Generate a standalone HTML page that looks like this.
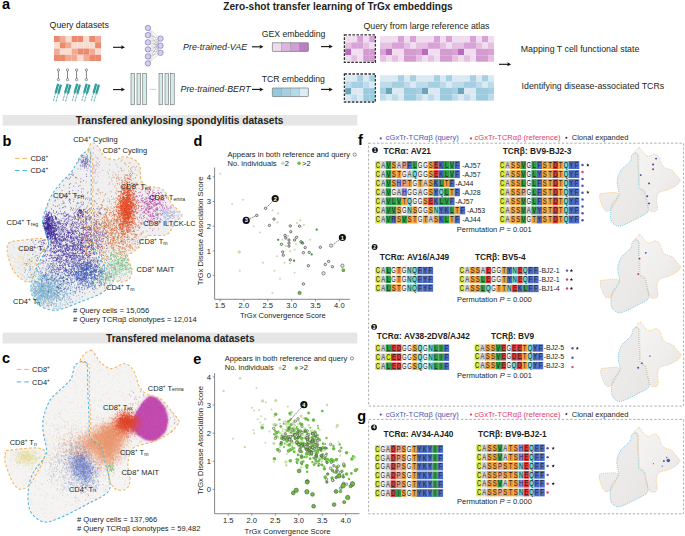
<!DOCTYPE html><html><head><meta charset="utf-8"><style>html,body{margin:0;padding:0;background:#fff;}svg{display:block;}text{font-family:"Liberation Sans", sans-serif;}</style></head><body><svg width="685" height="536" viewBox="0 0 685 536" font-family='"Liberation Sans", sans-serif'><defs><filter id="sh" x="-20%" y="-50%" width="140%" height="200%"><feGaussianBlur stdDeviation="0.6"/></filter><filter id="bl1" x="-50%" y="-50%" width="200%" height="200%"><feGaussianBlur stdDeviation="1.2"/></filter><filter id="bl2" x="-50%" y="-50%" width="200%" height="200%"><feGaussianBlur stdDeviation="2.5"/></filter><filter id="bl4" x="-50%" y="-50%" width="200%" height="200%"><feGaussianBlur stdDeviation="4"/></filter><linearGradient id="mg" x1="0" y1="0" x2="1" y2="1"><stop offset="0" stop-color="#f5f5f4"/><stop offset="0.55" stop-color="#efeeed"/><stop offset="1" stop-color="#e6e4e2"/></linearGradient></defs><text x="2.0" y="8.6" font-size="14.5" font-weight="bold" fill="#000">a</text><text x="223.3" y="9.7" font-size="10.1" font-weight="bold" fill="#231f20">Zero-shot transfer learning of TrGx embeddings</text><text x="49.6" y="27.6" font-size="8.75" fill="#231f20">Query datasets</text><rect x="54.00" y="36.00" width="5.92" height="6.30" fill="#ec8a70"/><rect x="59.88" y="36.00" width="5.92" height="6.30" fill="#f1ab94"/><rect x="65.75" y="36.00" width="5.92" height="6.30" fill="#f7dccf"/><rect x="71.62" y="36.00" width="5.92" height="6.30" fill="#ec8a70"/><rect x="77.50" y="36.00" width="5.92" height="6.30" fill="#ec8a70"/><rect x="83.38" y="36.00" width="5.92" height="6.30" fill="#f7dccf"/><rect x="89.25" y="36.00" width="5.92" height="6.30" fill="#ec8a70"/><rect x="95.12" y="36.00" width="5.92" height="6.30" fill="#f1ab94"/><rect x="54.00" y="42.25" width="5.92" height="6.30" fill="#f7dccf"/><rect x="59.88" y="42.25" width="5.92" height="6.30" fill="#ec8a70"/><rect x="65.75" y="42.25" width="5.92" height="6.30" fill="#f1ab94"/><rect x="71.62" y="42.25" width="5.92" height="6.30" fill="#f7dccf"/><rect x="77.50" y="42.25" width="5.92" height="6.30" fill="#f7dccf"/><rect x="83.38" y="42.25" width="5.92" height="6.30" fill="#f7dccf"/><rect x="89.25" y="42.25" width="5.92" height="6.30" fill="#f7dccf"/><rect x="95.12" y="42.25" width="5.92" height="6.30" fill="#ec8a70"/><rect x="54.00" y="48.50" width="5.92" height="6.30" fill="#f1ab94"/><rect x="59.88" y="48.50" width="5.92" height="6.30" fill="#f7dccf"/><rect x="65.75" y="48.50" width="5.92" height="6.30" fill="#f7dccf"/><rect x="71.62" y="48.50" width="5.92" height="6.30" fill="#f1ab94"/><rect x="77.50" y="48.50" width="5.92" height="6.30" fill="#ec8a70"/><rect x="83.38" y="48.50" width="5.92" height="6.30" fill="#ec8a70"/><rect x="89.25" y="48.50" width="5.92" height="6.30" fill="#f1ab94"/><rect x="95.12" y="48.50" width="5.92" height="6.30" fill="#f7dccf"/><rect x="54.00" y="54.75" width="5.92" height="6.30" fill="#ec8a70"/><rect x="59.88" y="54.75" width="5.92" height="6.30" fill="#ec8a70"/><rect x="65.75" y="54.75" width="5.92" height="6.30" fill="#f1ab94"/><rect x="71.62" y="54.75" width="5.92" height="6.30" fill="#f1ab94"/><rect x="77.50" y="54.75" width="5.92" height="6.30" fill="#f7dccf"/><rect x="83.38" y="54.75" width="5.92" height="6.30" fill="#f1ab94"/><rect x="89.25" y="54.75" width="5.92" height="6.30" fill="#ec8a70"/><rect x="95.12" y="54.75" width="5.92" height="6.30" fill="#ec8a70"/><line x1="58.4" y1="70.5" x2="58.4" y2="79" stroke="#333" stroke-width="0.6"/><circle cx="58.4" cy="70" r="1.15" fill="#fff" stroke="#333" stroke-width="0.5"/><circle cx="58.4" cy="79.6" r="1.15" fill="#fff" stroke="#333" stroke-width="0.5"/><line x1="67.5" y1="70.5" x2="67.5" y2="79" stroke="#333" stroke-width="0.6"/><circle cx="67.5" cy="70" r="1.15" fill="#fff" stroke="#333" stroke-width="0.5"/><circle cx="67.5" cy="79.6" r="1.15" fill="#fff" stroke="#333" stroke-width="0.5"/><line x1="76.6" y1="70.5" x2="76.6" y2="79" stroke="#333" stroke-width="0.6"/><circle cx="76.6" cy="70" r="1.15" fill="#fff" stroke="#333" stroke-width="0.5"/><circle cx="76.6" cy="79.6" r="1.15" fill="#fff" stroke="#333" stroke-width="0.5"/><line x1="86.4" y1="70.5" x2="86.4" y2="79" stroke="#333" stroke-width="0.6"/><circle cx="86.4" cy="70" r="1.15" fill="#fff" stroke="#333" stroke-width="0.5"/><circle cx="86.4" cy="79.6" r="1.15" fill="#fff" stroke="#333" stroke-width="0.5"/><g transform="translate(59.6,84.2) rotate(16)"><rect x="-2.6" y="0" width="2.3" height="9.4" fill="#2f9e9c"/><rect x="0.2" y="0" width="2.3" height="9.4" fill="#2f9e9c"/><path d="M-1.45 9.2v8.4M1.35 9.2v8.4" stroke="#3a9a98" stroke-width="0.75" stroke-dasharray="2.2 0.9"/></g><g transform="translate(69.1,84.2) rotate(16)"><rect x="-2.6" y="0" width="2.3" height="9.4" fill="#2f9e9c"/><rect x="0.2" y="0" width="2.3" height="9.4" fill="#2f9e9c"/><path d="M-1.45 9.2v8.4M1.35 9.2v8.4" stroke="#3a9a98" stroke-width="0.75" stroke-dasharray="2.2 0.9"/></g><g transform="translate(78.6,84.2) rotate(16)"><rect x="-2.6" y="0" width="2.3" height="9.4" fill="#2f9e9c"/><rect x="0.2" y="0" width="2.3" height="9.4" fill="#2f9e9c"/><path d="M-1.45 9.2v8.4M1.35 9.2v8.4" stroke="#3a9a98" stroke-width="0.75" stroke-dasharray="2.2 0.9"/></g><g transform="translate(88.1,84.2) rotate(16)"><rect x="-2.6" y="0" width="2.3" height="9.4" fill="#2f9e9c"/><rect x="0.2" y="0" width="2.3" height="9.4" fill="#2f9e9c"/><path d="M-1.45 9.2v8.4M1.35 9.2v8.4" stroke="#3a9a98" stroke-width="0.75" stroke-dasharray="2.2 0.9"/></g><g transform="translate(97.6,84.2) rotate(16)"><rect x="-2.6" y="0" width="2.3" height="9.4" fill="#2f9e9c"/><rect x="0.2" y="0" width="2.3" height="9.4" fill="#2f9e9c"/><path d="M-1.45 9.2v8.4M1.35 9.2v8.4" stroke="#3a9a98" stroke-width="0.75" stroke-dasharray="2.2 0.9"/></g><line x1="113" y1="47.3" x2="122" y2="47.3" stroke="#111" stroke-width="1.1"/><path d="M125 47.3L121 45.3L121.8 47.3L121 49.3Z" fill="#111"/><line x1="113" y1="89.6" x2="122" y2="89.6" stroke="#111" stroke-width="1.1"/><path d="M125 89.6L121 87.6L121.8 89.6L121 91.6Z" fill="#111"/><line x1="147.9" y1="27.9" x2="160.5" y2="38.6" stroke="#666" stroke-width="0.25"/><line x1="147.9" y1="27.9" x2="160.5" y2="45.7" stroke="#666" stroke-width="0.25"/><line x1="147.9" y1="27.9" x2="160.5" y2="52.8" stroke="#666" stroke-width="0.25"/><line x1="147.9" y1="35.1" x2="160.5" y2="38.6" stroke="#666" stroke-width="0.25"/><line x1="147.9" y1="35.1" x2="160.5" y2="45.7" stroke="#666" stroke-width="0.25"/><line x1="147.9" y1="35.1" x2="160.5" y2="52.8" stroke="#666" stroke-width="0.25"/><line x1="147.9" y1="42.3" x2="160.5" y2="38.6" stroke="#666" stroke-width="0.25"/><line x1="147.9" y1="42.3" x2="160.5" y2="45.7" stroke="#666" stroke-width="0.25"/><line x1="147.9" y1="42.3" x2="160.5" y2="52.8" stroke="#666" stroke-width="0.25"/><line x1="147.9" y1="49.4" x2="160.5" y2="38.6" stroke="#666" stroke-width="0.25"/><line x1="147.9" y1="49.4" x2="160.5" y2="45.7" stroke="#666" stroke-width="0.25"/><line x1="147.9" y1="49.4" x2="160.5" y2="52.8" stroke="#666" stroke-width="0.25"/><line x1="147.9" y1="56.4" x2="160.5" y2="38.6" stroke="#666" stroke-width="0.25"/><line x1="147.9" y1="56.4" x2="160.5" y2="45.7" stroke="#666" stroke-width="0.25"/><line x1="147.9" y1="56.4" x2="160.5" y2="52.8" stroke="#666" stroke-width="0.25"/><line x1="147.9" y1="63.4" x2="160.5" y2="38.6" stroke="#666" stroke-width="0.25"/><line x1="147.9" y1="63.4" x2="160.5" y2="45.7" stroke="#666" stroke-width="0.25"/><line x1="147.9" y1="63.4" x2="160.5" y2="52.8" stroke="#666" stroke-width="0.25"/><circle cx="147.9" cy="27.9" r="2.7" fill="#d6cfee" stroke="#7464b0" stroke-width="0.6"/><circle cx="147.9" cy="35.1" r="2.7" fill="#d6cfee" stroke="#7464b0" stroke-width="0.6"/><circle cx="147.9" cy="42.3" r="2.7" fill="#d6cfee" stroke="#7464b0" stroke-width="0.6"/><circle cx="147.9" cy="49.4" r="2.7" fill="#d6cfee" stroke="#7464b0" stroke-width="0.6"/><circle cx="147.9" cy="56.4" r="2.7" fill="#d6cfee" stroke="#7464b0" stroke-width="0.6"/><circle cx="147.9" cy="63.4" r="2.7" fill="#d6cfee" stroke="#7464b0" stroke-width="0.6"/><circle cx="160.5" cy="38.6" r="2.7" fill="#d6cfee" stroke="#7464b0" stroke-width="0.6"/><circle cx="160.5" cy="45.7" r="2.7" fill="#d6cfee" stroke="#7464b0" stroke-width="0.6"/><circle cx="160.5" cy="52.8" r="2.7" fill="#d6cfee" stroke="#7464b0" stroke-width="0.6"/><rect x="131" y="73.4" width="3.6" height="31.4" fill="#d3ecea" stroke="#555" stroke-width="0.5"/><rect x="137" y="73.4" width="3.6" height="31.4" fill="#d3ecea" stroke="#555" stroke-width="0.5"/><rect x="142.8" y="73.4" width="3.6" height="31.4" fill="#d3ecea" stroke="#555" stroke-width="0.5"/><rect x="159" y="73.4" width="3.6" height="31.4" fill="#d3ecea" stroke="#555" stroke-width="0.5"/><rect x="165" y="73.4" width="3.6" height="31.4" fill="#d3ecea" stroke="#555" stroke-width="0.5"/><rect x="170.6" y="73.4" width="3.6" height="31.4" fill="#d3ecea" stroke="#555" stroke-width="0.5"/><path d="M150.3 89.4h1M152.4 89.4h1M154.5 89.4h1" stroke="#555" stroke-width="0.6"/><text x="183" y="50.2" font-size="8.9" font-style="italic" fill="#231f20">Pre-trained-VAE</text><text x="180.5" y="91.9" font-size="8.85" font-style="italic" fill="#231f20">Pre-trained-BERT</text><line x1="252" y1="46.8" x2="260.5" y2="46.8" stroke="#111" stroke-width="1.1"/><path d="M263.5 46.8L259.5 44.8L260.3 46.8L259.5 48.8Z" fill="#111"/><line x1="252" y1="89.4" x2="260.5" y2="89.4" stroke="#111" stroke-width="1.1"/><path d="M263.5 89.4L259.5 87.4L260.3 89.4L259.5 91.4Z" fill="#111"/><text x="261.7" y="37.2" font-size="8.7" fill="#231f20">GEX embedding</text><text x="261.7" y="81.7" font-size="8.7" fill="#231f20">TCR embedding</text><rect x="272.6" y="43.199999999999996" width="36" height="8.6" rx="1.6" fill="#888" opacity="0.5" filter="url(#sh)"/><rect x="272.3" y="42.8" width="9" height="8.6" fill="#ecdcef" stroke="#9a9a9a" stroke-width="0.35"/><rect x="281.3" y="42.8" width="9" height="8.6" fill="#dcb6df" stroke="#9a9a9a" stroke-width="0.35"/><rect x="290.3" y="42.8" width="9" height="8.6" fill="#cfa0d6" stroke="#9a9a9a" stroke-width="0.35"/><rect x="299.3" y="42.8" width="9" height="8.6" fill="#c07bc6" stroke="#9a9a9a" stroke-width="0.35"/><rect x="272.3" y="42.8" width="36" height="8.6" rx="1.2" fill="none" stroke="#777" stroke-width="0.5"/><rect x="272.6" y="88.4" width="36" height="8.6" rx="1.6" fill="#888" opacity="0.5" filter="url(#sh)"/><rect x="272.3" y="88.0" width="9" height="8.6" fill="#93c9dd" stroke="#9a9a9a" stroke-width="0.35"/><rect x="281.3" y="88.0" width="9" height="8.6" fill="#a3d1e2" stroke="#9a9a9a" stroke-width="0.35"/><rect x="290.3" y="88.0" width="9" height="8.6" fill="#b4d9e8" stroke="#9a9a9a" stroke-width="0.35"/><rect x="299.3" y="88.0" width="9" height="8.6" fill="#dbedf5" stroke="#9a9a9a" stroke-width="0.35"/><rect x="272.3" y="88.0" width="36" height="8.6" rx="1.2" fill="none" stroke="#777" stroke-width="0.5"/><line x1="321" y1="46.6" x2="329.8" y2="46.6" stroke="#111" stroke-width="1.1"/><path d="M332.8 46.6L328.8 44.6L329.6 46.6L328.8 48.6Z" fill="#111"/><line x1="321" y1="89.4" x2="329.8" y2="89.4" stroke="#111" stroke-width="1.1"/><path d="M332.8 89.4L328.8 87.4L329.6 89.4L328.8 91.4Z" fill="#111"/><text x="363.5" y="28.5" font-size="8.75" fill="#231f20">Query from large reference atlas</text><rect x="380.00" y="36.00" width="6.05" height="6.47" fill="#f1ddf0"/><rect x="386.00" y="36.00" width="6.05" height="6.47" fill="#f1ddf0"/><rect x="392.00" y="36.00" width="6.05" height="6.47" fill="#f1ddf0"/><rect x="398.00" y="36.00" width="6.05" height="6.47" fill="#d8a2d6"/><rect x="404.00" y="36.00" width="6.05" height="6.47" fill="#f1ddf0"/><rect x="410.00" y="36.00" width="6.05" height="6.47" fill="#d8a2d6"/><rect x="416.00" y="36.00" width="6.05" height="6.47" fill="#f1ddf0"/><rect x="422.00" y="36.00" width="6.05" height="6.47" fill="#f1ddf0"/><rect x="428.00" y="36.00" width="6.05" height="6.47" fill="#f1ddf0"/><rect x="434.00" y="36.00" width="6.05" height="6.47" fill="#d8a2d6"/><rect x="440.00" y="36.00" width="6.05" height="6.47" fill="#f1ddf0"/><rect x="446.00" y="36.00" width="6.05" height="6.47" fill="#d8a2d6"/><rect x="452.00" y="36.00" width="6.05" height="6.47" fill="#f1ddf0"/><rect x="458.00" y="36.00" width="6.05" height="6.47" fill="#f1ddf0"/><rect x="464.00" y="36.00" width="6.05" height="6.47" fill="#f1ddf0"/><rect x="470.00" y="36.00" width="6.05" height="6.47" fill="#d8a2d6"/><rect x="476.00" y="36.00" width="6.05" height="6.47" fill="#f1ddf0"/><rect x="482.00" y="36.00" width="6.05" height="6.47" fill="#d8a2d6"/><rect x="488.00" y="36.00" width="6.05" height="6.47" fill="#f1ddf0"/><rect x="380.00" y="42.42" width="6.05" height="6.47" fill="#e6c0e2"/><rect x="386.00" y="42.42" width="6.05" height="6.47" fill="#e6c0e2"/><rect x="392.00" y="42.42" width="6.05" height="6.47" fill="#d8a2d6"/><rect x="398.00" y="42.42" width="6.05" height="6.47" fill="#d8a2d6"/><rect x="404.00" y="42.42" width="6.05" height="6.47" fill="#e6c0e2"/><rect x="410.00" y="42.42" width="6.05" height="6.47" fill="#f1ddf0"/><rect x="416.00" y="42.42" width="6.05" height="6.47" fill="#e6c0e2"/><rect x="422.00" y="42.42" width="6.05" height="6.47" fill="#e6c0e2"/><rect x="428.00" y="42.42" width="6.05" height="6.47" fill="#d8a2d6"/><rect x="434.00" y="42.42" width="6.05" height="6.47" fill="#d8a2d6"/><rect x="440.00" y="42.42" width="6.05" height="6.47" fill="#e6c0e2"/><rect x="446.00" y="42.42" width="6.05" height="6.47" fill="#f1ddf0"/><rect x="452.00" y="42.42" width="6.05" height="6.47" fill="#e6c0e2"/><rect x="458.00" y="42.42" width="6.05" height="6.47" fill="#e6c0e2"/><rect x="464.00" y="42.42" width="6.05" height="6.47" fill="#d8a2d6"/><rect x="470.00" y="42.42" width="6.05" height="6.47" fill="#d8a2d6"/><rect x="476.00" y="42.42" width="6.05" height="6.47" fill="#e6c0e2"/><rect x="482.00" y="42.42" width="6.05" height="6.47" fill="#f1ddf0"/><rect x="488.00" y="42.42" width="6.05" height="6.47" fill="#e6c0e2"/><rect x="380.00" y="48.84" width="6.05" height="6.47" fill="#d8a2d6"/><rect x="386.00" y="48.84" width="6.05" height="6.47" fill="#b86cba"/><rect x="392.00" y="48.84" width="6.05" height="6.47" fill="#f1ddf0"/><rect x="398.00" y="48.84" width="6.05" height="6.47" fill="#f1ddf0"/><rect x="404.00" y="48.84" width="6.05" height="6.47" fill="#d49bd0"/><rect x="410.00" y="48.84" width="6.05" height="6.47" fill="#d49bd0"/><rect x="416.00" y="48.84" width="6.05" height="6.47" fill="#d8a2d6"/><rect x="422.00" y="48.84" width="6.05" height="6.47" fill="#b86cba"/><rect x="428.00" y="48.84" width="6.05" height="6.47" fill="#f1ddf0"/><rect x="434.00" y="48.84" width="6.05" height="6.47" fill="#f1ddf0"/><rect x="440.00" y="48.84" width="6.05" height="6.47" fill="#d49bd0"/><rect x="446.00" y="48.84" width="6.05" height="6.47" fill="#d49bd0"/><rect x="452.00" y="48.84" width="6.05" height="6.47" fill="#d8a2d6"/><rect x="458.00" y="48.84" width="6.05" height="6.47" fill="#b86cba"/><rect x="464.00" y="48.84" width="6.05" height="6.47" fill="#f1ddf0"/><rect x="470.00" y="48.84" width="6.05" height="6.47" fill="#f1ddf0"/><rect x="476.00" y="48.84" width="6.05" height="6.47" fill="#d49bd0"/><rect x="482.00" y="48.84" width="6.05" height="6.47" fill="#d49bd0"/><rect x="488.00" y="48.84" width="6.05" height="6.47" fill="#d8a2d6"/><rect x="380.00" y="55.26" width="6.05" height="6.47" fill="#e6c0e2"/><rect x="386.00" y="55.26" width="6.05" height="6.47" fill="#f1ddf0"/><rect x="392.00" y="55.26" width="6.05" height="6.47" fill="#e6c0e2"/><rect x="398.00" y="55.26" width="6.05" height="6.47" fill="#f1ddf0"/><rect x="404.00" y="55.26" width="6.05" height="6.47" fill="#d49bd0"/><rect x="410.00" y="55.26" width="6.05" height="6.47" fill="#d49bd0"/><rect x="416.00" y="55.26" width="6.05" height="6.47" fill="#e6c0e2"/><rect x="422.00" y="55.26" width="6.05" height="6.47" fill="#f1ddf0"/><rect x="428.00" y="55.26" width="6.05" height="6.47" fill="#e6c0e2"/><rect x="434.00" y="55.26" width="6.05" height="6.47" fill="#f1ddf0"/><rect x="440.00" y="55.26" width="6.05" height="6.47" fill="#d49bd0"/><rect x="446.00" y="55.26" width="6.05" height="6.47" fill="#d49bd0"/><rect x="452.00" y="55.26" width="6.05" height="6.47" fill="#e6c0e2"/><rect x="458.00" y="55.26" width="6.05" height="6.47" fill="#f1ddf0"/><rect x="464.00" y="55.26" width="6.05" height="6.47" fill="#e6c0e2"/><rect x="470.00" y="55.26" width="6.05" height="6.47" fill="#f1ddf0"/><rect x="476.00" y="55.26" width="6.05" height="6.47" fill="#d49bd0"/><rect x="482.00" y="55.26" width="6.05" height="6.47" fill="#d49bd0"/><rect x="488.00" y="55.26" width="6.05" height="6.47" fill="#e6c0e2"/><rect x="380.00" y="75.20" width="6.05" height="6.40" fill="#dbe9f2"/><rect x="386.00" y="75.20" width="6.05" height="6.40" fill="#dbe9f2"/><rect x="392.00" y="75.20" width="6.05" height="6.40" fill="#dbe9f2"/><rect x="398.00" y="75.20" width="6.05" height="6.40" fill="#a6d0e2"/><rect x="404.00" y="75.20" width="6.05" height="6.40" fill="#dbe9f2"/><rect x="410.00" y="75.20" width="6.05" height="6.40" fill="#a6d0e2"/><rect x="416.00" y="75.20" width="6.05" height="6.40" fill="#dbe9f2"/><rect x="422.00" y="75.20" width="6.05" height="6.40" fill="#dbe9f2"/><rect x="428.00" y="75.20" width="6.05" height="6.40" fill="#dbe9f2"/><rect x="434.00" y="75.20" width="6.05" height="6.40" fill="#a6d0e2"/><rect x="440.00" y="75.20" width="6.05" height="6.40" fill="#dbe9f2"/><rect x="446.00" y="75.20" width="6.05" height="6.40" fill="#a6d0e2"/><rect x="452.00" y="75.20" width="6.05" height="6.40" fill="#dbe9f2"/><rect x="458.00" y="75.20" width="6.05" height="6.40" fill="#dbe9f2"/><rect x="464.00" y="75.20" width="6.05" height="6.40" fill="#dbe9f2"/><rect x="470.00" y="75.20" width="6.05" height="6.40" fill="#a6d0e2"/><rect x="476.00" y="75.20" width="6.05" height="6.40" fill="#dbe9f2"/><rect x="482.00" y="75.20" width="6.05" height="6.40" fill="#a6d0e2"/><rect x="488.00" y="75.20" width="6.05" height="6.40" fill="#dbe9f2"/><rect x="380.00" y="81.55" width="6.05" height="6.40" fill="#bddbea"/><rect x="386.00" y="81.55" width="6.05" height="6.40" fill="#bddbea"/><rect x="392.00" y="81.55" width="6.05" height="6.40" fill="#a6d0e2"/><rect x="398.00" y="81.55" width="6.05" height="6.40" fill="#a6d0e2"/><rect x="404.00" y="81.55" width="6.05" height="6.40" fill="#bddbea"/><rect x="410.00" y="81.55" width="6.05" height="6.40" fill="#dbe9f2"/><rect x="416.00" y="81.55" width="6.05" height="6.40" fill="#bddbea"/><rect x="422.00" y="81.55" width="6.05" height="6.40" fill="#bddbea"/><rect x="428.00" y="81.55" width="6.05" height="6.40" fill="#a6d0e2"/><rect x="434.00" y="81.55" width="6.05" height="6.40" fill="#a6d0e2"/><rect x="440.00" y="81.55" width="6.05" height="6.40" fill="#bddbea"/><rect x="446.00" y="81.55" width="6.05" height="6.40" fill="#dbe9f2"/><rect x="452.00" y="81.55" width="6.05" height="6.40" fill="#bddbea"/><rect x="458.00" y="81.55" width="6.05" height="6.40" fill="#bddbea"/><rect x="464.00" y="81.55" width="6.05" height="6.40" fill="#a6d0e2"/><rect x="470.00" y="81.55" width="6.05" height="6.40" fill="#a6d0e2"/><rect x="476.00" y="81.55" width="6.05" height="6.40" fill="#bddbea"/><rect x="482.00" y="81.55" width="6.05" height="6.40" fill="#dbe9f2"/><rect x="488.00" y="81.55" width="6.05" height="6.40" fill="#bddbea"/><rect x="380.00" y="87.90" width="6.05" height="6.40" fill="#a6d0e2"/><rect x="386.00" y="87.90" width="6.05" height="6.40" fill="#6aa5b9"/><rect x="392.00" y="87.90" width="6.05" height="6.40" fill="#dbe9f2"/><rect x="398.00" y="87.90" width="6.05" height="6.40" fill="#dbe9f2"/><rect x="404.00" y="87.90" width="6.05" height="6.40" fill="#9ccbe0"/><rect x="410.00" y="87.90" width="6.05" height="6.40" fill="#9ccbe0"/><rect x="416.00" y="87.90" width="6.05" height="6.40" fill="#a6d0e2"/><rect x="422.00" y="87.90" width="6.05" height="6.40" fill="#6aa5b9"/><rect x="428.00" y="87.90" width="6.05" height="6.40" fill="#dbe9f2"/><rect x="434.00" y="87.90" width="6.05" height="6.40" fill="#dbe9f2"/><rect x="440.00" y="87.90" width="6.05" height="6.40" fill="#9ccbe0"/><rect x="446.00" y="87.90" width="6.05" height="6.40" fill="#9ccbe0"/><rect x="452.00" y="87.90" width="6.05" height="6.40" fill="#a6d0e2"/><rect x="458.00" y="87.90" width="6.05" height="6.40" fill="#6aa5b9"/><rect x="464.00" y="87.90" width="6.05" height="6.40" fill="#dbe9f2"/><rect x="470.00" y="87.90" width="6.05" height="6.40" fill="#dbe9f2"/><rect x="476.00" y="87.90" width="6.05" height="6.40" fill="#9ccbe0"/><rect x="482.00" y="87.90" width="6.05" height="6.40" fill="#9ccbe0"/><rect x="488.00" y="87.90" width="6.05" height="6.40" fill="#a6d0e2"/><rect x="380.00" y="94.25" width="6.05" height="6.40" fill="#bddbea"/><rect x="386.00" y="94.25" width="6.05" height="6.40" fill="#dbe9f2"/><rect x="392.00" y="94.25" width="6.05" height="6.40" fill="#bddbea"/><rect x="398.00" y="94.25" width="6.05" height="6.40" fill="#dbe9f2"/><rect x="404.00" y="94.25" width="6.05" height="6.40" fill="#9ccbe0"/><rect x="410.00" y="94.25" width="6.05" height="6.40" fill="#9ccbe0"/><rect x="416.00" y="94.25" width="6.05" height="6.40" fill="#bddbea"/><rect x="422.00" y="94.25" width="6.05" height="6.40" fill="#dbe9f2"/><rect x="428.00" y="94.25" width="6.05" height="6.40" fill="#bddbea"/><rect x="434.00" y="94.25" width="6.05" height="6.40" fill="#dbe9f2"/><rect x="440.00" y="94.25" width="6.05" height="6.40" fill="#9ccbe0"/><rect x="446.00" y="94.25" width="6.05" height="6.40" fill="#9ccbe0"/><rect x="452.00" y="94.25" width="6.05" height="6.40" fill="#bddbea"/><rect x="458.00" y="94.25" width="6.05" height="6.40" fill="#dbe9f2"/><rect x="464.00" y="94.25" width="6.05" height="6.40" fill="#bddbea"/><rect x="470.00" y="94.25" width="6.05" height="6.40" fill="#dbe9f2"/><rect x="476.00" y="94.25" width="6.05" height="6.40" fill="#9ccbe0"/><rect x="482.00" y="94.25" width="6.05" height="6.40" fill="#9ccbe0"/><rect x="488.00" y="94.25" width="6.05" height="6.40" fill="#bddbea"/><rect x="345.20" y="36.00" width="6.05" height="6.45" fill="#f1ddf0"/><rect x="351.20" y="36.00" width="6.05" height="6.45" fill="#f1ddf0"/><rect x="357.20" y="36.00" width="6.05" height="6.45" fill="#d8a2d6"/><rect x="363.20" y="36.00" width="6.05" height="6.45" fill="#f1ddf0"/><rect x="369.20" y="36.00" width="6.05" height="6.45" fill="#d8a2d6"/><rect x="345.20" y="42.40" width="6.05" height="6.45" fill="#e6c0e2"/><rect x="351.20" y="42.40" width="6.05" height="6.45" fill="#d8a2d6"/><rect x="357.20" y="42.40" width="6.05" height="6.45" fill="#d8a2d6"/><rect x="363.20" y="42.40" width="6.05" height="6.45" fill="#e6c0e2"/><rect x="369.20" y="42.40" width="6.05" height="6.45" fill="#f1ddf0"/><rect x="345.20" y="48.80" width="6.05" height="6.45" fill="#b86cba"/><rect x="351.20" y="48.80" width="6.05" height="6.45" fill="#f1ddf0"/><rect x="357.20" y="48.80" width="6.05" height="6.45" fill="#f1ddf0"/><rect x="363.20" y="48.80" width="6.05" height="6.45" fill="#d49bd0"/><rect x="369.20" y="48.80" width="6.05" height="6.45" fill="#d49bd0"/><rect x="345.20" y="55.20" width="6.05" height="6.45" fill="#f1ddf0"/><rect x="351.20" y="55.20" width="6.05" height="6.45" fill="#e6c0e2"/><rect x="357.20" y="55.20" width="6.05" height="6.45" fill="#f1ddf0"/><rect x="363.20" y="55.20" width="6.05" height="6.45" fill="#d49bd0"/><rect x="369.20" y="55.20" width="6.05" height="6.45" fill="#d49bd0"/><rect x="345.20" y="75.20" width="6.05" height="6.50" fill="#dbe9f2"/><rect x="351.20" y="75.20" width="6.05" height="6.50" fill="#dbe9f2"/><rect x="357.20" y="75.20" width="6.05" height="6.50" fill="#a6d0e2"/><rect x="363.20" y="75.20" width="6.05" height="6.50" fill="#dbe9f2"/><rect x="369.20" y="75.20" width="6.05" height="6.50" fill="#a6d0e2"/><rect x="345.20" y="81.65" width="6.05" height="6.50" fill="#bddbea"/><rect x="351.20" y="81.65" width="6.05" height="6.50" fill="#a6d0e2"/><rect x="357.20" y="81.65" width="6.05" height="6.50" fill="#a6d0e2"/><rect x="363.20" y="81.65" width="6.05" height="6.50" fill="#bddbea"/><rect x="369.20" y="81.65" width="6.05" height="6.50" fill="#dbe9f2"/><rect x="345.20" y="88.10" width="6.05" height="6.50" fill="#6aa5b9"/><rect x="351.20" y="88.10" width="6.05" height="6.50" fill="#dbe9f2"/><rect x="357.20" y="88.10" width="6.05" height="6.50" fill="#dbe9f2"/><rect x="363.20" y="88.10" width="6.05" height="6.50" fill="#9ccbe0"/><rect x="369.20" y="88.10" width="6.05" height="6.50" fill="#9ccbe0"/><rect x="345.20" y="94.55" width="6.05" height="6.50" fill="#dbe9f2"/><rect x="351.20" y="94.55" width="6.05" height="6.50" fill="#bddbea"/><rect x="357.20" y="94.55" width="6.05" height="6.50" fill="#dbe9f2"/><rect x="363.20" y="94.55" width="6.05" height="6.50" fill="#9ccbe0"/><rect x="369.20" y="94.55" width="6.05" height="6.50" fill="#9ccbe0"/><rect x="344.4" y="34.9" width="31" height="27.5" fill="none" stroke="#333" stroke-width="1.3" stroke-dasharray="2.6 1.4"/><rect x="344.4" y="74" width="31" height="28" fill="none" stroke="#333" stroke-width="1.3" stroke-dasharray="2.6 1.4"/><line x1="499" y1="64.3" x2="508.2" y2="64.3" stroke="#111" stroke-width="1.1"/><path d="M511.2 64.3L507.2 62.3L508.0 64.3L507.2 66.3Z" fill="#111"/><text x="520.8" y="51.7" font-size="8.8" fill="#231f20">Mapping T cell functional state</text><text x="521.6" y="89.2" font-size="8.8" fill="#231f20">Identifying disease-associated TCRs</text><rect x="2.6" y="115" width="354.7" height="10.6" fill="#e6e6e6"/><text x="179.6" y="123.6" font-size="10.15" font-weight="bold" text-anchor="middle" fill="#231f20">Transfered ankylosing spondylitis datasets</text><rect x="2.6" y="332.6" width="354.7" height="10.9" fill="#e6e6e6"/><text x="180.3" y="341.5" font-size="10.15" font-weight="bold" text-anchor="middle" fill="#231f20">Transfered melanoma datasets</text><text x="2.6" y="146.0" font-size="14.5" font-weight="bold" fill="#000">b</text><text x="2.1" y="363.4" font-size="14.5" font-weight="bold" fill="#000">c</text><text x="193.6" y="146.0" font-size="14.5" font-weight="bold" fill="#000">d</text><text x="193.2" y="363.5" font-size="14.5" font-weight="bold" fill="#000">e</text><text x="357.9" y="145.0" font-size="14.5" font-weight="bold" fill="#000">f</text><text x="357.3" y="421.4" font-size="14.5" font-weight="bold" fill="#000">g</text><path d="M88.0 150.0C88.0 147.1 90.8 143.1 92.6 142.7C94.4 142.3 97.0 145.3 99.0 147.7C101.0 150.1 102.0 155.0 104.8 157.0C107.6 159.0 113.2 159.8 116.0 159.8C118.8 159.8 119.1 157.3 121.6 157.0C124.1 156.7 128.0 156.7 131.0 158.0C134.0 159.3 137.8 161.3 139.5 165.0C141.2 168.7 139.6 176.5 141.0 180.0C142.4 183.5 145.7 184.9 147.7 186.0C149.7 187.1 150.3 186.1 153.0 186.8C155.7 187.6 160.9 187.7 164.0 190.5C167.1 193.3 168.6 199.5 171.6 203.6C174.6 207.7 181.1 211.7 181.8 214.8C182.5 217.9 177.7 219.6 176.0 222.0C174.3 224.4 173.3 226.8 171.6 229.0C169.9 231.2 169.7 233.7 165.7 234.9C161.7 236.1 152.0 234.8 147.8 236.1C143.6 237.3 141.7 240.6 140.3 242.4C138.9 244.2 140.8 245.3 139.6 246.9C138.3 248.5 134.8 250.6 132.8 252.1C130.8 253.6 128.1 253.9 127.6 255.8C127.1 257.7 129.2 260.8 129.9 263.3C130.7 265.8 132.2 268.1 132.1 270.7C132.0 273.3 131.0 277.1 129.1 279.0C127.2 280.9 123.5 282.0 120.9 281.9C118.3 281.8 115.8 280.9 113.4 278.2C111.1 275.5 109.2 269.7 106.8 265.6C104.4 261.5 101.0 257.9 98.8 253.6C96.6 249.3 94.8 246.4 93.8 240.0C92.8 233.6 93.0 224.2 92.8 215.0C92.6 205.8 92.9 194.2 92.8 185.0C92.7 175.8 93.1 165.8 92.3 160.0C91.5 154.2 88.0 152.9 88.0 150.0Z" fill="#ececec" opacity="0.85"/><path d="M90.0 150.0C88.9 148.8 85.6 151.9 84.0 153.0C82.4 154.1 81.7 154.5 80.3 156.5C78.9 158.5 77.5 162.1 75.8 165.0C74.1 167.9 72.4 170.8 69.9 173.8C67.4 176.8 63.9 179.3 60.9 182.8C57.9 186.3 54.4 190.7 52.0 194.7C49.6 198.7 48.1 202.3 46.5 207.0C44.9 211.7 42.2 216.9 42.5 223.0C42.8 229.1 49.4 236.4 48.5 243.6C47.6 250.8 40.2 258.5 37.3 266.0C34.3 273.5 30.8 282.2 30.8 288.4C30.8 294.6 34.1 299.7 37.3 303.3C40.5 306.9 46.0 308.9 50.0 309.8C54.0 310.8 56.6 310.3 61.6 309.0C66.6 307.7 73.6 304.5 80.0 302.0C86.4 299.5 95.0 296.7 100.0 294.0C105.0 291.3 107.8 288.3 110.0 286.0C112.2 283.7 113.8 283.3 113.0 280.0C112.2 276.7 108.0 270.7 105.4 266.4C102.8 262.1 99.6 258.8 97.4 254.4C95.2 250.0 93.3 246.6 92.3 240.0C91.3 233.4 91.5 224.2 91.3 215.0C91.1 205.8 91.4 194.2 91.3 185.0C91.2 175.8 91.0 165.8 90.8 160.0C90.6 154.2 91.1 151.2 90.0 150.0Z" fill="#ececec" opacity="0.85"/><path d="M8.4 243.6C10.4 241.0 13.8 241.1 20.0 240.5C26.2 239.9 42.7 236.7 45.7 239.9C48.7 243.2 40.6 253.0 38.0 260.0C35.4 267.0 33.7 279.6 29.9 281.8C26.1 284.0 18.6 277.3 15.0 273.0C11.3 268.7 9.1 260.9 8.0 256.0C6.9 251.1 6.4 246.2 8.4 243.6Z" fill="#ececec" opacity="0.85"/><path d="M30.9 245.5h0m3.1-1.8h0m-1.4 4.7h0m-2.8-.3h0m-1.8 0h0m-10.2 .1h0m-3.5-.3h0m-1.1-1.9h0m8.6 3.9h0m3.2 1h0m.8-1.3h0m6.3 1.1h0m1.7-.8h0m1 1.9h0m.7 0h0m-.2 .7h0m-6-.2h0m-.7 2.6h0m-1.1-.8h0m-3.2-.6h0m-2.4-1.2h0m-1.2 1.8h0m-9.5 .8h0m-2.3 2h0m2 .5h0m2.2-.2h0m5.1-1.4h0m.6 .5h0m1.6 .4h0m1.6 .3h0m1.4 .5h0m.6 .1h0m.3-2.4h0m2.7 .6h0m2.3-.7h0m2.1 2.8h0m.9-.3h0m2.7 .3h0m.3-1.5h0m-.1 2.2h0m-2.9 1.6h0m-.4-1.6h0m-2.9 1.4h0m-.1-1.2h0m-.4 .7h0m-1.4 .1h0m-3.7-.1h0m-.8-.4h0m-1.5 .1h0m-2.6-.9h0m-3.2 .6h0m-.5 3h0m2.3 .1h0m2.2 0h0m3.3 1.1h0m1.2-.9h0m.2-.7h0m1.8-.5h0m.9 2.5h0m.5-.3h0m.2-2.1h0m.4 .4h0m0 .4h0m0 1.4h0m1.6-1.3h0m1.2-.9h0m1.7 .9h0m.4-.7h0m.1 2.1h0m2.3-.5h0m4-.3h0m2.9 .2h0m-5.8 2.2h0m-1.1-.4h0m-1.2 1.4h0m-1 .9h0m-1.2-2.7h0m-1.4 .3h0m-1.7-.1h0m-.1-.4h0m-1.2 1.2h0m-.7-.1h0m-.5-.5h0m-.2 1h0m-2.7-1.5h0m-.6 .9h0m-.6 .2h0m-2.5-.1h0m-4.8 1.5h0m-1.4 .2h0m3.9 1h0m1.6-.2h0m1 .5h0m1.6 1.7h0m2.3-1.6h0m.8-.6h0m.4-.2h0m.9 1.8h0m.4 .4h0m2.7 0h0m.8-2h0m3.3 4.3h0m-2 0h0m-.6 .8h0m-5.1-2.3h0m-.9 1.9h0m-5.6 .2h0m-3 .4h0m-1.8-2.6h0m6.4 3.4h0" stroke="#e6c979" stroke-width="0.8" stroke-linecap="round" fill="none"/><path d="M56.5 249.4h0m.2 8.3h0m-11.6-2.5h0m-9.4 .7h0m-1.4 .8h0m2.3 3.9h0m4.9-.4h0m20.1-1.3h0m13.5 4.2h0m-8.8-.9h0m-7.7 .2h0m-1.9-1h0m-4 2.2h0m-7.1-1.3h0m-.6 1h0m0-2.1h0m-1.3 .2h0m-.6 2.2h0m-.7-1.7h0m-7.1 1.2h0m-5.5 .1h0m-3 2.1h0m2.9 .6h0m13.6 0h0m4.5-.5h0m.3-.5h0m.2-.8h0m.7 2.7h0m.1-1.3h0m0 .6h0m1.6-.9h0m.4-1h0m1.1 .1h0m2.2 2.5h0m1.6-.3h0m.5-2.1h0m4.8 .9h0m1.1 1.5h0m1.7-1.3h0m4.8-.9h0m2.1 2h0m.6-.3h0m14.2 2.5h0m-1.5-1.2h0m-14.1 1.6h0m-4.2-1.2h0m-.3 1.6h0m-3.9-1.8h0m-.1 1.4h0m0-.4h0m-3.2-.8h0m-1 1.3h0m-1.8-2.1h0m-1.8 2.1h0m-.3-2.1h0m-.2 1h0m0-1.2h0m-.3 2.9h0m-4.7-1.2h0m-.1-1.4h0m-1.6 2.5h0m-2.9-.8h0m-1-1.2h0m-.5 0h0m-.6 1h0m-1.8 0h0m-.4-.5h0m-.4-.7h0m-2.3 1.7h0m-3.9-2.2h0m-.1 2.1h0m-2-.4h0m-.1 .8h0m-.5-1.2h0m-.1 .7h0m-5 .1h0m-.4 3.1h0m.9-1.5h0m3.2 1.4h0m.6-1.8h0m.8-.2h0m6.5 .1h0m1.7 2.3h0m.1-.9h0m1.3 .3h0m.4-1.1h0m.1 .7h0m.4-.4h0m.5-.4h0m.8 1.3h0m3.4-2.1h0m2.7 1.1h0m.5 .8h0m1.1-1.5h0m0 .7h0m.8 1.8h0m.5-1.4h0m.7-.3h0m3.1 .4h0m.2 .4h0m0 0h0m2.9-.2h0m1.1 .2h0m.1-.1h0m.1 .3h0m.2 .1h0m1.6 .1h0m.2-.2h0m.4 .6h0m2-1.9h0m1.4 1.5h0m.4-1.1h0m.1-.9h0m.5 .5h0m.7-.8h0m.2 2h0m.4-1.7h0m3.6 1.6h0m1.3 .2h0m11.7 2.4h0m-14.9-1h0m-.7 .8h0m-.2 1.4h0m-.2-.5h0m-2.2-.6h0m-1-1.3h0m-.1 1.5h0m-.1-1.2h0m-3.6 1h0m-.2 .4h0m-2.4 .5h0m-.8 .1h0m-.9-1.6h0m-.3-1h0m-.4 2.1h0m0-1.6h0m-1.4 1.8h0m-1.3-.3h0m-.3 .2h0m-.5-2h0m-.3 2.1h0m-.1-.3h0m-.1 .8h0m-.3-2.9h0m-1.6 1.9h0m-.9-1h0m-.3 1.9h0m-.3-2h0m-.3 1.4h0m-.1 .7h0m-1.3 0h0m0-2.5h0m-.5 1.4h0m-1.7 .6h0m-.4 0h0m-.9 0h0m-.2 .4h0m-.5-.3h0m-.5-.6h0m-.4-1.9h0m-.4 2.4h0m-.2 .4h0m-1-2.7h0m-.4 2.2h0m-1.3-1h0m-1.7-.1h0m-1 1.3h0m-3-1.2h0m-1.1 1.2h0m-.1-1.1h0m-.5-.1h0m-3.4 .1h0m-4.7 .7h0m1.3 2h0m3.8 .1h0m.7-.8h0m1.2 1.2h0m.8-.4h0m.3 .3h0m4.4-.9h0m2.4 2h0m.3-.6h0m.3-1.1h0m.6-.6h0m.9 2.3h0m.2 0h0m.8-1.9h0m.8 1h0m.1-1.7h0m.6 2.6h0m.1-2.1h0m0 1.2h0m.6-1h0m.1 1.8h0m.4-2.2h0m.2 .4h0m.3 .7h0m.2-.3h0m.3 0h0m0 1.2h0m.4 .2h0m.7-.6h0m.1 .8h0m.1-2.1h0m.3 0h0m.2 1.2h0m.1-1.5h0m.1 .5h0m0 2h0m.1-1.8h0m.1 1.8h0m1-1.2h0m0 .2h0m.2 .3h0m1.4 .4h0m.4-.2h0m.4 0h0m.3-1.7h0m0 1.9h0m.1 .3h0m.3-1h0m.3 .1h0m.5 .9h0m.6-.9h0m.3-.3h0m.7-1.5h0m0 2.4h0m1-.3h0m.5 0h0m.5-.8h0m.5-.5h0m1.3-.1h0m1.6 1.8h0m.2 .1h0m.7-.5h0m.2-.6h0m.2-1.5h0m0 1.5h0m.2-1.6h0m.5 2h0m.3 .1h0m.5 .6h0m.7-.6h0m.4 0h0m.3-.5h0m.5 0h0m.5 .8h0m0 .4h0m1.3-1h0m3.9 .6h0m3.4-2.4h0m.1 2.6h0m7.2-2.6h0m11 2.1h0m-14.7 2.7h0m-1.4-.4h0m-3.8-.9h0m-2.9 2.2h0m0-.9h0m-.8-1.8h0m-.8 2.9h0m-.2-2.3h0m-1.8 2.3h0m-.4-1.1h0m-1.6 .1h0m-.6 .8h0m-.1-.5h0m-2.6-.2h0m-.3-1.6h0m-.3 1.4h0m0-.5h0m-.6 1.1h0m0-.1h0m-.7-.6h0m-.3-1.2h0m-.1 .6h0m0-.9h0m-.5 1.8h0m0-.1h0m-.2-.8h0m-.1 1.2h0m-.1 .5h0m-.6-1.8h0m-.5 1.9h0m-.5 0h0m-.1-1.6h0m-.6-.5h0m-.1 1.8h0m-.9-1.6h0m-.4 .9h0m-.4-.2h0m-.3-.9h0m-.2 .2h0m-.2-.4h0m-.1 0h0m-.5-.4h0m-.1 .5h0m-.3-.1h0m-.3 2.2h0m-.3-2.2h0m-.9 0h0m-.2 .3h0m0-.6h0m-.2 2.1h0m-.4-.5h0m0-1.2h0m-.1-.3h0m-.8 .3h0m-.4 1.6h0m0-.9h0m0-.8h0m-.4 .9h0m-.8-1.3h0m-.4 .2h0m-.2 1h0m-.6 .6h0m-1-2h0m-.9 1.9h0m0-.3h0m-.1 .6h0m-.4 .2h0m0-.9h0m-.1-.3h0m0-.6h0m-.1-.5h0m-.1 1.1h0m-.9-.2h0m-.2-.5h0m-.8 .2h0m-.8 1.4h0m-.1-1.7h0m-.1-.1h0m-1.2 2.2h0m-.4 .2h0m-.3-.2h0m-.6 .3h0m-.4-.3h0m-.1-.5h0m-.4 .2h0m-.2-.1h0m-.5-1.2h0m-7.8-.7h0m6.4 4.8h0m.5 .8h0m0 .1h0m.7-2.6h0m.5-.3h0m0 .1h0m.2 2.4h0m.3-1.5h0m0 .2h0m1.3-.3h0m1.2 .7h0m.3-.6h0m.2-.9h0m.8 .5h0m.2 .7h0m1 .4h0m.6 1h0m.3-.8h0m.1 .1h0m0 .4h0m.2-1.5h0m.2-.9h0m.1 2.2h0m.2 .5h0m.2-2h0m0 1.3h0m.1 .6h0m.8-.7h0m.5-.3h0m.6 1.1h0m.3-1.2h0m.3-.9h0m.2 .7h0m.7 1.5h0m.4-1.4h0m1.6-1h0m.1 .3h0m.2 0h0m.4 1.2h0m.2-.9h0m.6 1.7h0m1.1 .1h0m.1-1.5h0m0 .2h0m.4-1.1h0m.1 1.9h0m.1-.7h0m.2 .5h0m.1-.1h0m.1 .1h0m.1-1.6h0m.5-.4h0m.1 .2h0m.3 .8h0m.6 1.7h0m.4-1.1h0m1.1-1.2h0m.2 2.1h0m.1-1.1h0m0 0h0m.1-.2h0m.2-1.1h0m0 .3h0m.1 .8h0m.5-1h0m0 2.2h0m1.8-1.3h0m.4-.3h0m0 1.8h0m.1-2.6h0m.6 1.9h0m.1-.9h0m.9 1.3h0m.4 .1h0m.2-1.4h0m2-.1h0m.8 1.3h0m.1-2h0m.3 2.3h0m.1-1.4h0m.5-1.1h0m0 2.2h0m.2-.8h0m1.8-.6h0m.9 .2h0m0 .6h0m.3 1.1h0m.4-.6h0m.4 .3h0m3.2-1.8h0m.1-.4h0m.2-.2h0m.1 2h0m3.2 .8h0m4.9-2.9h0m5.2 4.8h0m-10-1.6h0m-2.4 1.9h0m-.5 .2h0m-1.2-1.1h0m-.3 .5h0m-.5-1.7h0m-.5 .5h0m-1.4 .8h0m-1.9 .4h0m-.5-.1h0m-.2 .1h0m-.4 1.1h0m-1.5-2.7h0m-.1 2.1h0m-1-1.5h0m-.2 .3h0m-.4 .5h0m-.5-.3h0m-.3-.7h0m-.4 1.9h0m-.7-.5h0m-.3-1.2h0m-.4 .7h0m-.5 1.3h0m-.1-2.3h0m-.6 .9h0m-.6-.5h0m-.3 1.1h0m-.2 .4h0m-.1 0h0m-.2 .6h0m0-.5h0m0-1h0m0 0h0m-.2-.5h0m-.4 1.1h0m0-.3h0m-.9 .8h0m-.2-2.1h0m-.4 .7h0m-.4-.2h0m-1 .3h0m-.1-.3h0m-.1 .3h0m-.1 .8h0m-.2-.9h0m-.3 1.3h0m0-1.4h0m-.3 .2h0m-1 .3h0m-.7 1.2h0m-.1 .1h0m-.1-2.5h0m-.3 1.5h0m-.2 .5h0m0-2.1h0m-.1 2.3h0m-.5-.8h0m0-1.5h0m-.2 .4h0m-.2 .6h0m-.2-.4h0m-.6 .6h0m-.1-.4h0m0-.3h0m-.1 .3h0m-.4 .3h0m-.7-.6h0m-.6-.2h0m-.1 .6h0m-.2-.1h0m0-.2h0m-1.7 .2h0m-.2 .9h0m-.1-.7h0m-.4 .5h0m-.2 .1h0m-.2-.7h0m-.4 .7h0m0-.5h0m-.1-.9h0m-.3 1.7h0m-.1 .7h0m0-.6h0m0-.8h0m-.1 1.1h0m-.5-1.5h0m-1.4 .7h0m-.4-1.6h0m-.2 .5h0m-.2 1h0m-.8-.1h0m0-.1h0m0-1.2h0m-1 1.4h0m-1 .2h0m-.5-.4h0m-.8 1.5h0m-.4-1h0m-.4-.6h0m-.4-.8h0m-.1 .3h0m-1.4 1.6h0m-.1 0h0m-.6 1.5h0m.4 1.3h0m.1-1.6h0m1.3 .4h0m.1 .2h0m.6-.3h0m.5 2h0m.3-2.6h0m.1 1.3h0m.3-1.4h0m.2 2.3h0m.7-1.9h0m0 2.1h0m.8-.3h0m1-.4h0m.8-.5h0m.9 .9h0m.2 .2h0m.1-1.6h0m.4-.7h0m.2 1h0m.4-1.1h0m.1 .8h0m.1 1h0m.3 .5h0m.3-2h0m0 1.2h0m.1-.2h0m0 1.4h0m1-.1h0m.1-.2h0m.4-2.1h0m0 2.2h0m.2-.6h0m0 .2h0m.7-2.3h0m.1 2.7h0m.3-.1h0m.4-2h0m.5-.6h0m.2 1.9h0m.1-.2h0m.6-.7h0m.5-1h0m.5 2.3h0m.6-2.1h0m0 1.8h0m.1-.2h0m.2-1h0m0 1.3h0m.5 .8h0m.1-1h0m0 .3h0m.4-1.4h0m0 1.1h0m.1 .2h0m.1-.4h0m0 .2h0m.1 .2h0m0 .7h0m.9-.7h0m.2-1.2h0m.4 0h0m0 .6h0m.2-1.3h0m0 2h0m.2-2h0m.1 2.3h0m.3-.9h0m.4-1.2h0m.4 2.3h0m.1-.9h0m.1 .2h0m.2-1.2h0m.2-.1h0m.4-.3h0m.2 2.2h0m.1-1.4h0m.6 1.3h0m.5-.9h0m.4 .8h0m0 .4h0m.1-.6h0m.1-1.7h0m.7 1.3h0m0 .6h0m.7-1.8h0m0 2.3h0m.8-1.1h0m.3-.2h0m.4-1.6h0m.3 0h0m.1 .2h0m.5 2.1h0m.1-1.8h0m0 1.6h0m.2-1.4h0m.6 1.8h0m.1-1.9h0m.5 0h0m.4 1.7h0m.1 .5h0m.5-.3h0m.1 .3h0m2.3-.9h0m.3-1.3h0m.4 0h0m.2-.6h0m.7 1.5h0m.3 .7h0m.5-.5h0m.9-1.4h0m.5 1.2h0m.2-1h0m1.5 .3h0m.6 1.7h0m.4-1.8h0m1.2 1.4h0m2.7-1.8h0m5.1 .9h0m1.8 0h0m7.9 2.5h0m-9.8 .9h0m-5.8-1.2h0m-.3 1.6h0m0-1.5h0m-1.2 .4h0m-1.7 .6h0m-.2 1.4h0m-.1-.3h0m-.8-.2h0m-1.1-.1h0m-1.2 .3h0m-.9-1.6h0m-.1-.8h0m-.3 2.5h0m-.9-.6h0m0-.2h0m-.4-.9h0m-.5-.3h0m-.1 .1h0m-1 .7h0m-.7-.6h0m-.6-.2h0m-.1 1.3h0m-.6-1.7h0m-.5-.2h0m-.1 .4h0m-1 .9h0m-.4-.1h0m-.1-1.3h0m-.1 1.8h0m-.7 .3h0m-.1 0h0m-.1-.2h0m0-.8h0m-.6 1.3h0m-.4-.4h0m0-1.4h0m-1.3-.6h0m-.5 2.9h0m-.2-.4h0m0 0h0m-.2-.8h0m-.5 .8h0m0-.8h0m0-.5h0m-.1 .4h0m-.5 .3h0m-.2-1.7h0m-.2 1.2h0m-1 .9h0m-.5 .2h0m-.5-2.4h0m-.5 1.1h0m-.4-.3h0m-.1 .9h0m-.3-1.7h0m-.8 1.1h0m-.5 .7h0m-.2 .1h0m-.3 .1h0m0-.3h0m-.1 .8h0m-.1-2.4h0m-.2 1.1h0m-.2 .9h0m-.2-.9h0m0-1.1h0m-.1 1h0m-.1 1.7h0m-.2-2h0m-.6 1.8h0m-.6-.1h0m-.1-2.1h0m-.5 2.4h0m-.6-1.3h0m-.1 .7h0m-.2-.4h0m-.1-1.1h0m-.1 1.4h0m-.7 .3h0m-1.1-1h0m0-.9h0m-.3 1.8h0m-.1-1.6h0m-.9 .8h0m-.7-1.1h0m-.4-.2h0m-.2-.1h0m-.6 1.8h0m-.3-1.1h0m-.1 1h0m-.1 .8h0m-.3-1.8h0m-.6 1.1h0m0-2h0m-.3 2.5h0m-.5-.6h0m-1.1-1.7h0m-.1 2.6h0m-.6-.1h0m-.2-2h0m0-.4h0m-.2 1.3h0m-1.7 .4h0m1.6 1.8h0m.1 1.3h0m.7-.5h0m.5-.8h0m.3-.7h0m1.4 2.8h0m1.8-.8h0m.7-1.9h0m.1 1.4h0m1-.3h0m0 .1h0m.8-.9h0m0 2.2h0m.4-.6h0m.3-1.2h0m.1 .6h0m.4-1.5h0m0 2.3h0m.2-2.2h0m.6 2.6h0m.6 .2h0m.1-1h0m.9-1.8h0m0 .1h0m.5 .3h0m.2 2.2h0m.5-2.2h0m.2 1.2h0m.1 .7h0m.2-1.1h0m0 .2h0m.2-.6h0m0 1.8h0m.4-1.4h0m.2-.3h0m.2 .2h0m1.6 .5h0m.1 0h0m.2-1.6h0m.6 2.7h0m.1-2.7h0m0 .2h0m.1 1.8h0m0 .4h0m.5 0h0m.8-2.2h0m0 1.4h0m.2 1h0m.7-1.1h0m.1 .4h0m.1-1.9h0m.1 1.1h0m.2 1.6h0m.2-1.1h0m.2-1.3h0m.5 .4h0m0 .5h0m.1 1.4h0m.1-2.1h0m.6 2.2h0m.4-1.7h0m.2-.7h0m.6-.3h0m.1 .5h0m0 .8h0m.4 .6h0m.6 0h0m0 .2h0m.7 .4h0m.2-.6h0m.5 .7h0m.1-2.5h0m.4-.2h0m.4 .5h0m.1-.1h0m2 .4h0m.6 .8h0m.7-.5h0m.1 1.2h0m.4-1.5h0m.3 .4h0m.1-.6h0m1.5 .2h0m.4-.4h0m1.1-.4h0m0 1.6h0m.6 .6h0m2 .5h0m2-2.4h0m1.4 .9h0m.2 0h0m2.8 .9h0m1.9-.6h0m1.5 2.8h0m-8.8 .9h0m-.1 .2h0m-1.4-1.4h0m-.1 0h0m-.9 .9h0m-.5 .9h0m-.1-2.6h0m-1.6 .8h0m-2 1.1h0m-.9-1.8h0m-1.2 2h0m-1.1-1.3h0m-.7 1.2h0m-.6 0h0m-.1-1.5h0m-.1 1.7h0m-.9-.3h0m0-.9h0m0-.1h0m-1.5-.2h0m-.2 .4h0m-.4 1.5h0m-.1-1.9h0m-.2 2h0m-.5-1.4h0m-1-.8h0m-.4 1.1h0m-.5-.2h0m-.2 1.2h0m-.4-.9h0m-.1 .7h0m-1.3-.7h0m-.2 .8h0m-.6-2.1h0m-1.3 1.3h0m-.5-1.3h0m-.1 .6h0m-.5 .2h0m-.9-.1h0m-.1 1h0m0-.2h0m-.5-1.5h0m-.6 .4h0m-.8-.3h0m-.5-.3h0m-.6 2.4h0m0-1.6h0m-2-1.1h0m-.9-.1h0m-1 1.7h0m-.9-1h0m-.5 1.7h0m-.5-.8h0m-1.2-.1h0m-.9 .8h0m-2.1-2.3h0m2.8 3.4h0m1 2.1h0m.1-2.5h0m.2 1.6h0m2 .5h0m2.6-.6h0m.2 0h0m1.4-1.2h0m0 .7h0m1.6 .2h0m1.7 .3h0m.4-1.3h0m.9 2.3h0m.1-.8h0m1-1.4h0m.3 2h0m.4 .6h0m.8-2.9h0m.4 2.9h0m3.7-1.9h0m.2 0h0m.2-.4h0m.4 .8h0m1.9-1h0m1.6 .3h0m0 2.2h0m.3-2.4h0m1-.5h0m2.5 .7h0m1.6-.6h0m0 2.8h0m.2-1h0m3.4-1.2h0m.3 1.8h0m.2 .1h0m.7-.4h0m1.4-.1h0m0 .3h0m.5-1.1h0m3.3-.3h0m-5.3 4.3h0m-2.9-.6h0m0-.8h0m-.5-.3h0m-2.2 1.1h0m-.3 .3h0m-1.8-.8h0m-.8 1.7h0m-1.6-1.1h0m-.5-1.6h0m-3.3 1h0m-.3-.2h0m-1-.1h0m-.9-.5h0m-1.1 .9h0m-.5-1h0m-1.5 2.4h0m-.1-1.3h0m0-.2h0m-.3 1.4h0m-.2-1h0m-1.1-.7h0m-1.6 1.7h0m-.3-.5h0m-1.4 .7h0m-2.6-1.5h0m-.7-1.1h0m-.3 1.6h0m-1.3-.7h0m2.2 2.3h0m4.7 .5h0m4.9 1.2h0m.5-2h0m1 2.6h0m.7-2.3h0m0 0h0m1-.3h0m.1 2.8h0m1.4-1h0m.8-1.9h0m1.2 .9h0m0 1.6h0" stroke="#6aa6c8" stroke-width="0.8" stroke-linecap="round" fill="none"/><path d="M34.7 275.5h0m10-.6h0m3.3 .4h0m8.9 1.6h0m-11.2 .3h0m-4.9 1.1h0m-.2-1.3h0m-.4-.9h0m-1.2 3.8h0m3.1 1.1h0m3.9-.6h0m1.2 .3h0m1.7 .2h0m5.7-1.1h0m8.1 3.4h0m-6.7 1.3h0m-5.6 .1h0m-1-2.2h0m-.6 1.4h0m-2.2 .3h0m-2 .5h0m-1.2-2.5h0m-.8 1.9h0m-3.5-1.5h0m-1 2.1h0m-.8-2.4h0m-.1 2.5h0m-.7-.8h0m0-1.8h0m-1.1 .6h0m-2.5 .8h0m.6 3.1h0m1.8 0h0m.7 1.1h0m.6-.7h0m1.1-1.6h0m.5 .6h0m.5 1.1h0m.3 .6h0m.2 .2h0m.2-1.1h0m.7-.6h0m0 .7h0m.3 .3h0m.3-2h0m.3 1.4h0m.5-.9h0m.2 1.5h0m.3-1.4h0m.2-.8h0m.1 2.2h0m.7 .2h0m.7-.6h0m.7-.2h0m0 1.3h0m.2-1.7h0m.2-.2h0m.1 1.2h0m.1-2.1h0m.9 2.8h0m1-1.8h0m.2 1.2h0m.5-.2h0m.6 .8h0m.1-.4h0m.4-.4h0m.4-.2h0m.4 .8h0m.3-1.6h0m.6-.8h0m0 1.1h0m1.2 .8h0m2.7-.2h0m-2.5 3h0m-.5 .7h0m-1.1-1.1h0m-.2 .3h0m-.1 .9h0m0-1h0m-.1-.1h0m-.1 .5h0m-.9-1.8h0m-1.1 2.4h0m-.4-.1h0m-.8 0h0m-.6-2.5h0m-.1 1.8h0m-.4-.2h0m-.5 .8h0m-.1-.7h0m0-1.4h0m-.6 2.1h0m-.1 .1h0m-.1-1.5h0m-.3 1.7h0m-.2-.2h0m0-1.1h0m-.5-1.5h0m-.1 .8h0m-.3 1.3h0m-.4-.2h0m-.1 .5h0m-.4-1.9h0m-.8-.1h0m-.3 .8h0m0-1h0m-.1 2.6h0m-.1-.6h0m0-.2h0m-.5-1.9h0m-.3 1h0m-.3-.1h0m0-.6h0m0-.2h0m-.1 2h0m-.7-1h0m-.7-.2h0m0-.8h0m-.1 .8h0m-.1 1.8h0m-.6-.6h0m-.8 .3h0m-.5-1h0m-.1 0h0m-.7-.6h0m-1.9 1h0m-.6 .5h0m.5 1.3h0m.6-.2h0m0 1.1h0m.4 0h0m.2 .2h0m.6 .4h0m0 .2h0m.3-1h0m.2-.7h0m.2 .6h0m.1-1.2h0m.5 .3h0m.3 0h0m.3 0h0m.1-.5h0m.1 2h0m.1 .3h0m0 .5h0m.9-1.3h0m.4 0h0m.2-1h0m.7 1.4h0m.4-.8h0m0 .5h0m.1-.1h0m.1-.2h0m.5 .6h0m.4-.6h0m.2-1.1h0m0 .9h0m.5 .1h0m.3-.3h0m.3 1.6h0m.2-2.5h0m.2 0h0m.1 .6h0m.2 .6h0m.3-.5h0m.2 1.9h0m.3-1.1h0m.1-1.1h0m.1 1.8h0m.2-1.3h0m0 1.9h0m0 .1h0m.1-1.1h0m.5 1h0m.3-2.6h0m.1 1.5h0m.7-1.1h0m.6 0h0m0 .3h0m.2-.2h0m.7 2h0m.9-2.1h0m.3-.1h0m1.5 .2h0m.5 1.4h0m.5-1.3h0m.8-.1h0m1.4 .3h0m.3 1.3h0m1.7 .5h0m2.2-2.5h0m6.2 5.4h0m-.4-1.9h0m-5.5 .1h0m-1.2-.3h0m-2.6-.5h0m-2.2 2.7h0m0-1.9h0m-.1 .6h0m-.1-1.2h0m-1 1.5h0m-.2 .4h0m-1 .4h0m-.2 0h0m-.9-.2h0m-.1-.5h0m-.1 0h0m-.1 1h0m-1.1-2.1h0m-.4 .8h0m-.3 .5h0m0-1h0m-.1-.4h0m-.2 1.7h0m-.2 .5h0m0-.9h0m-.8-.1h0m-.1-.1h0m-.7-.7h0m-.4 1.2h0m-.2-1.4h0m-.1 1.9h0m-.1-1.4h0m-.2 .8h0m0-2.2h0m-.1 .7h0m-.5 1.3h0m-.2-.5h0m-.1 1.1h0m-.3-1.1h0m-.2-.3h0m0-.4h0m-.1 1.7h0m-.2-1.6h0m-.1-.6h0m-.2 2.1h0m-.1-1.3h0m-.1 1.6h0m0-1.2h0m-.1-.3h0m-.7 .3h0m-.6 1.2h0m0-1.8h0m-.1 .5h0m-.3 1.3h0m0-.6h0m-.1-2.1h0m-.4 2.8h0m-.3-2.2h0m-.1 1.1h0m-1.2-.1h0m-.9 .8h0m-.4-1.6h0m-.6 1.4h0m-.3-.4h0m-.3 0h0m-.3-1.5h0m3 4.2h0m.2-.3h0m.1-.6h0m.5 1h0m.3 .8h0m.4-1.8h0m0 .7h0m1.4 .4h0m.1-1.6h0m0 .2h0m.1-.1h0m0 .8h0m0 1h0m.2 .7h0m.5-.8h0m.1-.3h0m.5 .8h0m.2-1.1h0m.5-1.2h0m.3 2h0m.4-.4h0m.1-.9h0m.2 1.5h0m.2-2h0m.3 2.5h0m.8-2.6h0m.4 .3h0m.2 1.3h0m.2-.4h0m.2 .5h0m0 .9h0m.4-2.5h0m1.3 1.4h0m0 .9h0m.3-1.6h0m.7 1.6h0m.5-.1h0m.1-1.2h0m.8-1h0m.4-.2h0m.6 2.7h0m.1-2.5h0m.4 1.9h0m.4-1.2h0m.8-.4h0m.1 0h0m0 .2h0m2.8-.3h0m-1.5 2.5h0m-.8 1.9h0m-.9 .1h0m-.8-.9h0m-2.7-.3h0m-2.7 1.4h0m-.2-.2h0m-.5 .7h0m-.1-1.6h0m-.5-.1h0m-.3 1.9h0m-.4-.2h0m-.9-2h0m-1.2 .7h0m-.6 .8h0m-.1-2h0m-.3 .1h0m-.5 1h0m-.6 1.4h0m-.8-1.7h0m-.3-.4h0m-.2-.2h0m-.1 .6h0m-.2 .3h0m-.7-.8h0m2.3 3.8h0m.6-.2h0m1.4-1h0m.4 .5h0m.5 1.9h0m.8-1.7h0m.3-.8h0m.3 .5h0m3 .1h0m.7 1.5h0m0 .7h0m.3-2.8h0m.1 1.1h0m.4 1.4h0m.6-2.2h0m.2-.1h0m.8 2.4h0m2.9-2.6h0m1.5 1.4h0m2.4 1.8h0" stroke="#7ab4d0" stroke-width="0.8" stroke-linecap="round" fill="none"/><path d="M105.7 194.1h0m-15.9 6.5h0m-4.3-1.4h0m11.3 4.4h0m5 1.2h0m-19 .2h0m1.9 4.3h0m2-1.4h0m1.6 1.8h0m5.1-1.3h0m3.7 .6h0m.1-.7h0m1.9 1.3h0m1 2.8h0m-14.6-.8h0m-6.7-1.1h0m4.9 4h0m2.6-1.4h0m1 .3h0m1.5 2.2h0m.8-.7h0m4.5 .3h0m.1-1.3h0m2.7 .8h0m.7 .7h0m2-2.4h0m.3 .4h0m.3-.4h0m.2 .7h0m.6 1.1h0m5 .4h0m0 2.4h0m-14.8-.7h0m-.5 .9h0m-4.4 .6h0m-.2-1.5h0m-3.5-.5h0m1 3.6h0m0 1.9h0m2.5-.5h0m.2-2.1h0m.5-.2h0m0 .6h0m2.7 0h0m.9-.4h0m.8 1.8h0m3-1.9h0m.2 .8h0m2.2 1.4h0m.3 .1h0m.2-2h0m1.1 .2h0m4.6 2h0m2.6 .4h0m-.8 .9h0m-1 .1h0m-1.5 .2h0m-2.5 1.6h0m-.1-1.5h0m-2.7-.8h0m-.3 2h0m-.3-.5h0m-.1-.4h0m-.3 .1h0m-.7-1.6h0m-.6 2.6h0m-1.3-2.5h0m-9.3-.1h0m-1.6 2.2h0m-.5 3.4h0m2.5-.3h0m3.6-.3h0m1.5-.7h0m.2 .9h0m.8 .5h0m3.7-2.7h0m0 0h0m3.2 .8h0m3.3-.7h0m.3 2.4h0m3.9-.9h0m1.4 .5h0m2.7-.8h0m2.6 3.1h0m-3.4-1.4h0m-3.4 .2h0m-1.7-.1h0m-3.3 .9h0m-1.6-1h0m-2.1 1.5h0m-1.7-.7h0m-.2 1.5h0m-.2-1.1h0m-.2-1.2h0m-1.9 1.6h0m-.6-.6h0m-.9-.3h0m-.6 0h0m-1.8 .9h0m-.2-1h0m-1.4 1.8h0m-2-1.2h0m-.4-.6h0m-1.9-.6h0m5 5.2h0m2.5-.9h0m4.1 .2h0m.4 1h0m.3-.3h0m1.6-1.4h0m.4 1.7h0m.2-1.2h0m.5-1.1h0m1.8 .5h0m1.9 .1h0m1.3 .8h0m.4 .4h0m1.8-.3h0m.7 .9h0m.5-.3h0m.7-1h0m.4 1.2h0m-2.4 1.5h0m-.1-.4h0m-1.3 .2h0m-1.3 .9h0m-1-1.9h0m-.3 .6h0m-.7 .5h0m-1-.8h0m-1.1 1.1h0m-2.4 1.5h0m-.8-.8h0m-.1-1.6h0m-.4-.4h0m-1.5 1.6h0m-.1-1.1h0m-3.6-.3h0m-.1 1.3h0m-.1 .9h0m-1.7-.2h0m-.2-.5h0m-.6-1.7h0m-1 2.3h0m-1.1-1.7h0m-4.9 4.9h0m.6-2h0m1 0h0m4 .1h0m1 .8h0m2-1.2h0m3 1.9h0m1.7-.1h0m1.8-1.2h0m1 2h0m1.2-2.4h0m.1 1.7h0m.6-1.7h0m.3 2.2h0m.4-.9h0m1.1-1.5h0m1.5 0h0m2.1 1.2h0m1.8 0h0m2.5-1h0m.2-.3h0m1.1 1.2h0m3 3.2h0m-1.5 1.1h0m-1.3-2.1h0m-5.7 .8h0m-1.3-.3h0m-2.5 1.1h0m-.2-1.5h0m-1.1 .9h0m-.4 1h0m-.6-2.1h0m-1.3 0h0m-1.7 2.4h0m-1.3-2.2h0m-.2-.5h0m-.1 1.6h0m0 0h0m-.6-.5h0m-.3-1.2h0m-1.6 1h0m-2-.1h0m-1.1-.6h0m-1.9-.2h0m-2.4-.1h0m-.5 2.3h0m2.7 2.5h0m1.3-1.2h0m4.2 1.8h0m2.3 .2h0m.2-.4h0m.3-1.6h0m.2 2h0m1.3-1.8h0m2.2-.2h0m.5-.2h0m1 2.1h0m.5-.3h0m.4 .5h0m.5-1.1h0m.9-.6h0m1 .6h0m.5-.4h0m4.8-1h0m.7 2.4h0m.1-.3h0m-.3 3.2h0m-3.7-.3h0m-.7-1.7h0m-1.7 1.1h0m-1.7-.9h0m-.3 2h0m-.7-1h0m-.5 .5h0m-2.6 .3h0m-1.2-1.2h0m-.9-1h0m-.9 1.1h0m0-.8h0m-1.5 1.3h0m-1.4-.2h0m-4.8-.8h0m-.8-.4h0m-1.2-.4h0m-.5 1.2h0m-8.3-.6h0m4.5 5.1h0m3.5-.1h0m5-1.7h0m.5-.2h0m1-.3h0m2.7 1.8h0m.2-1.9h0m2.9-.5h0m.2 .9h0m.4 1.6h0m1.4-1.7h0m.1-.3h0m4.4 .6h0m1.4-.1h0m.2 1h0m1.9 1h0m-1.6 2.7h0m-2 .1h0m-.3-2h0m-3.1 .6h0m-1.4 .4h0m-.9-.9h0m-.6 0h0m-1.4 .1h0m-1.2 .5h0m-5.8 1.1h0m-1.8-1.5h0m1.3 2.5h0m2.8 .4h0m1.7 .2h0m.6-.1h0m9.5 1.3h0m2.3-1.1h0m2.3-.9h0m-2.8 5.4h0m-3.8-1.5h0m-1-.6h0m-1.8 .9h0m-11.8 4.1h0m3.3-1.2h0m8.8-1.4h0m1.4 .4h0m1.5 .1h0m.4 .9h0m5.7 2.7h0m-4.7-.4h0m-2.4 1h0m-1-1.4h0m-1.1-.4h0m-7 .8h0m-2.6 .2h0m-1 .1h0m-2.9 .9h0m3 2.2h0m8.1 .3h0m1.8 0h0m2.3 1.3h0m1.3-2.2h0m2.2 .2h0m2.5 3.6h0m-.5 1h0m-.5 .2h0m-2.7-1h0m-2-.4h0m-1.5-.9h0m-13.4 .7h0m13.5 3.9h0m-10.3 1.2h0m10.8 8.9h0" stroke="#4a3aa8" stroke-width="0.8" stroke-linecap="round" fill="none"/><path d="M81.5 188.7h0m.8 7.8h0m-1.4-.5h0m-1.7 1.1h0m9.1 5.7h0m2.4 .7h0m7.6 2.7h0m-10.5 .1h0m-.4-.5h0m-8.7 3.2h0m.4 .9h0m4.1-.6h0m2.5-.1h0m4-.7h0m.4 .8h0m4.3 .3h0m3.5 2.8h0m-4.5 0h0m-13.3-1.7h0m-.3 1.9h0m-5.1 .6h0m6.5 .2h0m.7 0h0m3.8 2h0m8-2.2h0m-3.6 3.3h0m-1.7 .6h0m-2.9-.9h0m-1.3 .6h0m-2.9 1.5h0m-.3-.2h0m-.1 .1h0m-1.1 .1h0m-.7-1.2h0m-.8 1.5h0m-6.7-1.5h0m5.6 4.7h0m.8 0h0m2.8-2.8h0m.4 1.2h0m0 0h0m2-.3h0m.4 1.3h0m1.5 .3h0m.3-.5h0m1.6-2h0m13.7 .6h0m-1.7 2.8h0m-8.8 1.6h0m-2.5-1.2h0m-1.2 1.9h0m-1.4-1.3h0m-.1 1.3h0m-.9-.2h0m-.8 .2h0m-2.3-2.7h0m-.6 1.3h0m-3 0h0m-7.4 3.7h0m5.8-.6h0m3.6 .6h0m2.3-.2h0m.8 .3h0m.7-1.7h0m.2 2.5h0m.2-1.8h0m.1 1.3h0m.4 .1h0m2.3-.1h0m1.7 .2h0m.3-1.7h0m0 .8h0m.8 1h0m4.9-.6h0m2.7 .1h0m3 2.1h0m-1.9-.5h0m-2.1 2.1h0m-1.2-2.3h0m-.4-.5h0m-.2 1.1h0m-2.2 .8h0m-1.7-.8h0m-.5 1h0m-.2 .5h0m-1.3-.7h0m-1.6-1.5h0m-.8 1.3h0m-.1-.9h0m-2 2h0m-1.1-2.6h0m-.4 2.1h0m-7.1 .3h0m-6 2.5h0m6.6-.8h0m.4-.9h0m.9 1.6h0m5.1-1.4h0m1.1 .5h0m3.8 .3h0m.6-.3h0m.3 .2h0m.6-.2h0m2.1 1.3h0m.1-.3h0m.7-.6h0m5.2-1.2h0m4.7 .5h0m-5.6 4.1h0m-1.6-1.8h0m-.3 1.8h0m-2.6 .3h0m-.6 .3h0m-.4-2.6h0m-.2 .3h0m-.5 .3h0m-2 1.1h0m-.8 1h0m-1.9-.4h0m-2.1-1.4h0m-.6 .3h0m-.5 1.3h0m-2.1-2.5h0m-15.1 4.5h0m16.3-.9h0m.1-.3h0m.8 1.2h0m.2-1.2h0m.3 2.5h0m.4-.5h0m.4-.3h0m3.4 .9h0m.2-1.8h0m.6-.3h0m.1-.7h0m.8 1.6h0m.2 1.1h0m.7-1.5h0m.9-.4h0m.1 1h0m1.2-1.4h0m.4-.4h0m2.4 1.7h0m.1-1.7h0m.7 .8h0m5 1h0m3.4 .2h0m-6 1.9h0m-.4-.8h0m-4.3 2.5h0m-.8-2.5h0m-.7 2.1h0m-.3-1.4h0m-.4 1h0m-1.2-1.5h0m-.9 1.3h0m-.1-1.6h0m-.3 1.9h0m-.2 .6h0m-1-.8h0m0-1.6h0m-.7 .1h0m-.5 1.2h0m-1.5 .7h0m-.2 .6h0m-3.2-.3h0m-.2-2.4h0m-3.7 2.2h0m-1.1 0h0m3.2 3.2h0m1.4-.2h0m6.4 .5h0m.1-2.8h0m0 2.6h0m1.9-2.6h0m.5 2.6h0m.2-1.6h0m.4 1h0m.1-.8h0m.2 .1h0m.2-.3h0m2.1 .2h0m2.2 1.7h0m6.5 1.4h0m-4.1-.2h0m-2.9 .8h0m-1.5 .3h0m-4.5-1.6h0m-.3 1.4h0m-.2 .3h0m-1.1 0h0m-1.5 .5h0m-.3-1.1h0m-3.3-1.6h0m-.3 2.5h0m-3.3 1.3h0m2.8 .8h0m.7-.9h0m2 .9h0m0 .3h0m.7 .5h0m.9-.2h0m1.4 0h0m.7-.1h0m.5-2.2h0m.6 .3h0m1.7 2.1h0m2-2.4h0m.7 0h0m7.2 2.7h0m-3 2.6h0m-5.9-1.4h0m-3.5 .2h0m-.1 1.6h0m0-.6h0m0-1.2h0m-.8-.4h0m-.4 1.1h0m0-.8h0m-2.9-.2h0m-1 .1h0m-8 1.4h0m-.7 1.3h0m5.7 0h0m.6 .3h0m1 .1h0m1.9 .9h0m5.2 .7h0m3.6 .5h0m3-.4h0m4.3 3.1h0m-4.6-1.8h0m-2.2 1.4h0m-1.3 .6h0m-.2-1.4h0m-1.1-.7h0m-7.4 .7h0m-1.2 .8h0m-9.3-2.1h0m13.2 5h0m.8-2h0m5 .6h0m2.9-.1h0m6 2.3h0m-.6 2.1h0m-12.2-1.5h0m-1.1-.3h0m-11.3 1.7h0m8.8 4h0m6.1 6.4h0" stroke="#d27a48" stroke-width="0.8" stroke-linecap="round" fill="none"/><path d="M69.2 191.6h0m18.5 1.4h0m-25.9 4.8h0m5.8-1.6h0m27.2 4.6h0m-8.6-2.7h0m-16.8 1.6h0m-8.4-1.4h0m-5.8 1.8h0m-.3 .9h0m8.1 .1h0m.5 1.9h0m.7 0h0m6.2 .1h0m6.8 .6h0m.1-1h0m3.7-.2h0m2.6 .2h0m-7 3.4h0m-11.7 .2h0m-5.7-1.2h0m-11.4 .9h0m12 2.3h0m2.7-.5h0m.8-.5h0m7.7 0h0m.4 1.3h0m2.1-.4h0m2.4 .9h0m1.5 .1h0m2.6 .2h0m20.2-.8h0m4.1 1h0m-16.8 1.2h0m-.4 1.9h0m-1.9-1h0m-5.6 .5h0m-2 .3h0m-1.3-1.8h0m-1.6 1.9h0m-1.9-2.6h0m-8 1.6h0m-.4 1.3h0m-3.9-1.7h0m-3.8 .4h0m-7.3-.2h0m5.6 2h0m3.4-.1h0m1.6 .3h0m1.5 .5h0m1.7 0h0m.1-.9h0m0 2.7h0m2.5-2.7h0m0 2.6h0m.5-1h0m.3 .8h0m.3-.9h0m.4 .1h0m.6-.5h0m.3-.2h0m.5 1.7h0m1.3 .1h0m3.7-2h0m.9 1.4h0m2.8-.9h0m1.2-.7h0m1.5 2.1h0m2.1-.4h0m.1-.7h0m6.4 1.1h0m6.1 .3h0m-.5 .4h0m-3.2 .7h0m-.2 1.2h0m-1.3-.4h0m-.3-.1h0m-1.9-1.2h0m-1.3 .3h0m-.4 1.9h0m-.4-1.2h0m-2.9-1.1h0m0 0h0m-3 .5h0m-2-.1h0m-1.8 1.7h0m0-1.9h0m-.1 .4h0m-.4 1.3h0m-.7-2.2h0m-.7 .7h0m-1.2 .2h0m-1.6-.4h0m-.9-.8h0m-1 .6h0m-.1 .4h0m-.7 1.6h0m0-.8h0m-1.5 .9h0m-1-2.1h0m-.8-.5h0m-.4 0h0m-.6 2.5h0m-1.7-.3h0m-6-.1h0m-.4-.9h0m-.5 0h0m-.4-1.3h0m-1.8 1.6h0m-2 .2h0m-.3 0h0m-3.7 .7h0m-.7 .4h0m2.6 1.1h0m4.4-.7h0m1.3 2.5h0m3.1-.3h0m.7-.1h0m.5 .4h0m.6-.7h0m.4-1.3h0m1.1 1.4h0m.4-.7h0m2.4 1.3h0m.8-.6h0m.1 .5h0m.1-1.5h0m.6-.5h0m1-.5h0m1.6 1.9h0m.3-1.3h0m.6 1.5h0m1-2h0m1.1 1.2h0m.9-.5h0m.4 1.8h0m.1-2.4h0m1.4 2.3h0m.4-2.2h0m2.5-.1h0m1.1 .4h0m.3-.3h0m.2 .9h0m.2-.7h0m2.3 2h0m1.9-.2h0m2.6-.9h0m.4-1.6h0m.5 .9h0m2.5-.3h0m7.1 1.3h0m3 .4h0m.1 3.1h0m-5-1.8h0m-7.1 .8h0m-.4-1h0m-.9 .7h0m-2-.5h0m-1.6 1.3h0m-.2 .9h0m-.6-1.8h0m-.6-.7h0m-.7 2.6h0m-.7-1.4h0m-.8 .7h0m-1.5-1.4h0m-.1 1.4h0m-.5-1.9h0m-1 1.4h0m-.4-.7h0m-.2-.5h0m-.7 1.7h0m-.5-.3h0m-1-.3h0m0-.7h0m-.5 0h0m-.2 1.1h0m-.2 .9h0m-.3-.1h0m-.3-.1h0m-2-.8h0m-1.3-1.8h0m-.2 1.4h0m-.6-.9h0m-.2-.3h0m-.1 2.5h0m-.1-.5h0m-.4 0h0m-.2-.1h0m-.7-.5h0m0-.1h0m-1.5 .9h0m0-.8h0m-1.1 .1h0m-.7-.2h0m-1.3 .9h0m-.8-.5h0m-.6-.5h0m0-1.3h0m-.2 1.7h0m-1.3-1.2h0m-.2 1.3h0m-.4-1.7h0m-1.1 2.2h0m0-1.8h0m-.2 1.5h0m-3.6-2h0m-3.4 2.2h0m-1.3-2.4h0m-3.6 3h0m.5 1h0m.4 .6h0m2.7-1.4h0m.4-.2h0m0 0h0m.6 .9h0m.2 1.1h0m1.3-1.4h0m4.6-.3h0m1.6 .2h0m.3 .2h0m.3 .6h0m.7 .8h0m.5 .6h0m.2-2.6h0m0 2.1h0m.1 .2h0m1.4-.2h0m.7-.4h0m1.5-.1h0m.1-.8h0m.1-.1h0m.5-.3h0m0 2.1h0m.7-.1h0m.5-1.1h0m.9 1.5h0m.2-.4h0m.2-2h0m0 2.2h0m1.1-2.4h0m.1 .8h0m3.7 .1h0m.8 .7h0m1.4-1.7h0m.2 2.6h0m.5-1.6h0m.6-.2h0m.3-.5h0m.6 1.8h0m1.6 .3h0m.1-.6h0m.4-1.9h0m.1 2.4h0m1.4-.9h0m.8-.1h0m1-1h0m3.3 1.5h0m0 .1h0m.5-1.1h0m1.5 1.2h0m.5 .2h0m.9-2.4h0m1.3 2.1h0m2.2 .5h0m1-2h0m2.5 1.3h0m2.5 .1h0m3.2 .7h0m17-.3h0m-1.5 3.1h0m-10.6-1.5h0m-6.8-.9h0m-1.5 2.7h0m-4.8-2.6h0m-.6 1.9h0m-.2-1.1h0m-.7 .8h0m-.9-.2h0m-.5 .1h0m-1.9 1.2h0m-1-1.4h0m-.4-1.3h0m-1.2 1.8h0m-.2-1.3h0m-.1 2h0m-1.1-2.3h0m-.4 0h0m-1.4 .2h0m-1.5 2.1h0m-.5-1.6h0m-.5-.8h0m-.3-.3h0m-.1 2.6h0m-1.5-1.7h0m-.4 1.3h0m-.5 .6h0m-.8-.4h0m-1.4-1.3h0m-.3 1.6h0m-.7-.3h0m-.1 .5h0m-.1-2.8h0m-.2 2.6h0m-.4-.9h0m0-.7h0m-.3 .9h0m0-1.8h0m-.4 1.4h0m-2.9 1.2h0m-.2-.7h0m-.4-1.4h0m-.4 1.8h0m-.7-.8h0m-.4-.6h0m-1.3 .9h0m-.4-.7h0m-.3 .9h0m-.3-.8h0m-.3 1.2h0m0-2.3h0m-.8 2.4h0m-.1-.8h0m0-.8h0m-.2 .6h0m-.3-1.5h0m-.1 1.4h0m-2 .5h0m-.2-1.5h0m-.9 1.2h0m-1.3-1.2h0m-.7 1.5h0m-.1-1.5h0m-.7 1.5h0m-.8-1.8h0m-2.8 .7h0m-1.6 0h0m-2.4 .3h0m-1.2-1h0m-.5 2.2h0m-1.7-1.9h0m2.4 4.5h0m0 .8h0m1-.1h0m.2-2.8h0m0 1.3h0m.9-1.3h0m2.2 1.1h0m.6-.4h0m0 2.2h0m1.5-.4h0m.5-1.8h0m.9 0h0m.2 1.8h0m.1-1.6h0m1.1-.7h0m.7 2.7h0m1.3-1.6h0m.5-1.2h0m2.1 .1h0m.4 2h0m.1-1.2h0m.2 1.8h0m1.5-2.4h0m.1 1.4h0m.1-1.1h0m.9 .1h0m.6 1.5h0m0 .4h0m1.2-1.8h0m1.4 .6h0m.5 .4h0m.3-1.5h0m0 1h0m.1-1.3h0m0 2.3h0m.2-1h0m.1 .7h0m.4-.3h0m0 .6h0m.2-2.4h0m.1 1.2h0m.4 .3h0m0 .5h0m.5-1h0m0 .9h0m.4-.2h0m.3 .3h0m1.2-.7h0m.1-.4h0m.3 1.4h0m.2 .4h0m.3-2.1h0m0 1.9h0m.1-1.2h0m.2 1.4h0m.1-.6h0m.2-2h0m.1 2h0m.2-1.3h0m.3 2.1h0m.6-1.9h0m.9-.4h0m.7-.1h0m.7 2.1h0m.1-2.4h0m0 2h0m1.5-1.7h0m1 1.5h0m.3 .2h0m.2-.9h0m1.1 1.6h0m.7-.3h0m2-.9h0m1.7 .5h0m1.1-.6h0m1.5-.6h0m6.6-.7h0m2.5 2.3h0m.2-.4h0m1.5-.3h0m13.6 0h0m-4.9 3.6h0m-2.4 .4h0m-1.4-.6h0m-1.1-1.7h0m-6.4 1.4h0m-1-.5h0m-1.4-.5h0m-2.2 .7h0m-1-1.1h0m0-.6h0m-.1 2.3h0m-2.5-.4h0m-.9 .3h0m-.1-1.4h0m-.2 .1h0m-.8 .9h0m-1.3-.9h0m-.1 .3h0m-.4-.5h0m-.4-.6h0m-.9 0h0m-.1 2.8h0m-.3-2.3h0m-.8 .4h0m0-.9h0m-.1 0h0m-1.3 .8h0m-.6 .6h0m-.4-.4h0m-.1 1.7h0m0-1.1h0m-.4-.6h0m-.8 1.6h0m-1-.2h0m-.9-.9h0m-1 1.3h0m-.4-2.2h0m-.3-.6h0m-.5 2.7h0m-1.6-.7h0m-.6-1.4h0m0 0h0m-.1 0h0m-.3 2h0m-.5 .2h0m-.3-1.5h0m-.1 1h0m-1.4-1h0m-.4 .5h0m-.2-1.2h0m-.1 1.3h0m-.2 .4h0m-.3 .3h0m-.3 0h0m-.2-.7h0m-.5-1.5h0m-.1 .1h0m-.2 1.8h0m-.4-.9h0m-1.6-.3h0m0-.9h0m-.2 .1h0m-.1 1.9h0m-.7-2h0m-.3 2h0m-.2 .5h0m-.4-.8h0m-.1 .7h0m-1.4-2.3h0m-.7-.1h0m-.3 .7h0m-.1 1.9h0m0-2.7h0m-.2 1.4h0m-.5 .3h0m-.6 .9h0m-.5-.1h0m-.4-1.7h0m-1.1-.7h0m-.3 .1h0m-.5 0h0m-.3 .5h0m0-.7h0m-.2 1h0m-.2 .9h0m-1.4-1h0m0-.3h0m-1.4 1.7h0m-1.5-.5h0m-.2-.2h0m-1.1-1.1h0m-2.1-.5h0m-.1 3.9h0m.2 1.3h0m1.5-.8h0m.7 .9h0m.4-.9h0m.4 .2h0m1.2 .1h0m.7 .7h0m1.4-1.2h0m0 1.4h0m.8-2.6h0m.4 .5h0m0 1.1h0m.1-.3h0m.1-.3h0m0 1.2h0m.1-.3h0m0 .8h0m.8-1.3h0m0 .9h0m.2-1.4h0m.3 1.5h0m.2-.4h0m.5-1.2h0m.3-.5h0m.7 1.3h0m.2 .8h0m.7-1.3h0m.4 0h0m0 1h0m.1 .4h0m.5-1.6h0m.4 1.6h0m.9-.4h0m.1-2.3h0m.3 0h0m.1 2.6h0m.1-2.4h0m.1 .6h0m1 2h0m.3-1.3h0m.1 .2h0m.1 1h0m.4-2.2h0m.6 1.9h0m.1-1.4h0m0 .3h0m.2 .4h0m.3 .7h0m.1-.7h0m0 .8h0m.3 .3h0m.6-2.5h0m.2 0h0m.4 1.9h0m.4 .1h0m.7-1.5h0m.4-.4h0m1.5 0h0m.6 .6h0m0 .5h0m.2-1.4h0m.1 .6h0m.1-.3h0m.2 2.2h0m.1-1.8h0m.4-.3h0m0 1.2h0m1.1-.9h0m0 .9h0m.3 .2h0m.4-1.1h0m.3 .7h0m.4 .9h0m.6-.5h0m.7-1.3h0m.5 1.1h0m.1-1.4h0m.5 1.2h0m.1-.6h0m.2-.1h0m.2 2.1h0m.2-.6h0m0 .1h0m.3-2h0m.3 .6h0m3 1.2h0m.4-1.2h0m.9-.2h0m0 .2h0m.4 1.8h0m.3 .1h0m.2-2.9h0m.1 .8h0m0 .5h0m.5 .7h0m1.6-2h0m.5 2.8h0m1.7-1h0m.5 .9h0m1-.9h0m1.4 1.1h0m1.8-.8h0m7.5-.2h0m.3-1.8h0m13.7 3.6h0m-11.7 1.3h0m-1.9-1h0m-4 .4h0m-3.8-.2h0m-.2 1.3h0m-2.6-1.9h0m-.3 .4h0m-1 1.8h0m-.9-2.4h0m-.6 .1h0m-1.6 1.7h0m-.9-.3h0m-1.4-1.5h0m-.7 .3h0m-.2 2h0m-.1-1.7h0m-.2-.6h0m-.2 1.8h0m-.1-.1h0m0-.9h0m-.1 1.3h0m-.1 .3h0m-.8-.6h0m0 0h0m-.1-2.1h0m-.9-.1h0m-.2 1.2h0m-.3 .9h0m-.3-.1h0m0-2h0m-.1 2.8h0m-.1-1.2h0m-.9-.8h0m-2.5 0h0m-.5 1.6h0m-.3-1.9h0m-.6 2.4h0m-.1-2.9h0m-.1 .2h0m-.9 1.3h0m-.1-.9h0m-.3 1.1h0m-.2-1h0m-.3 1.2h0m-.5 0h0m-.2-.6h0m-.8 1.3h0m-.7-1.1h0m0-1.3h0m-.5 0h0m-1 .4h0m-.1 .4h0m-.8 .4h0m-.3-1.3h0m-1 2.4h0m-.4-1.9h0m-.4 .2h0m-1-.7h0m-.2 0h0m-.2 .2h0m-.5 .6h0m-.4 .5h0m-.4-1h0m-.2 .6h0m-.4-.5h0m-.3 1.6h0m0-.7h0m-.7-.5h0m-.4-.4h0m-.1 2.2h0m-.3-2.5h0m-.2 .7h0m-.7 1h0m-.2 .4h0m-.8-1.9h0m-.3 .8h0m-.1 .6h0m-.1 .1h0m0-.2h0m-.4-1.7h0m-.2 2h0m-.1 .6h0m-.4-1.2h0m0-.8h0m-.4 1h0m-1-.5h0m-.3 1.7h0m-.6-1.2h0m-.2 .5h0m-.5 .8h0m-.8-.3h0m-.1-.7h0m-.4 1h0m-.4-.2h0m-.5-.8h0m-.6-.1h0m-6.7 .3h0m-2.1 .4h0m-3.3-.1h0m-5.2-.4h0m-1.3-1.6h0m3.3 4.3h0m7.9 .2h0m1.2-1.7h0m5.9 .8h0m.3 1.8h0m1.3-2.8h0m0 2.3h0m.6-2.1h0m.9 2.7h0m.3-1.8h0m.2 1.4h0m.3 .1h0m.6-2.2h0m.8 2.1h0m.5-2.4h0m.1 .7h0m.6 .3h0m.1-.7h0m.7 2.5h0m.1-2.1h0m.4 1.6h0m.1-1.8h0m1 1.7h0m.3-1h0m.1-.8h0m.1 .4h0m.1 .5h0m.1-1.3h0m.5 .4h0m0 1.1h0m.1 .1h0m.3-.6h0m.5 .8h0m.5-.4h0m.4-1.2h0m.2 2.5h0m1-.7h0m.3 .6h0m.4-.3h0m.3 .2h0m1.1-.6h0m.5-.6h0m0 .9h0m.4-.9h0m.1-.7h0m.1 1.1h0m.1 1.1h0m.2-1h0m.3-.3h0m.1 1h0m.6-1.9h0m.2 1.2h0m1.2 .3h0m1.1 .7h0m.1-.1h0m.5-2.8h0m.4 .2h0m.8 2h0m.4-1.6h0m0 .2h0m.5-.4h0m.2-.4h0m.1 2.8h0m.1 0h0m.5-2.5h0m0 1.2h0m0 .3h0m.3 .4h0m.3-2h0m.1 1.2h0m.3 1.4h0m.2-.2h0m.1-.2h0m.6-.9h0m.9 1h0m.1-.7h0m.3-1.5h0m.3 1.5h0m.6-1.3h0m0 1.6h0m.2-1.5h0m.7 1.8h0m.2-.8h0m.3-.3h0m.9-.3h0m.2 0h0m0 1.8h0m.1-.2h0m.7-1.4h0m.3-.3h0m.2 1.8h0m.1-2.2h0m0 0h0m.5-.1h0m.2 1.9h0m.1 0h0m.5-2.2h0m2.4 2.3h0m3.5-2h0m1.3 2h0m1.2-.7h0m1.4-.3h0m4.8-.2h0m22.1 2.4h0m-18.2 0h0m-2.1 0h0m-2.2-.3h0m-4.3 1.7h0m-.1 .9h0m-2-1.6h0m-1.5-.8h0m-.3 .2h0m-.5-.2h0m-.4 1.1h0m0-.6h0m-.6-.1h0m-.7 .3h0m-1 .6h0m-.1-.8h0m-.3-1h0m-1.2 1.3h0m-.2-1h0m-.4 .3h0m-.6-.4h0m-.6 1.7h0m-.1 .1h0m-.5-.7h0m-.9 .2h0m-.1 .5h0m-.3-.1h0m-.3 .7h0m-.1-1.8h0m-.1 1.9h0m-1.3 .2h0m-.3-1.5h0m-.4 .6h0m0-.7h0m-.3-1.2h0m-.2 .5h0m-.2 .1h0m-.2 1.3h0m-.3 .6h0m-.8-.2h0m-.2-2.2h0m-.1 1.7h0m-.4-.8h0m-.6 1.7h0m-.7-1.5h0m0-.5h0m-.1 1.2h0m-.5 .1h0m-.1 .8h0m0-2.3h0m-.5-.4h0m0-.2h0m-.1 2.3h0m-.1-1.2h0m-.3 .9h0m-.3-1.5h0m-.7-.4h0m-.2 0h0m-.5 2.7h0m-.7-2.8h0m-.1 .4h0m-.2 .8h0m-.2 1.7h0m-1-1.1h0m-.4 .6h0m0-1.1h0m0-.1h0m-.4-.8h0m-.1 .1h0m-.1 .5h0m0-.9h0m-.6 2.7h0m0-.7h0m-.1-1.6h0m-.2 1.9h0m-.3-.6h0m-.2-.2h0m-.2 1h0m-1.3-.4h0m-.1-.1h0m-.3-2.1h0m-.5 .9h0m-1.1-.7h0m-.2 1.7h0m-.1 1h0m-.5-1.9h0m-.5 .1h0m-.4-.2h0m-.2-.6h0m-.4 .9h0m-.1 .7h0m0-.9h0m0-.4h0m-.9-.6h0m-.5 0h0m-.1 1.3h0m0 0h0m-2-1.3h0m-.2 2.4h0m-1.1-1h0m0-.2h0m-.1-.6h0m-.8-.5h0m-.2 .8h0m-.2 1.3h0m-.2-.6h0m-.3 .8h0m-2 .1h0m0-1.3h0m-.5 1.6h0m-.4-.1h0m-2.2-1.9h0m-1.3 .2h0m-.6 1.8h0m-3.7-2.5h0m-3.2 .2h0m-2.5 1.2h0m-3-1.1h0m-7.6 2.6h0m6.2 1.4h0m13-.3h0m.1 .5h0m1.9 .1h0m1.9-.7h0m.4 1.7h0m.1-1.1h0m.1-.6h0m.6-.2h0m.7 1h0m.6-1.8h0m.3 2.4h0m.2 0h0m1.1-2.5h0m.1 1.9h0m.4 .8h0m1.4-1.4h0m.5 1.2h0m.5-.1h0m.2-.6h0m1 .6h0m.1-1.9h0m0 1.5h0m.1-.2h0m.2-.4h0m0 1.1h0m.9-1.5h0m.1 .5h0m.6-.4h0m.3-.3h0m.4 .2h0m0 1.2h0m0 .5h0m.3-2.5h0m.5 1h0m.1 .8h0m.6-2.1h0m.4 2.8h0m.2-.4h0m.1-.4h0m.9-.4h0m.1 .8h0m.1 0h0m1-2h0m.3 1.2h0m.1-1.1h0m0 2.1h0m.1-.2h0m.3-2.2h0m.2 1.3h0m.2-.8h0m.9 .8h0m.5-.3h0m0 .1h0m.3-1h0m.3 .8h0m.3-.1h0m.2 .8h0m.1 .3h0m.9-2.1h0m.2 0h0m.2 1.2h0m1.6-.3h0m.1 .6h0m.5-.3h0m.2-.7h0m.2-.1h0m0 1.7h0m.6-.6h0m1.4-1.1h0m0 0h0m0 0h0m.4 0h0m.4 1.1h0m.3-.6h0m.7 .3h0m.6-1h0m.4 .2h0m.4 2.4h0m.6-.8h0m1.5-1.9h0m0 .9h0m.2 .6h0m.1-1.6h0m0 1h0m.4-.3h0m.6-.1h0m.3 .2h0m.6-.1h0m.5 .6h0m.3-1.1h0m.7 .8h0m0 1.1h0m.6-.6h0m.2 1.1h0m.3-.3h0m3.6 .4h0m1.5-.3h0m1.6-.9h0m1.4-.8h0m.2-.2h0m2.3 2.3h0m4.2 2h0m-2.8-.9h0m-2.2 1.6h0m-.4-2.2h0m-.2 .7h0m-.3 1h0m-3.1-.4h0m-.9 1.2h0m0-1.8h0m-.2-.9h0m-.9 2.2h0m-1.5-1h0m-1.2 1.6h0m-.2-1.6h0m-2.5-1.3h0m-.2 1.5h0m-.3-.7h0m-.2-.7h0m-.3 .8h0m-.1-.9h0m-.6 1.5h0m-1.2 0h0m-1.3 0h0m-1.2-1.2h0m-.5 .8h0m-.8 .9h0m-.8-.2h0m-.3-.7h0m-.1 0h0m-.2 .4h0m-.3 .7h0m-1.1-.3h0m-.1-1.1h0m-.2 .7h0m-.2 .3h0m-.6 .1h0m-.3-1.3h0m-.1 .5h0m-1 .1h0m-.2-.9h0m-.9 2.5h0m0-2.1h0m-.4 0h0m-.5 1.2h0m-.3 1h0m-.1-1.5h0m-.5 .4h0m-.9 .1h0m-.1 .8h0m-.1-.7h0m-.3 .8h0m-.1-2.5h0m-.1 .3h0m-.6 1h0m-.1 1.2h0m-.7-1.5h0m-.4 .8h0m-.4 .6h0m-.1 0h0m-.3-1.1h0m-.1-.4h0m0 0h0m-.1 .2h0m-.4 .7h0m-.5-1.8h0m-.3 .3h0m-1.3-.3h0m-.1 1.8h0m-2.8 .2h0m-1.8-1.9h0m-1 .4h0m-.4 .1h0m-.1 .2h0m-.3-.8h0m0-.3h0m-.3 .3h0m-.4 1.3h0m-.2-1.1h0m-.2-.5h0m-3 2.4h0m-3.4-.1h0m-1.6 .3h0m-2.1 .3h0m-3.4-1.3h0m-7.3 .8h0m4.1 .9h0m.5 2.2h0m4.8-.8h0m.7-.2h0m.9-.4h0m.9-.6h0m0 .7h0m1.8 .2h0m1.1-1.4h0m2 .5h0m.3 .6h0m.6-.8h0m.9 .1h0m.1 2.4h0m.1-.4h0m.2-.5h0m.3-1.5h0m.7 2.4h0m1.1-.2h0m.1-1.7h0m.6 1.5h0m.8 .3h0m.3-1.8h0m.5-.9h0m1 1.1h0m.3-.8h0m0 2.3h0m.3 0h0m.6-1.5h0m.3-.7h0m.1-.4h0m.2 .7h0m.2 .7h0m0 1.4h0m1-1.1h0m.7-1.1h0m.2 1.9h0m.6-2.2h0m.3 .4h0m0 1.6h0m.6-2h0m.2 1.6h0m.2-1.6h0m.1-.3h0m.6 .3h0m1.8 1.3h0m.3-1.6h0m0 1.5h0m.6 .3h0m.2-.4h0m.3 .9h0m.2-.3h0m.1-.3h0m1.4-1.4h0m.2 .5h0m0 .7h0m.3 1.1h0m.2 .2h0m.4-2.1h0m.2 0h0m.3 .8h0m0 .9h0m.1-1.2h0m.1 1.2h0m.3-2.1h0m.1 .7h0m.5-.6h0m.1 1.7h0m.5 .7h0m.5-2.1h0m.2-.7h0m.3 2.5h0m.6-1.2h0m.3-.2h0m.1-.3h0m.3-.2h0m.3 0h0m.3 1h0m.1 1.1h0m.4-1.9h0m1-.4h0m0 .4h0m.6 1.4h0m0 .7h0m.2-.8h0m.4-.1h0m.4-1.5h0m.1 1.4h0m.5-1.6h0m.8 .6h0m.5 .3h0m.7 .7h0m.4 1h0m1.3-.8h0m.4-1.5h0m0 2.1h0m.4-1.7h0m.1 .7h0m0 .7h0m.2-.4h0m3.2-1.4h0m1.4 .1h0m.2 1.5h0m.2-.7h0m1.7-1h0m2.3 2.3h0m8.7 2.3h0m-7.4-.1h0m-.1 .6h0m-1.4-.2h0m-2 .4h0m-2.4 0h0m0-1.3h0m-2.5-.8h0m-.7 .6h0m-1.4-.3h0m-.3-.1h0m-2.8 .3h0m0-.8h0m-.1 2h0m0-.4h0m-.1-1.3h0m-.7 1.7h0m-.3-.4h0m-.5-1.3h0m-2.2 1.6h0m-.3-1.2h0m0-1h0m-1.1 .4h0m-.1 .5h0m0-.2h0m-.5-.6h0m-.8 .1h0m-.5 1.6h0m-.1-1.1h0m-.7-.2h0m-.3 1h0m-.2 0h0m-.1-.6h0m-.3 .4h0m-.2 1.1h0m-2.2 0h0m-.5-1.3h0m-.9 1.4h0m-.3-.1h0m-.1-1.9h0m0-.6h0m-.5 2h0m-.1-.3h0m-.3-.3h0m-.2 .6h0m-.3-.2h0m-1.3 .8h0m-.8-.1h0m-.5-.7h0m-1.1-1h0m-.4 .4h0m-.4-1h0m-.2 1.4h0m-.2 1.2h0m-.5-2.8h0m-.2 1.4h0m-.4 .7h0m-.7-2h0m-.1 .4h0m-.8 .3h0m-.2 .9h0m-.2-.2h0m-.3-1.4h0m-.1 .6h0m-.7 1.9h0m0-1.7h0m-.1 .9h0m0 0h0m0-1h0m-1 1.7h0m-.4-2.4h0m-.3 2.8h0m-1.1-2.5h0m-.4 2.2h0m0-.1h0m-.7-1.6h0m-2.4-.5h0m-.3 .2h0m-1 .1h0m-2.1 2.1h0m0-.6h0m-.8-1.3h0m-3 1.5h0m-4.7-1.7h0m-1.5 1.4h0m-7.1-.3h0m-4.6 3.9h0m1.4 .1h0m4.9-2.5h0m9.9 1.7h0m1.7-.3h0m.8-1.7h0m4 2.9h0m1.3-2.8h0m1.2 2.7h0m.7-.1h0m.9-2.3h0m.2 2.5h0m1.2-1.8h0m.6 1.2h0m2.2-2.2h0m0 2.7h0m.7-.6h0m1.1-2.2h0m.9 .9h0m.4-.4h0m.3 .3h0m.4 1h0m.2 0h0m.7 .8h0m.5-1.4h0m.4-.6h0m.6-.3h0m1.5 1.7h0m.2-.1h0m.8 .9h0m.2 0h0m.9-2.7h0m.7 .6h0m.2-.1h0m.6 .6h0m.7 1.1h0m1.2-.2h0m.7 .7h0m.1-2.2h0m0 1.4h0m2-1h0m.5 0h0m.3-.3h0m.8 .2h0m.2 1.2h0m.1 .1h0m.6 .4h0m.2-2.5h0m1.4 2.2h0m.7-2.2h0m.7 1.3h0m1.1-1.3h0m.4 1.1h0m2.5-.3h0m.6 1.5h0m1.2 .1h0m.3-1.3h0m.2 .8h0m3.6-.8h0m0 1.7h0m.3-.9h0m1.9-.3h0m8.4-1.7h0m13.1 4.8h0m-14.4-.7h0m-5.5 .8h0m-.6 .6h0m-.2-.2h0m-2.6-.7h0m-2.6-1.2h0m-.9 1.8h0m-.3-1h0m-2.5 .5h0m-.2-1.5h0m-.9 .2h0m0-.3h0m-.1 2.2h0m-.9-.2h0m-.2 .1h0m-1.4 .3h0m-.6-2.2h0m-.8 .6h0m-.2 0h0m-.3 1.5h0m-.4-.2h0m0-1.7h0m-.6 1.3h0m0-.7h0m-1.6-.3h0m-.8 1.6h0m0-2.4h0m-.4 2h0m-.2-1.6h0m-.1 2.1h0m-2.3 0h0m-.4-1.3h0m-.1 1h0m-.5 .1h0m0-1.3h0m-1.3-.4h0m-1.6 .8h0m-.2-1h0m-.7 .4h0m-1 .5h0m-.8 1.1h0m-.3-2.2h0m-.2 2.1h0m-1.2-.8h0m-.7 .1h0m-.8-.6h0m-.2 .6h0m-.2 .3h0m-1.9-.2h0m-2.5-.1h0m-1 .3h0m0-1.3h0m-1.5 1h0m-1.3 1.1h0m-1.3-.6h0m-2.9 .6h0m-6.9-2.7h0m-1.7 2.3h0m-8.1 .5h0m15.7 1.6h0m1.2 1h0m1.5-1h0m.8-1h0m1.3 1.6h0m1.3-1.8h0m0 2.3h0m.4-2.4h0m.1 2.7h0m.7-1.2h0m1.5 .8h0m.4 .3h0m.9 .1h0m.4-.5h0m.8-1.4h0m0 .4h0m.1-.8h0m1 1.3h0m.5 .5h0m.8-.2h0m.5-1.9h0m.1 .5h0m0 .3h0m.4 1.4h0m2.2-.9h0m.2-.8h0m.7-.3h0m.1 .1h0m1 1.6h0m.3-.6h0m.3-1.3h0m0 2.4h0m.1-.9h0m1.4 .8h0m3.6 .1h0m.9-1.5h0m1-1h0m.2 1.5h0m.6 .8h0m.7-1h0m2.7 .7h0m1.2-1.8h0m.9 2.6h0m4.1-1.9h0m.3 .8h0m.1-1.5h0m.5 .5h0m.6-.8h0m.4 2.5h0m1.1 .1h0m1.5 0h0m2-2.1h0m3.3-.3h0m3.3 .2h0m.5 1.9h0m4.5 1.8h0m-4.9-.5h0m-3.5 1.1h0m-.2 .4h0m-.2-.7h0m-1.4 1.4h0m-1.7-2.3h0m-2.9 1.2h0m-.5 1h0m-1.9-1.3h0m-.5 0h0m0-.9h0m-5.2 1.6h0m-1.1-.5h0m-.1-.2h0m-.2 1.2h0m-1.3 .1h0m-.4-1.7h0m-1.2-.7h0m-1.3 1.2h0m-.6 .1h0m-.7-1.1h0m-.1 2.1h0m-.5 .3h0m-2.4-.4h0m0-2.1h0m-.6 2.5h0m-.6-2.6h0m-.3 1h0m-.4-.1h0m-.1-1h0m-.3 .6h0m-.9 .2h0m-.5-.5h0m-.5 1.2h0m-1.7 .8h0m-2.5-2.4h0m-.8-.1h0m-.6 .1h0m-1.2 1.5h0m-.4-.3h0m-2.2 .6h0m-.6-1.6h0m-.9 2.1h0m-.8 .3h0m-.6-2.2h0m-.1 1.3h0m-.6 .8h0m-1.1-.6h0m-3.7-.8h0m-.5 1.4h0m-3.3 .1h0m-4.7-2.6h0m-.5 1.5h0m3.9 2h0m2.4 1.1h0m1.4 1h0m.5-.8h0m.3-.5h0m.3 1.1h0m.3-1.9h0m1.5 1.3h0m4.4 .3h0m3.2-1.2h0m.2-.7h0m2.1 .9h0m.3 0h0m.2-.5h0m.3 .5h0m5.6-.4h0m1.4 1.2h0m1.5 .8h0m.6-.2h0m.8-.1h0m.5-1.9h0m.2 2h0m.3-.3h0m1.9 .4h0m1.1-.3h0m.8-.9h0m.5-.1h0m.9 0h0m1.3-.2h0m.2 .5h0m2.2-.7h0m1.2-.8h0m5.2 .6h0m1 .7h0m5.7 .2h0m19.9-1h0m-11.6 4.1h0m-7.1-.5h0m-5.3-1.3h0m-.3 1.8h0m-2.5-.5h0m-.2 .2h0m-.4 .2h0m-.4-1.7h0m-1.1 1.5h0m-.8 .6h0m-.6 .4h0m-.9-1.6h0m-.2 1.9h0m0-.2h0m-1.1-.2h0m-5.7 .5h0m-1.9-.3h0m-.9-1.3h0m-1.3-.1h0m-5-.1h0m-.4-.2h0m-.1 .5h0m-.7 1.2h0m-.5-.5h0m-.3-1.7h0m-.1 1.8h0m-1 0h0m-.4-2h0m-.9 2.7h0m-3.3-1.8h0m-1.1 1.3h0m-3-.4h0m-.1-1.1h0m-.2 .1h0m-7.5-.3h0m-1.9 2.2h0m-.6 3h0m4.6-1.1h0m.8-1.3h0m1.3 .1h0m3.6 .5h0m1.6 .5h0m.9-1.3h0m.1-.1h0m2.3 1.5h0m3.1 0h0m.6 .7h0m2.7-.9h0m0 .4h0m.3-.7h0m.1 1.4h0m.9-.9h0m1.2-1.3h0m1.3-.2h0m0 .7h0m.1-.4h0m.3-.5h0m3.2 .3h0m0 1.5h0m1-.4h0m4.3-1h0m3.2 1.1h0m1.3-1.2h0m-7.5 3.1h0m-.2 .1h0m0-.3h0m-1.5 2h0m-2.1-.4h0m-.5-1.2h0m-1.2-.2h0m-1.7 1h0m-4.2 .2h0m-.7 .8h0m-.5 .2h0m-.7-.2h0m-11.3-1.4h0m-.7 1.1h0m-1.6-1.5h0m-2.5 2.3h0m-4.6-1h0m3 2.2h0m15.2 .6h0m.4 .6h0m.5-.1h0m.4 .2h0m9.7 .1h0m8.1 .4h0m3.2-.9h0m6.4-1.7h0m4.3 .9h0m4.5-.2h0m-18.1 4h0m-6.3 .5h0m-5.6-2h0m-.9 .6h0m-.2 .4h0m-2.6-1.2h0m-.7-.3h0m-2 .7h0m-9.9 2.9h0m3.3 .7h0m5-1.1h0m.3 1.5h0m17.9-.9h0m.7 .1h0m4.2-.4h0m-15.6 5.4h0m-6.3-1.4h0m-1.7 1.4h0m6.3 1.3h0" stroke="#4534a2" stroke-width="0.8" stroke-linecap="round" fill="none"/><path d="M89 164.4h0m-16.6 8.6h0m-.9 1.2h0m1.4 1.3h0m.3-1h0m13.4-.2h0m.1 2.2h0m-5.8 2.3h0m-4.9-1.5h0m-.5 .3h0m-5.1-.4h0m-1 1.7h0m-1.5-.1h0m-2-.7h0m15.1 3.8h0m2.5-1.3h0m12.5 2.6h0m-16 2.2h0m-4-2.4h0m-5.8 .5h0m-.8 1h0m-5.6 .9h0m-4.2 2h0m9.5 .3h0m4.7-1.5h0m4.8 .1h0m4.5 2.6h0m14.4 1h0m-19.3 .8h0m-5.4-.2h0m-3.5 1.1h0m-7.3-1.2h0m1.9 4.2h0m8.9-1.3h0m1.8 .5h0m7-1.8h0m.8 2.8h0m13.8-1h0m-15 2.1h0m-4.6-.6h0m-.7 .3h0m-11.9 .4h0m-3.4-.8h0m-2.7 3.7h0m7.9-.6h0m3.2 1.9h0m.7-1.2h0m.7 .9h0m3.5-.6h0m13.8-.3h0m1.9-.1h0m-10.8 4.3h0m-5.4-1.8h0m-3.8 .3h0m-7.4 2.1h0m-6.7 2.5h0m25.9-1.7h0m1.8-.6h0m-12.8 5.8h0m-4.9-2.8h0" stroke="#4a3aa8" stroke-width="0.8" stroke-linecap="round" fill="none"/><path d="M53.3 205.2h0m4.4 1h0m-6.2 2.9h0m-5.8 1.9h0m1 .9h0m1.6 .5h0m.4 .2h0m.6 .2h0m.9-.1h0m3.1-.5h0m.1-1.5h0m3.3 1.6h0m5.2 1.2h0m-4.2 1.2h0m-3.6 1.1h0m-2.6-.2h0m-.1-1.2h0m-.2 .6h0m0-1.4h0m-2.1 0h0m-.6 1.1h0m-.1-.5h0m-.2 .7h0m-.1 .8h0m0-.2h0m-.2 .3h0m-.1-1.1h0m-.5-.7h0m-.1 1.8h0m-.2-.1h0m-.6-2.1h0m-.2 1.1h0m-.1-.2h0m-1.5 2.7h0m.8-1.1h0m0 2h0m.2-1.9h0m.3 .5h0m.1 1.3h0m.2 .3h0m.1-.1h0m.2-1.8h0m.6 .3h0m.1 .1h0m.2 1.4h0m.1 .2h0m.4-1.5h0m0 1.3h0m.4-.3h0m.2-.4h0m0 1.1h0m.1-1.3h0m.1 1.4h0m.4-.4h0m.2 .6h0m.3-2h0m.2 .5h0m.1-.7h0m0 .2h0m0 1.3h0m0 .7h0m.1-.2h0m.7-1.5h0m.6-.5h0m.1-.2h0m.6 2h0m.2-1.6h0m.2-.3h0m.1 .9h0m0 1h0m.1 .1h0m2.9-1h0m.1-1h0m.1 1.9h0m.5-.1h0m.2-.7h0m1.8 1.3h0m-1.4 1.1h0m-.3-.9h0m-1 0h0m-1.3 2.1h0m-.3-1.7h0m-.3 .7h0m-.6 1.5h0m-.1-1.1h0m0-.4h0m-.3 .9h0m-.1 .7h0m-.1-2.5h0m-.4 1h0m-.3-1.3h0m-.1 1.6h0m0-.6h0m-.9 .6h0m-.5-1h0m-.1 .2h0m-.3 1.9h0m0-.2h0m-.1-.1h0m0-.8h0m-.1-1.3h0m-.1-.3h0m-.4 1.6h0m-.4-1.3h0m-.1 1.1h0m0-1h0m0-.4h0m-.2 .9h0m-.1 1.7h0m0-1.9h0m-.1 1.1h0m-.1-.2h0m-.1-.6h0m-.3 1.4h0m-.1 0h0m0-2.3h0m0 0h0m-.1 2.4h0m-.2-1.5h0m-.3 .7h0m-.1 1h0m-.1-1.3h0m-.2 1h0m0-2.4h0m-.1 .6h0m-.1-.1h0m-.2 1.3h0m-.6-.2h0m-.1-.1h0m-.8 .5h0m-.3-2.1h0m-.3 1.1h0m0-1h0m-1 1.8h0m-.6 2.2h0m.7 0h0m.2 1.3h0m.4-1.9h0m.1 1h0m.1-.6h0m0 .8h0m.1-.4h0m0 .7h0m.1-.3h0m.9-.8h0m.1-.3h0m.2 .5h0m.1 .5h0m0 1.3h0m.3-2.3h0m0 1.9h0m.1-1.9h0m.2-.3h0m0 .8h0m.2-.2h0m0 1h0m.4-1.3h0m.1 .4h0m.2 .2h0m.2 .4h0m.1 .7h0m.1-.5h0m0 .2h0m.1-.1h0m.1 .8h0m.1-.7h0m.2-1.2h0m0 .2h0m.1-.1h0m.1 1.1h0m.6-1h0m0 .6h0m.1-.6h0m0 .4h0m0 .9h0m0 0h0m.1-.5h0m0 .6h0m.3 .4h0m.1-.2h0m.1-2.6h0m.3 2.9h0m.3-.7h0m.3-1h0m.1 .4h0m.7-1.6h0m.2 0h0m0 1.3h0m0 0h0m0 .8h0m.1-.3h0m.2 0h0m.3-.5h0m0 .3h0m0 .1h0m0 .1h0m.6 1.1h0m.4-2.5h0m.9 0h0m.2 .7h0m.3 0h0m0 1.7h0m.3-1.3h0m.5-.1h0m.7-.2h0m1.5-.4h0m1.2 .4h0m.4-.8h0m.4 .6h0m1.3 0h0m0 .7h0m-1.9 2.7h0m-2.8-.7h0m-.1 2.1h0m0-2h0m-.1 2h0m-.2-1.5h0m-.6-.6h0m-.2 1.8h0m-.2-2h0m-.3 0h0m0 0h0m-.3-.4h0m-.4 2h0m-.4 .7h0m0-2.8h0m-.1 2.4h0m0 0h0m-.1-.3h0m-.2 .6h0m0-1.1h0m-.3 1.1h0m0-2.4h0m-.1 2.4h0m0-2.3h0m-.3-.2h0m-.1 1.7h0m-.1-1.4h0m-.3 1.5h0m-.4 .2h0m0-.9h0m-.1 1.6h0m0-.4h0m-.1 .1h0m0-1.6h0m0-.6h0m-.4 1.2h0m0-.5h0m0-.8h0m-.2 .2h0m-.3 1.3h0m-.1 .4h0m0-1h0m0-.5h0m-.1 .4h0m0 0h0m0-1h0m-.1 .7h0m-.1 .9h0m0-.4h0m-.1 .2h0m-.1 0h0m0-1.3h0m-.1 0h0m-.1 2.2h0m0-1h0m-.2-.7h0m-.4-.5h0m-.1 1.9h0m0-.4h0m0-1h0m0-.6h0m-.1 1.4h0m-.2 .9h0m-.1 .5h0m-.1-.5h0m0-.7h0m-.1-1.7h0m-.1 1.9h0m-.3-1.8h0m-.1 2.6h0m-.1-.6h0m0-.5h0m-.1-1.6h0m-.1 2.3h0m0-1.2h0m-.1 .3h0m0-1.1h0m-.2 2.1h0m-.1 .1h0m-.4-1.1h0m-.5 1.1h0m-.4 .2h0m-.1-.5h0m-.2-.2h0m-.1 .6h0m-.2-.7h0m-.4-.6h0m-.3 .2h0m0-.8h0m-.4 .2h0m.5 2.4h0m.5 0h0m.2 1.4h0m.1 .4h0m.2 .3h0m.2-1.8h0m0 .2h0m.2-.4h0m0 .9h0m.4-.9h0m0 1h0m.1-.3h0m.1 .1h0m.3-1h0m0 .3h0m0 1.3h0m.2-1.2h0m.2 1.3h0m.2-1.2h0m.1 .7h0m.1-1.3h0m.3 .8h0m.1-.9h0m0 1.3h0m.1-1h0m0 2.4h0m.1-2.2h0m.2 .1h0m.1-.4h0m.1 2.1h0m.1-2.1h0m0 .3h0m0 .2h0m.1 1.2h0m.1-1.2h0m0 .2h0m0 .3h0m.1-.6h0m0 1.2h0m.2 .3h0m.4 .6h0m.1-2h0m.4 .7h0m0 .7h0m.1-2.1h0m0 .2h0m0 .6h0m.5 1.3h0m.1-1.2h0m.1-.1h0m.3-.4h0m0 .2h0m.1 1.8h0m.1-.6h0m.3-1.3h0m.2 .9h0m0 .9h0m.2-1.6h0m0 .3h0m.1 1h0m.1-1.8h0m.3 2.1h0m.9-2.3h0m.2 .4h0m0 1.6h0m.6-1.6h0m0 1.6h0m0 .3h0m.2-1.2h0m0 1.6h0m.5 .1h0m.1-1.9h0m.3 .7h0m.5-.6h0m.8 1.7h0m.3-1.3h0m.3 .7h0m.1-1.3h0m1.8 .2h0m1.4 .1h0m-.6 3.2h0m-.5 1.1h0m-2 .4h0m-2.2-2.1h0m-.1-.4h0m-.5 .6h0m-.2 1.6h0m0-1.7h0m-.1 1.7h0m-.4-2.2h0m-.1 1.2h0m0-.6h0m-.4 .7h0m0-1.3h0m-.3 1h0m-.4-.1h0m-.2-.1h0m-.2-.4h0m-.2 .7h0m-.2 1.5h0m-.2-.9h0m0-.4h0m0-.4h0m-.1 .5h0m-.1 1h0m-.3-1.2h0m0-.5h0m-.1 .9h0m0-1h0m-.5 1.9h0m-.1-2.3h0m-.1 0h0m-.3 1.5h0m-.5 .5h0m0-.3h0m-.2 .4h0m0-1.6h0m0-.9h0m0-.1h0m-.1 2.3h0m0-.4h0m0-.8h0m-.2 1.1h0m0-.7h0m-.1-1.5h0m-.6 2.8h0m0-.1h0m-.1-1h0m-.1-.1h0m-.1 .5h0m-.4 .5h0m-.3-.3h0m0-2h0m-.3 1.9h0m-.2-1.8h0m-.3-.4h0m-.2 .9h0m-.2-.9h0m-.3 2.1h0m-.1-2.1h0m-.2 1.7h0m.6 1.9h0m.2-.1h0m.6 .8h0m0 .9h0m0 .5h0m.1-2.2h0m.2 .8h0m.1-1h0m.2 .7h0m.1 .7h0m.1 .8h0m0 .4h0m.4-2.8h0m.4 2.4h0m0 .4h0m.3-2.1h0m.1 1.7h0m.4-2.1h0m.2 1.3h0m.4-1.2h0m.5 1.5h0m.1-1.8h0m.1 1h0m0 .6h0m0 .1h0m.1-.3h0m.1 1h0m.1-.9h0m.1 0h0m.1-.4h0m0 1.5h0m.2-2.6h0m.5-.2h0m.2 .1h0m.4 .3h0m.3 .4h0m0 2h0m.1-1.2h0m.2-1.2h0m0 1.6h0m.1 .4h0m.4-1h0m.3-.2h0m.2-1.2h0m0 .7h0m.2 0h0m.3 1h0m.5 .4h0m.2-1.2h0m0 1.7h0m.2 .3h0m.6-2h0m.1-.8h0m1.9 .5h0m0 .2h0m0 .1h0m1.1 1.6h0m2.1-.1h0m-2 2.9h0m-2.5-1.1h0m-1 .4h0m-.2-1.6h0m-.2 .5h0m-.1 2.2h0m-.4-2.4h0m-.3 1.4h0m-.9 0h0m-.9-.7h0m-.3 .5h0m-.5-1.4h0m-.1 .3h0m-.7 2.4h0m-.2-2h0m-.3 .2h0m-.1-.1h0m-1.7-.2h0m-.8-.6h0m-.1 1.1h0m0-.7h0m-.1 .1h0m-.5 0h0m-.3-.1h0m-11.2 3h0m3.5 .8h0m1.7-.2h0m1.4-.6h0m.9 2.3h0m.6-2.6h0m.8-.1h0m3.6 .6h0m0 1.3h0m2.9-1.5h0m.3 1.1h0m3.4-.8h0m1.4 0h0m-.7 4.3h0m-2.4-2.1h0m-2.8 1.4h0m-2.3 1h0m-3.8-2.1h0m-3 1h0m-.1 4.3h0m6.7-1.9h0m.7 .2h0m5.7 1.9h0m4.3-2.1h0m-17 2.7h0m9.7 3.4h0" stroke="#3a2698" stroke-width="0.85" stroke-linecap="round" fill="none"/><path d="M80.2 206.7h0m3.6 2.8h0m-2.4 .4h0m-1 0h0m-1-.1h0m-.2-2h0m-3.7 4.3h0m2.7-.6h0m.3-.3h0m.5 1.6h0m.4-2.5h0m.4 0h0m0 .1h0m.1 .5h0m.1 1.1h0m.4-1h0m.2-.1h0m.3-.4h0m.2 .6h0m0 .9h0m.2-1.5h0m.1 .1h0m.4 1.6h0m.1-.3h0m.1 .5h0m.3-.7h0m1.1-1.1h0m.3 1.5h0m2 0h0m1.3-.6h0m-3.4 2.5h0m-.3 1h0m-.6 .6h0m0-1.8h0m-1.3 1.1h0m-.4-1.9h0m-.2 .3h0m0-.2h0m-.2 2.6h0m-.1-2.3h0m-.4 .1h0m-1.2 2.3h0m-.4-.4h0m-.1-.6h0m-.1 1.1h0m-.1-1.4h0m-.6 1.2h0m-.4-1.2h0m-.1-.6h0m-2.9 3.7h0m4.4-.6h0m.6 1.2h0m1.3-1.2h0m2.5-.4h0m.1 .7h0" stroke="#332c88" stroke-width="0.8" stroke-linecap="round" fill="none"/><path d="M69.3 247.1h0m22.3 1.6h0m-16.5 2.4h0m-.9 2.6h0m1.6 1.2h0m3.9-1.1h0m2.9 1h0m13.8 2.9h0m-1.5 .2h0m-4.1-2.4h0m-.3 .1h0m-.9 2h0m-.2-2.2h0m-1.4 2.4h0m-.4-.3h0m-.8-2.2h0m-1.9 2.2h0m-1.8 .4h0m-1.4-1.6h0m-2.3 .7h0m-3.2-.4h0m-3.7-1.2h0m-1.1 .3h0m1.8 3.5h0m.8 1.4h0m1.6-.8h0m2.6 1h0m.8-.2h0m.3-.2h0m.5 .5h0m.5-.8h0m1.3-.9h0m1.1 .2h0m1.4 .9h0m1.1-2.1h0m1.8 1.1h0m.6 1.2h0m4-.5h0m.1 .3h0m4.1 0h0m1.5 .3h0m.9-.6h0m4.1-1.7h0m4.2 2.1h0m-4.4 1.7h0m-1.2-.8h0m-3 2h0m-.8-1.3h0m-1.9 .8h0m-1.8-.1h0m-.3-1.1h0m-1.5 2.3h0m-.5-1.5h0m-.4-1h0m-.3 .6h0m-.1 1.5h0m0-.8h0m-.2-1.4h0m-.1 1.2h0m-.2 1h0m-1-1.3h0m-.1 1.5h0m-.1 .1h0m0-.8h0m-.4-.3h0m-.2-1.4h0m-.4 1.8h0m-.2-.3h0m-.3 1.1h0m-.2-1.4h0m-.6 .4h0m-1 .8h0m-.4-2.2h0m-.3 .6h0m-.6-.5h0m-.7 0h0m-.4 1.5h0m-.8 .5h0m-.9 .3h0m-1.5-.3h0m-.4-1.2h0m-.8 1h0m-.8-.3h0m-.3 .2h0m-1.2 .3h0m-.6-.9h0m-.5-.6h0m-.9 .8h0m-2.7-.9h0m-3.3-.5h0m-.2 1.1h0m-2.2 .3h0m-5.1-1h0m1.5 3.3h0m6.3-.9h0m2.7 1.9h0m2.2 .5h0m0 .2h0m.2-1.5h0m2.9 .1h0m.4 1.1h0m.6-.9h0m1 .1h0m.1-1.8h0m.4 1h0m.5 .2h0m0 .4h0m.6-1.6h0m.9 2.1h0m.1-1.9h0m.4 1.9h0m.6-.7h0m.2 0h0m.6 .3h0m.9-.7h0m1.1 1.2h0m.5-2.1h0m.4 2h0m.2-1.5h0m0 .4h0m0 .7h0m.2-1.4h0m.1 2.4h0m.1-.4h0m.2 .4h0m.1-2.5h0m0 .4h0m.2 1.4h0m.1-.7h0m.7-.2h0m.1-.8h0m.1 2.2h0m.3-.9h0m.3-.3h0m.5 .7h0m0 .2h0m.6 .2h0m.2-.6h0m.4-1.6h0m.1 1.6h0m.4-1.7h0m.2 2.8h0m.1-1.5h0m0 .3h0m.2 .4h0m.4-1.7h0m0 .9h0m.2 1.1h0m.3-1.8h0m0 .8h0m.3-1.4h0m1.8 2h0m.1-.6h0m.3-.3h0m.4 1.6h0m.4-.2h0m0 .3h0m.1-1.8h0m.6 1.6h0m.6-.4h0m0 .1h0m.5-.8h0m.7 .8h0m1.5-1.6h0m3.2 1.2h0m1.9 .9h0m-.2 1.9h0m-2.2 .3h0m0-1.1h0m-1 .3h0m-1 1.7h0m-.8-2.6h0m-1.3 2.2h0m-.5-1.9h0m0-.5h0m-1 2.2h0m-1.5 .1h0m-.2 0h0m0-1.5h0m-.3 2h0m-.9-2.6h0m-.3 1.8h0m0 0h0m0-1.8h0m-.4 1.7h0m-1.4-.3h0m-.6 .2h0m-.2-.7h0m-.3 .2h0m-.1-.6h0m-.1 2.1h0m0 0h0m-.1-1.9h0m-.9-.7h0m-.4 1.9h0m-.1-.9h0m-.4 .3h0m-.1-1.2h0m-.1 2.1h0m-.1-2.4h0m-.2 2.1h0m0-1.8h0m-.1 1h0m-.3-.3h0m-.1 .5h0m-.4-.5h0m-.1 1.6h0m0-.7h0m-.2-.1h0m0-.2h0m0-.8h0m-.1 .3h0m0-.9h0m-.1 .9h0m-.2 .4h0m-.4 .5h0m-.2 .7h0m-.1 0h0m0-1.1h0m-.3-1.6h0m-.2 2.8h0m-.2-1.1h0m-.4 .2h0m-.2 .4h0m-.6 .3h0m-.5-2.3h0m-.3 2.1h0m-.1-1h0m0-.5h0m-.2 .4h0m-.1-.7h0m-.2 2.2h0m0-.8h0m-.1-1.8h0m-.4 .2h0m-.2 1.1h0m-.2 .2h0m-.1 .8h0m0-1.5h0m-.1 1.1h0m-.6-1.4h0m-.2 2h0m-.1-1.6h0m0-.4h0m-.2-.4h0m-.4 1.7h0m-.8 .2h0m-.6-1.6h0m-.1 .8h0m-.4-.9h0m-.3 .5h0m-1-1h0m-1.8 2.8h0m0-1.5h0m0-.5h0m-.1 1.1h0m0-.4h0m-1.1 .3h0m-1.8 .8h0m-.4-.1h0m-.3 .3h0m-1.6-1.1h0m-.5 1h0m-2.1-.4h0m-6 0h0m2.6 .7h0m3.5 2.3h0m1.7-1.1h0m.3 .2h0m1 .2h0m.2 .1h0m1.3 1.1h0m.4-1.9h0m.1 1.5h0m1.9 .2h0m.9-1.3h0m.7 .2h0m0 1.1h0m.6-1.1h0m.7 1.1h0m.5-.2h0m.7-2.5h0m.3 1.5h0m.4 1h0m.1-2.5h0m0 1.2h0m.8 .3h0m.3-.2h0m.1 .2h0m.6 0h0m.2 0h0m0 1.4h0m.4-.7h0m.4-.6h0m.1-.3h0m.1 1.1h0m.2 .4h0m.1 .1h0m.4-2.9h0m0 1.3h0m0 .9h0m.6-1.5h0m.7 .7h0m0 1.4h0m.2-2.8h0m.4 0h0m.4 .1h0m.1 .1h0m.1 2.6h0m0 0h0m.7-.3h0m.1-2.2h0m.6-.1h0m0 1.8h0m.3-1.8h0m.2 .8h0m0 .8h0m.2 .8h0m.3-2.6h0m.2 2.6h0m.9-2.3h0m1 .5h0m.3 1.7h0m.3 .1h0m.1-.6h0m.4-.3h0m.2 .1h0m0 .7h0m.3-.3h0m0 .3h0m.1-.1h0m.6-1h0m0 .9h0m.1-.5h0m0 .2h0m.1-1.4h0m0 2.2h0m.3-1.6h0m.1 1.7h0m1.3-2.3h0m.2 .5h0m0 .9h0m.2-.3h0m0 .2h0m.3-.9h0m.3-1h0m0 .9h0m.1 .6h0m.2-1.2h0m.5 .6h0m0 1.3h0m.1-2.2h0m.1 2.5h0m.1-1.6h0m.1 .4h0m.5-.8h0m0 1.3h0m.1 .6h0m1.7-.4h0m.9-.6h0m.2-.1h0m.3-1.2h0m.5 1.1h0m.1-.6h0m.1 1.9h0m.1-2.3h0m.3 2.4h0m.5-.6h0m.3-1.6h0m.1 1.3h0m1.2 .3h0m.4-.9h0m.1 .5h0m.1-1.4h0m1.1 1.3h0m8.8 2.4h0m-5.6 1.9h0m-4.2-2.5h0m-.6 1.4h0m-.3-1.4h0m-.7 .9h0m-.2 .9h0m-.4-1.8h0m-.5-.2h0m-.2 2.7h0m-.9-2.1h0m-.2 1h0m-.5-1.7h0m-.4 1.5h0m-.2 1.3h0m-.2-.1h0m-.4 .1h0m-1-.3h0m-1.2-.7h0m-.5-.5h0m-.2 1.6h0m-.1-.1h0m0-.9h0m-.2 .3h0m-.3-1.6h0m-.5-.6h0m-.6 1.4h0m-.5 0h0m-.9 1.3h0m-.1-1.6h0m-.2 .3h0m-.2-.4h0m-.2-.4h0m-.1 .6h0m-.1 .5h0m-.1 1h0m-.7-.2h0m0-.1h0m0-1.6h0m-.1 .9h0m-.4 .1h0m-.3 .4h0m-.5-1h0m-.5-.8h0m-.1 2h0m-.2-.1h0m-.1-1.1h0m-.1-1h0m-.2 .9h0m-.2-.8h0m-.3 2.2h0m0-1.7h0m-.1 .6h0m0-.4h0m-.1-.7h0m-.2 1.8h0m-.1-1.9h0m-.1 2.3h0m-.1-.1h0m-.4-1.5h0m-.2 1h0m-.2-1.3h0m-.7 .1h0m-.2 2.2h0m0-.1h0m-.1-.6h0m-.2-.7h0m-.3 .2h0m0-1.2h0m-.1-.2h0m-.1 .7h0m-.3-.2h0m-1.1 .3h0m-.1 1.4h0m-.1-2.1h0m-.1 1.7h0m-.4-2.1h0m-.1 1.6h0m-.2-.1h0m-.4-1h0m-.1 1.9h0m0-.2h0m-.3-.1h0m-.2-.2h0m-.2 1h0m-.8-1.1h0m-.6 .6h0m0-.6h0m-.1 .5h0m-.1-.6h0m0-1.7h0m-.3 .1h0m-.6 .3h0m0-.2h0m-.3 1.8h0m-.1 .8h0m-.5-1.6h0m-.3 .6h0m-.1 .9h0m-.3-2.5h0m-.4 .7h0m-.6 1.9h0m-.1-1.4h0m-.6 1h0m-.7-2.2h0m-.2 1.5h0m-1.1 .4h0m-.6-.7h0m-1.3-.6h0m0-.2h0m-.6 .6h0m-3.8 1.3h0m-3.8-1.4h0m-4.1 0h0m8.3 4.5h0m1.6-1.6h0m4.9-1h0m1.5 2h0m.3-1.7h0m1 .8h0m.1 1.2h0m.7-1.2h0m.2 1h0m.1-1.3h0m.3-.1h0m0 .2h0m0 1.2h0m.1-1.1h0m.6 1.2h0m.1-1.4h0m.1 1.6h0m.2 .2h0m.1-1.1h0m0 .1h0m.4-1.6h0m.6 1.5h0m.4 1.3h0m1.3-1h0m.7-1.7h0m.8 1h0m.3 1.4h0m.2-2.1h0m0 2.1h0m.5-1.6h0m0 .4h0m.3 .8h0m.4-.7h0m.3 .2h0m.1-.5h0m.1-.7h0m.1 1.3h0m.2 .9h0m.1-1.8h0m.6 2.1h0m.1-1.4h0m.2-1h0m0 1h0m.3 1h0m.2-2h0m.1 .8h0m.1 1.2h0m1.3 .3h0m.4-.6h0m.1-.3h0m1.4-.2h0m.9-1.4h0m.1 2.1h0m.1 .1h0m.2-.3h0m.2-1.2h0m.1 .6h0m0 1h0m.3-.2h0m.4-2.3h0m.6 2.8h0m.3-1.4h0m.2 1.4h0m.4-2.2h0m.4 2.1h0m.2-1.1h0m.2-1.6h0m.1 .1h0m.3 1.3h0m.1 .2h0m.1-1h0m.2 1.3h0m0 .8h0m.3-.6h0m.5-2.2h0m.6 2.5h0m.5-.5h0m.4-1.8h0m3.3 .3h0m.5 .2h0m1.5 .5h0m.1-.2h0m3.2 0h0m0 1.2h0m1.7 .6h0m1.7-2h0m.8-.5h0m-4.7 4.7h0m-.1-1.3h0m-.2 .4h0m-3-.8h0m-.6 .2h0m-1.1 2.3h0m0-1.7h0m-1.4 1.8h0m0-1.5h0m-1.5-1.4h0m-.3 1.6h0m-.3-1.5h0m-.4 .3h0m-.1-.3h0m-1.7 .6h0m-.2 .3h0m-.4-.7h0m-1 1.8h0m-.5 .7h0m-.7-.5h0m-.1 .4h0m-.5-1.5h0m-.4-.3h0m-1.3 1.3h0m-1.3-.8h0m-.8 1.1h0m-.5 .3h0m-.2-2.7h0m-.1 2.3h0m-.1-2.3h0m-.1 1.3h0m-1 .5h0m-.2-1.5h0m-.2 .2h0m-.1 2.2h0m-.1-.5h0m0-2.2h0m-.4 2.8h0m-.2-1.4h0m-.1-.6h0m-.3 1.2h0m-.1-2h0m-.4 .9h0m0-.3h0m-.6 1.6h0m-.2-.1h0m0-1.5h0m-.3 .2h0m-.1-.1h0m0-.7h0m-.1 2.6h0m-.3-2.3h0m-.2 .2h0m-.4 .3h0m-.4 1.6h0m0-.8h0m0-1.1h0m-.1 .9h0m-.5-1.4h0m-.2 .6h0m-.7 .5h0m-.5 .1h0m-.3 1.4h0m-.8-2.6h0m-.7 .3h0m-.1-.2h0m-.1 1.5h0m-.3-1.3h0m-.1 1h0m0-1.2h0m-.4-.1h0m-1.9 2.5h0m-5.9 1h0m2.8-.4h0m6.4 1.9h0m.3-1.3h0m.8 2h0m.9-.7h0m.3-.6h0m.4 .6h0m.5-1.8h0m0 1.8h0m.4-1.5h0m.2 .4h0m.4 .1h0m.5 1h0m.3-1h0m2.3 .6h0m.1 .3h0m.4 .1h0m.3-.9h0m1.1-.8h0m.1 .4h0m.6-.4h0m.9 1.7h0m.2-1.2h0m0 2h0m.7-2.5h0m.7 1.2h0m.4 .3h0m.3 .3h0m.2-2h0m.4 .9h0m.5 1.2h0m.1-1.1h0m.4 0h0m.7-.8h0m.1-.1h0m0 1h0m.1 .3h0m.5 .6h0m3.4-1.8h0m.6 .5h0m1.5-.5h0m.8 .7h0m.6 1.5h0m.6-2.2h0m.3 1.2h0m.2 .8h0m2.3-.3h0m0 .6h0m.3-1.3h0m-.1 2.1h0m-4.4 1.4h0m-.3-1.4h0m0 0h0m-4.6 1h0m-.5 .7h0m-.5-1.6h0m-1.2-.4h0m-.8 1.5h0m-.5-1.5h0m-1.7 1.6h0m-.8 .5h0m-.1-.8h0m-.1-1.4h0m-.3 .6h0m-.5 1.2h0m-.2 .7h0m-.1 .1h0m-.7-2.1h0m-.7 .4h0m-1.3-.1h0m-1.1 .1h0m-.5-.7h0m-.4 .1h0m-.6-.1h0m-.3 2.3h0m-.4 0h0m-3.2-.1h0m-.4-.7h0m-.1-1.6h0m-1.6 2h0m-1.8 0h0m-7.3 1.8h0m8.8-.6h0m3-.3h0m.5 1.9h0m2.6-.3h0m2.2-.4h0m.1-1.1h0m2.7 .7h0m5.2-.4h0m.4-.4h0m.1 1.2h0m1.2 .4h0m1.3-1.4h0m1.6 .7h0m-2.9 3.4h0m-9.1 1.2h0m-2.3-1h0m-7.4 .7h0m-.2-1.5h0m7.1 4.9h0" stroke="#3b58b8" stroke-width="0.8" stroke-linecap="round" fill="none"/><path d="M82 155.7h0m.7-.3h0m1.2 .1h0m2.7-1.1h0m.9 1h0m5.7-2.3h0m-3 4.8h0m-2.6 0h0m-.1 .1h0m-.3-1.5h0m-.5 2.2h0m-.6-.4h0m-.1-.9h0m-.1-.8h0m-.1 1.7h0m-.3 .5h0m-1.2-1.7h0m-.6 .8h0m-.6-.5h0m-.7-.3h0m-.5-.3h0m-.6-.1h0m-2.9 5.2h0m.4-1.4h0m1.2-.9h0m.9-.5h0m.1 1.6h0m.5 1h0m.6-1.1h0m.1 .8h0m.3 .3h0m.2 .1h0m.2-1.9h0m.1 1.7h0m.2-2.6h0m.1 1.6h0m0 .5h0m.2-.7h0m.5-.7h0m.4 1.6h0m.8 .1h0m.1-1.8h0m.3-.5h0m.1 1.1h0m.1 1.3h0m.1-1.9h0m0 1.4h0m.4-1.4h0m.9 1h0m0 1h0m.3-1.7h0m0 .9h0m.3-1.1h0m.2 2.2h0m.7-2.1h0m.7 1.1h0m0 .4h0m1 .1h0m.1-2.1h0m1.9 4.1h0m-4.7 1h0m0-.2h0m0-1.9h0m-.3 .1h0m-.8 .1h0m-.1 1.1h0m-.1 .1h0m-.5-.2h0m-.1-1.5h0m-.3 1.2h0m-.1 1.1h0m0-1.1h0m-.1 .6h0m-.2-.2h0m0-.1h0m-.1 .3h0m-.2 .1h0m-.1-1.9h0m-.5 1.4h0m-.1 1.1h0m-.1-.7h0m-.2-1.7h0m-1.1 2.2h0m-.3-1.6h0m-.1-.7h0m-.5 1.1h0m-.5-.7h0m-.1 0h0m-1 2.8h0m.4 0h0m.3 1.5h0m1.3-.9h0m.3 .4h0m1.3 .1h0m.4-.7h0m0 .6h0m.4-.2h0m.2 1.6h0m.9-1.4h0m.2-.5h0m.3 .1h0m.2 2h0m.3-1.4h0m2.4-.7h0m.5 .3h0m-1.6 2.7h0m-.9 1.7h0m-2.5-2.2h0m-3.7 1h0m-2.9-.3h0" stroke="#6a66b2" stroke-width="0.8" stroke-linecap="round" fill="none"/><path d="M90.9 149.1h0m2.5-1.9h0m0 1.1h0m4.8 2.2h0m-6.3 4.8h0m3.3-.2h0m3 2.8h0m-1-.1h0m-.2 .4h0m-1.2-.9h0m-2.7 1.3h0m-3.2-.7h0m3.8 1.4h0m2.4 2.1h0m2-2.2h0m1.3 2.3h0m.3 0h0m-1 3.3h0m0-1h0m-1-.2h0m-.6-1.2h0m-.2 .9h0m-2.9 1.6h0m-3.7-1.7h0m-1.8 3.8h0m4.8-1.3h0m.1 1.7h0m.1-1.6h0m.4 .3h0m.4 .6h0m1.7-1.4h0m0 .1h0m.2 .7h0m.4-1.1h0m1.1 1.6h0m.6 1.2h0m1.2-2.4h0m-3.2 3.9h0m-.4 0h0m-.3 1.3h0m-.1-.7h0m-.8 .9h0m-.5-2.1h0m-1.6-.6h0m-2.1 4.9h0m2-2h0m.1 0h0m1.1 1.5h0m.2 .1h0m.1 0h0m0 .3h0m1.2-1.6h0m.3 1.9h0m2.4-.6h0m2.1-.7h0m-1.8 4.5h0m-1-1.6h0m-1.9 2h0m-2.1 4h0m1.5 1.1h0" stroke="#d89ac8" stroke-width="0.8" stroke-linecap="round" fill="none"/><path d="M102.8 170.2h0m-8.6 9.5h0m-17.2-1.1h0m3.5 3.2h0m5.6 .3h0m11.3-.2h0m12.4 .9h0m15.6-2.5h0m2.4 2.2h0m-3.2 3.4h0m-10 1h0m19.4 2.5h0m-9.7 1.5h0m-1.3-1h0m-6.5 .8h0m-17.6-1.7h0m-.1 2.1h0m-5.5-1.7h0m-2.6 1.9h0m-2.5 .7h0m9.6 2h0m2.3-1.5h0m.5 1.3h0m1.9-1.4h0m13 .3h0m15.9 3.1h0m-4.2-.5h0m-.7 .5h0m-8-.3h0m-.3 1.6h0m-6.9-.6h0m-7-.7h0m-16.2 1.5h0m10.9 1.3h0m4.5 1.3h0m.6 .3h0m3.7-1.9h0m1.7 1.6h0m2.5-.4h0m1.7-1.3h0m.3 1.2h0m2.3 1.2h0m.9-2.2h0m3.8 .6h0m.1 .1h0m1.4 .8h0m2.1-1.7h0m2.3 .4h0m2.6 1.6h0m.9-.6h0m.2 .1h0m.3 1.6h0m-5.5 2.5h0m-4-2.6h0m-2.1 2.2h0m-.4-.8h0m-4.8-.1h0m-4.3-1.1h0m-.4 1.6h0m-1.5-1.5h0m-4.7-.2h0m-.8 .9h0m-7.2-.3h0m-.7-.1h0m-12.6-.4h0m12.1 3.4h0m6.8-.4h0m1.2 1.2h0m.5 .2h0m4.5 .3h0m3.9 .8h0m.7-2.9h0m2.3 2.9h0m1.5-.3h0m1.3-1.3h0m1.8-1.1h0m.4 2.1h0m.2 .3h0m14-.7h0m.2-.4h0m15.7-1.2h0m-7.3 4.5h0m-5.3 .5h0m-9.7-.9h0m-1.1-.2h0m-.4 1.3h0m-1.2-2.3h0m-.5 1.8h0m-1.2 .6h0m-1.8-1.2h0m-3.5-.9h0m-.1 2.1h0m-2.4-2.2h0m-.3 .4h0m-1.4 .6h0m-1.6-.2h0m-3-.1h0m-.9-.3h0m-.3 1.6h0m-.8-.5h0m-.5 1h0m-.6-1.4h0m-.4 .6h0m-1.9-1.3h0m-1.5 .9h0m-.1-.5h0m-1.6 1.1h0m-.6-1.4h0m-8.9 .7h0m-17.1 1.6h0m11.6-.1h0m.7 2.5h0m1.4-.3h0m1.7 .3h0m1-2.5h0m0 1.2h0m1-.8h0m4.2 1.8h0m.7-.4h0m3-.4h0m0 .4h0m1.5-1.4h0m5.9 2.4h0m.7-.7h0m.1 .4h0m.7-2.5h0m0 1.8h0m.1-1.5h0m2.3-.4h0m.6 .4h0m.2 2.1h0m2.2-1h0m.4-.1h0m.6 1h0m7.1-1.9h0m.8 1.5h0m1.9-1.1h0m1 2h0m1.4-1.6h0m.7 .1h0m3.2 .3h0m.3 .4h0m.7-.5h0m4.5 1.3h0m.8-1.3h0m1.8 1h0m-.8 .8h0m-.4 0h0m-4.4 1.8h0m-1.2-1.6h0m-2.3 .4h0m-1.1 1.5h0m-3-2.3h0m-2.4 2.3h0m-1.2-1.1h0m-.1 .3h0m-2-1h0m-.6 2h0m-.7-2.6h0m-1.2 1.5h0m-.6 1.1h0m-.4-1.5h0m-.8 .3h0m-.7 .1h0m-.1-1h0m-.8 1.8h0m-1.2-.5h0m-1.7-.8h0m-.7 1.1h0m-.5-.9h0m-3.2-.2h0m-.4 .2h0m-.4 .3h0m-.6-.4h0m-.7 .6h0m-2-.5h0m-2.4-.7h0m-.4-.2h0m-.3 2.5h0m-2-1.7h0m-8.9-.4h0m-4.7-.4h0m-.6 1.5h0m-8.2 3.6h0m13.8-.3h0m3.4-.1h0m3.7-.1h0m1.5-1.1h0m1.6 .5h0m1.8-.8h0m1.9 2.1h0m.3-.7h0m.5 .2h0m.5-.5h0m.8-1.4h0m.2 1h0m.4 0h0m.1-.9h0m1.4-.4h0m.2 1.9h0m.1-1.7h0m.1-.2h0m.5 1h0m.2 1.4h0m4.2-2h0m1.3 2h0m1.8-2h0m3.1 1.6h0m.9-2h0m.4 1.8h0m5.2-1.3h0m.1 2.2h0m.3-.3h0m.1-1.1h0m.7 .8h0m.7-1.1h0m0 .1h0m0 1.2h0m2.4-1.8h0m3.2 1.4h0m6.1-.6h0m3.9 1.2h0m-2.3 2.2h0m-4.3 .1h0m-7.3 0h0m-1.6 .6h0m-.1-1.4h0m-.4 1.2h0m-.5 .7h0m-.4-.4h0m-.8-.8h0m-1.7-.3h0m-.2 1.4h0m-.9-1.3h0m0-.6h0m-.4 .2h0m-.2 .3h0m-.2 .2h0m-.5-1.3h0m-1.8-.3h0m-.4 1h0m-.3-.6h0m-.2-.2h0m-.7 1.6h0m-.2-.1h0m-.1-.7h0m-.2 1.9h0m-1.2-2.4h0m-.1 1.8h0m-.3-1.7h0m-.3 .7h0m-.3 0h0m-.6 1.4h0m-1.1-.8h0m-.5 .2h0m0-.4h0m-.2-1.3h0m-.4 2.3h0m-.4-.5h0m-.6-.3h0m-.8-1.2h0m-.4 1.2h0m0-.2h0m-1 .8h0m0-2.1h0m-.1 1.7h0m-.4-1.2h0m-.1 .8h0m-.4-.2h0m-.6-1.3h0m-1.4 2.2h0m-.2-1.3h0m0-.9h0m-.6 .6h0m-1.7 .6h0m-5.8 .1h0m-.1 1.4h0m-2.2-2.1h0m-3.9 2.1h0m-.6-1.4h0m-6.2-.8h0m-1.1 .6h0m-12 3.6h0m5.3-1.9h0m16 1.9h0m2.6-1.2h0m1 1.1h0m.7-.2h0m.9 .5h0m.1-1.9h0m.1 1.5h0m1.6-.2h0m2.4 .8h0m0 .3h0m.4 .3h0m.3-1.2h0m.1-.7h0m1.1-.8h0m1.6 .5h0m.4 1.9h0m.3-1.9h0m.2-.6h0m.9 1.4h0m.1 .2h0m.2 .2h0m.1 .6h0m1.5-1.7h0m.5 .6h0m0 1.3h0m.4-2.1h0m.2 2.2h0m.5-1.6h0m.1-1h0m.4 1.1h0m0 1h0m1 .3h0m1.4 .1h0m.7-.9h0m.5 1.1h0m.1-2.7h0m0 1.7h0m.1-.5h0m.8 .1h0m1.4 .6h0m.4-1.8h0m.4 1.5h0m1-1.7h0m.7-.1h0m.3 2h0m.1-.7h0m2.3 1.1h0m1.4 .1h0m.2 .3h0m.6 .1h0m.1-1.6h0m1.2 1h0m.8-2.1h0m.9 .9h0m.5 1h0m.5-2.1h0m1.2 2.6h0m.2-1.8h0m.8 1.3h0m1.8 .6h0m.6-1.6h0m1-.4h0m.4 .7h0m.7 1.1h0m.3-.4h0m1.4 .4h0m4.9-.8h0m1.1-.9h0m1.3 .3h0m.3-.9h0m3 3.1h0m-9.7 .3h0m-1.7 .8h0m-1.7 .8h0m-.9 0h0m-.5 .4h0m-.2-2.2h0m-.8 1.9h0m-2.8 .6h0m-.8-1h0m-1.3-.1h0m-.5-.7h0m-1.2 .2h0m-.4-.5h0m-.1 0h0m-.5 0h0m-.1 .8h0m-.8-.2h0m-.1-.1h0m-.2 1.4h0m-.4-1h0m-1.1 1.1h0m-.2-1.5h0m-.1-.4h0m-.5 1.8h0m0-.3h0m-.1-.8h0m-.6-1.2h0m-.1 .2h0m-.4-.2h0m-2.4 .3h0m-.2 .7h0m-.3 .2h0m-.2 1h0m-1 .1h0m0-2.2h0m-.7 .1h0m-1.9 1.3h0m-1.3-1.4h0m-.1 .5h0m-.3 1.4h0m-1.3 .1h0m-.4-2.1h0m-.2 1.7h0m-.4-1.7h0m-.3 .9h0m-.1-1h0m0-.2h0m-.9 2.5h0m-.3-1.7h0m-.4-.4h0m-.1-.5h0m-.3 .7h0m-.2 1.8h0m-.1-1.6h0m-.3 .2h0m-.2-.1h0m-.2 0h0m-.3 .2h0m-.3 .4h0m-.2-.8h0m-.1 1.2h0m0-1.8h0m-.8 1.5h0m-.9-.3h0m-.4-.2h0m-1 1.6h0m-.1-2.5h0m-1.9 2.6h0m-1.9-1h0m-.7 .3h0m-.2-1.2h0m-.8-.1h0m-.7-.3h0m-4.1 2.1h0m-2.3-2.3h0m-1.5 1.6h0m-.4-.7h0m3.4 2.5h0m1.6-.1h0m3.2-.6h0m.9 2.3h0m.9-1.8h0m1.3-.2h0m.2 2.5h0m.2-1.7h0m.8 1h0m1.5-.2h0m2.7 .7h0m.4-.8h0m.1 1h0m.1-.5h0m.8-2.1h0m.2 .7h0m.2 0h0m.7 1.4h0m.7-.6h0m0 .6h0m1.4 0h0m1-2.2h0m1 .5h0m.5 1.6h0m.5-.5h0m.1-1.7h0m.6 2.3h0m.9-.9h0m.5 1.2h0m.2-1.6h0m.1 0h0m.4 .9h0m.3-1.3h0m.1 .7h0m.8 1.1h0m.4-1.4h0m.3 1.3h0m2-1.8h0m.1 0h0m2.6 2.2h0m1.2-1.1h0m.5-.7h0m0 .5h0m.4-1.5h0m.2 1.3h0m.9-.5h0m0 1.1h0m.9 .6h0m2.4 .2h0m.1-.9h0m.3-.4h0m1.3 1.3h0m1.2-.8h0m.5 .8h0m.3-1.4h0m.3 1h0m.6-.4h0m3.1 .4h0m.9-.9h0m2.2 .7h0m.9 .4h0m1.6-2h0m7.5 2.8h0m-4.1 .8h0m-1.8 1.2h0m-6.5 .3h0m-.3-1.8h0m-.1-.3h0m-.9 2.4h0m-1.4-2.7h0m-.7 2.7h0m-1.6-1.9h0m-1.5-.3h0m-.3 .8h0m-4.4 1.1h0m-.1-.7h0m-.3-1.7h0m-.5 .4h0m-.1 2.3h0m-.1-2.2h0m-.5 .1h0m-.4 1.7h0m0-2h0m-.1-.1h0m-.2 1.6h0m-3 .5h0m-.7-1.7h0m0-.7h0m-.3 0h0m-.4 1.5h0m-.2-.7h0m-.7 .8h0m-.2 .6h0m-1.2 .4h0m-1-2.4h0m-.3 2h0m-.1-.9h0m-1 .3h0m-.2 .8h0m-.4-2.1h0m-.3 1.7h0m0-.9h0m-.7 .4h0m-.3 .7h0m-.3 .1h0m-1-1h0m-.6 .5h0m-.3-1h0m-.3 .5h0m-.7-.5h0m0-.7h0m-.6 1.8h0m0-1.6h0m-.3 2.1h0m-.3-1.6h0m-.1 1.6h0m-.3 .2h0m-1.7-1.8h0m-.7-.6h0m-.8 .1h0m-.2 1h0m-1.9 .1h0m-.4-.4h0m-1-.3h0m-1.9 0h0m-.2 1.3h0m-.6-1.7h0m-.5 .7h0m-1.6-.3h0m-3.8 .6h0m-6.4 2.1h0m2.3 .7h0m4.1-.8h0m4-.3h0m1.8 1.9h0m2.7 .1h0m.5-.9h0m.5-.3h0m.6 1.8h0m1-1.4h0m.8 .6h0m1 .3h0m.7-1.9h0m1.2 1.8h0m1.1-1.7h0m1.4 1h0m.5 .9h0m0 .2h0m.4-.9h0m.5-1.3h0m1.2-.3h0m.4 1.5h0m.9 0h0m.1-1.4h0m.4 .9h0m0 .3h0m1-.9h0m.1 2h0m.4 .3h0m.9-.4h0m1 .1h0m.5-2.4h0m.1 .4h0m2 2.1h0m.5-.5h0m.1-1.9h0m.4 1.2h0m.9-.1h0m1.5 1.5h0m.2-.5h0m.2 .3h0m.1-2.3h0m.3 .1h0m.8 .2h0m.2 .9h0m.3 1.5h0m.8-2h0m1.8 1.4h0m1.7-1.3h0m.1 1.5h0m.2 .4h0m.9-1.1h0m3-1.6h0m2.9 .7h0m.5 1.7h0m1.2-2.3h0m.2 1.7h0m.1-.4h0m.5-1.1h0m4.6-.4h0m6.3 1.3h0m-9.8 1.6h0m-2 1.3h0m-1.4-.8h0m-.2 2.1h0m0-2.4h0m-.8 .2h0m-.6 1.8h0m-1.1-.1h0m-.4 0h0m-2.4-1.8h0m-.9 2.1h0m-1.6 .4h0m-.3-2.3h0m-1.6 .1h0m-.5 2.1h0m-1.7-1.4h0m-.7 .4h0m-.1-.6h0m-.2 1h0m-1-1.7h0m-.1 .1h0m-.2 .1h0m-.2 2.1h0m0-2h0m-1.7 .2h0m-.3-.1h0m-.3 .2h0m0-.3h0m-.3 1.4h0m-.7-.3h0m-.7 .9h0m-.3-2.5h0m-1.8 2.6h0m-.1-1h0m0-.4h0m-.2-.2h0m0-.2h0m0-.2h0m0-.7h0m-.1 1h0m-.1 1.1h0m-.3-1.4h0m-.5-.5h0m-.5 1.6h0m-.3-.6h0m-.6 1.4h0m-.4-2.2h0m-.4-.3h0m-.1 2.4h0m-1.5-2.2h0m-.7 1.8h0m-.1 .6h0m-.3-1.6h0m-.4 .9h0m-.5-.6h0m-1-1.1h0m-.8-.3h0m-2 1.6h0m0-.3h0m-1.3 .9h0m-.1-.5h0m-.6 1h0m-2.1-.1h0m-.3 0h0m-.3-2.2h0m-2.8 1.5h0m-1.9-.7h0m-4.3 .1h0m-2.2 0h0m-1.6-.5h0m-10.9-.5h0m16.3 3.3h0m1.3 1.9h0m2.7-.4h0m2-1.9h0m2.1 .1h0m.6-.3h0m2.5 1.2h0m.4 .6h0m.4-.6h0m.3-1.1h0m1.8 1.4h0m.5 .4h0m.3-1.9h0m1.3 1.7h0m1.5 .8h0m1.5-2.3h0m.1 1.9h0m1.8-1.5h0m.3-.5h0m.3 1.1h0m.5-.6h0m0 .2h0m.1 1.1h0m.9-2h0m.1 2.5h0m.9-1.9h0m.2 2.2h0m.3-.8h0m.8 .1h0m.2 .7h0m1-1.7h0m.6 1.2h0m1.9-.5h0m.6-.7h0m.1 .2h0m.3-.6h0m0 .2h0m0 .8h0m0 .1h0m.5-.8h0m.7 .4h0m.9-1.1h0m.2 1.6h0m1.2-.2h0m.2 1.1h0m.1-.4h0m.2-1.7h0m0 2.2h0m2.2-1.6h0m1.5 1.3h0m.5-1.1h0m3.6-.6h0m1.9 .8h0m.8-.6h0m1.6-.2h0m.3 1.5h0m2-.4h0m-.9 1.1h0m-1.3 1.3h0m-2.4-.6h0m-1.3 .3h0m-3.1 .4h0m-.7 1.2h0m-.2-.6h0m-.2 .7h0m-2.1-1.9h0m-.7 1.5h0m-.1-.8h0m-1.9-1.4h0m-1.5 .8h0m-.4 1.8h0m-.5-1.5h0m-.7-.9h0m-2 .3h0m-.1-.5h0m-.3-.1h0m-.8 .1h0m-.1 2.7h0m-.1 0h0m-.3-2.9h0m-.9 2.7h0m-.5-.3h0m-.7 .3h0m-.8-1.9h0m-.3 .8h0m-1.3 .6h0m-.6-2.2h0m-.1 1.3h0m-.3-.6h0m-.2-.7h0m-.4 2.1h0m-.1 .3h0m-.6-.4h0m0-1.7h0m-.3 .9h0m-.9-.7h0m-.1-.3h0m-1.3 .6h0m-.1 .5h0m0-1h0m-.1 .9h0m-1-1h0m-1.7 1.8h0m-1-.9h0m-1 0h0m-1.7 .2h0m-.6 1.6h0m-.3-1.9h0m-1.4 .4h0m-1.3 1h0m-.7 .3h0m-.9-1.7h0m-.3 .2h0m-5.6-1h0m-1.7 .5h0m-.9-.3h0m-6.6 1.5h0m5.1 3.4h0m5-1.7h0m1 2.1h0m1.3-.5h0m3.8-.1h0m.4 .2h0m1.6-1.1h0m2.2 .3h0m.1-1.2h0m.5 2.2h0m1-1.8h0m.5 1h0m0 .6h0m3.4-1.3h0m.3 1h0m2.1-1.5h0m1 .5h0m.4 .1h0m.3 1.4h0m.4-1.4h0m.5 .8h0m.3 .8h0m.1 .1h0m.5-1.2h0m.1 .2h0m.2-1h0m3.3 1.3h0m1 .7h0m.2-2.1h0m1 1.2h0m.9-1h0m1.9 1.1h0m0 .1h0m.1-.2h0m.6 .9h0m.1-1.1h0m1.1 .5h0m.4-.8h0m1.7-1.3h0m3 1.4h0m1.1-1.1h0m.1 1.5h0m1.4-1.9h0m.1 1.2h0m.4 1.6h0m.2-.9h0m0 .6h0m3.1-1.8h0m1.2 1.1h0m1.7-1h0m-4.6 2.5h0m-3.9 1.2h0m-1.2-.4h0m-2.5 .6h0m-1-1.3h0m-.8-.4h0m-.2 2.9h0m-1 0h0m-.6 0h0m-.7-.8h0m-.6-2.1h0m-.7 2.4h0m-.7 .1h0m-.4-.9h0m0-1.4h0m-1.1 .9h0m-2.4 .4h0m-1.3-1.2h0m-.6 2.1h0m-.4-2.1h0m-.3 .8h0m-4.5 .5h0m-.6 1.2h0m-2.3-.5h0m-1.3 .6h0m-2.1-2h0m-2-.8h0m-14.1 1.8h0m1.3 3.5h0m3.2-.3h0m1.6-.2h0m7-1.9h0m.6 .9h0m1.8-.6h0m1.2 .8h0m2-.1h0m1 1.3h0m5-1.9h0m.2 1.5h0m.5 1h0m1.7-.2h0m.1 .2h0m.2-2.8h0m1.2 .7h0m1 .8h0m.5-1h0m.7 .7h0m.6 .7h0m1.1-1.3h0m.2 1.3h0m1-1.5h0m.6 .6h0m.6 .8h0m.7-1.8h0m.3 2.2h0m2.1-.7h0m1.8 .6h0m-.1 1.5h0m-.8 .5h0m-.1-.1h0m-.4 0h0m-3.3 1.4h0m-1.2-.7h0m-2.1-.1h0m-2.5-1h0m-.1 .9h0m-.7-.7h0m-.5-.6h0m-3.6 .2h0m-2.8 .9h0m-.7-.2h0m-1 .3h0m-1.2-1.2h0m-1 1.6h0m-1-1.5h0m-1-.4h0m-.9 .4h0m-2.8 1.6h0m-15.4 .2h0m6.6 1.9h0m12.3-.9h0m3.3 1.3h0m.8-1.2h0m1.5 .6h0m3.6-.7h0m.2 .8h0m.8 1.5h0m2.7-.2h0m.4-.2h0m3.9-1.1h0m2.7 1.5h0m.4-1.7h0m1-.3h0m.9 1.2h0m1.1-1.5h0m2.3 1.3h0m.5-1.1h0m-.5 5.5h0m-1.7-1.3h0m-.3 .1h0m-3.3-.3h0m-3.6 .2h0m-.9-1.3h0m-9.6 2.3h0m-2.9-1h0m-3.5-1h0m-2.2 1.9h0m-.1-2.5h0m-9.5 3.3h0m18.9-.2h0m.4 .2h0m1.3 1.3h0m2.1-.7h0m7.1 .8h0m4.7-.8h0m1.1 .3h0m1.2 3.2h0m-.9 .8h0m-.2 .4h0m-2.9-1.1h0m-7.2 .7h0m-1.6-.6h0m-.2 .3h0m-.4-1.2h0m-1-.1h0m-8.2 2h0m-8.8-1.6h0m8.6 3.5h0m13.4 .5h0m2.4-1.4h0m3.7-.6h0m-12.1 3.8h0m-12.5 1.2h0m7.3 3.2h0m4.8-1.1h0m8.5-.3h0m1.3 .9h0m-10.9 2.5h0m-5.5 7.8h0" stroke="#d6773f" stroke-width="0.8" stroke-linecap="round" fill="none"/><path d="M121.1 161.2h0m.9-1.2h0m8.1 3.1h0m-.9-.3h0m-3.3 1.9h0m-1-1h0m-.1-.8h0m-8.6 1.7h0m-6.7 0h0m8.4 2.4h0m3 .9h0m7.5-1.3h0m3.4 1h0m1.4-1.2h0m3.4 .4h0m2.4 3.6h0m-3.3-.7h0m-4 1.2h0m-.8-2.2h0m-.5 .6h0m-6.4 .9h0m-2.3 .3h0m-.5-1.9h0m-11.7 1.3h0m-1.8 2h0m.9 1.9h0m4.5-1.6h0m5.7-.6h0m3.1-.6h0m6.8 .1h0m1.9 2.4h0m.2-1.9h0m1.1 .6h0m.5 1.2h0m.4-.1h0m1.8 .5h0m2.2 1.4h0m-5.1-.3h0m-.7 1h0m-.1 .4h0m-.5-.6h0m-.7 .3h0m-.2-1.4h0m-.1-.6h0m-1.4 2h0m-.3-.9h0m-.6-.1h0m-.5 0h0m-.7 .4h0m0 0h0m-1.5 1h0m-.2-1.8h0m-6 .4h0m-2.1 0h0m-.7-1h0m-2.5 1.1h0m-3.7 2.1h0m2.5 1.7h0m1.4-1.5h0m1-.2h0m2.4 .7h0m1.5 .8h0m.9-1.1h0m2.1 .1h0m3.3 1.1h0m.5-.8h0m.2-.5h0m.7 1.6h0m2.1-.8h0m.7 .6h0m.3-.2h0m.5 .5h0m.4-.1h0m.6 .8h0m2.7-1.2h0m-1.6 1.7h0m-2.6 2.3h0m-1.5-1.8h0m-.5 1.9h0m-.3-1.4h0m-3.7 0h0m0-1.3h0m-.2 1.5h0m-1.4 1.3h0m-2.8-2.7h0m-1.9 .8h0m-4.6 0h0m-2.8 3.2h0m3.9-.1h0m2.8 1.6h0m3.4-2.6h0m.4 1.3h0m2.7-.6h0m1 1.6h0m2-2.2h0m1.3 .2h0m0 0h0m.3 .8h0m.4 .1h0m5.4-1h0m5.5 1.4h0m-5.9 2.2h0m-2.9 1.9h0m-1-1.9h0m-2.7-.7h0m-4.7 0h0m-4.1 2.2h0m7.1 2.2h0m3.7 1.1h0m8.7-2.7h0" stroke="#c28050" stroke-width="0.8" stroke-linecap="round" fill="none"/><path d="M117.9 176.9h0m17.5 .9h0m-5.2-.5h0m-.1 1.9h0m-1.5-.6h0m-1.4 .2h0m-5.8 1.4h0m3 2.7h0m1.4-1.6h0m1.4 1.3h0m.5 .2h0m1.8-.6h0m6.7 2.5h0m-.3 .9h0m0-2.5h0m-2.4 1.2h0m-.1 1.3h0m-.9 .1h0m-.4 0h0m-.5-2.4h0m-.4 .3h0m-1.5 .9h0m-.5 1.2h0m-1.4 0h0m-.3-.8h0m-.5-1.5h0m-1.2 1.6h0m-1.9 .3h0m-2.9 2.3h0m1.4-.9h0m.4 0h0m.7 .4h0m.1 1.6h0m.7-.9h0m.3-.8h0m0 .9h0m.1-1.7h0m1.2 1.4h0m.3-.3h0m.2 1.4h0m.3-.7h0m.1-1.4h0m.1 .9h0m.1 1.1h0m.5-2.4h0m.2 .4h0m1.2 .2h0m3.8 1.5h0m2.9-2h0m-1.8 4.8h0m0-.8h0m-1.4-.5h0m-.7 .6h0m-.5 1.1h0m0-1h0m-.5-1.2h0m-.3 1.7h0m-.1-.2h0m0-.7h0m-.3-.7h0m-.3 1.1h0m-.6-.5h0m-.2 .7h0m-.1 .7h0m0-.7h0m0-.8h0m0-.9h0m-.1 1.6h0m-.4 .2h0m0-1.7h0m-.1 1.7h0m-.2 1h0m-.4-2.5h0m-.1 2.2h0m-.1 .4h0m-.1-1.6h0m-.2-.9h0m-.3 2.2h0m-.4-1.9h0m-.2-.3h0m-.4 1h0m-.7 1.4h0m-.2-.9h0m-.6-.9h0m-.4 0h0m0-.3h0m-.1 2.1h0m-.1-1.7h0m-1-.3h0m-.8-.7h0m-.4 2.5h0m-.2-.7h0m-.7 .7h0m-9.7 .2h0m10.1 1.3h0m.3-1h0m.2 .7h0m.6 1.3h0m.6 .2h0m.2-.9h0m0 .1h0m.2 1.2h0m.1-.1h0m.1-.7h0m.6-.9h0m.1 1h0m.2-1.2h0m.2 .4h0m.1-.3h0m.1 .3h0m1-1.2h0m.1 1h0m.3 1.2h0m.2-1.7h0m0 2.3h0m.3-2.4h0m.7 .8h0m.4-.1h0m.2-.3h0m0 2.1h0m.1-1.7h0m0 1.1h0m.3-2.3h0m.1 .9h0m.3 1.6h0m.3-2.3h0m.3 2.6h0m.2-1.6h0m.1 .9h0m0 .2h0m.4-1.9h0m.5 2.5h0m.4-.3h0m.6-.1h0m.6-1.5h0m0 1.6h0m.2-2.1h0m.9 .7h0m0 .4h0m.2 1.3h0m.3-.9h0m.5 0h0m.3-.9h0m.3 1h0m3 2.7h0m-1-1.2h0m-.9 1.4h0m-.7-1h0m-1.1 1.5h0m-.5-.7h0m-.6 .6h0m0-1.3h0m0-.3h0m-2.1 .9h0m-.2-.5h0m-.4-.7h0m0-.3h0m-.4 1.9h0m0-2.1h0m-.1 1h0m-.4 1.5h0m-.3-2.1h0m-.2 1.9h0m0-1.6h0m-.1 2h0m-.2 .2h0m-.1-2.1h0m-.1 .6h0m0-.4h0m-.2 .4h0m0-.8h0m-.6 1.3h0m-.1-.2h0m0-.1h0m-.2 1.1h0m0-2.4h0m-.3 1.6h0m0-1.6h0m-.1 2h0m-.1-2h0m-.2 2.3h0m-.5-2h0m-.1 2h0m-.3-2.3h0m-.2 2.3h0m-.9-.1h0m-.4 0h0m0-2.4h0m-.4 1.8h0m-.2 .1h0m-.1 .3h0m0-.3h0m-.3-.2h0m-.2 .3h0m0-.2h0m-.2 1h0m-.3-.1h0m-.4-2.5h0m-1.1 1h0m-.2 .5h0m0-1.8h0m-.2 2.8h0m-1.3-2.3h0m-.1 1h0m-.1-.2h0m-2.9 1.7h0m1.7 1.1h0m1.1 1.1h0m.8-.9h0m.3-1.1h0m.3 2h0m.3-2.2h0m.7 2.9h0m.2-.4h0m.4 .2h0m.3-.5h0m.1-1h0m.3 .6h0m.3-1.8h0m.1 1.6h0m.3-1h0m.3 .4h0m.1 .7h0m.1-.9h0m.1 1h0m.2-1.1h0m.1 1.8h0m.2-1.4h0m0 .9h0m.3-1.4h0m.1 1h0m.6 .2h0m.3 .3h0m.2 .4h0m.1-.5h0m0 .8h0m.1-2.3h0m0 .8h0m.4-.9h0m0 2.3h0m.3-2.6h0m0 1h0m.1 1.3h0m0 .2h0m0 0h0m.3-1.3h0m0 1h0m.3-2.1h0m.1-.2h0m0 .6h0m0 .3h0m.4 .3h0m.1-.2h0m0 .3h0m0 1.1h0m.4-1.2h0m0 .4h0m.1-.6h0m0 1.2h0m.2 .2h0m.3-.7h0m.2-.9h0m.2-.5h0m0 0h0m0 .9h0m.9 .1h0m.1 .3h0m.4-1h0m.1 2.2h0m.7-2.8h0m.1 2.8h0m.8-1.7h0m.3 .5h0m0 .8h0m.8-1.4h0m0 1.1h0m.5-.6h0m.3-1.5h0m.1 1.7h0m1.1-.6h0m2.1 .7h0m-.2 1.2h0m-1.3 1.8h0m-.3-.5h0m-1.9-1.3h0m-.2 2.1h0m-.3 .4h0m-.2-.4h0m-.7-1h0m-.2 1h0m-.1 .7h0m-.6-.2h0m-.2-1.3h0m-.4 1.1h0m0-1.6h0m-.1 1.8h0m0-1.4h0m-.1 1.3h0m-.1-1.7h0m-.2 1.5h0m0-.9h0m-.1 1.3h0m0-2.5h0m-.1 2h0m0-1.1h0m-.1 .1h0m-.3 1.4h0m-.1-2.1h0m-.1 .2h0m-.2-.4h0m-.2-.2h0m-.2 .7h0m-.1 1h0m-.2-1.7h0m-.4 .7h0m-.3-.6h0m-.1 1.5h0m-.1-.3h0m0-.2h0m-.1 0h0m-.2 .2h0m-.1 1.4h0m0-.4h0m0 0h0m-.1-1.4h0m-.5-.2h0m-.2 1.5h0m0-2.2h0m-.1 .7h0m-.1 2h0m-.2-1.9h0m-.1 .2h0m-.1 .4h0m-.2-.8h0m-.2 2h0m0-1.8h0m-.1-.1h0m-.2 1.7h0m0-.4h0m-.2-.3h0m-.2 1h0m-.2-1.7h0m-.2 1.4h0m0-.4h0m-.1-1.5h0m-.1 .1h0m-.2 2.2h0m-.1-1.7h0m-.1-.1h0m0-.9h0m-.3 2.3h0m-.3 .4h0m-.1-1.1h0m-.1 .1h0m-.1 .5h0m0-.2h0m-.1-2.1h0m-.1 2.1h0m-.1-2.1h0m-.2 2.1h0m-.1-1.7h0m-.2 1.1h0m-.2 1.3h0m-.2-2.1h0m-.1 .7h0m-.2-.3h0m-1 1.2h0m-.1-.6h0m0-.9h0m-.1 .3h0m-.3 .2h0m0-1h0m-.3 2.5h0m-.2-2.2h0m-.1-.1h0m-2.9 5h0m.5-2.3h0m.1-.3h0m.1 2.1h0m.8 .6h0m.1-2.7h0m0 2.4h0m1.9-.6h0m.1-.6h0m.2 1.4h0m.1-1.7h0m0 1.7h0m.4-.3h0m0 0h0m.1-.3h0m.2 .1h0m.1-1.8h0m.3 .7h0m.1 .7h0m0 .2h0m.2-1.1h0m0 1.4h0m0 .2h0m.3 .1h0m.1-1.4h0m.1 .1h0m0 .9h0m.2-.2h0m.6 .1h0m.1-1.2h0m.2 .5h0m0 .6h0m.2-1.9h0m0 .7h0m.2 .7h0m.5-1.1h0m.1-.3h0m0 2.6h0m0 0h0m.2-.7h0m.1 .3h0m0 .7h0m.1-2.8h0m.2 1.4h0m.2 0h0m0 .8h0m0 0h0m.1-.9h0m.1 .1h0m.2-.7h0m0 .9h0m.1 .5h0m.2-2h0m0 1.6h0m0 .2h0m.1-.8h0m.2-.4h0m.2-.5h0m.1 2.1h0m.1 .1h0m.1-.1h0m.1-1.8h0m0 2h0m.2-2.2h0m.1 0h0m0 .7h0m0 1.1h0m.1 .3h0m.2-.5h0m0 .1h0m.1-1.3h0m0 1.8h0m.2-1.9h0m.1 1h0m0 .2h0m.2-.8h0m0 .9h0m.1-.5h0m.1 1.2h0m.1-1.8h0m.1 0h0m.5 .3h0m0 1.4h0m.1-2.1h0m0 2.2h0m.1-2h0m.2 .6h0m0 1.1h0m.2-.5h0m.3 .9h0m.6-1.8h0m0 .4h0m.1 .4h0m.1-1.8h0m0 .2h0m0 2.3h0m.1-.5h0m.1-.7h0m0 .9h0m.3-.4h0m0 1h0m.2-.5h0m.8-1.8h0m.2 1.3h0m.3 0h0m.3-.7h0m.2-.8h0m0 1.2h0m.6 .6h0m.1-.3h0m.3 .6h0m.4-2.1h0m0 .7h0m.8-.7h0m2.3 .6h0m.7 2.8h0m-.4 .9h0m-1.4 .2h0m-.6-.9h0m-.1-.8h0m-.5 2.3h0m-.5-.1h0m-.4-.4h0m-.5-1h0m-.4 1.2h0m-1.2 0h0m-.1-1.8h0m-.6 1.5h0m0-1.5h0m-.1 .9h0m0-.9h0m0-.2h0m-.3 1h0m-.1 .5h0m-.1-1h0m-.1-.1h0m-.1-.3h0m-.2 0h0m-.1 2.2h0m-.3-.4h0m0-.1h0m-.3 .2h0m-.2-1.8h0m-.1 1.1h0m-.1-.2h0m-.2 1.3h0m0-.5h0m-.1 0h0m-.1 .2h0m0-.3h0m-.1 .6h0m-.2-2.5h0m-.1 1.4h0m0-.5h0m-.3 1.5h0m-.1-.6h0m0-.5h0m0-.9h0m-.2 2.2h0m-.3-.6h0m0-.8h0m-.3 1.3h0m0-.9h0m-.2 .7h0m-.1-1.3h0m-.1 .3h0m0-.5h0m-.1 2h0m-.1 0h0m0-.5h0m-.1 .2h0m0-.4h0m-.3 .4h0m-.1 .1h0m0-2h0m-.1 .7h0m-.1 1.3h0m0-2.6h0m-.1 .7h0m-.1-.2h0m0-.1h0m-.1-.3h0m-.2 0h0m-.2 1.6h0m-.1-1.6h0m-.5 1.4h0m-.1-1.4h0m-.1 2.1h0m-.2 .4h0m0-2.6h0m-.1 2.5h0m0-.5h0m0-.6h0m0 0h0m-.2 1.4h0m-.1-1.1h0m-.1 .7h0m-.3-1.2h0m-.1 .6h0m-.1-.5h0m-.1 1.1h0m-.5-2.2h0m-.3 1.2h0m0-.1h0m0-1.2h0m-.1 2h0m0-1.4h0m0-.5h0m-.4 2.4h0m-.5-1.5h0m0 0h0m0-.6h0m-.2 .6h0m-.1 1h0m-.1 .5h0m-.3-.9h0m0-.7h0m-.3 1.3h0m-.1-1.5h0m-.3 .8h0m-.6-.2h0m-.6-.8h0m-.9 1.3h0m-.1-1.6h0m-2 3.9h0m.4-.3h0m.1 .7h0m.9 .7h0m.6-1.3h0m.4-.3h0m.4-.3h0m.1 1.5h0m.1-.1h0m.8-1.3h0m.2 1.4h0m.3-1.7h0m.5 2.6h0m.1-2.5h0m.1 1.9h0m.1 .6h0m.1-2h0m.1 .1h0m.2 1.4h0m.4-1.6h0m.4-.5h0m.1 1.3h0m.1-.5h0m.1-.1h0m.4 .8h0m.3-.8h0m.2 .9h0m.2 .8h0m0 .2h0m.1-2.3h0m.1 2.3h0m.1-2.8h0m.2 .3h0m0 .9h0m0 .3h0m.3-.1h0m.1-1.4h0m0 1.7h0m.3-1.5h0m0 1.7h0m.1 .2h0m.3-1.5h0m.1 .8h0m.1 .1h0m0 .2h0m0 .7h0m0 .3h0m.1 0h0m.1-2.4h0m0 1.5h0m0 .4h0m.1-2.1h0m0 2.7h0m.1-.5h0m.1-1.8h0m0 .6h0m.1-.2h0m.1-.6h0m0 1.1h0m0 .9h0m.1-.8h0m0 1.2h0m0 .1h0m0 .1h0m.2-1.7h0m0 .4h0m.1 .2h0m.1 .6h0m.1-.5h0m.4 .8h0m.2 0h0m.7-1.9h0m.1-.5h0m.1 1.6h0m0 .1h0m.3 .9h0m.1-2h0m0 1.5h0m.1-.1h0m.1 0h0m.2-1.5h0m.2 2.1h0m.1-.4h0m.1-1h0m.1-.5h0m.3 1.1h0m.3-1.3h0m0 2.1h0m.4-.4h0m.2 .3h0m.3-1.9h0m.1-.7h0m.1 1.5h0m.2-.1h0m.2-1.4h0m.2 1.5h0m.1-.3h0m0 .3h0m.2-1.2h0m.3 .5h0m.3-.5h0m0 2.4h0m.3-1.2h0m0 .9h0m.5-.5h0m1.5-1h0m.3-.4h0m1 2.2h0m.6-.1h0m-3.1 1.4h0m-.3 .8h0m-.5-.8h0m-.6-.4h0m-.2 1.1h0m-1-1.5h0m-.4 .2h0m-.3 0h0m-.2 1.3h0m-.2-.1h0m0-1.5h0m-.2 .2h0m-.1 2.1h0m-.1-1.1h0m-.5 .2h0m0-.4h0m0-.5h0m0-.7h0m-.3 .7h0m-.1 1.8h0m-.1-1.5h0m-.1 1.1h0m-.3 .2h0m0-.2h0m-.4-1.1h0m-.1 0h0m-.2 .1h0m0-.9h0m-.1-.1h0m0-.1h0m-.2 2.1h0m0-.5h0m-.1 .8h0m-.1-2.1h0m-.1 .6h0m-.2 .3h0m-.2 .2h0m0-.9h0m-.1 .7h0m-.4 .5h0m-.1 .4h0m0-1h0m0-.2h0m-.3 1.5h0m0-1h0m-.1 .1h0m-.2-.6h0m0 0h0m-.3 .9h0m0-.4h0m-.3 .3h0m-.1-.3h0m0-.1h0m-.1 1.1h0m0-.1h0m0-.9h0m-.1-1.3h0m-.1 2.3h0m-.1-.2h0m-.3-.2h0m-.1-1.2h0m-.2 1.5h0m-.2 .5h0m-.1-1.8h0m-.1 1.5h0m-.1-.2h0m-.1-.3h0m0-2h0m-.1 1.7h0m-.2-1.5h0m-.4-.3h0m-.1 .3h0m-.2 .4h0m-.2-.7h0m-.1 .5h0m-.1 0h0m-.1 1.8h0m0-.6h0m0-.6h0m-.6 1.7h0m-.1-.6h0m-.2-1.2h0m-.9-.1h0m-.4-.6h0m-.6 .6h0m-.1-.1h0m-5.7-.8h0m1 5.9h0m3.1-1.8h0m1.8 .9h0m.8-.8h0m.1-.6h0m.5 2.1h0m1.1 .1h0m.7-.2h0m.2-2.2h0m.2 1.6h0m.4-.9h0m0 1.6h0m0 .2h0m.4-1.4h0m.9-.6h0m.3 0h0m.3 .5h0m.1 .5h0m.2-1.7h0m.1 2.1h0m.4-.3h0m0 .2h0m.3 .1h0m.2-.2h0m.1 0h0m.5 .6h0m.1-1.2h0m.2-1.2h0m0 1.6h0m.1-1h0m0 .7h0m.2 .6h0m.2-1h0m.1 .8h0m.1-.1h0m0 .4h0m.1-2.1h0m0 1.8h0m.1-.4h0m.4-1h0m0 .5h0m.3 .1h0m0 1.4h0m.1-1.7h0m0 1.7h0m.2-1.7h0m0 .9h0m0 .4h0m.6-.9h0m.1-.2h0m.6-.9h0m.1-.2h0m0 .3h0m.1 .9h0m.4-.8h0m.6 2.3h0m.2-.9h0m.4 .7h0m1.5 .2h0m.2-2.7h0m.2 0h0m.4 2.3h0m.3 .3h0m.9-1.9h0m3.8 .5h0m-5.6 3.1h0m-1.9 .8h0m-.1 .3h0m-.2 0h0m-.2-2.1h0m-.7 1.6h0m-1.1-1.5h0m-.1 1.8h0m-.6 .4h0m-.3-.9h0m-.4-.4h0m-.1-.4h0m-.1-.7h0m-.1 .2h0m-.3 .2h0m-.1 1.9h0m-.1-1.9h0m-.2 1.9h0m-.6 .4h0m-.3 0h0m0-1.3h0m-.1-1.5h0m-.2 2.5h0m-.4-1.7h0m-.3 .2h0m-.2 1h0m0-1.8h0m0-.2h0m-.1 .1h0m-.1 2h0m-.1-1.8h0m-.1-.4h0m-.4 1.1h0m-.1 .5h0m0-1.3h0m-.3 2h0m-.2 .1h0m0-2h0m-.2 1.4h0m-.1-1.6h0m-1.3 2.1h0m-.4 .5h0m-1.5-.4h0m-.6-1.6h0m-1.5 0h0m-.4 2.1h0m-.7-1h0m-.9 .8h0m3 2.6h0m.1 .1h0m.2 0h0m.8-.9h0m.1 1h0m.6-1h0m.7 .8h0m.2 .4h0m.2-2.4h0m.1 1.2h0m.5 1.3h0m.5-1.7h0m.4 1h0m.1-1.7h0m.1 .1h0m.8 1.1h0m.5-.4h0m.5 .4h0m.2-.9h0m.3 .2h0m1 .7h0m.4 1.3h0m.1-2.6h0m.1 .7h0m.2 .9h0m1-1.8h0m.2 .7h0m.1-.1h0m.2 0h0m.2 1.9h0m.4-2.4h0m0 2.7h0m.1-2.8h0m.4 .2h0m0 2.4h0m1.3-1.8h0m.1-.8h0m.6 .9h0m1.2 .3h0m.1-1h0m.9-.2h0m3.8 3.5h0m-5.9 .2h0m-1-.7h0m-1.6 .6h0m-.2 2.1h0m-.1-.9h0m-.9 .7h0m-.7-2h0m-.6 .5h0m-.2-.2h0m-.6 2h0m-.3-.1h0m-.2-1.9h0m-.7-.6h0m-1.6 2h0m-1.1-1.7h0m-.8 0h0m-2.2 1.9h0m1 1.9h0m1.4-.2h0m.2-1h0m0 1.1h0m4.2-1.1h0m.4 2.5h0m1-1h0m.1-1h0m1.6 .5h0m.3 1.6h0m2.7-2.2h0m.8 2.4h0m-.2 .3h0m-1.4 .4h0m-3.3-.7h0m-.6 1.1h0m-.6-.1h0m-.4-.7h0m-.1 1.1h0m-1.3 .7h0m-.7 0h0m-.7 .8h0m-.8-.8h0m-.4-1.2h0m-.9-.2h0m-.7-.4h0m-2.9 4h0m17-.7h0m.1 .7h0m3.4 4.6h0m-6.6-.4h0m-4.5-1.5h0m1.8 10h0" stroke="#e2401c" stroke-width="0.85" stroke-linecap="round" fill="none"/><path d="M135.1 167.8h0m-8.1 10.3h0m-7.4 1.2h0m-3.3-1h0m6.6 4.1h0m1.9-2.1h0m4.8 1.6h0m3.4 1h0m1.6 1.1h0m-17.1 0h0m-.4-.6h0m4.1 5.4h0m1.4-1.9h0m5.8-.8h0m7.1 5.1h0m-.1 .1h0m-6.1-1.8h0m-.8 .8h0m-2.8-.6h0m-1.6 .4h0m-4.6 1.4h0m-.8-.2h0m-.6 .2h0m-1.5 2.5h0m1.7-1.8h0m2.6 2.1h0m2.6-1.9h0m1.5 .5h0m1.6 .3h0m.9-1.1h0m.2 2.7h0m.2-1.3h0m.3 .9h0m.9-1.5h0m.5-.5h0m.6 1.5h0m2.5-.6h0m2 .7h0m4.8 2.2h0m-4.6 1.2h0m-1.3-1.3h0m-1.5 1.8h0m-1.4-1.2h0m-2 1.2h0m-1.3-.5h0m-1.3-2.1h0m-.2 .1h0m-.1-.1h0m-.1 .4h0m-1.5 2.1h0m-.1-.8h0m-6 2.3h0m1.2 1h0m2.1-1.8h0m.1 2h0m1.4-.7h0m1.4 .2h0m1.7-.7h0m.2 .5h0m.7 .6h0m.3-2.2h0m.4 .3h0m.2 2.4h0m.6-.2h0m2.3-1.4h0m.4-.4h0m1.2-.6h0m.2 2.4h0m6.1 1.9h0m-2.1 .1h0m-.1-1.6h0m-.2 1.8h0m-4.2-.3h0m-.2 1.1h0m-.2 0h0m-.1-1.6h0m-.4-1h0m0-.1h0m-.6 .8h0m-.1 1h0m-2.8 .5h0m-.1 .3h0m-1.9-1.2h0m-.1-.9h0m-.5-.1h0m-1.1 .3h0m-.4 .4h0m-2.9 1.2h0m-.2-.4h0m-.4-1.9h0m-1.6 1.1h0m-2.8-.4h0m-.3 .9h0m0 1.7h0m4.5 1h0m.3 .5h0m.4 1h0m1.8-1.7h0m.2 0h0m3.5 .7h0m.8 0h0m.4 .1h0m.6-.9h0m0 .4h0m.1 .2h0m.7 .1h0m.9 .4h0m.1-1.4h0m.9 .9h0m2 0h0m.8-1.3h0m2 .2h0m.3 1.9h0m3-.9h0m.2 .5h0m.1-.3h0m2.1 .8h0m.1 .2h0m-7 .3h0m-2.8 0h0m-.2 2.3h0m-1-2.1h0m-.7 1.6h0m-.9-.3h0m-.8 .4h0m-.2 .7h0m0-.6h0m-.2-1.1h0m-.2 .1h0m-.8 .6h0m-.2 .8h0m-.1-1.5h0m-3 0h0m-1-.9h0m-.7 .3h0m-.3 .8h0m-.1 .3h0m-.6 .1h0m-.9-1.4h0m-2.1 .5h0m-.4 1.8h0m0-1.3h0m-.5-.5h0m0-.6h0m-1.3 2.8h0m-13.8-2.3h0m5.5 5.3h0m2.9 0h0m1.3-.4h0m.1 .5h0m2.5-2.7h0m1.4 .6h0m3.4 1.8h0m.9-1.9h0m2.5 2.2h0m1.5-1.9h0m1.5-.5h0m0 1h0m.6 .4h0m1.8-.6h0m.1 .4h0m.3-1.5h0m.1 .1h0m1.2 1.3h0m.2-1.5h0m.3 0h0m.6 2.4h0m.1 .4h0m1.1-1h0m1-.3h0m.3-.1h0m1.6 .6h0m.1-.4h0m10.5 .6h0m-11.3 2.9h0m-2.5 .2h0m0-.7h0m-.8-1.1h0m-.5 1.3h0m-1.2 .4h0m-1.5-1.9h0m-.3 .3h0m-1.8 1.9h0m-.5-.3h0m-.7 .5h0m-.1-2.6h0m-.5 2.2h0m-.5-1.2h0m-.7-1.1h0m-.4 0h0m-.3 .1h0m-.3 1.8h0m0-.1h0m-1.2 .4h0m-1.2-.4h0m-.1-1.2h0m-.2-.4h0m-3.2 1.6h0m-.1 .1h0m-.5 0h0m-.4-.5h0m-1.3 1.1h0m-3.5-1.3h0m-1.2 3.6h0m5 .3h0m1.7-1.3h0m2-.8h0m.6 .7h0m.7 1.4h0m1.3-1.2h0m0 .6h0m.4-1.6h0m.3 .6h0m.2 0h0m.6-.2h0m1 1.2h0m.6-.7h0m.1 1.7h0m.2-.9h0m.7 .7h0m.3-1.2h0m1-.3h0m.1-.8h0m.4 2.1h0m.2-2.2h0m.1 1h0m1 1h0m.3-1.7h0m.4 .2h0m.1 2.1h0m.2-2h0m1.3 2.3h0m.9-1.2h0m.2-1.3h0m.5 1.6h0m.5-1.5h0m.2 1.5h0m.2 .8h0m.4-2.3h0m.9 .9h0m.3-1.4h0m.6 2.7h0m.2-1.5h0m2 1.4h0m1.7-.4h0m2.9-2.2h0m3.2 2.5h0m-5.6 1.1h0m-4.7 1.8h0m-.1-1.7h0m-.1 0h0m-.4 .8h0m-.3 1.2h0m-.6 .2h0m-1.9-.3h0m-.2 0h0m-1.9 .2h0m-2.3-2h0m-.7 .3h0m-.6-1h0m-.1 1.6h0m-.4 .3h0m-.4 .9h0m-1.6-.3h0m-1.1-1.7h0m-2.8 .7h0m-1.3-.8h0m-.2-.7h0m-.1 1.4h0m-.8-.7h0m-4.1 3.1h0m2.4 .7h0m.5-.6h0m3.1 .1h0m1.7 1.8h0m1.5-2.1h0m1.3 .9h0m.9 .9h0m.5-.8h0m.3-1.8h0m.1 1.3h0m.2-1h0m.4 .9h0m.7 .8h0m1.5-.6h0m0 .1h0m.4-.2h0m0 .1h0m.6-1.3h0m.3-.1h0m.4 2.6h0m0 .2h0m.7-2.6h0m.3 .9h0m.2-.3h0m2.6-.8h0m3.7 1.7h0m.6 .6h0m2.4-2.1h0m2.6 1.9h0m-2.7 1.1h0m-1.1 1.1h0m-1.5 .7h0m-.4 .1h0m-1.7 .8h0m-1.6-.7h0m-2.8-.4h0m-.6 .7h0m-.2-.7h0m-.2-1.5h0m-.1 0h0m-1.6 1h0m-.7-1.2h0m-.1 1.8h0m-1.9 1h0m-.1-.1h0m-1-.8h0m-.6 .7h0m-1.2-2.5h0m-.2 .1h0m-.2 1.2h0m-.8 1.2h0m-.4-2.2h0m-.2 1.1h0m-2.1 1.3h0m-.2-.4h0m-2.1-1.9h0m-2.4 .3h0m-1.5 4.5h0m.9-2.1h0m.5 .1h0m2.3-.2h0m.2 2.2h0m1.1-1.5h0m.7 1.7h0m.1-1.1h0m2 0h0m.7-.6h0m.1 0h0m1.2-.5h0m.1-.4h0m0 .4h0m.4 2.2h0m.5-1.5h0m2.4 1.8h0m.2-1.2h0m1.7 .2h0m1 .1h0m.4-1h0m.1 1.4h0m2.1-.3h0m13.5 1.8h0m-1.9 1.3h0m-10.4 0h0m-.7-1.4h0m-3.6-.8h0m-1 2.3h0m-1-2h0m-1.3-.2h0m-1 2.4h0m-1-1.6h0m-.7 1.1h0m-1.1 .4h0m-.6-.3h0m-.7-.3h0m-7 1.7h0m4.2 .8h0m2.5 1.1h0m4.6-1.5h0m.1 1h0m.7-1.5h0m1.3 2.1h0m.1-2.1h0m.4 0h0m.7-.1h0m1.7 .7h0m5.1-.4h0m-.5 4.2h0m-2.4 .4h0m-1.7 .4h0m-.3-2h0m-2.8-.4h0m-.7 2.3h0m-6.4-1.9h0m.5 2.6h0m2.7 1.4h0m1.8-.6h0m.9 .8h0m7.7-1.4h0m3.7 3.4h0m-2.8-.5h0m-2.3 1.4h0m-6.2-.3h0m-1.5-1.3h0m-1.2 4h0m5.2-.8h0m1.9-.3h0m.3 .5h0m-2.5 2.5h0m1.8 7.1h0" stroke="#e45a2e" stroke-width="0.8" stroke-linecap="round" fill="none"/><path d="M127.3 185.7h0m9.6-2.6h0m5.1 2.8h0m8.6 .9h0m-.3 2h0m-3.2-1.4h0m-1.6 .4h0m-6.5 .7h0m-2.8 3.3h0m4 .1h0m1-2.2h0m1 .1h0m.4-.3h0m2.7 1.7h0m.4-1.4h0m2.1-.1h0m.3 1.4h0m1.1 .5h0m.4 .3h0m.8-1.7h0m.2-.3h0m2 1.3h0m1.1-1.3h0m4.4 .7h0m3 2.4h0m-.1-.5h0m-1.4 1.3h0m-.1-.5h0m-1.2-.1h0m0-.1h0m-.3-.5h0m-1.7 .9h0m-1 .8h0m-1-1.8h0m-.7 .3h0m-.5-.2h0m-.2 .8h0m-.8 1.5h0m-2.5-1.7h0m-.4-.7h0m-.9 1.4h0m-.9 0h0m0-.4h0m-1.3-.6h0m-3.6 1.9h0m-2.3-2.1h0m-1.4-.1h0m-2.4 3.9h0m3.3-1h0m1.7 .9h0m.7-1.1h0m1 2.6h0m2.7-.7h0m.6 .7h0m2.3-2.7h0m.4 1.6h0m1-.2h0m.5-.2h0m1.9-1.2h0m0 1.7h0m.3-1.4h0m0 .9h0m.5 .2h0m.2-.1h0m.8-.3h0m.6-.5h0m0 1.2h0m.4 .7h0m.1 .1h0m.1-1.6h0m.4 .8h0m1.6 .7h0m.5-2.1h0m.5 .1h0m1.1 1.4h0m2.1-1.7h0m.7-.3h0m.6 2.1h0m3.7 .4h0m1.9 1.5h0m-2.1-.7h0m-2.3 .3h0m-.2 2.1h0m-.6-2.2h0m-.5 1.8h0m-1-.1h0m-.6-1.8h0m-1 2.5h0m-.4-1h0m-.4-1.7h0m-.5 .8h0m-.7 1.5h0m-.3-.9h0m-.1 1.1h0m-1-.8h0m-1.5-1.9h0m-.5 2.4h0m-.2 .3h0m-.1-2.2h0m-.6-.1h0m-.2 2.1h0m-.7-2.3h0m-.2 1.5h0m-.3 .4h0m-.1 0h0m-.1 .5h0m0-1h0m-.6-.8h0m-.4 .7h0m-.9-1.2h0m-.1 2.6h0m-.7-2.6h0m-.2 1.6h0m-.2-1.4h0m-1.2-.5h0m-.1 .2h0m-.8 2.3h0m-.7-1.5h0m-.5-.6h0m-.8 1.3h0m-.8-.4h0m-.9 1.6h0m-.7-.3h0m-.4-2.5h0m-.3 .7h0m-.2 1.8h0m-.3-.2h0m-.5-2h0m-.1 1.5h0m-2.3 .7h0m-3.3 .3h0m-1.3-2h0m-.3 1.6h0m-7.2-1.1h0m10.4 1.7h0m1.2 2.1h0m1.7-1.1h0m.2 .5h0m2-1h0m.7 .2h0m.2 1h0m1.2-.3h0m.3-.4h0m.1 1.1h0m.1-.7h0m.9-1.2h0m0 1.8h0m.4 .8h0m.3-2.5h0m.1 .2h0m.2 1.8h0m0 0h0m.8-1.3h0m.4 1.6h0m.8-1h0m.7-1.1h0m.2-.3h0m0 .6h0m.9 .9h0m.2-.4h0m.2-.9h0m.2 1.5h0m.4-1.1h0m.1 1.8h0m.4-.2h0m.1-2h0m.6-.3h0m.4 0h0m.7 2h0m.9-.5h0m.5 0h0m0 1.1h0m.7-1.9h0m1.4 2h0m.7-.6h0m.6 0h0m.6-.5h0m.1 .3h0m.3-1.8h0m.4 1.3h0m.6 .4h0m2.5-.2h0m2.4-.3h0m5.1 4.2h0m-4.2-.1h0m-.7-1.5h0m-2.4 .4h0m-.4-.6h0m-.3 2h0m-.3 0h0m-.6-1.7h0m-.1 0h0m-.5-.5h0m-1-.6h0m-.1 0h0m-2 .3h0m-.7-.4h0m-.3 .1h0m-.4 1.6h0m-.1-1.4h0m-.2 .1h0m-.2-.2h0m-.2 .1h0m-.1 1.3h0m-1.5 .7h0m0-.7h0m-.1-1.1h0m-.2 .5h0m-.2 .6h0m-1.3-1.4h0m-.5 2.6h0m-.3-.4h0m-1.7-2.2h0m-.1 0h0m-.1 2h0m-.4 .5h0m-.3 .2h0m-.1-.8h0m-.1-2h0m-.2 .9h0m-.9 0h0m0 0h0m-.1-.1h0m0-.9h0m-.4 2.9h0m-.3-1.8h0m-1.9 1.7h0m-.9-1.8h0m-2.2 1.5h0m0-1.1h0m-2.1 .8h0m-3.5-.4h0m-.1 0h0m-2.5 2.3h0m1.1-.6h0m6.7 1.1h0m1.4 .5h0m.1-.6h0m1.1-1.4h0m1.2 1.8h0m.5 1h0m.1-.1h0m.4-1.2h0m.2 1.3h0m.4-2.2h0m.4 .4h0m.9 .3h0m.2 1.2h0m.3-2.6h0m0 2.6h0m.5-.4h0m.1-1h0m0 .8h0m.4-.6h0m.6-1.3h0m.4 1.4h0m0 .6h0m.7-.9h0m.4-.7h0m.2 .8h0m.9-1.1h0m.3 2.2h0m2.1-1.1h0m.9 1.3h0m.2-1.6h0m0 1.7h0m.5-1.5h0m.5 .9h0m.1-1.2h0m0 1.6h0m.3-.7h0m2-1.7h0m2.6 1h0m1.8-.7h0m.1 1h0m0 .4h0m2.6-1.1h0m1.3 1h0m2-.5h0m.6 3.4h0m-2.7-1.5h0m-2.3 .9h0m-2.2-.7h0m-2.2-.3h0m-.3 .5h0m-1.2 .1h0m-2.5-.5h0m-.4 .8h0m-1.1-.9h0m-.4 1.7h0m-.4-1.6h0m-.4 .8h0m-.9 .1h0m-.1 .3h0m-3 1h0m-1.3-.4h0m-.6 .2h0m-.3-.2h0m-.2 .3h0m-.2-1.3h0m-.1 1h0m-.6 0h0m-.4-1.7h0m-1.3-.1h0m-1.1 2.4h0m-.2-1.4h0m-.3 0h0m-.5 .8h0m-1.2 .8h0m-1.2-2.3h0m-.4 .3h0m-1.7 .4h0m-1.3 1.3h0m-3-.9h0m-2.2-.6h0m2.1 4.4h0m5.5-.4h0m1-.7h0m2.1 1.5h0m.5-2.6h0m.8 2.2h0m1-1.9h0m.6-.1h0m.8 .8h0m1.2 1.3h0m.9-1.1h0m1.1 1.1h0m.5-1.1h0m.1 .1h0m.1 1.3h0m.1 .2h0m1.4-1h0m.2-1.9h0m0 .9h0m.2 2h0m.4-2.6h0m.4 2.4h0m1.8-2h0m.6 .9h0m0 .8h0m.8-.3h0m.1-1.9h0m.2 .1h0m.4 1.5h0m0 .5h0m.3-.2h0m.4-.4h0m.2-.7h0m1.6-.6h0m.4 .4h0m1.2 .9h0m.5 .1h0m.2-1.6h0m.5 .6h0m9.5 .8h0m-14.4 2.4h0m-.3 1.7h0m-.8-1.2h0m-1.9 .7h0m-.2-1.9h0m-.5 2.6h0m-.1-.4h0m-.3-1.8h0m-.1 2h0m-.4-.3h0m-.2-1.8h0m-.2-.5h0m-1.2 .8h0m-.4 1.9h0m-.6-2.1h0m-.9 .1h0m-.8-.7h0m-2.2 1.8h0m-2.3-.5h0m-1.1-.9h0m-1.7 1.2h0m-2 .1h0m2.5 2.3h0m3.4 .5h0m1.5-1.6h0m.5 2.7h0m.4-2.1h0m.4 .9h0m.9 0h0m1.3-.4h0m.3 .4h0m1.2 .6h0m.3-1.4h0m1.9 .8h0m2.7-1.3h0m0 2.4h0m3.7-2h0m.4 .1h0m4.1 1.1h0m-.6 3.2h0m-4.5-1.5h0m-1.1 .5h0m-.4 1h0m-.8-1.1h0m-.1 .9h0m-1.5-.6h0m-.9-.6h0m-1-.5h0m-2.6 .8h0m-.2 .8h0m-.6-.7h0m-3.1-.7h0m-.1-.2h0m-6 2.1h0m-.1-1.2h0m-1.3-.4h0m-1.4 4.8h0m.1 .3h0m.9-.8h0m6-1.9h0m12.7 4.1h0m-5.5-.2h0m-.7 1.7h0m-2.2-2.6h0m-10.2 6.9h0" stroke="#b53aa0" stroke-width="0.8" stroke-linecap="round" fill="none"/><path d="M160.1 206.2h0m3-.5h0m3.9-.2h0m4.7 .1h0m2.1 1.5h0m-2 1h0m-.1-.5h0m-.5-.6h0m-.1 .4h0m-.3 2.5h0m-1.5-2.2h0m-.3 .9h0m-1.2-1.5h0m-.4 2.7h0m-.2-1.7h0m-.2 .9h0m-.9 .6h0m-2.8 .3h0m-.3-.6h0m-2.8-.8h0m-2.2 1.4h0m-5.1 .2h0m7.6 1.2h0m.5-1h0m1.5-.2h0m.3 1.4h0m.2-.2h0m.2 .9h0m.3 0h0m.4-.2h0m.5 .5h0m.2-1.5h0m.2 1.5h0m.1-.2h0m.2 .4h0m.3-2.6h0m1 1.9h0m.3 .4h0m.1 .1h0m.5-1h0m.3 1.2h0m.3-.2h0m0 .3h0m1-.2h0m.5-1.8h0m.9 1.5h0m.9 .2h0m1.1-.6h0m.2 .3h0m.9-1h0m.6 .8h0m.3-1.8h0m0 2.6h0m.2-1.1h0m.2 0h0m.1 .7h0m1.8-.8h0m.7 .5h0m1 .3h0m2.7 2.1h0m-2.6 .5h0m-1.4 .5h0m-2.3 0h0m-.6 .2h0m-.1-2.2h0m-.3 0h0m-.2-.3h0m-.4-.1h0m-.9 2.4h0m0-.2h0m-.1 .3h0m-.6-.7h0m-.1 .6h0m-.5 0h0m-.1 .4h0m-.1-.7h0m0-2.1h0m-1.5 2.4h0m0-1.9h0m-.9 2.2h0m0-2.5h0m-.3 2.5h0m-.2-1h0m0-1.3h0m-.5 1.9h0m-.7-.7h0m-.3 .4h0m0-.6h0m0-1.1h0m-1.1 0h0m-.3 .2h0m-.4 1.3h0m-.4-.4h0m-.6-1.2h0m-1.5 2.2h0m-.8-.9h0m-.6 .9h0m-1.6-1.5h0m-1.2-.9h0m-3.1 5.5h0m3.5-2h0m.5 2.1h0m.4-1h0m1.3 .8h0m.2 .1h0m2.8-1.7h0m1.3-.2h0m.1 1.8h0m.2-1.5h0m0 .3h0m.5 .1h0m.1 .9h0m.6-2.2h0m1.3 2.4h0m0 .4h0m.4-2.4h0m.7 2.1h0m.2-2.3h0m.5 .2h0m.5 1.6h0m.2-1h0m0 .4h0m.6-.3h0m.1 1.6h0m.1-1.4h0m.2-1.1h0m1.9 2.1h0m.1-1.7h0m.3-.3h0m.3 1.6h0m.7-.9h0m.3 .4h0m2.8-.6h0m.9 1.6h0m.3-2.1h0m-3.4 3.8h0m-4.4 .7h0m-2.1 .9h0m-.4-2.7h0m-.2 2.5h0m-.1-2.4h0m-1.1 .6h0m-1-.4h0m-3.4 1.2h0m-3.5 .1h0m5.4 2.9h0m.9-1.4h0m1.4 1.7h0m1.5-1.1h0m4.3 3.7h0" stroke="#a6b2dc" stroke-width="0.8" stroke-linecap="round" fill="none"/><path d="M107.7 248.8h0m17.6 3h0m-.3-.6h0m-1.1 .3h0m-10-1.2h0m-1.7 .3h0m-6.3 .1h0m-1 1.6h0m5.4 .5h0m.7 1.6h0m.7-1.5h0m.4 1.7h0m.9 0h0m.7-.1h0m3-.1h0m2-1.4h0m1.4 1h0m.5 .5h0m3.9-1.1h0m.6 1.5h0m1.1 2.5h0m-.4 .5h0m-2-2.5h0m-1.1 .8h0m-1.3-.8h0m-4 .7h0m-1.2 1.1h0m-1.4-.3h0m-.4 .8h0m-.7-1.1h0m-.7-.3h0m-2-1.1h0m-.2 0h0m-.2 1.1h0m-.2 1.6h0m-1.6-.2h0m-1.7-.5h0m-3.6 1.2h0m.6 .3h0m.5 1.3h0m2.4 .6h0m1.7-1h0m.5-.1h0m1.5-.4h0m.2 .2h0m1.9 1.6h0m1.5-.9h0m1.4 0h0m.6-2h0m.3 .5h0m.4 2.1h0m.8-1.2h0m.7 .2h0m.1 1h0m.1-1.4h0m1.6-.9h0m.1 .2h0m.6 1.8h0m.2-2.3h0m.4 2.6h0m.3 .1h0m.4 0h0m.1 .1h0m.4-.6h0m.7-1.4h0m.5 1.8h0m.3-.6h0m.3-1.3h0m.4 .5h0m0 .9h0m2 .3h0m.9-1.1h0m-.2 3.2h0m-.7-.3h0m-.4 .5h0m-.2-.1h0m-2.8-1.5h0m-1.4 2.3h0m-.2-1.4h0m-.4 1.7h0m-.5-.5h0m-.4-.2h0m-.7-2h0m-.1 2.3h0m-1.2-.1h0m-.2 .3h0m0-2.1h0m-.1 2.4h0m-.2-1.7h0m-.3 1.2h0m0-1.6h0m-.4 1.2h0m-.5-.3h0m-.7 .6h0m-.3 .4h0m-.7 .1h0m-.4-1.9h0m-.1 1.7h0m-1-1.4h0m-.5 .7h0m-1.5-1.2h0m-.7 1.2h0m-1.9-.9h0m-1.7 .8h0m-9.3 4.1h0m2.4-.7h0m6.6-.4h0m.4-.8h0m.6 .9h0m.1 .7h0m1.7-1h0m.4-1.3h0m1.3 .2h0m.1 .5h0m.7-.6h0m.2 .9h0m1.3 .7h0m.1-1h0m.3 .1h0m.6 .5h0m.1 1.3h0m1.4-2.6h0m.5 .5h0m.1-.5h0m.2-.1h0m.3 2.6h0m.8-1.3h0m.8 .8h0m.8-1.7h0m.1 1.3h0m.5 .1h0m.1-.2h0m.9-.3h0m.3-1.1h0m0 .4h0m0 1h0m.3-1.3h0m0 1.4h0m.2-.5h0m.1 1.2h0m1-.5h0m.4-1.9h0m.2 1h0m.2 .2h0m.7 .8h0m1 .5h0m1.1-1.1h0m.3-.2h0m1.1-1.3h0m.1 .6h0m.9 .3h0m1.5 3.5h0m-.6-1.3h0m-.1 1.1h0m-.2 .4h0m-.9-.2h0m-.8 .8h0m-.3 .4h0m-.8-2.2h0m-.4 2.4h0m-.3-.5h0m-.8-.4h0m-.2-1.9h0m-.4 .3h0m0-.1h0m-.2 2.1h0m0-1.4h0m-2.1 .5h0m-.2 .3h0m-1.2 .7h0m-.1-2.1h0m-.6 2.2h0m-.4-1.5h0m-.9 1.1h0m-.1-.6h0m-.4-1.5h0m-.7 2.1h0m-.4 .1h0m-2-2h0m-.2 1.5h0m-.1 .2h0m-.1-.8h0m-.3 1.2h0m-.3-2.1h0m-.6 2.5h0m0-1.1h0m0-1.5h0m-.1 2.8h0m-.9-2.8h0m-1.3 2.5h0m-.4-1.4h0m-.1-1.2h0m-1.2 1h0m-.5 .4h0m-1.8-.6h0m-1.7 1.1h0m-1.8-1.6h0m-.2 2.6h0m-2.1-.4h0m-1.1 .2h0m-.4-1.4h0m3.8 2.3h0m1.7 1.8h0m5.5-1.8h0m.4 1.5h0m.8-1.3h0m.1 1.2h0m1.9 .7h0m.3 .2h0m.1-1.6h0m.1-.6h0m.3 1.9h0m.1-.6h0m.2-2h0m.3 1.9h0m1-1.4h0m1.5 .8h0m.8 1.3h0m.3-.5h0m.2-1.7h0m1.7 .6h0m.7-.9h0m3.7 2.8h0m2.1-.9h0m1-1h0m.1 1.3h0m1.5-.4h0m.4-.3h0m-5.4 2.6h0m-1.5 .2h0m-1.7-.5h0m-1.3 1.3h0m-1.1-1.9h0m-1.3 .8h0m-1.6 .3h0m-.7 .5h0m-.1-.9h0m-1.5 .2h0m-.4 .9h0m-1.2 .1h0m-1.4 0h0m-1.7 .6h0m-4.1-2.3h0m-.8 .4h0m-.1-.8h0m-.1 .9h0m-9.5 1.2h0m4.4 2.7h0m8.5-.3h0m1.5-.2h0m.2 .4h0m3.8-1.3h0m0 1h0m2.7-.6h0m6.9-.9h0m3.8 .2h0m-7 3.6h0m-20.6 .9h0m9.4 3.3h0m-8.3 1.3h0" stroke="#5cc080" stroke-width="0.8" stroke-linecap="round" fill="none"/><path d="M98.3 266.1h0m12.7-1.4h0m-8.9 4.7h0m-3.3-1.3h0m-3.8 1.8h0m-5.2-.1h0m1.3 3h0m8.6-1.5h0m.1-.6h0m.1 1.3h0m1.6 .1h0m1.2-.1h0m1.4-.8h0m1.7-.5h0m1.8 1.3h0m4.1-1.7h0m3.7 4.3h0m-2 1.2h0m-4-1.5h0m-.3 .7h0m0-.4h0m-.4-1.4h0m-1.2 1.4h0m-.1-.9h0m-.7 2.1h0m-.1-.6h0m-.4 0h0m-.5 .6h0m-.3-1.3h0m-.9-.6h0m-.4-.5h0m-1.5 2.4h0m-1.4-2h0m-1.9 0h0m-.1 1.6h0m-.7-2h0m-11.4-.3h0m4.7 3.9h0m3.6-.9h0m3.7 2.4h0m.2-2.1h0m.2 0h0m1.4 .1h0m.2 2h0m.7-1.8h0m0 1.9h0m1.4-2.6h0m.1 1.1h0m.3 .8h0m.1-.3h0m1.6 .2h0m0 .1h0m0 .9h0m.9-1.7h0m0 .8h0m1-.5h0m.4 .3h0m1-1.1h0m.1 2.3h0m1.4-1.2h0m9 2.8h0m-6.7 .1h0m-2.6 .3h0m-1-1h0m-.1 .4h0m-1.4 0h0m-.9-.9h0m-.8 .7h0m-.1 .1h0m-.8-1h0m-.9 2.1h0m-.2-1.9h0m-.1 1.5h0m-1.3-.5h0m-2.1 1.3h0m0-2.5h0m-1.1 .2h0m-.1 2.4h0m-4.3-1.6h0m-.8-1.1h0m-3.4 5.2h0m4.5-1.7h0m1.3 .4h0m3.3 0h0m1.1 1h0m.4-2h0m2.7 .4h0m1.4 .5h0m.1-.1h0m.6-.3h0m.3 .9h0m3.8-1.3h0m-1.3 4.5h0m-4.3-.8h0m-2.9-.5h0m-3.1 .1h0m-2.9 1.8h0m-.6-.3h0m-2.5-1.2h0m13.2 3.8h0" stroke="#66c088" stroke-width="0.8" stroke-linecap="round" fill="none"/><path d="M90.0 150.0C88.9 148.8 85.6 151.9 84.0 153.0C82.4 154.1 81.7 154.5 80.3 156.5C78.9 158.5 77.5 162.1 75.8 165.0C74.1 167.9 72.4 170.8 69.9 173.8C67.4 176.8 63.9 179.3 60.9 182.8C57.9 186.3 54.4 190.7 52.0 194.7C49.6 198.7 48.1 202.3 46.5 207.0C44.9 211.7 42.2 216.9 42.5 223.0C42.8 229.1 49.4 236.4 48.5 243.6C47.6 250.8 40.2 258.5 37.3 266.0C34.3 273.5 30.8 282.2 30.8 288.4C30.8 294.6 34.1 299.7 37.3 303.3C40.5 306.9 46.0 308.9 50.0 309.8C54.0 310.8 56.6 310.3 61.6 309.0C66.6 307.7 73.6 304.5 80.0 302.0C86.4 299.5 95.0 296.7 100.0 294.0C105.0 291.3 107.8 288.3 110.0 286.0C112.2 283.7 113.8 283.3 113.0 280.0C112.2 276.7 108.0 270.7 105.4 266.4C102.8 262.1 99.6 258.8 97.4 254.4C95.2 250.0 93.3 246.6 92.3 240.0C91.3 233.4 91.5 224.2 91.3 215.0C91.1 205.8 91.4 194.2 91.3 185.0C91.2 175.8 91.0 165.8 90.8 160.0C90.6 154.2 91.1 151.2 90.0 150.0Z" fill="none" stroke="#4ab6df" stroke-width="1.05" stroke-dasharray="2.6 2"/><path d="M88.0 150.0C88.0 147.1 90.8 143.1 92.6 142.7C94.4 142.3 97.0 145.3 99.0 147.7C101.0 150.1 102.0 155.0 104.8 157.0C107.6 159.0 113.2 159.8 116.0 159.8C118.8 159.8 119.1 157.3 121.6 157.0C124.1 156.7 128.0 156.7 131.0 158.0C134.0 159.3 137.8 161.3 139.5 165.0C141.2 168.7 139.6 176.5 141.0 180.0C142.4 183.5 145.7 184.9 147.7 186.0C149.7 187.1 150.3 186.1 153.0 186.8C155.7 187.6 160.9 187.7 164.0 190.5C167.1 193.3 168.6 199.5 171.6 203.6C174.6 207.7 181.1 211.7 181.8 214.8C182.5 217.9 177.7 219.6 176.0 222.0C174.3 224.4 173.3 226.8 171.6 229.0C169.9 231.2 169.7 233.7 165.7 234.9C161.7 236.1 152.0 234.8 147.8 236.1C143.6 237.3 141.7 240.6 140.3 242.4C138.9 244.2 140.8 245.3 139.6 246.9C138.3 248.5 134.8 250.6 132.8 252.1C130.8 253.6 128.1 253.9 127.6 255.8C127.1 257.7 129.2 260.8 129.9 263.3C130.7 265.8 132.2 268.1 132.1 270.7C132.0 273.3 131.0 277.1 129.1 279.0C127.2 280.9 123.5 282.0 120.9 281.9C118.3 281.8 115.8 280.9 113.4 278.2C111.1 275.5 109.2 269.7 106.8 265.6C104.4 261.5 101.0 257.9 98.8 253.6C96.6 249.3 94.8 246.4 93.8 240.0C92.8 233.6 93.0 224.2 92.8 215.0C92.6 205.8 92.9 194.2 92.8 185.0C92.7 175.8 93.1 165.8 92.3 160.0C91.5 154.2 88.0 152.9 88.0 150.0Z" fill="none" stroke="#efb55e" stroke-width="1.05" stroke-dasharray="2.6 2"/><path d="M8.4 243.6C10.4 241.0 13.8 241.1 20.0 240.5C26.2 239.9 42.7 236.7 45.7 239.9C48.7 243.2 40.6 253.0 38.0 260.0C35.4 267.0 33.7 279.6 29.9 281.8C26.1 284.0 18.6 277.3 15.0 273.0C11.3 268.7 9.1 260.9 8.0 256.0C6.9 251.1 6.4 246.2 8.4 243.6Z" fill="none" stroke="#efb55e" stroke-width="1.05" stroke-dasharray="2.6 2"/><path d="M14.9 158.4h4.5M22.4 158.4h4.5" stroke="#efb55e" stroke-width="1"/><path d="M14.9 170.5h4.5M22.4 170.5h4.5" stroke="#4ab6df" stroke-width="1"/><text x="30.4" y="161" font-size="7.5" fill="#231f20">CD8<tspan font-size="4.65" dy="-2.9">+</tspan></text><text x="30.4" y="173" font-size="7.5" fill="#231f20">CD4<tspan font-size="4.65" dy="-2.9">+</tspan></text><text x="73.2" y="142.1" font-size="7.5" fill="#231f20">CD4<tspan font-size="4.65" dy="-2.9">+</tspan><tspan dy="2.9"> Cycling</tspan></text><text x="102.7" y="153.2" font-size="7.5" fill="#231f20">CD8<tspan font-size="4.65" dy="-2.9">+</tspan><tspan dy="2.9"> Cycling</tspan></text><text x="53" y="198" font-size="7.5" fill="#231f20">CD4<tspan font-size="4.65" dy="-2.9">+</tspan><tspan dy="2.9"> T</tspan><tspan font-size="5.10" dy="0.9">FH</tspan></text><text x="6.5" y="225.2" font-size="7.5" fill="#231f20">CD4<tspan font-size="4.65" dy="-2.9">+</tspan><tspan dy="2.9"> T</tspan><tspan font-size="5.10" dy="0.9">reg</tspan></text><text x="18.3" y="251.4" font-size="7.5" fill="#231f20">CD8<tspan font-size="4.65" dy="-2.9">+</tspan><tspan dy="2.9"> T</tspan><tspan font-size="5.10" dy="0.9">n</tspan></text><text x="13" y="304.2" font-size="7.5" fill="#231f20">CD4<tspan font-size="4.65" dy="-2.9">+</tspan><tspan dy="2.9"> T</tspan><tspan font-size="5.10" dy="0.9">n</tspan></text><text x="120.8" y="188.7" font-size="7.5" fill="#231f20">CD8<tspan font-size="4.65" dy="-2.9">+</tspan><tspan dy="2.9"> T</tspan><tspan font-size="5.10" dy="0.9">ex</tspan></text><text x="149.2" y="199.9" font-size="7.5" fill="#231f20">CD8<tspan font-size="4.65" dy="-2.9">+</tspan><tspan dy="2.9"> T</tspan><tspan font-size="5.10" dy="0.9">emra</tspan></text><text x="143.2" y="226" font-size="7.5" fill="#231f20">CD8<tspan font-size="4.65" dy="-2.9">+</tspan><tspan dy="2.9"> ILTCK-LC</tspan></text><text x="139.1" y="244.2" font-size="7.5" fill="#231f20">CD8<tspan font-size="4.65" dy="-2.9">+</tspan><tspan dy="2.9"> T</tspan><tspan font-size="5.10" dy="0.9">m</tspan></text><text x="136.6" y="271.5" font-size="7.5" fill="#231f20">CD8<tspan font-size="4.65" dy="-2.9">+</tspan><tspan dy="2.9"> MAIT</tspan></text><text x="106" y="290.3" font-size="7.5" fill="#231f20">CD4<tspan font-size="4.65" dy="-2.9">+</tspan><tspan dy="2.9"> T</tspan><tspan font-size="5.10" dy="0.9">m</tspan></text><text x="73.1" y="312.8" font-size="7.6" fill="#231f20"># Query cells = 15,056</text><text x="73.1" y="322" font-size="7.6" fill="#231f20"># Query TCRαβ clonotypes = 12,014</text><path d="M90.5 350.2C93.6 350.2 96.9 358.1 98.9 360.4C100.9 362.7 100.3 362.6 102.4 364.0C104.5 365.4 107.6 368.7 111.3 368.6C115.0 368.6 121.1 363.3 124.8 363.7C128.5 364.1 131.3 367.0 133.7 370.8C136.1 374.6 137.1 382.6 139.3 386.5C141.6 390.4 143.6 392.2 147.2 394.3C150.8 396.4 156.9 396.4 160.6 398.8C164.3 401.2 166.5 405.4 169.5 408.9C172.5 412.4 177.1 417.4 178.5 420.0C179.9 422.6 179.1 422.1 177.7 424.3C176.3 426.5 174.2 430.1 170.1 433.0C165.9 435.9 158.9 439.2 152.8 441.7C146.7 444.2 137.5 444.6 133.3 448.2C129.2 451.8 128.5 457.9 127.9 463.3C127.4 468.7 130.4 476.3 130.0 480.6C129.6 484.9 128.0 487.9 125.7 489.3C123.4 490.8 118.5 490.4 116.0 489.3C113.5 488.2 112.0 485.7 110.6 482.8C109.2 479.9 108.4 475.2 107.8 472.0C107.2 468.8 107.7 467.7 106.8 463.3C105.9 458.9 105.0 450.0 102.5 445.6C100.0 441.2 93.8 441.1 91.8 436.8C89.8 432.5 91.0 427.8 90.6 420.0C90.2 412.2 89.5 399.0 89.2 390.0C88.9 381.0 90.3 370.9 88.8 366.0C87.3 361.1 79.9 363.0 80.2 360.4C80.5 357.8 87.4 350.2 90.5 350.2Z" fill="#f5f4f2"/><path d="M82.0 361.4C79.9 361.4 76.4 363.1 74.6 366.0C72.8 368.9 73.4 375.1 70.9 379.1C68.4 383.2 63.1 386.9 59.7 390.3C56.3 393.7 52.9 395.9 50.4 399.6C47.9 403.3 46.0 409.0 44.8 412.7C43.5 416.4 43.1 418.6 42.9 422.0C42.6 425.4 42.7 428.3 43.3 433.0C43.9 437.7 46.6 446.0 46.6 450.3C46.6 454.6 45.6 455.0 43.3 459.0C40.9 463.0 35.0 468.7 32.5 474.1C30.0 479.5 28.6 485.4 28.2 491.5C27.8 497.6 27.8 505.9 30.3 511.0C32.8 516.0 38.2 520.7 43.3 521.8C48.3 522.9 53.4 520.4 60.6 517.5C67.8 514.6 78.6 508.8 86.6 504.5C94.5 500.2 104.6 496.2 108.3 491.5C112.0 486.8 109.2 481.0 108.7 476.3C108.2 471.6 106.7 468.3 105.4 463.3C104.1 458.3 103.6 450.6 101.1 446.4C98.6 442.1 92.3 442.2 90.3 437.8C88.3 433.4 89.6 428.0 89.2 420.0C88.8 412.0 88.1 399.0 87.8 390.0C87.5 381.0 88.2 370.8 87.2 366.0C86.2 361.2 84.1 361.4 82.0 361.4Z" fill="#f5f4f2"/><path d="M5.4 454.7C6.0 452.5 2.2 451.0 8.7 450.3C15.2 449.6 40.4 445.2 44.4 450.3C48.4 455.4 36.3 474.1 32.5 480.6C28.7 487.1 24.9 488.9 21.7 489.3C18.4 489.7 15.7 487.1 13.0 482.8C10.3 478.5 6.7 468.0 5.4 463.3C4.1 458.6 4.9 456.9 5.4 454.7Z" fill="#f5f4f2"/><path d="M92.2 355.3h0m2.4 .5h0m-.6 2.2h0m-9.4 1.5h0m-.9-.7h0m-.9 3.4h0m4.2 .4h0m.6-1.6h0m5.4 .1h0m.9 1.1h0m1.5-1h0m.7-.7h0m29.3 3.8h0m-24.6-.7h0m-2 .5h0m-.7 .4h0m-6.2-.1h0m-1.4 1.3h0m-1.2-1.6h0m-1.5 .7h0m-1.5-.4h0m-2.4 .5h0m-8 1h0m-1.1 1.1h0m1.4-.8h0m3.4 .7h0m1.3-.3h0m5.2 1.6h0m6 .1h0m2.6 .4h0m1.4-1.2h0m1.3-.4h0m8.7 1.3h0m10.3-1.4h0m1.4 1.7h0m3.4-1.2h0m.1-1.1h0m3.5 1h0m1.6-.4h0m0 .3h0m5.2 3.7h0m-.2-1.1h0m-1.8-.2h0m-2.7 2.1h0m-5.8-2.7h0m-1.3 2h0m-.8-2.1h0m-1.5 0h0m-1.3 .8h0m-7 1.4h0m-6.6-1.1h0m-.6 1.5h0m0-1.5h0m-.5-.9h0m-1.6 .5h0m-.2 .2h0m-1.2 1.3h0m-1.4 .2h0m-3.3-.8h0m-12.7-.6h0m-3.1 .9h0m-.4 .1h0m-.4-1.4h0m-3.6 2.2h0m-.3-.2h0m3.4 1.7h0m4.1-.3h0m.2 1.7h0m1.8-.8h0m3-1h0m0 0h0m1.6 .1h0m4.1-.2h0m.8 .2h0m4.9 .4h0m1.8 .5h0m8.4-.4h0m.4 .7h0m1-.6h0m5.3-1.4h0m2.4 1.7h0m.5 .9h0m1.5-2.1h0m.2-.2h0m.5 1.6h0m2.2-1.4h0m6.7 .9h0m1-1.2h0m2.4 1.6h0m.9 0h0m.1 3.8h0m-2.2-2.2h0m-1 1.4h0m-1 .8h0m-8.6-1.7h0m-4.7 1.7h0m-1-1.8h0m-.4-.5h0m-1.5 .6h0m-6.7 1.1h0m-4.4 .3h0m-13.7-.2h0m-1.8 .6h0m-1.5-.1h0m-6.8-1.3h0m-1.3-1.4h0m2.8 2.9h0m2.2 2.7h0m1.3-1.5h0m.7 1.2h0m3.6-1.2h0m6.6-.7h0m5.4 1.7h0m8.7-1h0m5.2 .9h0m17.7 .8h0m4.2-.6h0m2.6 1.6h0m-5.4 .3h0m-1.5-.7h0m-6 0h0m-4.7 1.6h0m-1.3-2h0m-7.1 0h0m-1.1 1.6h0m-10.2-1.5h0m-1.1 1h0m-1.1-.1h0m-5.7-.4h0m-.9 .9h0m-8.8-.2h0m-7.2-1h0m-2.3 .5h0m-4.7 4.3h0m5-2.1h0m2.1 2.5h0m.5-1.3h0m.5 .9h0m1.9-.4h0m6.7 .3h0m1.5-.5h0m.2-1.6h0m4.5 1.9h0m4.2-1.4h0m.7 2.4h0m5.9-.1h0m2.1-.2h0m.7-1.7h0m1.9 1.4h0m6.4-1.5h0m9.8-.2h0m2.5 1.8h0m5.1-2h0m1.6 1.5h0m2.8 .3h0m6.7 2.6h0m-6.8-.3h0m-10.9-1.3h0m-2.4 2.7h0m-11.2-1.3h0m-1.2 .6h0m-14.4 .1h0m-1.8-.1h0m-.4-.8h0m-16 .1h0m-5.9 .2h0m-5.4 .7h0m-2.4 1.8h0m.5-.5h0m1.3 1.1h0m11.9 1.1h0m.3-2.6h0m4.6 .8h0m1.8-.1h0m.1-.6h0m0 1.5h0m1.8-1.3h0m5.2 1.7h0m2.9-.7h0m2.6 .5h0m5.8-1.4h0m5.5 2.2h0m1.7-2.7h0m5.2 .3h0m0 2.4h0m.9-.7h0m.9-.9h0m3.5 .4h0m.8 .2h0m.6-1h0m3 2h0m6.7-2.9h0m.7 .5h0m4.1 2.2h0m6.2-.4h0m1.3-.4h0m-2.1 3.8h0m-8.9-2.5h0m-3.1 2.1h0m-1.8-.4h0m-3.3 .7h0m-.1-2.4h0m-4.8 1.9h0m-4.4-.1h0m-5.1 .3h0m-.7-2.2h0m-1.7 .3h0m-.9 .9h0m-2.2 .9h0m-4.3-1.2h0m-3.4 .7h0m-5.2 0h0m-9.2-.3h0m-4.4-.1h0m-1.8-1.3h0m-16.6 .6h0m-.8 2.3h0m-.2-1.4h0m1.4 4.1h0m5.9-1.8h0m.4-.3h0m1.4 .9h0m2.4 1.1h0m8-1.6h0m1.9 2h0m7.6-2.8h0m.1 1.1h0m6.1 .8h0m2.1 .1h0m1.3-.3h0m4.5-.5h0m3.9 .5h0m4.3 .4h0m1.6 .3h0m.2-.3h0m10-1.3h0m2.3-.7h0m.3-.1h0m3 1.3h0m.1 1.3h0m1.5-1.5h0m.8 1.7h0m6.6-2.8h0m1.4 1.1h0m.9-.6h0m.4 .8h0m1.7 .7h0m3.2 .8h0m3.9-1.8h0m.4 0h0m7.1 2.4h0m-3.2 2h0m-9.9-.7h0m-.4 1h0m0-.5h0m-3.1-1.6h0m-3.1-.2h0m-8.5 2.3h0m-1.2-1.7h0m-1 .1h0m-5.7 .4h0m-11.6 .9h0m-3.8-.4h0m-1.2-.4h0m-.2-.9h0m-.5 1.1h0m-2.1 .1h0m-2.2-.4h0m-1.7-.1h0m0-.2h0m-.2-.2h0m-12.4 0h0m-5.4-.3h0m-3 .5h0m0-.3h0m-3.4 1.5h0m-9.5-.1h0m-.7 .5h0m-.1-1h0m-8.2-1.7h0m-1.3 4.1h0m5.5 .8h0m2.6-.1h0m2.2-.7h0m3.7-1h0m3 1.9h0m.1-2.1h0m2-.1h0m1.5 .4h0m.4 .7h0m.7 .6h0m6.6-1.6h0m0 1h0m7.1 .6h0m12 .3h0m5.8-1.1h0m1.7 1.4h0m1.3-1.4h0m2.3 .8h0m.1 .2h0m3.8-.9h0m5.9 1.6h0m9.9-.6h0m.8 .4h0m3.3 0h0m.5-1.4h0m.7 .4h0m4.4 .6h0m5.4-.2h0m3.4-1.1h0m3 .1h0m.9 0h0m6.9 .8h0m8 1.5h0m-16.3 1.6h0m-.5-1.6h0m-7.2 2.2h0m-.9-1h0m-1.5 1.2h0m-1.2-1.5h0m-.8 1.2h0m-3.6-.4h0m-3.1-1h0m-3.1 1.4h0m-.5-.2h0m-1.6-.2h0m-2.9-1.6h0m-.1 2.4h0m-2.6-2.4h0m-2.4 1.3h0m-4.5-.2h0m-.4 0h0m-3.9-1.1h0m-3.2 1.8h0m-2.3-1.4h0m-1.2 .1h0m-1 .1h0m-1 .1h0m-.2-.4h0m-1.6 .3h0m-3.4-.2h0m-3.6 1.5h0m-1 .3h0m-1.8-1.5h0m-2.3 .7h0m-1.1 .5h0m-.1-1.9h0m-2.2 2.2h0m-1.4-.3h0m-.1 .3h0m-15.2-1h0m-15.7 1.1h0m-3.7 1.5h0m.2-.8h0m7.8 1.6h0m2 .7h0m1.4-2h0m4.6 .8h0m2.4 1.3h0m1-2.2h0m4.4 .4h0m1 .4h0m2.5-1.1h0m2.6 .7h0m15.2 .6h0m.9-.7h0m.2 .4h0m2.4-.4h0m10 .1h0m3.3 1.1h0m7.1 .5h0m5.5 0h0m.5-.7h0m.4-1.1h0m12.7-.4h0m.9 1h0m1.3-.3h0m4.5 1.9h0m2.5-1.6h0m12.8 1.5h0m.1 .1h0m1.1-1.4h0m6.6 1.3h0m1.7-1.3h0m1.8 3.5h0m-.6-.7h0m-.2-.3h0m-7.3 .7h0m-1 .4h0m-.6-.1h0m-6.4-.8h0m-.6 1h0m-.2-.7h0m-1.8-1.4h0m-3.9 .4h0m-4.1 1.1h0m-1.9-1.4h0m-2.5 .4h0m-6.5-.5h0m-4.6 1.8h0m-5.7-1.4h0m-1.6 1.5h0m-6.3-1h0m-4.2 .4h0m-.3-1.1h0m-.5 .7h0m-3.5 .5h0m-3.5 .4h0m-6.8 1h0m-6.4-.7h0m-5.8-.8h0m-2 .8h0m-1-.2h0m-2.4-.6h0m-1.8 .8h0m-1.1-1h0m-2.8 .8h0m-1.2 .7h0m-2.9 .3h0m-4-2.9h0m-.6 .9h0m-1 .6h0m-1.3 .2h0m-.3 .4h0m-.9-2.1h0m-1.9 2.7h0m-3-1.7h0m-2.3-.9h0m-2.6 2.3h0m-.2-.8h0m-1.3 .1h0m-2.2 4.1h0m.1-.6h0m1.9 .3h0m5-1.1h0m3.4-1.2h0m1.9 .5h0m1.5 .1h0m.6-.6h0m.1 2.5h0m1.3 .1h0m.6-1.9h0m16.2 1.3h0m2.8 .1h0m.8-.3h0m3.6 0h0m1.2 0h0m.2-.5h0m.1 .9h0m2.8-1h0m9.1 .2h0m.4-1.1h0m3.3 .7h0m3.3-1.2h0m.6 .7h0m4.9 .7h0m10.3-.7h0m4.7 1.9h0m4.9-.9h0m3-.1h0m1.6-.5h0m3.5 1.3h0m7.2-.3h0m3.5-1.4h0m4.4 2.2h0m7.5-2.6h0m.9 2.6h0m2.5-.5h0m1.5-1.5h0m.3 1.5h0m5.9-1.9h0m1.8 1.4h0m-3.2 3h0m-1 .2h0m-6.1-2h0m-.8 .1h0m-11 0h0m-2.8 1h0m-5.2-1.1h0m-5.8 1.6h0m-1 .2h0m-.8-.2h0m-.3-.7h0m-.3-.4h0m-1.7 2.3h0m-2.7-.9h0m-2.7 .6h0m-10.1 .3h0m-6.9-2.1h0m-3 1.2h0m-.7-.3h0m-1.7-.5h0m-2.2 .4h0m-2.7 .6h0m-1.6 .6h0m-.5-2h0m-.2 1.4h0m-2.9 .2h0m-1.1-.1h0m-.4-.7h0m-3.3-.2h0m-1.8 .7h0m-3.3 .7h0m-5.2-.7h0m-1 .1h0m-5.5-1.7h0m-13.4 1.6h0m-.1-1.9h0m-.4 1h0m-4.8 1.4h0m-.9-2.6h0m-.7 2.4h0m-4-.8h0m-1.4-.1h0m-3.4 1.1h0m1.8 1.9h0m16.9-.3h0m1.6 .2h0m2.3 .2h0m1.6 .3h0m2.7-1.9h0m.1 .3h0m4.4 1.1h0m2.5-1.2h0m7.5 2.6h0m9.5-2h0m1.2 .9h0m1.8-1.2h0m1.8 2.2h0m3-1.9h0m.3-.8h0m4.4 2.4h0m4.2-.9h0m5.1-1.2h0m2.2-.1h0m4.7 .3h0m4.4 .9h0m1.2-.8h0m5.5-.5h0m10.7 .7h0m14.3 .4h0m1.1 1.6h0m1.3-2.4h0m4.3-.3h0m2.9-.1h0m4 2.6h0m1.1-2.3h0m.4 .6h0m.7 1.3h0m-2.3 2.6h0m-.8-.9h0m-18.9-.1h0m-6.1-.3h0m-.4 .6h0m-4.3-.5h0m-7.9 2.1h0m-1.7-1h0m-8-1.6h0m-6.7 2.6h0m-11.1-2.4h0m-1.2 .9h0m-1 1.5h0m-5.2-.3h0m-4.7-.4h0m-1-1.6h0m-1.5 1.9h0m-2.4-.5h0m-2.5 .2h0m0-1.5h0m-7.2 .4h0m-14.1-.2h0m-2.5 1.6h0m-2.4 0h0m-9.1 .1h0m-1.3-2h0m-.4 0h0m-.1 1.3h0m-2.1 .8h0m-2.1-2.4h0m8.3 4.9h0m1.2-1.4h0m4.6 .4h0m.8 .9h0m5.7 1h0m5.3-1.4h0m7.6-1.3h0m3.6 .5h0m1.5 .5h0m2.6 .6h0m6.3 .3h0m2.4-2h0m3.3 0h0m.4 0h0m5.2 2.1h0m.3-.4h0m1.1-1.5h0m8 .4h0m1.8-.5h0m2.1 1.1h0m.6-.8h0m4.9 .9h0m2.9 1.4h0m1.8-2.8h0m2.7 2.1h0m0 .4h0m.9-2.5h0m2.4 1.9h0m5.2 .7h0m1.3-1.5h0m5.7-.7h0m8.3 1h0m5.6 .1h0m7.2-1.3h0m1.3 .6h0m1.2-.7h0m-5.2 4.2h0m-1.2-1.3h0m-.4 1.3h0m-5-1h0m-.5 .6h0m-1.3 .1h0m-5.1 1h0m-6.4 .5h0m-1-.8h0m-1-.3h0m-1 .5h0m-.1-1.2h0m-1.1 .1h0m-4.3 .7h0m-1.7-1.2h0m-6.7 2.1h0m-1 .1h0m-11.9-.6h0m-.1-.1h0m-2.1 .4h0m-2.1 .3h0m-2.2-1h0m-1.8-.7h0m-5.5 .8h0m-3.8 .1h0m-.6-.5h0m-6.7-1.1h0m-4.5 .2h0m-6 1.8h0m0-1.2h0m-5-.2h0m-2.3-.5h0m-.7 .6h0m-2.3-.8h0m-2.1 2.9h0m-.7-2.4h0m-1.8 .1h0m-4.2-.1h0m-1.1 2.2h0m-2.9-2.6h0m-3.3 2.4h0m-.1-.2h0m-8.6-.3h0m-1.1 .2h0m-.9-2.2h0m1.9 4.6h0m3.5 .6h0m9.2-.9h0m11.4 .4h0m.4-1.5h0m.6 1.5h0m.4-.7h0m1.5 .6h0m.7-.5h0m2.5-.6h0m10.2 .1h0m1.2 1.9h0m6.9-2.3h0m0 1.1h0m.5-.2h0m2.5 1.7h0m12.5-2.4h0m5.6 2.2h0m13.1-.5h0m2.5-.6h0m3 .2h0m.4-1.7h0m.1 .8h0m7.1 1.2h0m.3-.5h0m1.3 .8h0m1.7-.4h0m5.3-.9h0m6.4 1.6h0m1.7-.7h0m5.7-.2h0m1.8-1.4h0m-17.4 4.1h0m-3 .4h0m-9.1 .7h0m-8.5-1.6h0m-2.1 .5h0m-.1-.5h0m-2.9-.3h0m-5.3 .3h0m-18.6-.2h0m-2-.7h0m-10.1 .3h0m-6.1 .6h0m-4.5 .8h0m-3.7-1.2h0m-.4 1.8h0m-5.2 .3h0m-3.1-2h0m0-.5h0m-2 2.7h0m-1.7-2.1h0m-.3 1.1h0m-3.2 .1h0m-2.4-1.9h0m-1.8 1.9h0m-1.1 .5h0m-2.2-2.2h0m-3.3 .5h0m-1.4 0h0m5.5 3h0m2.6-.6h0m.1 2.1h0m1.1-.5h0m1.3 0h0m3.9-1h0m.3 .5h0m1-.4h0m2.5 1h0m1-1h0m.3 1.5h0m2.2-.6h0m1.9-1.2h0m2.4-.4h0m.1 1.2h0m12.2-1h0m3.8 .7h0m.8 .6h0m.5-.2h0m14.6-.6h0m1.9 .1h0m.1 1.8h0m6.3-1.2h0m1.8 .8h0m1.5-.1h0m6.1-.1h0m.6 .8h0m10.1-1h0m6.8-.1h0m1.5 .8h0m5.9-1.8h0m1.5 1.1h0m1 .2h0m1-1.1h0m4.1-.7h0m-1.4 3.2h0m-5.3 2.1h0m-.7-.9h0m-4.1-1.7h0m-.5 2.2h0m-2.9 .1h0m-.8-1.7h0m-9.3 .5h0m-.2-.9h0m-6.2 1h0m-1.2-.2h0m-29.2-.5h0m-3 1.7h0m0-.7h0m-.5-1h0m-6.4 0h0m-5.7 2.3h0m-3.6-.6h0m-5.9-.6h0m-2.9 .4h0m-3.2-.2h0m-.1 .5h0m-8.3-2.2h0m-1.6 2.8h0m-3 0h0m-.3-1.6h0m-1.1-.2h0m11.2 4.5h0m6.8-.4h0m4.1-1.5h0m7 1.5h0m2.9-.8h0m2.8 1.1h0m3.4-1.5h0m.7 1.9h0m4.8-1.4h0m3.9 .2h0m5.9-.5h0m5.1 0h0m.3-.1h0m2 .8h0m4.8-.2h0m.9 0h0m3.8-1.6h0m3.2 .8h0m1.3-.8h0m.7 1.5h0m.5-.8h0m.7 .8h0m7.6-1.1h0m4.9 1.3h0m.3-1h0m3.1 0h0m-4.3 2.5h0m-2.1-.2h0m-1.2 .1h0m-.7 1.9h0m-5.4-1.4h0m-3.3-.5h0m-3.3 1.4h0m-6.4-.9h0m-.5-.5h0m-2.1 2.5h0m-3.8-1.2h0m-14.8 .1h0m-.8-.8h0m-10.6 .3h0m-1.3 1.7h0m-.3-2.1h0m-10.1 .1h0m-3.5-.3h0m-8.2 .7h0m-1.7-.7h0m-1.4 .3h0m-2.1 .4h0m-40.5 3h0m2.6-.4h0m3.9 .9h0m.4-1h0m.1 1.1h0m3.3-1.4h0m2 2.2h0m1-1.6h0m2.5 1.4h0m10.7-1.1h0m3.7 .6h0m1.7-1.2h0m7-.5h0m2.4 1.4h0m6.5-.7h0m.7-.3h0m2 .9h0m2.1-.1h0m7.6 1.5h0m4.9-.4h0m1.3 .2h0m5-1.4h0m5.3-.9h0m.4 2h0m2.8-.8h0m3.3 1.3h0m2.2-2.4h0m3.9 .1h0m2.2 1.7h0m.1-1.8h0m4.2 1.2h0m.4 .4h0m.5-.2h0m1.9 .2h0m6.4-2.1h0m6.9 1.1h0m3.8 .3h0m2.6-.9h0m1.6-.2h0m.4-.1h0m1.2 .5h0m.6 .1h0m-2.2 4.6h0m-3.5-1.6h0m-1.1-.7h0m-4.7 .3h0m-6.5 0h0m-1.9 .1h0m-3.8-.3h0m-.8 .6h0m-1-.8h0m-.3 2.4h0m-4.7-2.2h0m-2 1h0m-.1-.9h0m-3.9 2h0m-.5-.5h0m-.1 .4h0m-3.1 .4h0m-4.2 .2h0m-1.6-2.2h0m-2 .7h0m-.8 .4h0m-4.5-1.4h0m-.1 .3h0m-3-.4h0m-2.7 1.9h0m-1.4 .1h0m-.6 .2h0m-2-1.3h0m-7.1 1.1h0m-.9 .7h0m-.1-1.5h0m-1.4 .4h0m-1.2 .3h0m-9-.2h0m-1.7-1.3h0m-.9-.2h0m-5.6 1.9h0m-1.7-2.1h0m-6.4 2.3h0m-9.3-.7h0m-7.8 .7h0m-1.6-2h0m-1 1.7h0m-2.2-2.2h0m-.3 2.6h0m-.4 3.2h0m.4-.8h0m3.5-.2h0m5.1-.1h0m2.4 .9h0m5.9-2.5h0m4.6 .5h0m6.3 .6h0m5.9 1.5h0m5.9 .2h0m4.5-2h0m2.3 1.4h0m3.9-.4h0m.9-.5h0m1.2-1.4h0m2.6 1.6h0m.5 1.1h0m1.3-2.2h0m2.1-.4h0m6.7-.1h0m1.4 1.7h0m1.9-.9h0m6.6 1.3h0m15.3 .6h0m.7-2.4h0m5.6 2.6h0m.6-2.7h0m3.7 .8h0m6.5-1h0m7.3 .7h0m2.5 3.5h0m-3.1 .3h0m-5.3-1.1h0m-.1 1.9h0m-6.3-1.6h0m-1.4-.2h0m-4.6 1.9h0m-3.6-.6h0m-3.1-1.4h0m-9.1 1.2h0m-1.1-.9h0m-1.3 .5h0m-10.1-.6h0m-1.1 2.3h0m-2.6-2.3h0m-.6 1.8h0m-3-2.2h0m-8.6 2.5h0m-3.9-.6h0m-5.2 0h0m-4.9 .6h0m-13.4-.3h0m-9-.9h0m-1.9-.7h0m-1.9-.7h0m-7.3 .8h0m-1 .3h0m-.1 1.5h0m-.7-2.7h0m-3.7 2.7h0m1.5 1.2h0m7.8-.6h0m1.1 .8h0m2.3-.7h0m3.1 .6h0m1.9 .6h0m2.7 .4h0m1.7-1.2h0m.7 2h0m.7-2.2h0m.2 1h0m1.5-.7h0m1.1 .7h0m3.7 .8h0m5.3 .1h0m2.8-1.9h0m2.2-.6h0m1.2 1.3h0m1.7-.8h0m1.3-.3h0m2.6 2.6h0m7.7-.8h0m10.4-.9h0m4.1-.5h0m3.9 0h0m.5 1.5h0m11.3-1.8h0m3.9 1.9h0m.3-2.2h0m2.2 1.5h0m8.4 1.1h0m2.5 .2h0m2.4-2.5h0m2.8 2.3h0m-3 2.1h0m-5.5 .5h0m-11.1 0h0m-1.2-2.2h0m-1 .2h0m-.8 2.4h0m-2.1-2.3h0m-1.9 1.9h0m-2.9-.2h0m-.2 .4h0m-8.9-.2h0m-.8-1.1h0m-2.8 1.1h0m-3.4-1h0m-1 1.2h0m-4.3-1.4h0m-16.4 .1h0m-8-1.1h0m-2.9 2.4h0m-4.7-1.1h0m-2.5 0h0m-7-.9h0m-1.8 .9h0m-2-.8h0m-6.5 2.1h0m-1.3-2.5h0m-3 1h0m0-.4h0m-.7 .8h0m-2 3.4h0m.2 .4h0m.1-1.9h0m3.6 1.5h0m1.6 .9h0m3.1-2.8h0m14.4 1.7h0m9.1 1.2h0m11-1.1h0m.2 .4h0m1-1.5h0m9.3-.4h0m.2 .9h0m2.1 .6h0m2.1-1h0m3.1 2h0m.3-2.7h0m.7-.1h0m3.9 2h0m3.2-1.5h0m9.2 1.1h0m2.2 .7h0m1 .2h0m2.8-2.3h0m3.2 0h0m2.1-.1h0m.4 1h0m.2-.9h0m4.8 1.6h0m9.8-1.1h0m.1 1.3h0m4.9-2h0m1.8 .8h0m.1 2.1h0m4.5-.6h0m4.2-.2h0m-7 3.5h0m-3.4-1.9h0m-3.5 1.8h0m-4.4 0h0m-.4-.1h0m-3.4-1h0m-4.7-.7h0m-8.6 1.1h0m0-1.7h0m-12.1 1.7h0m-9.5 .3h0m-1.4-1.6h0m-8 .4h0m-.5 .9h0m-2.3-1.5h0m-.1-.2h0m-.4 2.5h0m-4.9-1.9h0m-.9-.2h0m-2.1 2.4h0m-1.8-1.1h0m-1.2-1.5h0m-5.7 1.2h0m-2.3 .4h0m-.8-.3h0m-.3-1.5h0m-13.5 1.5h0m-10.8-.9h0m-2.1 1.8h0m-1.2-.6h0m5.5 2.2h0m17.8 .1h0m2-1.1h0m2.2-.1h0m2.5 1.8h0m2.3 .8h0m.7-1h0m1.1 .4h0m.5-1h0m4.6 .8h0m2.8 .1h0m5.9 .3h0m.8 .2h0m3.4 0h0m5.4-.3h0m6.4 .7h0m5-1.3h0m1.3-1.3h0m1.6 1h0m1.4-.1h0m.1 1.6h0m12.6-2.3h0m10.3-.1h0m1.2 .6h0m3.5 .9h0m1.8-.2h0m5.6-.4h0m7.3 1.6h0m.3-.5h0m1.9 3.3h0m-6.8-1.1h0m-.2 0h0m-2.6-1.3h0m-9 2.7h0m-4.7-1.2h0m-3.3-1h0m-7.8 0h0m-2.9 1.5h0m-1.4-1.9h0m-1.2 2h0m-1.9-.3h0m-4.4-.6h0m-3.2 .9h0m-3.6-1.3h0m-7.7-.5h0m-5 2.1h0m-13.9-.1h0m-2.6-1.4h0m-6.6 1.7h0m-12-2.3h0m-.7 2.2h0m-3.5 .1h0m-1.4-2.8h0m-5.7 5h0m3.8 .5h0m2.6-2h0m3.3 2.4h0m2.3-1.9h0m2.3 1.6h0m1-.4h0m.6-.2h0m1.6-2h0m4.5 2.5h0m1-.2h0m11.3-1.3h0m.6 1.3h0m3.4 .5h0m3.6-.6h0m.2-2h0m1.2 .1h0m6.6 1.5h0m3-1.6h0m5.2 .4h0m.9 1.6h0m1.5 0h0m6.2-.8h0m3.8 1.2h0m1.8-1h0m3.8-1.1h0m.3 1.1h0m.8 .3h0m3.5 0h0m3.3 .1h0m.2-.9h0m0 .7h0m2.6-1.1h0m20.7 .8h0m1.1-.4h0m2.8-.9h0m-3 4.5h0m-1.1 .2h0m0-.6h0m-7.5 .6h0m-18-1.4h0m-.1 2h0m-.8 .4h0m-1.7-.4h0m-8.2 .4h0m-4.7-2.3h0m-.9 1.1h0m-1.4-.9h0m-6.7 1.2h0m-4.5-.4h0m-9.6 .6h0m-1.2-.1h0m-.3-2.1h0m-7.3 1.6h0m-2.8-.7h0m-2 .6h0m-5-.6h0m-.3 .8h0m-17.5-.1h0m-1-1h0m-4.4 .8h0m1.3 3.3h0m2.6-1.4h0m8-.2h0m4.8 .3h0m3 2.4h0m.4-.8h0m.1 .6h0m1.3 .2h0m6.6-1h0m4-.9h0m1 1.7h0m.3-1.6h0m9.9 1h0m8.3 .6h0m10.7-2.3h0m.7 .4h0m8.3 1.4h0m4.2-1.1h0m.6 1.8h0m3.5-1.4h0m2.8-.1h0m2.7 .6h0m.8-1.1h0m.3 3.5h0m-5.3-1.1h0m-1.9-.2h0m-.4 1.2h0m-4.2 1.3h0m0-2.5h0m-4.1 2.5h0m-3.4-2.4h0m-1.7 2.2h0m-6.9-2.1h0m-4.2 .7h0m-.1-.2h0m-8.6-.5h0m-2.5 2.6h0m-.5-2.7h0m-2.5 1.2h0m-.4 .4h0m-15.5 .6h0m-1.4-2.2h0m-10.9 .8h0m-1.3 1.4h0m1.4 1.5h0m1.1 1.8h0m2.1-2.3h0m1.9 .2h0m5.4 1.5h0m.4 .5h0m3.6-.7h0m5 .3h0m13.3-.6h0m4.4 .4h0m2.9-1.2h0m4.5 .9h0m.5-.3h0m12.7 1.1h0m5.6-.8h0m.3-.8h0m10.1-.7h0m-4.7 4.8h0m-4.1-.4h0m-4.8-.7h0m-.4 1.7h0m-2.6-.2h0m-.2-.3h0m-1-.9h0m-7.1 1h0m-.8-1.5h0m-2.1 2.2h0m-5.4-1.7h0m-2.6 1.4h0m-3.7-.8h0m-4.9-.1h0m-5.2-.9h0m-1 1.4h0m-4.7-1.4h0m-1.7 .1h0m-.6 .9h0m-.7 0h0m-10.3-1.3h0m-4 4.2h0m.9 1.1h0m6.2-.7h0m6.7-.5h0m.5-1.2h0m5.6-.1h0m.7 .5h0m5.1-.3h0m.3 1.9h0m1 .5h0m4.2-1.1h0m12.8 .2h0m.2-1.2h0m1 2.2h0m1.4-.4h0m10.4-2.1h0m1.5 2.3h0m2.5-2.6h0m1.2 .1h0m.8 .5h0m-6.3 3.2h0m-4.5 1.9h0m-2.3-2.1h0m-3.4 1.2h0m-2 .3h0m-.5-2h0m-6.3 1.4h0m-1-.4h0m-15.9 1.3h0m-3-.9h0m-2.5-.5h0m-2.4 1.7h0m-1.6-2.3h0m-8.5 2.3h0m-2.2-1.4h0m-.9 0h0m.7 2.1h0m.2-.2h0m5.7 .9h0m2.2-1.1h0m3.1 1.6h0m1.3 .4h0m1.9-1.5h0m.6 .3h0m26.8-.1h0m3.3 .8h0m1.1-1.6h0m4.4 1h0m-5 4h0m-12.4-1.6h0m0-.3h0m-3.3 2.1h0m-.9-1.9h0m-2.4-.2h0m-4.3 .6h0m-3 1.2h0m-4.5 .5h0m-.6 .5h0m-2.2-1.6h0m-.9 1.6h0m-1.7-1.5h0m0 0h0m-1.2 .5h0m-7.4 3.2h0m2.1-.6h0m.3-.5h0m2.6 .5h0m8.4 1.2h0m5.3-.4h0m7.7-2.3h0m4.3 2.7h0m1.5-2.1h0m2.8 1h0m3.4-1.6h0m-3.7 3.8h0m-2.2 1.2h0m-.4 .4h0m-.8 .1h0m-1.1-.7h0m-2.8 .5h0m-5-1.5h0m-1.3 1.5h0m-1.1-2.3h0m-2.9 .8h0m-.3 .1h0m-5.3-.6h0m-1.1 .6h0m-.1-.7h0m-3.9 1.6h0m-1.5-.7h0m2.4 3.8h0m4.9-1.2h0m1.4 .6h0m5.9 .1h0m2.2 0h0m1.2-.4h0m.7 1.5h0m-8.5 1.2h0" stroke="#dbd8d4" stroke-width="0.5" stroke-linecap="round" fill="none"/><path d="M103.5 394.7h0m5 4.6h0m-23.6 2.6h0m-30.9-2.1h0m-2.5 4.8h0m21.8-2.5h0m11.6 .6h0m7.4 2.6h0m-11.4 .6h0m-3.3 1.6h0m-1.6-2h0m-23.2 4h0m7.6 .9h0m4.4-.4h0m29.7 0h0m-9.9 3.3h0m-2.7 0h0m-14.5-1.8h0m-7.3 2h0m-.2 .3h0m-5.1 1.8h0m3.9 .9h0m13.2 .2h0m2.5-.9h0m37.8-.6h0m.3 4.3h0m-7.7-2.5h0m-7.4 2.8h0m-34.6-2h0m-.4 2.1h0m-6.4-1.7h0m-1.3-.5h0m-8.8 4h0m17.1-1h0m1.5 .5h0m.2-.1h0m.1 1.5h0m9.2-1.5h0m1.5 .6h0m5.2-.1h0m22.6 .9h0m22.6 3.4h0m-9.1-2.8h0m-19.1 1.3h0m-3 1.2h0m-3.2-2.5h0m-.5 1.4h0m-.1-.6h0m-2.1 .1h0m-1.6-.3h0m-7.1-.3h0m-1.4 1.8h0m-.8-1.9h0m-4.9 .4h0m-1.1 1.2h0m-2.9-.1h0m-1.8 .3h0m0-1.6h0m-2.4 2.3h0m-4.8-2h0m-2.8 .5h0m-10.7-.1h0m-.4-1.2h0m5.3 3h0m2.3 .6h0m2.4 2h0m3.3-1.7h0m0 .8h0m1.6 0h0m3.6-1.1h0m.3 .9h0m.5 .5h0m3.5 .7h0m3.2 .2h0m3.9-1.4h0m2.9 1.3h0m3.3-2.3h0m2.2-.3h0m2.1 .7h0m1.2 1.5h0m9.3-2.1h0m4.1 1.6h0m3.2-1.4h0m.3 .4h0m2.6 1.4h0m2.6-.8h0m13.2 .3h0m-11.9 1.8h0m-11.1 1.8h0m-.4-1.5h0m-3.7-.6h0m-10.2 2.6h0m-.4-1h0m-3.2 .2h0m-.1-.9h0m-3.5 1.2h0m-4.9-1.3h0m-2.3 .9h0m-13.1-1.7h0m-.2 1.6h0m-.3-1.3h0m-.2-.3h0m-1 .1h0m-1.6-.1h0m-5.7 .4h0m-4.8 4.7h0m5.4-.5h0m8.4-.5h0m.1-.3h0m1.3-.1h0m5.4 .8h0m2.8-.2h0m.4 .5h0m.2-1.8h0m1.2 2.1h0m1.7-1.5h0m.8-.1h0m3.5 .4h0m1.4-.1h0m.2 .1h0m.8-.9h0m1 .7h0m2.4-.4h0m1.1 .5h0m1.8 0h0m4-.7h0m.8 1h0m.3-1h0m9.9 2.1h0m1.8-.7h0m1 .2h0m26.1 2.2h0m-12.6 .3h0m-4.7 .7h0m-9.2-1.7h0m-4.7 1.8h0m-1.5-.1h0m-6.3-1.3h0m-1.7 .7h0m-.5 0h0m-.7-.6h0m-.4 1.5h0m-.7 .2h0m-.1 .1h0m-.3-1.6h0m-5.1-1.1h0m-.1 1.4h0m-.9-1.3h0m-4.6 1.8h0m-1.5 .5h0m-2.3-1.7h0m-.6 1.8h0m-1.4-2.3h0m-.8 1.5h0m-1.9 .1h0m-2-.9h0m-3.8 .3h0m-2.7 1.2h0m-3.5-1.7h0m-.4-.2h0m-8.7 0h0m1.5 2.6h0m1.2 .2h0m.2 2.2h0m11.2-.1h0m.7-2.1h0m2.7 .5h0m8.2 0h0m3.7 1h0m.1 .2h0m4.2-1.7h0m1.3 .7h0m.2 .4h0m.3-1.1h0m1.4 2.1h0m1.9-2.4h0m.9 1.7h0m.2 1.1h0m2.2-.5h0m1.6-1.7h0m2.5 1.2h0m18.6-.7h0m0 1.1h0m2.8-1.2h0m-1.9 2.3h0m-1.8 1.9h0m-6.4 .5h0m-6-.6h0m-.3-.6h0m-2.7 .1h0m-2.7 .6h0m-1.7-.6h0m-3.5-.2h0m-4.9-.2h0m-3.5 .4h0m-.1 .4h0m-.3 .2h0m-.4-.6h0m-.1-1.2h0m-2.2 .2h0m-2.1 .3h0m-.1 1.5h0m-.7 .4h0m-.2-.3h0m-1.3-1.4h0m-2.3-1.2h0m-4.5 1.1h0m-1.4 1.1h0m-8 .4h0m-6.4-2.5h0m.9 4.2h0m1.9 .7h0m.2-1.5h0m3.9 0h0m1.1 1.4h0m3.6-1.6h0m1.7-.1h0m.1-.2h0m3.4 .1h0m.9 1.2h0m2.9-.5h0m1.6-.3h0m2.6-.2h0m.6 1.3h0m.3-.7h0m.3-.7h0m0 2h0m1.4 0h0m2.2-1.5h0m.8 1.6h0m2.5-2.1h0m1.1 .8h0m1.2-.7h0m1.2 1.7h0m.2-1h0m.3-.3h0m.7 2h0m2.7-1.2h0m2.8 .4h0m7.2-1h0m1 1.1h0m10.2-1.1h0m1.3 0h0m.5-.4h0m21 .9h0m-4.3 3.6h0m-10.8 .7h0m-1.3-.5h0m-3.7-.5h0m-2.3 .7h0m-1-1.8h0m-1-.3h0m-.5 1h0m-2.5 .5h0m-4.3-1.2h0m-.2-.1h0m-6.6 2.3h0m-.3-1.5h0m-2.5-.2h0m-1.4 1.3h0m-.8-1.4h0m-6.3 .9h0m-.4 .8h0m-1.1-2.1h0m-.6 .2h0m-3.6-.4h0m-.7 2.3h0m0-2.5h0m-1 .3h0m-2.8-.2h0m-1.8 1.5h0m-.7 .4h0m-1 .7h0m-1.3-.4h0m-1.9-.1h0m-1.5-.2h0m-.7-1.4h0m-2.3 .6h0m-1.3-.1h0m-1.5 .2h0m-1.3-.9h0m-1.3 1.2h0m-.5-.5h0m-2.6 1.4h0m-1.6-2.5h0m-2.8 1.3h0m-20.6 3.5h0m6.6-1.2h0m1.8-.5h0m.9 1.5h0m4.4 .3h0m3.6-1.3h0m3.4-.5h0m.8 1.9h0m.6-.4h0m1.7-.5h0m8.5 1.5h0m.6-.7h0m.2-1.1h0m1.3 1h0m2.3-1.3h0m1.5 .6h0m2.3 1.5h0m1.8-.5h0m.8-1.7h0m1.3 .5h0m.2-.7h0m.4-.2h0m1.1 2.6h0m1.9-1.6h0m1.9-.8h0m.7 2.5h0m1.1-.7h0m1 .1h0m1.1-1h0m1.9-.8h0m.4 .9h0m.9-1.2h0m.8 1.1h0m.7-1.1h0m.3 2.4h0m6.1-.5h0m1.2 .5h0m12.8-.7h0m4.3 .6h0m8-.5h0m-6 1.4h0m-1.5 1.7h0m-8-1.1h0m-1.9-.1h0m-.5-.6h0m-2.6 1.3h0m-1.2 1.3h0m-.2-1.3h0m-3.5-1.4h0m-1.3 1h0m-2.9 .8h0m-4-1.8h0m-.1 0h0m-.2 .6h0m-5.3-.2h0m-3.1-.4h0m-.1 2.3h0m-.7-.8h0m-.4-.5h0m-5.1-1h0m-.9 1.2h0m-2.5-1.4h0m-4 1.1h0m-2.9-.4h0m-.7-.3h0m-.1-.3h0m-.8 1.3h0m-.5-.9h0m-.5 2.3h0m-2.4-.3h0m-1.3-2.3h0m-.5 .4h0m-.6 .8h0m-1.6 1h0m-.7 0h0m-1.1-1.4h0m-2-.8h0m-21.1 2h0m15.1 3.2h0m1.7-2h0m3.4 2.1h0m2.2-.7h0m1.4-.4h0m.4-.1h0m.7 1.5h0m1.1-.2h0m1.9-.8h0m1.5-1h0m2.1-.4h0m1.9 1.7h0m1.7-1.7h0m4.7 1.4h0m3.7-.9h0m1.9-.5h0m4 .5h0m6 .7h0m.2-1.2h0m.6 1.6h0m1.9 .2h0m.9-1.9h0m.6 2.6h0m2.2-2.7h0m.4 2.7h0m11.1-.4h0m.8 .4h0m.4-2.6h0m7.2 1.2h0m.6-.4h0m1.8 3.8h0m-5.7-1h0m-.6-.3h0m-1 .3h0m-.1-.7h0m-6.2 2h0m-1.8-2.2h0m-1.1 2h0m-.8-1.7h0m-1.9 1.9h0m-1.4-1.3h0m-3.1-.3h0m-2.1 .2h0m-.1 1.3h0m-3.6-1.1h0m-.3-.8h0m-.8-.2h0m-.3 0h0m-4.9 1.3h0m-1-.1h0m-2.4 .1h0m-.2 1.3h0m-.1-1.2h0m-.5 .9h0m-4.1-1.8h0m-.7 .1h0m-3-.2h0m-1.1 2h0m-2.2-1h0m-1.8 1.4h0m-1.2-2.7h0m-1.3 .2h0m-.2 .9h0m-1.1-.8h0m-.1-.2h0m-2.7 2.4h0m-.2-1.2h0m-1.7-.2h0m-2.2 .2h0m-1.4 .1h0m6.4 3.1h0m1.6 .3h0m2.9-1.7h0m3.1 .5h0m3.2 .2h0m2.2-.4h0m.9 1.4h0m.9-.2h0m2.9 .8h0m.1-1h0m.5-1.3h0m1 1.9h0m1.4-.4h0m0 .1h0m3.1 1h0m.5-2.2h0m1.5 1.6h0m.2-.9h0m.5-.4h0m0 1.2h0m.6-.4h0m5.5 .3h0m2.1 .8h0m2.3-2.6h0m1.7 1.4h0m1.1-1h0m9 1h0m3.5-1.6h0m6.4 .3h0m1.8 0h0m0 1h0m4.7 .1h0m12.5 2h0m-16.4 .1h0m-.3 1.6h0m-11.9-2.1h0m-7.7 2.9h0m-2-1.7h0m-.2 .3h0m-3.5-1.4h0m-4.1 0h0m-1.4 .6h0m-4.2 0h0m-.4 1.7h0m0-.5h0m-2-.5h0m-2.8 1.1h0m-.4 .3h0m-1.5-1.2h0m-2.5-.9h0m-.3 1h0m-.5-1.1h0m-1.2 0h0m-2.2-.2h0m-2.1 1.7h0m-.4-1.7h0m-.5 2h0m-2-2.4h0m-.3 1.8h0m-4.6-.9h0m-.5 1.2h0m-1.5-1h0m-.1 .2h0m-9.9-1.1h0m-1.1 1.8h0m-10.5 2.3h0m5.7 1.3h0m9.8-1.3h0m9.9-.1h0m2.2 .2h0m2.6-.8h0m2.3 2.2h0m.3-.8h0m0 .3h0m2.9-2h0m7.3-.3h0m0 .2h0m6.9 .8h0m4.2 .3h0m1.7-.3h0m7.2 1.1h0m8.2-.8h0m.3-.5h0m4.2 2.1h0m.5-1.8h0m7.7 1.1h0m5.4-1.8h0m10.7 4.5h0m-20.7-.1h0m-1.9-1.8h0m-5.1 .1h0m-5.2 1.2h0m-3 0h0m-.5 1.1h0m-.6 .3h0m-.2-1.4h0m-3.1-.5h0m-5 .4h0m-1.3 .7h0m-5-1.3h0m-2.3-.5h0m-1.2 .2h0m-.2 .3h0m-.5-.5h0m-1.4 2h0m-3.7-1.8h0m-2.1 2.6h0m-3.6-2.1h0m-4.5 1.1h0m-2.1-.6h0m-4.8-1.1h0m-5.3 .4h0m-19.9-.1h0m3.4 4.8h0m5.6-1.5h0m16.1 .7h0m2.1 .5h0m4-1.4h0m2.7 .9h0m3 1.1h0m1-.4h0m.7-.7h0m.5-.2h0m2.1 0h0m2.1 1.5h0m3.4-2.6h0m.2 .7h0m4.6 .7h0m.3 .4h0m2-1.9h0m.8 1.5h0m2.8-.2h0m1.4-.5h0m.7 .2h0m1.1 1.2h0m2.1-2h0m2.7 2h0m1.4 0h0m3-1.3h0m3.8 1.3h0m.6-.9h0m.9 .6h0m3.8-.3h0m2.1-.8h0m18.7-.6h0m-6.6 2.9h0m-14.5 1.4h0m-.9-.4h0m-9.7 1.4h0m-.2-.3h0m-1.6 .5h0m-3.5-1.8h0m-1 .9h0m-1.2-.4h0m-1 .6h0m-8 .3h0m-2.4-.6h0m-4.9-1h0m-.4 1.2h0m-.9-.5h0m-4.3 0h0m-.1 1.2h0m-1-.7h0m-1.5 .6h0m-7.5-2.4h0m-2.5 2.4h0m0-2.4h0m-16.3 3.5h0m0 .9h0m13.6 1h0m2.1-1.2h0m4.7-1.2h0m8.2 2.2h0m1.1-1.4h0m.8 .6h0m2.2 0h0m.3-.6h0m.1 1.1h0m5 .7h0m13.1-.9h0m.8-1.9h0m2.9 2h0m4.3-1.6h0m.2 .7h0m4.2 1.4h0m9.6-.3h0m-.3 3.1h0m-8.4-.4h0m-.2 .5h0m-.3-.5h0m-6.6-.7h0m-5.1 .2h0m-.2-1.4h0m-10.5 2.4h0m-6-1.6h0m-2.3 .6h0m-1.5-1.1h0m-4 .8h0m-1.5 .9h0m-4-1.3h0m-4.5-.7h0m-8.3 .1h0m-1.7 2.1h0m-.1-1.2h0m-1.7-.1h0m-5.7 1.6h0m-17.9-.4h0m37.1 1.9h0m9.2-.5h0m1.8 1.1h0m8 1h0m1.9-1.2h0m1.2 .6h0m3.2-1.4h0m10.2 2.3h0m.2-2.6h0m1.1 0h0m3.8 2.4h0m18.2-2.5h0m8.4 2.9h0m-15.4 .5h0m-3.1 .2h0m-6.9 1.3h0m-.1-.3h0m-1.2-1.4h0m-13.3 2.3h0m-1.1-.6h0m-1.6 .6h0m-7.2-2.5h0m-2.8 1.9h0m-9.5 0h0m-20.9-1.4h0m-8.3 4.6h0m3.6 .5h0m18.1 0h0m7 0h0m3.6-2.8h0m8.6 1.2h0m10.1 .7h0m2.2-1.3h0m1 .7h0m.6 1.5h0m.9-1h0m2.1 .3h0m8.6-1h0m-5.8 2h0m-8.5 1.6h0m-11.4 1h0m-9-2.3h0m-5.6 .6h0m-12.5-.1h0m-2.8-.5h0m14.7 3.5h0m19.4 1.8h0m2.7-2.3h0m1.4 1.6h0m5.5 .8h0m5.5-2.3h0m4.6 .3h0m-28.9 2.7h0m-14.8 2.5h0m13.7 1.4h0m1.4-.8h0m5.7 .3h0m3.6 2.7h0m-33.7 1.8h0" stroke="#cdc9c5" stroke-width="0.5" stroke-linecap="round" fill="none"/><ellipse cx="27" cy="457" rx="9" ry="6" fill="#ece4b0" filter="url(#bl2)" opacity="0.8"/><path d="M10.7 451.2h0m3.2 .1h0m1.7 .5h0m.1 .7h0m1.6 0h0m.9-.6h0m.8 .3h0m1.3-.7h0m1 .9h0m1.5 .1h0m.1-.2h0m.1-1.3h0m.2 0h0m1.1 1.3h0m.2-1.3h0m.9 .5h0m.3 .4h0m.3 .8h0m.2-.6h0m.2 .6h0m.6-.5h0m.2-1.6h0m0 .1h0m.2 1.9h0m.2-.1h0m.2-1.5h0m.6 1.4h0m0 .5h0m.3-1.5h0m2.4-.8h0m1.3 1.4h0m1.3 .4h0m.5-2h0m.2 1.4h0m1.2 .6h0m1.5-1.5h0m10.5 4.1h0m-7.5-.8h0m-2.9-.9h0m-.5 .1h0m-1.2 1.3h0m-.2-1.1h0m-.1-.5h0m-.3 0h0m-1.2 2.4h0m-.8-.6h0m-.2 .6h0m-.4 0h0m-.1-.5h0m-1.3-.2h0m-.8-.1h0m-.5-.7h0m-.2 1.9h0m-.3-1.4h0m-.1 .8h0m-.4-1.2h0m-.1-.1h0m-.1 1h0m-.9-.7h0m-.2 1.1h0m0-.9h0m-.1 1h0m-.3-1.4h0m-1.3 1.3h0m-.1-.6h0m-.3 .1h0m-.1-.2h0m-.9 1h0m-.1-.4h0m-.8 .3h0m-.1-.3h0m-.1-.6h0m-.6 .4h0m-.1-.1h0m-.1 0h0m-.2-1.2h0m-.6 .2h0m-.1 1.5h0m0-1.2h0m-1.2-1.1h0m-.1-.2h0m-.4 1.1h0m-.3 1.8h0m-.1-1.7h0m-.2-.9h0m-.1 .2h0m-.1 2h0m-1.4 .1h0m-.1-1.6h0m-.2-.2h0m-.2-.1h0m-.8 2.1h0m-.9-.8h0m-1.4-1h0m-.4 .4h0m-1.8-.2h0m-5.8 1h0m1.4 2.5h0m4.9-.6h0m.4 1.1h0m2.8 .4h0m.8-1.6h0m.3 1.2h0m.1-1.6h0m1.1-.4h0m.5 .7h0m.4-.1h0m1.6 .1h0m.4 .6h0m.7-1.5h0m.1 1.7h0m.1-1h0m.1 1.4h0m.1-1.6h0m.3 1.6h0m.1-1.8h0m.2 .6h0m.7 1.6h0m.2-1h0m.1 .1h0m.7 .1h0m.1-.6h0m.3 .4h0m.2 .1h0m.1-.6h0m0 1.5h0m.1-1.5h0m0 0h0m.1 1.6h0m.1-1h0m.3-.8h0m.3 1.1h0m.8-1.5h0m.3 1.1h0m.2-.6h0m.1-.1h0m.1 .6h0m.1-.7h0m.1 1.5h0m.3-1.9h0m0 1.3h0m.1 0h0m1.5-1.1h0m0 .1h0m.5 1.8h0m.1 .3h0m.4-1.8h0m.1 .2h0m0 1h0m.7-1h0m.6 1.2h0m.3 0h0m.2-.1h0m.3-1.9h0m0 1.9h0m1.9-2.2h0m0 1.3h0m.4-.1h0m.6 1.6h0m.3-2.3h0m.4 1.3h0m0 .7h0m1.2-.7h0m.4 .5h0m.5 0h0m.5-1.1h0m.3 1.4h0m.4-1.1h0m.1 .9h0m.4-1.4h0m.2 .3h0m.7 1.1h0m6.2-.6h0m3.1-.8h0m-3.6 2.9h0m-.3 .3h0m-2.9 .9h0m-1.2 .6h0m-3.6 0h0m-.2-1.6h0m-1.4-.5h0m-.3 2.3h0m0-1.2h0m-.3 .3h0m0-.6h0m0-1.1h0m-.6 1.1h0m0-.9h0m-.3-.5h0m-.3 .1h0m-1.3 2.2h0m-.3-2.3h0m-.9 .6h0m-1.2-.1h0m-.5 .2h0m-.5 1h0m0-.8h0m-.3-.4h0m-.2 1.7h0m-.1-1.3h0m-.1-.1h0m-.5 0h0m-.3-.2h0m-.3-.5h0m-.1 1.2h0m-.1 .3h0m-.4-.1h0m0-.9h0m-.4 1.4h0m-.1 .2h0m-.2-1.9h0m-.1 1.5h0m-.7-1.8h0m-.9 .2h0m-.3 2.5h0m-.5-.5h0m0-1.5h0m-.7 .3h0m-.1 1.7h0m-1.1-2.5h0m-.3 .9h0m0-.8h0m-.6 0h0m-.2 0h0m-.9 2.3h0m-.3-1.9h0m-.1-.5h0m-.7 1.2h0m-.4 1h0m0-1.2h0m-.1-1.2h0m-.1 2.5h0m-.4 .2h0m-.1-.7h0m-.1 .8h0m-.7-.8h0m-.5 .4h0m-.6-1.9h0m-.6 0h0m-.9 1.5h0m-3.7-.3h0m-1.6-.4h0m4.7 4.4h0m1.8-2.2h0m.3 1.2h0m.4-1.7h0m.1 1.2h0m.1-.2h0m.6-.7h0m1.1 2.1h0m.7-1.1h0m0 .4h0m.2-.3h0m.4-.4h0m.4-.6h0m1.8-.3h0m.1 .4h0m.5 .3h0m1 1.5h0m.2-1.7h0m2.9 1.2h0m.2-.1h0m.8 .6h0m.1 0h0m.3-2.3h0m.1 .9h0m.9-.5h0m.3 1.1h0m1.6 0h0m.5-.8h0m0 .7h0m0 .2h0m.6-1.1h0m.5 .5h0m.8 .6h0m1.4-1.5h0m2.7 2.7h0m7.6-2h0m-.6 3.2h0m-4.2-.3h0m-3.1-.5h0m-1.6 2.5h0m-3.6 .2h0m-.2-2.4h0m-.3 1.2h0m0-1.3h0m-2.2 .4h0m-1.2 .4h0m-1.5-.6h0m-.8 .1h0m-2.6 .1h0m-5.3-.3h0m-1.4 0h0m2 3.6h0m4.6-1.1h0m7.7 .7h0m0 .4h0m1.1 .3h0m7.5-1.4h0m-10.7 3.3h0" stroke="#e2d69a" stroke-width="0.6" stroke-linecap="round" fill="none"/><ellipse cx="82" cy="466" rx="8.5" ry="14" fill="#8898d0" filter="url(#bl4)" transform="rotate(-20 82 466)" opacity="0.6"/><path d="M72.2 434.6h0m10.3 0h0m3.7 1h0m-4.2 1.8h0m-3.5-1.6h0m-13.9 4h0m5.6 .8h0m.9-2.4h0m9.2-.2h0m3.8 .8h0m6.6 5h0m-8.5-1.8h0m-2.7 1.8h0m-.1-1.5h0m-.5 .7h0m-.3 .5h0m-.4-.4h0m-1.1-.9h0m-1.2-.2h0m-.1 .5h0m-3.8 1.4h0m-.2-.6h0m-2.1-2.1h0m-5.5 1.4h0m-.2 1.4h0m1.7 .2h0m.2 .4h0m3-.1h0m1.7 1.3h0m.2-1.3h0m.2 1.3h0m0 .6h0m.4-1h0m2.6 1.2h0m1.9-.3h0m.3 .5h0m1-.4h0m.1 .1h0m1.1-1.3h0m1.1 1.1h0m.7 .6h0m.9-.7h0m1.2 .6h0m1.6-2.8h0m.3 2.5h0m1-.1h0m.2-.3h0m1.6 .1h0m1.9 0h0m1.2 2.2h0m-2.2-.2h0m-2.7-.6h0m-.3 1.7h0m0-.5h0m-1.1-1.8h0m-.4 2.5h0m-.2-.3h0m0-1h0m-.2-.5h0m-.2-.3h0m-1.2 1.4h0m-1 .2h0m-.2 .5h0m-.2-.7h0m-.4-.5h0m-.3-.7h0m-.5 .3h0m-1.1 .4h0m-.7-.5h0m-.7 0h0m-.3 .2h0m-3.2 .2h0m-.1-1.2h0m-1.1 1.7h0m-.1-1h0m-.4 2.1h0m-2.1-.4h0m-5.9-.2h0m.5 3.4h0m.1-.4h0m1.8-.9h0m.3-1.1h0m.5 1.3h0m1.2-.1h0m1.6-.5h0m.4 1.9h0m.2-.2h0m.6-1.2h0m.9-.4h0m.7-.8h0m.3 2.1h0m1.4 .4h0m1.8-.8h0m.9 .8h0m.1-2.5h0m.1 1h0m.7 .7h0m.3-.3h0m0 1.3h0m.5-.2h0m.2 .1h0m1.3-2h0m1.2-.7h0m1.2 2.4h0m.3 .3h0m.7-.8h0m0 .4h0m.9-.3h0m.2 .5h0m.4-1.3h0m.1-1h0m.5 .6h0m.2 1.2h0m.3 0h0m.4 .3h0m.4-.6h0m1.8 .6h0m.1-1.6h0m.2-.5h0m.8 2.6h0m7.4 .7h0m-5.2 2.1h0m-.3-1.1h0m-.6-.2h0m-1.7 1.4h0m-.3-2.5h0m-1.2 1.3h0m-.7-.9h0m-.6 .7h0m-.1-1.3h0m-.2 2.3h0m-1-2.3h0m-1 .7h0m-.8 1.9h0m-.3-.7h0m-.1-.3h0m-.3 .9h0m-.3-.8h0m-.2 .1h0m-.1-.6h0m-.2 1.5h0m-.3-1.4h0m-.4 .7h0m-.1-1.6h0m-.2 2.1h0m-.1-.4h0m0-.7h0m0-1.5h0m-.3 1.8h0m-.1 .6h0m-.6 .1h0m-1-1.4h0m0-.3h0m-.2-.8h0m-.1 2.5h0m0-1.7h0m0-.1h0m-1 1.5h0m0-1.9h0m-.2 2h0m-.8 .4h0m-1.6-1.9h0m-.4-.8h0m-.2 .9h0m-.4 1.9h0m-.8-1.1h0m-.9 0h0m-.3-.5h0m-.2-.8h0m-.8 0h0m-.5 .5h0m-3.1 1.4h0m-1.6-.7h0m-3.7 2.1h0m3.2-.7h0m2.9 2.1h0m.5 .6h0m.7-.4h0m.4 .1h0m.8 .5h0m.3-.3h0m.4-2.3h0m0 .7h0m.5 .7h0m.8 .7h0m.6-.5h0m.1-.5h0m.5 .7h0m.3 .7h0m.4-.9h0m.3-1h0m.1 0h0m0 .3h0m.3 1.3h0m0 .1h0m.8-2.5h0m.3 .8h0m.2-.9h0m.2 1.1h0m0 1.2h0m.1-.7h0m.7-1.3h0m.2 .7h0m.1 0h0m0 .5h0m.2-.8h0m.1 1.9h0m.1-.4h0m.1-2h0m.2 .2h0m.4 2.5h0m0 0h0m.1-2.8h0m.2 .1h0m.4 1.1h0m.5 .4h0m.6-.7h0m0 1.1h0m.2 .7h0m.1-2.4h0m0 1.4h0m.1 1.1h0m.1-.9h0m.2-.3h0m.1 1h0m.1-2.7h0m.2 1h0m0 1h0m.5-1.7h0m.1 1.3h0m0 .8h0m.1-.2h0m.1-1.7h0m.1 1.5h0m.2-1.5h0m.2-.5h0m0 .7h0m0 1.2h0m0 .1h0m.1-1.2h0m.3 1.1h0m0 .5h0m.3-.4h0m.1 .7h0m.3-2.2h0m0 1.3h0m.3 .7h0m.1-.8h0m0 .6h0m0 .4h0m.1-1.2h0m.2 1.3h0m.1-.3h0m.4-2.5h0m.1 1.6h0m1.5-1.5h0m.2 1.8h0m.2-.7h0m.7-.8h0m.3-.2h0m.2 2.2h0m.8-1.6h0m.5 1.2h0m.7-.7h0m1 1.1h0m.5-1.1h0m.2-1.2h0m6.8 .6h0m-4 4.5h0m-1 .5h0m-.2 0h0m-.2-1.1h0m-1.1 1.1h0m-.8-.6h0m-1.4 .6h0m0-1.4h0m-.2 1.4h0m0-.7h0m0-.1h0m-1.3-1.4h0m-1.1 2.1h0m-2.5-1.6h0m-.1 .4h0m-.1 .5h0m0-.4h0m-.3-.4h0m0-.9h0m-.3 .6h0m-.2 1.7h0m-.1-2h0m-.1-.2h0m-.4 .1h0m-.2 2h0m-.5-.9h0m0-1.4h0m-.2 .4h0m-.3 1.9h0m-.3 0h0m0-.9h0m-.1 1.2h0m0-1.1h0m-.2-1.5h0m-.1 1.5h0m-.2 .4h0m0-.1h0m0-1h0m-.2 .6h0m-.2 .6h0m-.3-.6h0m-.1 .9h0m-.4-.8h0m0-1.5h0m-.1 2.5h0m0-2.2h0m-.1 2h0m-.1-1h0m-.2-.5h0m-.1 1.2h0m-.1-2.1h0m-.5 2.5h0m-.2-2.3h0m-.1 .1h0m-.4 1.1h0m0-.2h0m-.1-.7h0m0-.5h0m-.2 .6h0m-.5 .7h0m-.1 .5h0m-.2-.2h0m-.3-.5h0m-.2 1.2h0m0-1.6h0m-.1 2h0m-.1-.2h0m0-1.6h0m-.1 .3h0m0 0h0m-.1 1.4h0m-.5-1h0m-.5 .4h0m-.3-.4h0m0-1.4h0m0-.2h0m-.7 2.7h0m-.8-1.3h0m-1.2-1.4h0m-2 2.5h0m-1.3-1.3h0m-3-.2h0m-.1-.4h0m-1.3-.3h0m-4.9 3.3h0m4.1 .5h0m1 1.1h0m.1-1.1h0m2.7 1.2h0m1.8-1.3h0m.2 1.2h0m.3-1.7h0m.9 1.8h0m.3-2.3h0m.5 1.7h0m.2-1h0m.1 1.3h0m.4-1.1h0m.2-.2h0m.1 0h0m.5 1.6h0m.2 .5h0m.1-1.4h0m.9 .1h0m.6-1.4h0m0 .2h0m.1 .3h0m.3 .7h0m.1 1.5h0m.7-2.7h0m.2 .1h0m.6 .5h0m.2 .1h0m.2 1h0m.1 0h0m0 .6h0m.2-.3h0m0 .4h0m.1-2.2h0m0 .8h0m.2 1.2h0m.1-2.2h0m0 1.6h0m.5 .9h0m.8-.9h0m0 1h0m.1-.6h0m.1-.8h0m.2-1h0m0 2h0m.7 .5h0m.1-2.4h0m0 .4h0m.2 1.4h0m.1-1.2h0m.3 1.2h0m0 .3h0m.1-1.4h0m.1-1h0m1.1 1.9h0m.2-.2h0m.1-.6h0m0 1.7h0m.6-.5h0m.2-.8h0m.2-.9h0m0 1h0m.3 .5h0m.1-.8h0m.1 .5h0m.2-1h0m.4 1.5h0m.2-1.3h0m.2-.5h0m0 1.6h0m.3 .4h0m.2 0h0m.3-1.1h0m.3-1.4h0m.1 .2h0m.1-.1h0m.1 .9h0m.1-.1h0m1.2 .3h0m.1 .8h0m.2 .5h0m.3-1.6h0m1 .3h0m.2 .2h0m.5 .5h0m.4 0h0m.2-.3h0m.9-.6h0m.1-.1h0m0 .9h0m2.6 .6h0m1.4 .2h0m2.1-1.9h0m.8-.3h0m2.9 .4h0m-3.7 4.6h0m-4-.4h0m-.1 .3h0m-.1 .1h0m-.1-.9h0m-.9 1.2h0m-.2-1.5h0m-.2 .4h0m-.1 1h0m-1.6-1.5h0m0-1h0m-.4 1.3h0m-.3-1.3h0m-.2 2.2h0m-.7-1h0m-.2 .5h0m-.1-.5h0m-.1 .2h0m-.1 .1h0m-.1 1.2h0m-.1-2.8h0m-.2 2.3h0m-.1 .4h0m-.1-2.3h0m-.1 .6h0m-.1 .4h0m-.1 .5h0m-.6 .3h0m0-.9h0m0-.7h0m-.4 1h0m0-.7h0m-.1 1.5h0m0-.1h0m0-1h0m0-1.1h0m-.3 .6h0m-.3 1.9h0m-.1-2h0m-.1-.3h0m-.3 .1h0m-.2 .1h0m-.1 1.1h0m-.3-1.6h0m-.2 2.1h0m-.1-1.3h0m-.1 1.8h0m-.3-.4h0m0 0h0m-.2-.4h0m0-.2h0m-.1 .5h0m0-2.3h0m-.1 1.7h0m0-.8h0m-.3 .2h0m-.5-.4h0m0-.6h0m-.2 1.9h0m0-.5h0m0-.5h0m-.1-.6h0m-.3 2.5h0m-.1-2.9h0m-.1 2.5h0m-.4-1.2h0m-.2 .7h0m-.3-1.7h0m-.1-.2h0m-.1 2h0m-.1-.2h0m-.2-.1h0m-.3-.7h0m-.1 .2h0m0-.5h0m-.1 .2h0m-.2 .9h0m-.1-1.7h0m-.2 2.6h0m0-1.6h0m-.2 1.3h0m-.2-2.4h0m-.2 1.8h0m-.4 .1h0m-.3-.6h0m-.2-.6h0m-.3 .4h0m-.3 1.1h0m0-.4h0m-.1 .4h0m-.1-.7h0m-.1 .9h0m0-1.8h0m-.1 .8h0m-.2-.8h0m0-.6h0m-.2 1.5h0m0-1.3h0m-.1 2h0m-.1 .3h0m-.5-1.8h0m-.2-.2h0m-.2 1.9h0m-.1-1.6h0m-.1 1.1h0m0-.8h0m-.1 .1h0m0-.7h0m-.2-.4h0m-1-.1h0m-.5 2.5h0m0-2.1h0m-.2 .7h0m-.1 .8h0m-.2-.7h0m-.2 1.3h0m-.3-2.5h0m-.6 .6h0m-.1 1.5h0m-.3-.3h0m-1.1 .9h0m-.4-.9h0m-3.9 .7h0m-2.9-.9h0m3 1.6h0m5.8 2.1h0m.8-.9h0m.2 .1h0m.3-1.3h0m1 .6h0m0 .3h0m.4 1.3h0m.6-2.2h0m.1 .1h0m.4 0h0m.3-.3h0m0 .8h0m.1 1.8h0m.2-1.3h0m.1-.7h0m.3 .1h0m.3 .2h0m.2 .7h0m.6 .3h0m.2-.4h0m0 .4h0m0 .9h0m.1-2.1h0m.5 .8h0m.1-.4h0m.8-.9h0m.5 1.4h0m.3-.7h0m0 1.8h0m.7-.7h0m.6-2h0m.3 1.2h0m.4-1.3h0m.3 1.8h0m.1-.8h0m.1-.9h0m.1 1h0m.3 .4h0m.1 .7h0m.2 .6h0m.1-2.3h0m.1 1.9h0m.1-.8h0m.2-1.2h0m0 1.7h0m.2-.6h0m.2-1h0m.2 2.2h0m.1-2.4h0m1 1.1h0m.2-.5h0m.1-.4h0m.1 1.1h0m.1-1h0m.3-.4h0m.5 0h0m0 1.2h0m.5 0h0m0 .6h0m.4-1.6h0m.7 1.5h0m.2-1.2h0m0 2.2h0m.2-1.3h0m.3 .8h0m.1 .2h0m.4-2.1h0m.1 1h0m.1-1.2h0m.2 2.3h0m.3 .1h0m0 .1h0m.2-2.3h0m.1 .4h0m.9 .8h0m.4-.6h0m.2 .8h0m.3 0h0m.1-1.3h0m.4-.4h0m.9 1.7h0m1.3 .1h0m1.5 .7h0m.7-1.6h0m0 .1h0m.4-.9h0m1.5 .4h0m1 1.9h0m-1.5 1.7h0m-.7 1.6h0m-.5-2.9h0m-.2 2.6h0m-1-1.4h0m-.8 1.6h0m-.3-1.2h0m-.2-1.3h0m-.1 .8h0m-.2 1.4h0m-.5-2.4h0m-.5 .9h0m-.9 .6h0m-.4-.2h0m-.6 .5h0m-.2-.3h0m-.6 .6h0m-.2 .2h0m0-.3h0m-.1 .1h0m-.4-.9h0m0-.9h0m-.1 .8h0m-.1 .6h0m-.3 .7h0m-.4-1.7h0m-.3 2h0m0-2.3h0m-.1 .3h0m-.3-.5h0m-.3 2.4h0m-.1 0h0m-.3-1.7h0m-.1 .5h0m-.5-.2h0m0-.7h0m-.2 .3h0m-.2 .8h0m-.3 1h0m-.7-2.5h0m-.2 2.6h0m-.4-2h0m-.3 1.2h0m0-1.6h0m-.2 .6h0m-.1 .9h0m-.1-1.7h0m-.1 1.1h0m-.3 .7h0m0-1.3h0m-.1 .9h0m-.3 0h0m-.1 .6h0m0-1.4h0m-.2 1.9h0m-.2-.2h0m0-1.7h0m-.1-.4h0m-.2 1.9h0m0-.3h0m0-1.7h0m-.1 1.3h0m-.2 1h0m-.4-2.1h0m-.1 .1h0m0-.3h0m-.2 1.3h0m-.3-1.3h0m-.1 .3h0m-.3-.2h0m-.3 0h0m-.1 1.1h0m-.1 .4h0m0-.2h0m-.1 1h0m-.1-2.7h0m-.1 2.5h0m0-.4h0m0-.6h0m-.4 .9h0m-.3-2.3h0m-.2 .3h0m-.2-.1h0m-.5 2.6h0m-.5-2.8h0m-.6 1.6h0m-.2 .7h0m-1.3-1.7h0m-.4 1.3h0m-.1-.3h0m-.2-.2h0m-.5 .5h0m-.7-.7h0m-.2 1h0m0-1.9h0m-.1 2.3h0m-.2 .2h0m-.1-1.5h0m-.2-1.2h0m-.5 2h0m0-1.6h0m-.4-.4h0m-1.5 .8h0m-.1-.4h0m-4.3 .2h0m3.6 3.4h0m1.5-.2h0m1-.4h0m.1 .9h0m1-.5h0m.5-.5h0m.1 .4h0m.2 .1h0m.4 1.1h0m.3-1.4h0m.3 .6h0m.1-.7h0m.3 .6h0m.8 .5h0m.2-.5h0m.1-.5h0m.4-.1h0m.1-.1h0m.1 2.2h0m.2-2.7h0m.2 .5h0m.2 1.4h0m.2-1.9h0m.2 2.7h0m0 .1h0m.8-.1h0m.4-.6h0m.1-1.3h0m1.4 .4h0m.1-1.1h0m0 .7h0m0 .2h0m.4 1.8h0m.5-2.4h0m.2 1.4h0m0 0h0m.1-1.1h0m.2 1.8h0m.6-.5h0m.1-1.7h0m.2 2.1h0m.1-.5h0m.1 .8h0m.3-1.4h0m.1 .7h0m.2-.4h0m.5 .9h0m.1-.1h0m.4 .5h0m.3-1.4h0m.1 1.4h0m.1-.2h0m.3-2.4h0m0 0h0m.1 .5h0m.5 .6h0m.6 1.4h0m.4-.4h0m.2 .4h0m.3-1.5h0m.2 .5h0m.2 0h0m.1 .3h0m1.2 .5h0m.5-2.6h0m.4 2.9h0m1-1.4h0m.3-1h0m.1 .1h0m2.5 1.1h0m.4 .6h0m.4-1.3h0m.1 1.2h0m1 .3h0m1.5-1.6h0m-3.8 2.6h0m-1.7-.2h0m-.4 2.5h0m-1.7-1.8h0m0-.4h0m-.9 .3h0m-.1 .7h0m0 0h0m-.3 .5h0m-.4-1h0m-.5 1.5h0m0-.2h0m-.7-1.7h0m-.6 .1h0m-.4-.7h0m-.2 .6h0m-.6 .2h0m-.1 .7h0m-.4 1.1h0m-.2-1.5h0m-.1-.6h0m-.2 1.4h0m-.4-.4h0m-.3 .6h0m0-.3h0m-.1-.5h0m0-.1h0m-.1 1.2h0m-.1-.3h0m-.7-1.9h0m-.2-.1h0m-.3 1.5h0m-.6 .8h0m0 0h0m-.7-.4h0m-1-1.8h0m-.2-.1h0m-.2 1.7h0m-.6 .1h0m-1-.9h0m-.2-1h0m-1 2.7h0m-1.2-.7h0m-.1-2.1h0m-2.4 .5h0m-2.1 1.3h0m-.3 1.1h0m-3.5 2.9h0m.8-.1h0m2 0h0m.5 .1h0m4.4-.1h0m.8-2.5h0m1.1 .8h0m.6-1h0m3 2.2h0m.5 .4h0m.1-1.4h0m2.2-.3h0m.2 .2h0m.3 1.3h0m.4-.7h0m.1-1.3h0m.2 1.1h0m.2-.4h0m.8 .9h0m.2-.8h0m0 1.7h0m.5-2.7h0m.8 .8h0m0 1.4h0m.1-.6h0m.6-1h0m0 .5h0m.8 .4h0m.3-1.1h0m1 1.6h0m.9-1.3h0m.5 .1h0m.3 1.1h0m.6-1.7h0m.7 1.4h0m.8-1.6h0m.2 2.2h0m1.1-1.1h0m1.7-1.1h0m.5 1h0m.3 .5h0m4.4 2.8h0m-4.5 .6h0m-1.3-.8h0m-1.1 1.2h0m-2.2-2.2h0m-.1 .3h0m-.2-.3h0m-1 .1h0m-1.3 2.3h0m-1-.9h0m-1 .7h0m-1.2-1.7h0m-.1 .9h0m-.5 1h0m-.2-2.1h0m-.8 1.9h0m-.3 .1h0m-.1-.6h0m-.4-.2h0m-.1-1.4h0m-1.6 1.3h0m-.3 0h0m-.2 .6h0m-.3-.6h0m-.1-1.7h0m-.3 1.3h0m-.4 1.1h0m-.5-2h0m-.5 .1h0m-1.3 .8h0m-8 0h0m-1.5 .4h0m7.3 1.4h0m1.1 1h0m.4 .4h0m1-1.2h0m.7 .1h0m1.5 .1h0m.1 1.2h0m.8 .8h0m1.8-.3h0m1.3-1.3h0m1.2 0h0m1.1-.9h0m.3 1.5h0m.2-.2h0m2.8-.7h0m1.5-.6h0m.1 2.2h0m1.3-.5h0m.9-1.5h0m0 .4h0m.8 1.1h0m1.1 .7h0m7.7 1.4h0m-10.2 .8h0m-2.3-.5h0m-1 0h0m-3.9 .1h0m-1.2-1h0m-.4-.2h0m-1 2.8h0m-4.6-1h0m-.4 .2h0m-4.5-.7h0m4.4 2.3h0m1.4 .9h0m1.4-1.1h0m5.3 2.9h0m-2.8 4.5h0m3.1 3h0" stroke="#5a72c2" stroke-width="0.55" stroke-linecap="round" fill="none"/><path d="M67.6 421.9h0m-13.5 3.1h0m17.8 6.5h0m10.6 5.9h0m-2.8 .5h0m2.7 2.4h0m-12.5 3.3h0m-6.6-.2h0m-4.2 .2h0m-5.1 2.7h0m4.5-2.2h0m2.4 2.8h0m1.2-1.3h0m.3 .6h0m17.8-2h0m1.5 1.3h0m10.9 .1h0m12.8 .9h0m-5.4 3.2h0m-13.9-1.4h0m-1.1 1.5h0m-.4-2.7h0m-6.3-.1h0m-.9 1h0m-11.1 1.6h0m-.8-1.3h0m-10.1 1.4h0m2.4 1.8h0m2.5 .9h0m11.1-.5h0m.1 1h0m2.4-2.6h0m4.9 2.3h0m.6-.9h0m1.8 .8h0m8.7-.6h0m19.6-.2h0m-10.2 2.7h0m-8.1-1.3h0m-2.1 2h0m-2.3 .3h0m-1.2 .5h0m-.3 0h0m-7.4-2.8h0m-1.3 .3h0m-.8 1.1h0m-.1-.5h0m-8.9 0h0m-.6 1h0m-1.8 .8h0m-1.4-.4h0m-1-.1h0m-3.9-1.3h0m-1.3 .5h0m-.2 1h0m-6.7 0h0m2.8 1.9h0m2.3 .5h0m.3-.6h0m1.4 .1h0m.9-1.2h0m.4 2h0m.5-2.1h0m2.5 2.3h0m2-2.3h0m5.2 .9h0m.7-.7h0m.1 1.1h0m.6-1.1h0m.8 2.3h0m3 .3h0m.5-.4h0m.6 .4h0m2.7-.9h0m.4-1.2h0m.5 1.6h0m1.3-.8h0m.3-.5h0m.8-.8h0m.5 2.6h0m.8-.9h0m1.7-.4h0m1.7-1.4h0m.3 2.4h0m.2-1.8h0m0 .2h0m1.4 4.6h0m-.1-.8h0m-3.9 1h0m-.4-2.1h0m-1 .9h0m-2.6-.3h0m0-1h0m-1.1 .7h0m-.4 .4h0m-.4 .5h0m-.9-1.2h0m-1.1 1.4h0m0-.7h0m-.5 1.5h0m-.3-.2h0m-2-.3h0m-.3-1.8h0m-2.2 1.7h0m-1 .6h0m-.2-2.4h0m-.3 1.4h0m-1 .1h0m-.3-.8h0m-1.9-.8h0m-.2-.3h0m-2 1.7h0m-1-.2h0m-.3-.1h0m0-.8h0m-.2 1.7h0m-.9-1.1h0m-1.4-.9h0m-.3 1.6h0m-.1-.2h0m-.1-1.3h0m-.6 1.6h0m-.1 .5h0m-.4-2.3h0m-5.5 .9h0m-1-.9h0m-6.7 3.3h0m2.1-.1h0m3.1 .4h0m.8 1h0m.1 .7h0m.4-1.3h0m2.6 1h0m1.9 .6h0m.2-2.9h0m1 .3h0m2.1 1.3h0m1.1-1.5h0m.2 1.6h0m2.9-.9h0m2 1.8h0m1-2h0m.1-.2h0m.4 2.1h0m.5-1.2h0m2.6-1h0m1.4 1.4h0m1.1 1.1h0m.4-.6h0m.2-2h0m.1 1.2h0m.4-.8h0m1.7 .3h0m0 .3h0m.7-1.1h0m2.1 .5h0m0 1.4h0m1.2-.9h0m.9 .1h0m0 1.1h0m.2 .3h0m2.1-.5h0m.6-.4h0m.7-.1h0m.4-1.4h0m.8 2.3h0m2.3-.2h0m.4-2.2h0m.4 1.3h0m.6 .7h0m2.5 .5h0m5.3-2h0m.4 .8h0m3.4 1.5h0m-3.7 .8h0m-.5 2h0m-.1-.3h0m-5.9-1.8h0m-1.4 .5h0m-.6 .5h0m-1.2-1h0m-2.9 .8h0m-.1-.9h0m-2.4 .5h0m-.6 .2h0m-.4 1.6h0m-2-.3h0m-.4-1.3h0m-.9 .6h0m-.4-1.4h0m-.1 .1h0m-.1 .6h0m-.6-.9h0m-.2 .8h0m-.1-.9h0m-.1 2.4h0m-2.5-.1h0m-.1 .1h0m-.7-.8h0m0 0h0m-.2 .5h0m-.3 .1h0m-.4-1.7h0m-.1 .1h0m-.4 1h0m-.1-.6h0m-1.9 1.2h0m0-1.4h0m-.3 1.1h0m-1.2 .8h0m-3.9-.2h0m0-1.7h0m-5.4 .3h0m-1.4 1.1h0m-1.1 .6h0m-.4-.5h0m-4.7-.7h0m-12.4 2.3h0m11.5 .4h0m.8-1.2h0m3 1.4h0m1.4-.6h0m2.2-.2h0m1.2 1.2h0m.3-.3h0m3.6 .9h0m.8-2.5h0m.1 2.7h0m1.5-1.8h0m.6 .3h0m1.2 .5h0m.5-.1h0m1.2 .9h0m.3-1.1h0m.3 .9h0m.2-2.3h0m.6 .1h0m0 .1h0m1 2.3h0m.6-2.2h0m.3 1.9h0m.2-2h0m.3 1.2h0m1.8-1.3h0m.4 2.5h0m.2 .1h0m.6-1.2h0m.9-1.5h0m.8 2.3h0m2.2-1.5h0m.2-.9h0m.7 .2h0m.4 2.6h0m.1 0h0m.1-1h0m2.7-1.2h0m.6 1.4h0m.4-.4h0m2.1-1h0m.9-.4h0m1.3 .8h0m2.2 1.2h0m3.5-2h0m3.8 .9h0m-5 3.7h0m-1.4-.5h0m-2.7-.5h0m-1.2 1.3h0m-.3-.7h0m-1.9-1.3h0m-.2 .3h0m-1.2 .5h0m-1.3 1.9h0m-.4-1.1h0m-1.2-.2h0m-.6 .9h0m-.4-.8h0m-.6-1.2h0m-.4 0h0m-.8 1.8h0m-.4 .3h0m-.9-1.4h0m-.5-.2h0m0-.6h0m-.9 1h0m-.5-.6h0m0-.1h0m-1.2 .2h0m0-.1h0m0-.5h0m-.1 2.5h0m-3.3-1.5h0m-.3-1.2h0m0 0h0m-.8 2.7h0m-2-1.1h0m-.6 .1h0m-.4-.5h0m-.9-.3h0m-3.2 1.8h0m-.4-1.2h0m-1.3 .2h0m-.3-1.2h0m-3.3-.1h0m-.2 0h0m-2 0h0m-.9 1.7h0m-1.5-1.2h0m-2.7 1.2h0m-1.5 1.5h0m1.7 .6h0m1.7 1.5h0m.4-.5h0m2.1 .2h0m.3-2h0m0 .5h0m1-.2h0m.3 1.5h0m7.8 0h0m0 .7h0m.5-1.7h0m1.8 .4h0m.5 1.3h0m1.2-2.3h0m.3 .2h0m.6 0h0m3.4-.3h0m.2 2.4h0m.2-.4h0m.6-.9h0m2.4-1.1h0m1 .3h0m.4 2.1h0m1.2-1.2h0m.9-.2h0m1.7 .9h0m1.5-2h0m.1 2.4h0m2.5-.2h0m1.2-2.3h0m.9 1.8h0m1-2.1h0m2.6 .1h0m1.4 .3h0m0 1.2h0m2.2-.8h0m10.1-.1h0m-6.4 2.9h0m-3.8 .4h0m-1.6-.5h0m-.2 2.2h0m-4.8 .2h0m-1.4-1h0m-.1-1.7h0m-.3 1.5h0m-1.4-1.6h0m-.5 2h0m-.8-1.2h0m-.3 .5h0m-.6 .2h0m-1.3 .8h0m-.1-1.6h0m-.2-.7h0m0-.1h0m-.5 2.9h0m0-1.1h0m-.2 .7h0m-.5-.4h0m-3-1.5h0m-.5 1.3h0m-.6-1.2h0m-.2 1.7h0m-.1 .3h0m-.1-2h0m-1.4 1.2h0m-1.4-1.1h0m-.1-.1h0m-.5-.6h0m-1.7 2.2h0m-.5-.4h0m-1.9-1h0m-.5 .6h0m-1-1h0m-.8 .3h0m-.6-.5h0m-3 0h0m-.5-.1h0m-1.4 .5h0m-.4 1.5h0m-5.3-1.2h0m-.6 1.7h0m-2.6-.4h0m-1.9 1.2h0m3.6 1.3h0m4.7-1.7h0m.9 .2h0m.4 1h0m4-.2h0m3.5-.7h0m.3 2.3h0m4.1-1.2h0m.4 .9h0m.6 .4h0m1-.1h0m1.3-2.5h0m.9 2.5h0m.6-2.5h0m.2 2.6h0m1.4-2.8h0m1.1 2.1h0m.3-1.4h0m.3-.7h0m.5 .4h0m.1 2.5h0m.3-2.1h0m1.6 1.4h0m.2-2h0m1.5 .4h0m1.7 .8h0m.2 1.5h0m.5-1.8h0m.8 0h0m.2-.7h0m2.6 .4h0m2 .5h0m.5-.5h0m7.9 1.9h0m-4.7 1.3h0m-1.9 1.6h0m-4.5-.6h0m-1.9-1.5h0m-.4 .7h0m-2.6 1.3h0m-.6-2.1h0m-.1 2.2h0m-.7-2.4h0m-.8 .2h0m-2.4-.1h0m-.9 1.6h0m-1.9-.6h0m-.9 1.4h0m-.1-2.4h0m-.5 2.1h0m0-2.3h0m-.8 2.1h0m-1.3-.7h0m-1 0h0m-1.7 1.2h0m-2-2.4h0m-.5 .1h0m-1.4-.3h0m-2 1.9h0m-.3 .7h0m-.7-2.3h0m-4.1 1.6h0m-3.3-.6h0m3.6 4h0m.3 .5h0m6.2-1.9h0m.1-.9h0m.1 1.4h0m.5 .9h0m2.6-1.4h0m1.2 .1h0m.1 1.3h0m3.7-.8h0m2-1.5h0m1 1.7h0m.9-1.6h0m.5 .7h0m4.9 .3h0m3.5 1.1h0m21.8-2.3h0m-19.4 4.3h0m-2.4 1.3h0m-3.9-.1h0m-5.3-1.3h0m-2.5-.4h0m-1.1-.7h0m-5.2 1.4h0m-.7-1.5h0m-2.6 .2h0m-.7 .5h0m-.2 1.2h0m-1.9-1.7h0m-4.3 .6h0m-9.6 4.1h0m13-.6h0m21.5-1.2h0m6.1 2.3h0m.8 .9h0m-12.7 .7h0m-.4 1.3h0m-.6 .4h0m-7.4-2.7h0m-4.6 .4h0m-9.4 2.3h0m23.9 .7h0m1.8 2.2h0m-8.2 4.6h0" stroke="#9aa2cc" stroke-width="0.55" stroke-linecap="round" fill="none"/><path d="M82 442 Q98 428 122 418 L130 426 Q124 444 112 462 Q104 466 98 458 Q90 450 82 446Z" fill="#eda17e" filter="url(#bl4)" opacity="0.9"/><path d="M132.2 404h0m1.1-.1h0m16.3 3.1h0m-.3-1.7h0m-18.6 1.1h0m-11.1 4.4h0m2.2-1.9h0m7.8 2h0m.5-2.1h0m5.3 1.8h0m.3-1h0m5.7-1.3h0m-3.6 3.6h0m-3.6 .3h0m-.3 .9h0m-1.3-1.9h0m-2.9 1.1h0m-6.2 1.2h0m-.4-.6h0m-5.8-.1h0m-19.2 4h0m17-2.7h0m.5 2.8h0m3.3-.6h0m1.1-.6h0m1.8-1.1h0m1 1h0m.8-.1h0m5.6 1.3h0m4.6-2.8h0m6.6 1.5h0m11.5 1.4h0m-7.7 2.4h0m-9.8-1.4h0m-3 1.6h0m-1.2-.7h0m-.1-.4h0m-.5 .8h0m-.5-1.1h0m-4.3 1.6h0m0-.1h0m-.3-1.4h0m-.2 1.1h0m-.5 0h0m-.5 0h0m-.9-.6h0m-.2 1.2h0m-.1-2h0m-.8 1.1h0m-.7-1h0m-.3 1.5h0m-.1-1.7h0m-.3 1.2h0m-1.4 .9h0m-.4-1.4h0m-.7-.3h0m-.6 1.1h0m-1.4-1.5h0m-.5 .6h0m-1.6 .5h0m-1.8-1h0m-1.5-.2h0m-.8-.6h0m-5.7 1.4h0m-1.5-.1h0m-5.6-.9h0m-3.6 2h0m-1.8-.7h0m11.8 2.3h0m2.5 1.6h0m8.5-1.9h0m1.4 1.4h0m.5 .5h0m.2-.5h0m1-1.5h0m0 1.2h0m.7-.4h0m.1 .6h0m0 .4h0m.6 .4h0m.5-1.2h0m.4 1.1h0m.1-1.4h0m.2-.9h0m.2 1.6h0m1.3-.7h0m.1 1h0m1-.6h0m2.2 .5h0m.2 .1h0m.6-.2h0m1.2 .1h0m.3 .4h0m.1-1.4h0m.3 0h0m.2-.3h0m.8 1.4h0m.5-1.3h0m1.2 .6h0m.2 1.2h0m.2-2.1h0m.9 .5h0m1.4-.8h0m.2 1.2h0m.4-.6h0m3.1-.3h0m3 1.8h0m2-1.8h0m.9 .9h0m6.1-.3h0m-8.7 2.6h0m-2-.7h0m-1 1.2h0m-1.4-1.3h0m-2.7 0h0m-.3 2.1h0m-.7-1.8h0m-1 1.9h0m-1.5-1h0m-1.1-.2h0m-.5 1h0m-1.6-.1h0m-.3 .7h0m-.2-.3h0m-.1-2.4h0m-.4 2.2h0m0-.8h0m-.2 .2h0m-.4-1.6h0m-.5 .7h0m-1.2 1.5h0m-.7-2h0m-.1 2.6h0m-.7-2.2h0m-.4 .9h0m-.5 1.3h0m0-.2h0m0-.2h0m-.4-.8h0m-.2-.6h0m-.1 1h0m-.1 .1h0m-.5-2.2h0m-.8 2.9h0m-.2-.9h0m-.2-.3h0m-.3 0h0m-.2 .3h0m-.1-1h0m-.2 1.1h0m-.2 .3h0m-.2-1.7h0m-.7 1.9h0m-.4-.6h0m-.3-.9h0m-.3 1.7h0m-.2-.7h0m-.2-1h0m0-.9h0m-.2 2h0m-.3-2.2h0m-.5 1.1h0m-.6 1.7h0m0-.6h0m-.4 .4h0m-.2-2.2h0m-.6 .8h0m-.1 .8h0m-.2-1h0m0-.8h0m-.5 .6h0m-1.1 1.1h0m-.1 .6h0m-.3-1.9h0m-.2 .5h0m-.2-.6h0m-.7-.1h0m-.2 .7h0m-.9 1.6h0m-1.2-1.5h0m-.1-1h0m-.9 .1h0m-.1 2.2h0m-.3-1.5h0m-.4 1.5h0m-.6-.5h0m-.1 .5h0m-.2-1.4h0m-.1 1.8h0m-.8-2.2h0m-1.8 .3h0m-2.7-.1h0m-1 1.8h0m-.7-.9h0m-9.2-1.1h0m-11.3 1.2h0m12.7 3.2h0m.3 0h0m3.1 .7h0m1.4-1.9h0m.3 1.6h0m.2 .4h0m.4-1.5h0m2.5 .5h0m.6-1.6h0m.6 2.3h0m1.6-2h0m.6 1.6h0m1.1-1.9h0m.2 .4h0m.4-.4h0m.1 1.5h0m.1-.7h0m.1 1.7h0m.3-.4h0m.5 .3h0m.1-1.4h0m.4-.3h0m.1 .8h0m.2-.3h0m.5 .1h0m.1-1.4h0m.3 1.9h0m.3-2.1h0m.3 .7h0m.3-.1h0m0 .8h0m0 1h0m.4-1.7h0m.6 1h0m.7-.2h0m0 .2h0m0 .4h0m.1 .3h0m.1-.6h0m.2-1.1h0m.2 2.1h0m.2-.7h0m.1-.7h0m.1 .2h0m.1-1h0m.1 .7h0m0 1.4h0m.1-1.7h0m.2 1.7h0m.5-2.3h0m.4-.2h0m0 1.8h0m.1-1.8h0m.1 .4h0m1.3 1h0m.1-1.3h0m.2 .8h0m.3 .8h0m.2-.9h0m.2 1.8h0m.3-.6h0m.2 .1h0m.5-.1h0m.3-1.4h0m0 1.6h0m.4 .1h0m.2-2h0m0 2.2h0m.4-.2h0m.4 .3h0m.1-2.5h0m.1 .7h0m.9 .8h0m.2-.3h0m.3-1.4h0m0 2h0m.3-1.4h0m.2 1.3h0m.8-1.5h0m0 .1h0m.4 2.3h0m.1-1.4h0m.2-.2h0m.2-.3h0m0 1.7h0m.1-2.2h0m.2 .7h0m0 .5h0m.7-1.5h0m.1 1.3h0m.1 .2h0m.1-.6h0m0 .8h0m.2 0h0m.3 .6h0m.1-2.2h0m.1 2h0m.4-1.9h0m.2 1.7h0m.1-2h0m0 2.1h0m.1-1.8h0m0 1.3h0m.8-1.3h0m.7-.2h0m.2 1.8h0m.1-.1h0m.7-1.3h0m.1 1.4h0m.7-2h0m0 2.4h0m.1-1.4h0m0 .9h0m.1-.7h0m.3 .3h0m.5-.8h0m.1 1.9h0m.2 .3h0m.3-2.8h0m.3 2.2h0m0 .4h0m1.1-2.3h0m.2 .5h0m.6-.3h0m.1 .6h0m.3 1.2h0m.4-2h0m1.8-.2h0m.2 1.2h0m1.1 1.5h0m.1-.6h0m1.1-2.1h0m0 1.2h0m.8-.1h0m1.4 .7h0m1.2-1.8h0m1.3 2.7h0m1.2-2.9h0m7 2.2h0m-5.4 3.3h0m0-.8h0m-3.4-.6h0m-1.8-.6h0m-1.3 1.5h0m-.2-1h0m-.2 .4h0m-.6 1.5h0m0-2.4h0m-.6 1.2h0m-.1-1.2h0m-3.2 2.2h0m-.2-.8h0m-.4-.8h0m-.5-.1h0m-.3 .3h0m-.1 0h0m-1.3-.8h0m-.4 .3h0m-.1 .1h0m-.2 .7h0m-.1-.7h0m-.4 .6h0m-.1-.9h0m-.7 .8h0m0-.6h0m-1.2 1.4h0m-.4-.1h0m0-.1h0m-.4 .2h0m-.1-.1h0m-.4-.3h0m-.2 .3h0m-.3-1.1h0m-.4 .5h0m0-1.3h0m-.3 1.1h0m-.6-.1h0m-.8 .9h0m-.2 .4h0m-.1-1.1h0m-.2 .2h0m-.4 .6h0m0-1.1h0m0-1h0m-.8 2.1h0m-.1-.6h0m0-.6h0m-.5-1h0m-.3 2.2h0m-.4-.8h0m-.1-1.4h0m-.3 .8h0m0-.7h0m-.1 1.7h0m-.7-1.5h0m-.1 1.7h0m-.2-1.7h0m-.1 .4h0m-.1 .7h0m-.4-.3h0m-.1 1.3h0m-.1 .4h0m-.3-2.6h0m-.2 .5h0m-.8-.4h0m-.1 2.1h0m0-.6h0m0-.8h0m-.3 1.9h0m-.1-.3h0m-.1-.1h0m-.1-.9h0m-.3-.9h0m-.1 .9h0m0-.9h0m-.2 1h0m-.1-1.2h0m-.2 1.5h0m0-.2h0m-.1 .6h0m-.1 .3h0m-.1-1.8h0m-.1-.8h0m-.2 1.7h0m-.3-1.1h0m-.1 1.4h0m0-.7h0m-.1 .5h0m-.1 .4h0m0-.5h0m-.2-.2h0m-.1 .1h0m0-1.5h0m-.4 2h0m-.2 .5h0m-.1-.9h0m-.1 .7h0m-.1 .2h0m0-1.9h0m-.3 .7h0m-.2-1.4h0m-.3-.1h0m-.1 2.3h0m-.2-1.5h0m-.1-.6h0m-.1 2.7h0m-.4-2.9h0m-.1 2.1h0m-.2-.7h0m-.3 1.1h0m-.7-.8h0m-.1-.5h0m-.1-.2h0m-.3 1.9h0m0-2h0m-.2-.1h0m-.8 1.4h0m-.4-.1h0m-.3-.2h0m-.1-1.3h0m-.2 1.9h0m0-1.6h0m-.2 .7h0m0-.7h0m-.4 1.7h0m-.2-2.1h0m-.7-.5h0m-.1 1.5h0m-.1 .7h0m0-1.2h0m-.6 1.7h0m-.9-2.6h0m-.8 .7h0m-.1 2.1h0m-.4-.2h0m-.5-.1h0m-.2-.8h0m-.5-1.2h0m-.7-.3h0m-1.3 .8h0m-1.5 1.3h0m-.9-.7h0m-1.8-1.5h0m-1.8 .7h0m-2.5 2h0m-.2-1.7h0m-10.7-1h0m9.1 5.3h0m1.5 .3h0m1.5-1.6h0m1 1.5h0m.7-1.2h0m2.2-.8h0m.5 .3h0m.2 1.7h0m.3-.9h0m.3 .5h0m.2-2.1h0m.9 .2h0m.4 2h0m0 .5h0m.3-.3h0m.3 0h0m.2 .3h0m.1-.7h0m.6 .5h0m.8-.4h0m.6-.5h0m0 1.1h0m.1-2.6h0m.2 2h0m.1 .3h0m.2-2.4h0m.2 1.7h0m.1 .1h0m.1-.5h0m.8 1.1h0m.2-1.3h0m.4 1.1h0m.4-.9h0m0 1.1h0m.4-.4h0m.1 .7h0m.4-.5h0m.1-.5h0m.1 .9h0m.3-.4h0m.1-1.7h0m.1 .6h0m.4-1.1h0m0 2.7h0m.1-.4h0m.1-.1h0m.1-.7h0m0 .1h0m.9-.5h0m.1 .3h0m.3 .9h0m.2-2.3h0m.1 .2h0m.3 1.4h0m0 .5h0m.1-.8h0m.1-.3h0m.1 0h0m.2 .1h0m.4-1.3h0m.1 2.6h0m.2-1.4h0m.2-.4h0m.1-.4h0m0 1.2h0m.4 .3h0m0 .5h0m.1-1.5h0m0 1.7h0m.3-1.1h0m.1 1.3h0m.4-.4h0m.1-1.3h0m.1-.1h0m.1-.5h0m.2 1h0m.1-.9h0m0 1.9h0m.1-2.5h0m.1 .3h0m.1 1h0m0 .2h0m.2-1h0m0 1.7h0m.1-2h0m.3 .9h0m0 .4h0m.1 1.3h0m.1-1.8h0m0 .4h0m.1 1.5h0m.1-.6h0m0 .5h0m.2-1h0m.2 .3h0m0 .7h0m0 .1h0m.2-1.8h0m.4-.4h0m.1-.5h0m0 .5h0m0 1.7h0m.3 .4h0m.4-.7h0m.1-.4h0m.4-.9h0m0 .4h0m.3-.7h0m.2 .6h0m.1-.6h0m0 .1h0m0 1.4h0m.3-1.6h0m0 1.6h0m0 .4h0m.1 .5h0m.2-2.4h0m0 .2h0m.4 2.2h0m.2-.7h0m.1-.6h0m.4 .8h0m.1 .1h0m.4-1.4h0m.4-.2h0m.1-.8h0m0 .3h0m.1 2.4h0m.2-2.2h0m.4 1.3h0m.1-1.2h0m0 1.7h0m.1-1.4h0m0 .3h0m0 1.6h0m.1-.9h0m.2-.9h0m.1-.5h0m.1-.2h0m.2 2.4h0m.2-1.9h0m.1 2h0m.2-2.8h0m.1 1.1h0m0 .7h0m.2 .1h0m.1-1.8h0m.3 1h0m.6 1.1h0m.1-2h0m0 .2h0m.6 1.7h0m.1-.8h0m.2 1.1h0m.1-2.2h0m.2 .9h0m.2-.4h0m.1-.4h0m.2 1h0m.1-1.2h0m.1 .3h0m.2 .8h0m.1-.2h0m.7 .1h0m0 1.3h0m.3-.9h0m.2-1.4h0m0 0h0m.1 1.3h0m0 .9h0m.2-2.1h0m0 2.2h0m.2-1.3h0m.6 .5h0m.5 .5h0m.3-.7h0m.4 .8h0m.9-.9h0m.3 1.1h0m.7 .4h0m.4-1.9h0m.5 1.7h0m.9-1.2h0m.2-.6h0m.1 .7h0m3.6-.7h0m0 1.4h0m7.4-1.9h0m.3-.2h0m-4.1 4.7h0m-.7-1.7h0m-.3 1.3h0m-4 0h0m-.5-1.1h0m-.1 2h0m-2-1.8h0m-.8-.6h0m-.1 1.9h0m-.3-1h0m-.2 1.4h0m0-.2h0m-.1-1h0m-.3-.6h0m-1.3 1.5h0m-.1-.3h0m-.2 0h0m-2-.7h0m-.3 1.1h0m-.3-1.8h0m-.1 2.3h0m-.2-1.2h0m-.1-1h0m-.3 .2h0m-.1 0h0m-.2 2h0m0-1h0m0-.1h0m0-1.4h0m-.4 0h0m-.5 .7h0m-.1 1.5h0m-.7-.8h0m-1-.2h0m-.3 .3h0m-.3-.7h0m-.7-.2h0m0-.6h0m-.1 1.1h0m-.1 1h0m-.5 .5h0m0-1.8h0m-.7 .1h0m-.1-.8h0m-.1 1h0m-.1 1h0m-.2-1.7h0m-.3 .1h0m-.1 .6h0m-.3-.4h0m-.1 1.3h0m-.2 .2h0m0-2.1h0m-.1 .8h0m-.2 0h0m-.2 .7h0m-.1 .7h0m0-2.1h0m-.2 1.6h0m-.1 .5h0m-.2-1.2h0m-.3 1.4h0m0-.7h0m-.1-1.5h0m-.2 1.7h0m-.2-1.1h0m-.1 1.3h0m-.3-1.9h0m-.2 .5h0m-.2 .6h0m-.3-.5h0m-.2 1.1h0m-.2 .3h0m-.1-.6h0m0-1.3h0m0-.1h0m-.4 1.1h0m0-.8h0m-.1 2.2h0m0-.5h0m0-.7h0m0-1.5h0m-.1-.2h0m-.3 1.4h0m-.4 .9h0m-.1 .6h0m0-2.5h0m-.2 .6h0m-.1-.6h0m-.1 1.9h0m0-.4h0m-.3-.9h0m-.1 .7h0m-.1-.5h0m-.3 1.3h0m-.1-1.2h0m0-.8h0m-.1 .4h0m-.2 .1h0m-.1 .3h0m-.2 1.6h0m-.1-1.5h0m-.2-.1h0m-.2-.2h0m0-1.1h0m-.1 2.1h0m-.3-.4h0m-.6-1.4h0m-.1 2.3h0m-.1-1.5h0m-.3 1.8h0m-.2-1.1h0m-.4 .9h0m-.5-1.8h0m-.2 1.8h0m0-2.3h0m-.2 .7h0m-.3 .8h0m-.5 .3h0m0-.2h0m0-1.3h0m-.1 2.1h0m-.1-1.5h0m-.3 1.6h0m0-.6h0m0-1.7h0m-.1 .2h0m-.2 .1h0m-.3-.6h0m-.8 1.7h0m-.1-.9h0m-.2 1h0m0-1.7h0m-.1 1h0m-.5 .2h0m0-1.2h0m-.1 .1h0m-.2 .9h0m-.9-.5h0m-.2 1.6h0m-.4-1.1h0m0-1.2h0m-.7 2.5h0m-.1-1.2h0m-.1 .2h0m-.2-.1h0m-.1 .7h0m-.1-.1h0m-.4-.7h0m-.2 1.3h0m0-2h0m-.3-.8h0m-.1 1.6h0m-.2 .6h0m-.3-1.5h0m-.3 .1h0m-.1 1.6h0m-.3 .3h0m-.2-1.8h0m-.1 .9h0m-.2 1h0m-.2-2h0m-.2 1.1h0m-.1-1.2h0m-.3 .6h0m-.1-.7h0m-.3 1.3h0m0-.7h0m0-.4h0m-3.2 1.2h0m-.1-1.6h0m-.5 2.4h0m-1-.8h0m-.1-.6h0m-1-.3h0m-1.3-.2h0m-1.3 .6h0m-.6-1.1h0m-.3 1.5h0m-3.2-.2h0m-.4-1.4h0m-.1 1.3h0m-5.1-.3h0m-2.1 .5h0m-1.7 1.4h0m2.6 2.3h0m4.7-1.1h0m0 1.5h0m.9-2.4h0m1.2 .3h0m.4 1.4h0m3 .3h0m.3-.7h0m.5-1.8h0m0 1.7h0m.4-1.1h0m1.5 2.1h0m.6 .1h0m.3 0h0m1.1-.2h0m.3-1.2h0m0 1.1h0m.1-1.3h0m.2 .6h0m.9 .3h0m1.3 .3h0m2 .5h0m.6 0h0m.2-2.3h0m1.8 .7h0m0 .7h0m.9-1.1h0m.4-.7h0m.1 .6h0m.2-.3h0m.5 0h0m.3 2.2h0m0 .2h0m.5-1.9h0m.1-.1h0m.1 .3h0m0 .3h0m.2-1.5h0m0 .3h0m0 2.1h0m.4 .5h0m.1-1.1h0m.4 .6h0m.1-1.5h0m.4 1h0m.3-1.7h0m0 1.7h0m.4-.1h0m.3-1.3h0m.2 .1h0m.3 1.8h0m.1-.1h0m.2 .5h0m.1-2.5h0m.1 1.4h0m0 .2h0m.2-1.3h0m.5 .2h0m.2 1.1h0m.2 1h0m.3-1.7h0m.5 .2h0m.1 0h0m.1-1.1h0m0 .8h0m0 .6h0m.2-.7h0m0 1.6h0m0 0h0m.2-.8h0m0 .1h0m.2 .2h0m.1-1.7h0m.2 .5h0m.1 1.2h0m.3-1.9h0m.1 1.9h0m.1-1.4h0m.1 1.5h0m.1 .7h0m.4-1.7h0m.1-1h0m0 .2h0m.3-.2h0m.1 .5h0m.1 2.2h0m.1-.7h0m.2-.1h0m.2-2.1h0m.1 .1h0m.5 .9h0m.2 1.6h0m.1-2.4h0m.2-.1h0m.4 0h0m.2 .9h0m0 .8h0m.1-1.2h0m0 .3h0m.3 1.1h0m.1-1.7h0m0 .7h0m.3 0h0m.8 1.1h0m.1-.8h0m.3-.8h0m.1-.2h0m.2 .6h0m.2 1.4h0m.2-2.2h0m.6 .5h0m.2 .3h0m.2-.9h0m.1 .3h0m0 0h0m0 .5h0m1.5 .3h0m.1-.9h0m.3 2.6h0m.1-1.9h0m.1 .5h0m.2 .7h0m.8-.7h0m.1-.8h0m.9 1.1h0m.4 .1h0m.1 0h0m0 .1h0m.7 .4h0m0 .1h0m.3-1h0m.2 .1h0m0 1h0m1.1 .1h0m0 .3h0m.7-2.9h0m.9 .6h0m.2 2.3h0m1.6-.4h0m.3-2.4h0m0 1h0m.2-.7h0m1 1.9h0m2.2-1.9h0m1.8 2h0m.3-.5h0m1.3 .8h0m3.3-1.5h0m-6 4.2h0m-4.6-2h0m-5.2-.3h0m-.3 2h0m-.1-1.9h0m-.5 .4h0m-.1-.5h0m-.9 .8h0m-1 1.2h0m-1-.6h0m-.5-.5h0m-.4 1.2h0m0 0h0m-.1 .6h0m-.6-1.3h0m-.6-1h0m-.1-.5h0m-.6 .1h0m-.1 2h0m-.5-1.6h0m-.1 .9h0m-.1-.9h0m-.5-.1h0m-.1 1.1h0m-.4-.4h0m-.2 1.6h0m-.3-.8h0m0-1.7h0m-.5 .5h0m0-.1h0m-.2 1.2h0m0-1.3h0m-.2 1.9h0m0-1.2h0m-.2-.4h0m-.2 1.6h0m0-2.1h0m-.4-.3h0m-.1 .4h0m-.1 .6h0m-.1-.5h0m-1.1 1.9h0m-.1 .1h0m0-1.6h0m0-.2h0m-.3 1.4h0m-.1 .7h0m0-2.1h0m0 0h0m-.4 1.4h0m-.1 .5h0m0 0h0m-.1-.8h0m0-.6h0m-.3-.9h0m-.4 1.4h0m0-1.5h0m-.1 2.7h0m0-1.6h0m0-.6h0m-.3 1h0m-1-1.5h0m-.1 1.2h0m-.1-.9h0m-.1 2.3h0m0-.1h0m-.6-1.4h0m-.3 .4h0m-.1-.4h0m-.1 1.2h0m-.1-.9h0m-.2-.1h0m-.4 1h0m0-1.3h0m-.3 .6h0m-.1-1.3h0m0-.3h0m0-.1h0m-.1 1.9h0m-.7-.5h0m-.1 .1h0m-.5-1.4h0m-.1 .7h0m0-.1h0m-2.8 1.5h0m-.3 .1h0m-.3-.3h0m-.3-1.3h0m-.1 .8h0m0-.7h0m-.1-.1h0m-.2 .5h0m-.2-.7h0m-.2 2.1h0m-.2 .2h0m-.1-.8h0m0-.5h0m-.3 .8h0m0-.2h0m0-2.2h0m-.5 .8h0m-.5-.5h0m-.1 1.4h0m0-.9h0m-.4 1.8h0m-.1-.9h0m0-1.5h0m-.1 0h0m-.1 2h0m0-1.2h0m-.8 .9h0m-.1-.2h0m-.3-1.2h0m-.1 1.6h0m-.3 .4h0m0-1.3h0m-.2 1.2h0m0-.8h0m-.2-.4h0m-.1 .8h0m-.3-.1h0m0-.9h0m-.2 .3h0m-.1-.6h0m-.1 1.5h0m-.1-2h0m-.4 1.6h0m-.2-.4h0m-.1 .9h0m-.1 .3h0m-.6-1.9h0m-.3 0h0m-.9 .7h0m-.2 1.2h0m-.8 .1h0m-.3-2.1h0m-.6 .9h0m-.4-.1h0m-.6 1h0m0-.6h0m-.1 .9h0m-.2-2.1h0m-.7-.1h0m-.3 .3h0m0-.5h0m-.7 0h0m-.1 1.8h0m-2.4-1.6h0m-1.5 .4h0m-3.7 .8h0m-2.8-.2h0m-4.5 2.6h0m5.5 1.7h0m2.7-2.6h0m2-.1h0m1.5 1.3h0m2.1-.3h0m1 .9h0m.8-1.1h0m.4 .6h0m.3 .6h0m.4-.4h0m0 .6h0m.3-1.8h0m0 1.4h0m.2-1.6h0m1.5 .2h0m.6-.3h0m.4 2.3h0m.1 0h0m.3-2.2h0m.2 .2h0m.1 1.3h0m.2-.8h0m.1 .9h0m.4 0h0m.1-1.9h0m0 2.1h0m.3-.2h0m.1-.6h0m.3 .7h0m.2-.3h0m.6-1.7h0m.6 1.1h0m.2 1h0m.1-1.3h0m0 1.7h0m.1-1.1h0m.2-1.3h0m0 1.8h0m.2-1.1h0m0 .9h0m0 0h0m.5-.9h0m.5 .5h0m.1 1.3h0m.6 .2h0m.4-.6h0m.3-1.1h0m.5-.6h0m0 1.2h0m.2-.9h0m0 1.1h0m.5-1.3h0m.1-.6h0m.1 2.9h0m.3-1.7h0m.1-.7h0m.2 0h0m.3 2.1h0m.6-2.6h0m.3 1.8h0m.1-1.1h0m.4 1.8h0m.7-.7h0m.1-1.8h0m.1 1.5h0m0 .3h0m.9-1.3h0m0 1.6h0m.7 0h0m.1-.6h0m0 .7h0m.2-.8h0m2.5-1.1h0m.1-.1h0m1.1 .1h0m.2 1.5h0m.3 .9h0m.1-.9h0m0 .9h0m.1-.2h0m.2-.6h0m.3-1.9h0m.2 1.2h0m0 .1h0m0 1.2h0m.1 .1h0m.8-2.5h0m.1 .2h0m0 2.2h0m.6-1.8h0m.3-.3h0m.5-.3h0m.1 .1h0m0 1.5h0m.3-1h0m.7 .2h0m.4 1.2h0m.5 .3h0m.1-2h0m.4 .5h0m.4 .3h0m.8 .5h0m.1-1.1h0m.2 .5h0m.8-.9h0m.3-.1h0m1.2 1.7h0m.4 .9h0m.2-2.2h0m.4 .4h0m.3-.1h0m1.6 .4h0m.6 .2h0m0 .1h0m.1 .6h0m1-1.5h0m2 .4h0m.4 1.2h0m.2-.4h0m-1.1 3.8h0m-.1-.9h0m-3.7-1.4h0m-.9 .2h0m-2.8 1h0m-.6-1.5h0m-2 2.2h0m-.1-1.7h0m-1.1 .4h0m-.1 .7h0m-.6-1.6h0m-1.1 2.7h0m0-2.1h0m-.5 2.1h0m-1.2-1.9h0m-.2 1.4h0m-.1-1.9h0m-.1 1h0m-.2-.7h0m-.6-.1h0m-.3 1.3h0m-1.7 .4h0m-.1 .3h0m0-1.5h0m-.8 1.5h0m-.6-.4h0m0-.9h0m-.1 .3h0m-.4 .9h0m-.4-1.5h0m-.1-.9h0m-.2 1.5h0m0-1.3h0m-.3 1.9h0m-.5-.2h0m-.3-.2h0m-.5-.2h0m-.4-1.1h0m-.3 .2h0m-.4 1.9h0m-.1-1.2h0m-.6 .6h0m-1.1-.1h0m-.2-1h0m-.4 0h0m-.4 1.4h0m-.1 .2h0m-.2 .1h0m-.3-2.4h0m-1 .2h0m-.2 1.9h0m-.1-1.1h0m-.1 .1h0m-.1-.5h0m-.4 .4h0m-.3 .5h0m-.7-.6h0m-.2 1.3h0m-.1-.6h0m-1.1 .5h0m-.8-1.3h0m-.5 1.3h0m-.9-1.3h0m-.2-.8h0m-.3 .8h0m-.4 1.5h0m-.1-.3h0m-.6-1.7h0m-.8 1.5h0m-.2-1.3h0m-2.1 1.3h0m-.1 .9h0m-.8-1.9h0m-.1 .3h0m-.5 .9h0m-1-.9h0m-.2 1.6h0m-3.2-1.4h0m-.1-.8h0m-.1 1h0m-.1 1.2h0m-.4-1.5h0m-2.9 .9h0m-.2 .2h0m-1.3 .3h0m-10.1-.8h0m-.9-1.1h0m4.2 4.1h0m.6 .7h0m2.4-1.8h0m5.8 1.3h0m.7-1.8h0m1.1 2.2h0m1.6-1.7h0m.3 1.5h0m.1-2.3h0m0 2.4h0m.7-.7h0m2.6-.3h0m1.3 1h0m.9-.4h0m.9 .7h0m.5-2.1h0m1 .6h0m.4 .6h0m.4 .5h0m.3 .4h0m.1-.8h0m.2-1.9h0m0 2h0m.5-.3h0m.1-.1h0m.1 1.2h0m.5-.5h0m.2 .3h0m.2-1h0m.8 1.2h0m.1-1.9h0m.6 1.6h0m.3-2.1h0m.2 .5h0m.8 1.1h0m.6-.1h0m1.2-.6h0m.4 1.5h0m.3-2.1h0m.2 .9h0m1.3 1.2h0m1-1.5h0m.1-.1h0m.9 .1h0m.1 .1h0m2.2 .4h0m1.5-1.4h0m.8 .5h0m.6-.4h0m.8 .7h0m4.2-.8h0m.3 .9h0m5.5 .3h0m2.6-.9h0m3.6 1.6h0m2.9 2.1h0m-12.1 .6h0m-8-.5h0m-.4-.9h0m-.4 2.1h0m-3-2.2h0m-1.1 1.1h0m-.6-.9h0m-.7 1.8h0m-2.7-.5h0m-2.3-1.4h0m-.4 .8h0m-.3-1.4h0m-.2 .5h0m-.1 .4h0m-.9 1.8h0m-1.6 .1h0m-.7-.4h0m-2.7-1.4h0m-2.7 .9h0m0-.5h0m-3.2-.4h0m-1.1 1.1h0m-5.3-.5h0m-.6-1.5h0m-.2 .5h0m-4.6 2.2h0m-4.4-.3h0m2 .6h0m.6 .9h0m3.7 .8h0m1.5-1.6h0m8.1 .2h0m.1 .1h0m1.1 0h0m.1 1.3h0m.2-1.6h0m0 .7h0m2.1 .2h0m.5-.7h0m.4-.2h0m.9 .1h0m.3 .5h0m1.3 1.7h0m1.6-2.2h0m.8 .7h0m.6 1.4h0m1.4-1.3h0m.4-1.1h0m.2 2.3h0m.4-.8h0m.6 1h0m1.5-2.5h0m2.2 2.6h0m.3-1.9h0m1.9 .5h0m1.3 1.3h0m1.9-.6h0m.5 1h0m.9-1.2h0m2.2 3.5h0m-4.8-1h0m-.6-.5h0m-5.5-.7h0m-2.8 .7h0m0-.5h0m-8 .7h0m-1.8 0h0m-3.5 1.6h0m-.8 .2h0m-1-.7h0m-1.7-.9h0m-5.4 3.6h0m2.6-1.5h0m6.5 .2h0m9.4 .4h0m4.1 4.1h0m-4.1-.3h0m0-.6h0m-5.2-.1h0m-13.5 1.9h0m-12.7 6.8h0" stroke="#e8926a" stroke-width="0.6" stroke-linecap="round" fill="none"/><path d="M118 404.9h0m-1.8 13.8h0m-6 0h0m7.6 3h0m-4.9 1.4h0m-1.3 .5h0m-.3-.4h0m-12.3 2.8h0m1.4 1.7h0m2.9 .9h0m1-1.6h0m2.3 1.2h0m.1-.3h0m.3 .3h0m1.2-.7h0m2.9-.5h0m.6 1h0m1.4 .8h0m.3-1.6h0m.6 .9h0m2.2-.7h0m.5-.1h0m.6 .7h0m.7 .7h0m3.2 .3h0m-1.9 1.8h0m-1.2-.3h0m-.6-.9h0m-1.5 .9h0m-.4 1.4h0m-1.2-2.6h0m-.6 .7h0m-.7-.3h0m-.2 .9h0m-.6 .8h0m-.1-.8h0m-2.4 .7h0m-.1-.3h0m-.2-1.8h0m-.1 1.2h0m-1.6-.7h0m-1.3 1.5h0m-2.4-.4h0m-.2 .1h0m-.3 .1h0m-.9 .8h0m-6.8-1.5h0m.1 3.5h0m4.9 .4h0m.8-.7h0m.3 .1h0m.1 .3h0m1.1-1.3h0m1.4-.3h0m1.5 .2h0m0 1.3h0m1 .9h0m.2-2.7h0m.5 2.9h0m.8-1.8h0m.1 .2h0m.2-1.1h0m.7 1.4h0m.1-.3h0m.4 1.5h0m.1-1.8h0m.1-.8h0m.6 .5h0m.6 1.9h0m.1-1.9h0m.6 .8h0m0 .9h0m.7 .4h0m.6-2.1h0m.8-.3h0m.2 .9h0m2.8-.3h0m.3-.3h0m0 .7h0m.3 1.4h0m2.1-1.4h0m.2 .9h0m.4-1.7h0m.2 .7h0m2.7-.3h0m1-.7h0m2.8 5.2h0m-1.5-1.9h0m-.8 .3h0m-.5 .7h0m-2.5 .1h0m-1.3 .7h0m-.1-.3h0m-.4-.3h0m-.5-.1h0m-.5 1.2h0m-.6-2.4h0m-.1 1.3h0m-2.1-.3h0m-1.7-.4h0m0-.1h0m-.4-.6h0m-.7 1.7h0m-.5-2.1h0m-.8 2h0m0-.5h0m-.1-.5h0m-.1-.1h0m-.4 .8h0m-.3 1.2h0m0-1.9h0m-.7 1.6h0m-.1-.1h0m-.3-.1h0m-.2-.4h0m-.4-1.1h0m-.7-.1h0m-1.1-.5h0m-.2 1.6h0m-.1-.2h0m-.6-1h0m-.4 .6h0m-.1 1.4h0m-1.1-.3h0m-.3-.4h0m-.2-.4h0m-.3-.7h0m-1.6-.5h0m-.4 2h0m-.6-.3h0m-3.7 .1h0m-1.1-1.6h0m-1.5 .3h0m-8.5-.6h0m8.2 3.9h0m1-.6h0m6 0h0m.2-.6h0m0 .9h0m.6 .2h0m1.3-.5h0m.2 .6h0m.2-1.1h0m0 2.6h0m.4-2.2h0m1 2.3h0m.3-1.2h0m0 .1h0m.2-1.2h0m.2 2.4h0m.3-2.4h0m.4 1.7h0m.6-.4h0m.1-.7h0m0 .5h0m.5-1.5h0m0 0h0m.3 1.9h0m.2-1.3h0m.1 .8h0m.4 1h0m.8-.7h0m.1-.9h0m.3 .7h0m.3 1.2h0m.2-.6h0m.1-1h0m.3 1.4h0m0 0h0m.2-.3h0m.1-.5h0m.3-1.6h0m.1 1.1h0m.2 1h0m.5-.3h0m.4-.1h0m0 .3h0m.1-1.1h0m0 .5h0m.2-.2h0m0 .1h0m.1-.9h0m0 2.3h0m.3-1.4h0m.2-.3h0m.3-.3h0m0 2h0m.2-2.8h0m0 2.8h0m.4-1h0m.1-1.6h0m.2 .8h0m.7 1.3h0m.2-.6h0m.2-1h0m0 .9h0m.2 0h0m2.2 .8h0m.4-1.1h0m.3-1.2h0m0 .4h0m0 1.6h0m.1-2.1h0m0 1.7h0m.1 .1h0m1-.6h0m.5-.7h0m.1 .5h0m.1 .7h0m0 .9h0m1.5-1h0m1.4-.2h0m2.3-.2h0m9.1-.4h0m-8.4 2.7h0m-.3-.4h0m-.3 .6h0m-3.4 .8h0m-1.6 1.2h0m0-1.1h0m-2.4-.5h0m-.1 1.5h0m-.3-.2h0m-.2-.4h0m0-1.8h0m-.2 1h0m-.5-1.1h0m-.2 1.3h0m-.1 1.4h0m-.8-1h0m-.4-1.5h0m-.3 .8h0m-.1 1.5h0m-.3-.1h0m-1.1-.3h0m0-2h0m-.6 1.2h0m-.1-.2h0m-.1 .2h0m-.8-.7h0m-1.1 2h0m-.2-1.5h0m0-.8h0m-.2 1.8h0m0-.5h0m-.2-.4h0m0-1.3h0m-1 1.9h0m-.1 .2h0m0-.9h0m-.1 1.1h0m-.1-2.4h0m-.2 2h0m0-1.5h0m-.1 1.4h0m-.4-1h0m-.3 1.1h0m0-.7h0m-.1-.5h0m-.1 1.5h0m-.2-1h0m-1 1.1h0m-.4-1h0m-.2 1.5h0m-.5-2.3h0m-.3 .2h0m-.1 .9h0m-.2-1.2h0m-.2 .8h0m0 0h0m-.4 1.2h0m0-1.3h0m-1 .3h0m-.1 .5h0m0-.2h0m-.4-1.7h0m-.1 1.8h0m-.1 .9h0m0-.1h0m-.8-1h0m-.1 .8h0m-.1-.7h0m0-1.3h0m-.2 .9h0m-.7 1.5h0m-.4-2.6h0m-.5 1.3h0m-.3-.4h0m-1.2 0h0m-.5 .2h0m-6 1.2h0m-1.2 2.2h0m2.4-1.7h0m2.4 .4h0m.3 .6h0m1.9 1.3h0m1.7 .4h0m1.1-2.7h0m.9 .3h0m.1-.4h0m.2 2.5h0m.1-2.5h0m1.4 .8h0m.2 .6h0m.4 .8h0m.2-1.2h0m.4 .4h0m.1-.3h0m.1-1h0m0 .8h0m0 .1h0m.1 1.5h0m.2-1.9h0m0 .3h0m.8 1.5h0m.3-.1h0m.3-1.5h0m.1-.7h0m.1 .8h0m.1 .4h0m0 1h0m.2-1.9h0m.3 0h0m.1 1.8h0m.1-1h0m.1 1.3h0m.1-2.5h0m.1 1.6h0m.1 .5h0m.4 .8h0m.1-1.6h0m.4-.1h0m.1-.7h0m.2 1.2h0m.3-1.7h0m0 .4h0m0 .5h0m.2 .7h0m0 1.3h0m.1-2h0m0 1.4h0m.1-1.3h0m.4 .3h0m.3-.7h0m0 .2h0m0 1.7h0m.2-1.1h0m.2 1.2h0m.8-1.6h0m.2-.2h0m.1-.8h0m0 1.6h0m.1-.4h0m0 .2h0m.2-1.3h0m.3-.1h0m.1 .8h0m.2 1.5h0m.3-2.1h0m.1 1.1h0m.1-.5h0m.2 1.3h0m1.3-1.6h0m.1 .9h0m.4 1.1h0m0 .1h0m.5-1.5h0m.4 1h0m.1-.9h0m0 .3h0m.3 1.4h0m.9-.8h0m.2 .7h0m.2-2.1h0m.5 2.1h0m.3-1.7h0m.7 .1h0m.6-1.1h0m.3 1.8h0m.2-1h0m.8 2h0m1.1-1.2h0m.3-1.2h0m2.1 .6h0m.6 .4h0m.3-1h0m1.3 2.3h0m-4.2 .9h0m-.4-.4h0m-3.1 1.8h0m-1.3-.4h0m-.6 1h0m-.3 .1h0m-.7-.5h0m0-1h0m-.1 1.4h0m0-1.9h0m-.1 1.4h0m-.4 0h0m0-.7h0m-.5-1.1h0m-.3-.2h0m-.5 .3h0m-.1 2.2h0m-.6-1.3h0m-.1-1.2h0m-.3 .9h0m-.1 .9h0m0-1.9h0m-.3 2.2h0m-.1-1.7h0m-.4 1h0m-.7 .4h0m-.6-2h0m-.3 .9h0m-.1 1h0m-.4-1.5h0m-.1 1.7h0m0-.1h0m0-.3h0m-.1 .7h0m0-2.2h0m0 0h0m-.3 .4h0m-.3 1.8h0m-.4 0h0m-.4-1.7h0m-.1 .7h0m0-.8h0m-.2 .7h0m0-1.3h0m-.2 1.5h0m-.5 1.4h0m-.1-1.9h0m-.1 1.8h0m-.2-.3h0m0-1.6h0m-.1 2h0m0-1.4h0m-.1-1.1h0m-.1 2.5h0m0-2.7h0m-.1 1h0m-.2-.1h0m-.4-.9h0m-.2 1.2h0m-.3 1.2h0m-.5-1h0m0-1.4h0m-.1 0h0m-.1 2.4h0m-.1 .3h0m-.1-.5h0m-.1-.7h0m-.1 1h0m-.3-1.9h0m-.1 1.9h0m-.3-1.9h0m-.1 .4h0m-.2 .2h0m-.1-.8h0m-.9 1.5h0m0-1.5h0m-.4 1.7h0m-.2-.9h0m-.5-.4h0m-2.3-.3h0m-.6 0h0m0-.2h0m-.3 2.3h0m-1-.4h0m-.3 .3h0m-.4-1.7h0m0-.8h0m-5.1 .5h0m-1.9 0h0m-3-.3h0m6.2 4.6h0m.9-1.8h0m.2 2h0m.9-.2h0m.1 .1h0m1.5-.5h0m.1-1h0m.1 1.5h0m.9 .2h0m.4-.1h0m.7-2.1h0m.6 2.7h0m.4-1.4h0m.1-.2h0m.1 1h0m.3-1h0m.1 0h0m.1-.5h0m.2 1.9h0m1.9-1.8h0m.2-.7h0m0 .5h0m.5 .8h0m.3 .6h0m0 .2h0m.3 .4h0m.6-.1h0m.1-.7h0m.1 1h0m.4-1.3h0m.2-1.3h0m0 2.2h0m.1 .1h0m.2-.8h0m.3-1.2h0m.1 2h0m.1-2.5h0m.2 1.9h0m.4-1.1h0m.3 .7h0m.2 .5h0m.1 .1h0m.7-.9h0m.1 .2h0m.7 .8h0m.3 .5h0m.2-2.5h0m.2 1.4h0m0 .6h0m0 .1h0m.2-1.5h0m.1-.2h0m.2 .9h0m.2-.1h0m.5-.7h0m.1 .4h0m.9 .1h0m0 .1h0m.1 1.4h0m0 .1h0m.1-.1h0m.3-1.5h0m.1-.8h0m.5 1h0m.5-1h0m.1-.1h0m0 0h0m.2 1h0m.3 .9h0m.2-2h0m.4 2.5h0m.1-1.3h0m.6-.4h0m.3-.9h0m0 2.4h0m.6-2.4h0m.3 1.8h0m0 .8h0m.4-2h0m.5 1.3h0m.6 .2h0m.1-.1h0m.3-.5h0m.5-1.1h0m.5 .7h0m.1-.9h0m.2 1.1h0m.6-1h0m.1 .3h0m2.4 .5h0m0 1.7h0m.8-.4h0m7.2-1.5h0m-5.3 4.9h0m-1.3 0h0m-.3-.5h0m-.5 .1h0m-1.4-.9h0m-.6-.7h0m0-.7h0m-1.7 0h0m-.1 2.5h0m-.9-2.2h0m-1.6-.1h0m-.2 .5h0m-.3 .2h0m-1.1-.9h0m-.4 0h0m-.8 1.6h0m0-1h0m-.7-.8h0m-.3 2h0m-.9 .3h0m0-.3h0m-.4-1.7h0m-.1 2.3h0m-.7-.7h0m-.4 .5h0m0-.4h0m-.3 .5h0m-.1-.5h0m-.8-.4h0m0-1.2h0m0-.4h0m-.3 .3h0m-.1 1.9h0m-.1 .5h0m-.3-1.2h0m-.1 .2h0m-.2-.9h0m0-.7h0m-.1 .2h0m-.1 1.1h0m-.1 .8h0m-.3-1h0m-.1-.5h0m-.2 1.7h0m0-1h0m-.1 1.1h0m0-2.3h0m-.1 2.2h0m0-1.4h0m-.3-.7h0m-.2 1.2h0m0-.8h0m-.2 .7h0m-.6 .5h0m0-1.7h0m-.1 1.1h0m-.1 .2h0m-.7-.4h0m-.1 1.6h0m-.2 0h0m-.2-1h0m-.4-1.3h0m-.2-.1h0m-.2 2h0m-.3 .1h0m0-.2h0m-1.6 .6h0m-.2-.4h0m-.3-.3h0m-.4-.8h0m-.3 .1h0m-.1-.7h0m-.2 1.3h0m-.6-.5h0m-.6-1.2h0m-.4 .4h0m-.2 0h0m-.4 .4h0m-1.6 .5h0m-.1-.9h0m-.1-.4h0m-7.9 2.4h0m-.3-.4h0m-3.5 .1h0m-.2-1.9h0m2.4 4.4h0m4 .4h0m.1 .4h0m1.9-.3h0m1 .3h0m.7-1.5h0m0 .6h0m2-1.5h0m.6 .9h0m.8-1.2h0m1 .3h0m0 1.1h0m.1-.2h0m.1 .8h0m.5-1.1h0m.2-.5h0m1.1-.2h0m0 1.4h0m.1-.2h0m0 .1h0m.2-1.3h0m.2 0h0m2.4-.2h0m.4 0h0m.5 1.3h0m.4-1.2h0m.9 .2h0m.1 .8h0m.5-.5h0m.6-.3h0m.8 1.8h0m.1-1.1h0m.2 .9h0m.3-1h0m.1 .9h0m.4 0h0m0 .3h0m.6-.5h0m.1 .4h0m.2-1.3h0m.4-.4h0m.3 1h0m.1 .1h0m0 1.1h0m.1-2.2h0m.4 1.7h0m.2-.2h0m.3 .5h0m0 0h0m1.6-1.6h0m.5 .7h0m0 1.4h0m.8-1.9h0m.3 .7h0m.2-.6h0m.8 .1h0m0 .7h0m.4-1.3h0m.6 .3h0m.8-.2h0m.1 .8h0m1.2-1.1h0m.2 1.2h0m.3 1.1h0m.7-.9h0m1.7 .5h0m1-.9h0m1.3 .7h0m-1 1.2h0m-3.1 1.6h0m-.2-1.8h0m-1.5 .8h0m-.6-.5h0m-.9 1.6h0m-.1-1.4h0m-.1 1.1h0m-.2-1.5h0m-1.1 .5h0m-1 2h0m0-.8h0m-.4-1h0m-.5-.1h0m-.4 .3h0m-.2-.2h0m-1 1.5h0m-.1-1.1h0m-.1-1.2h0m-.2 .3h0m-.2 .6h0m0-.7h0m-.9 1.3h0m-.3-1.3h0m-.1-.1h0m-.8 2.1h0m-.1-1.4h0m0-.5h0m-.3 2.1h0m0-1.4h0m-1.2 1.2h0m-.1 0h0m0-1.7h0m-.3 .7h0m-.7 1.5h0m-1.2-.6h0m0-.2h0m-.1 .2h0m-.3-.3h0m-.1 .9h0m0-.7h0m-.2-1.5h0m-2.1 .3h0m-.5 .8h0m0-.4h0m-.7 .6h0m-.5 .2h0m-.1-1.6h0m-.1 1.8h0m-.6-.9h0m-.3 .8h0m-.1-.7h0m-.3 .1h0m-.3 1.3h0m-.6 0h0m-.5-2.3h0m-1.6 1.6h0m-.5-1.4h0m-.7 .1h0m-.7 2.1h0m-.3-.6h0m-2.5-1.6h0m1.5 3.1h0m.2-.3h0m.8 1.8h0m.3 .4h0m.1-1.9h0m1.3 1.4h0m1.6 .3h0m.1-2h0m.4 2.4h0m.6 0h0m.1-1h0m.8 .8h0m1.1-1.3h0m.4-.9h0m.4 1.3h0m.3 .5h0m1.3-1.7h0m.1-.3h0m.3 .6h0m2.5-.9h0m0 1.6h0m.2 .3h0m.7-.8h0m.2-.2h0m.2 .2h0m.7 1h0m.1-1.6h0m0 1.8h0m.3-2.1h0m.3 1.6h0m.4-1.6h0m.2 1.8h0m.1-.8h0m.9-1.2h0m.1 2.4h0m.3-.6h0m0 .8h0m.5-2.2h0m0 .3h0m0 .3h0m.5-.2h0m0 .6h0m.9-.4h0m1.1 .4h0m1 1.5h0m1.3-2.3h0m2.8 .1h0m.6 1.3h0m2-1.2h0m-5.6 2.5h0m-2.3 2.6h0m-1.6-2.7h0m-2 0h0m-.9 .6h0m-.5-.5h0m-1.2 1.2h0m-.3-1.3h0m-.1 .5h0m-.1 1.6h0m-.3-2.3h0m-.1 .5h0m-.4 2.4h0m-.2-2.4h0m-1 2.2h0m-4.8 0h0m-.1-1.2h0m-.5 1.3h0m-1.1-1h0m0-1.6h0m-.1 2.4h0m-1.1-.5h0m0-1.9h0m-3.9 .4h0m-.1 2.2h0m-2.1-.6h0m-1.5 0h0m-1-2.1h0m-.2 .2h0m2.4 5.3h0m4.5-2.6h0m1.5 2.7h0m.3-2h0m.7-.4h0m1.1-.2h0m.7 .6h0m.5 1.7h0m1.6-2.1h0m1.9-.1h0m.2 1.6h0m.9-1.5h0m0 .9h0m4.1-1h0m3.2 1.7h0m1.3 4h0m-1.3-2h0m-2-.4h0m-3.4 .4h0m-4.2-.7h0m-1.2 1.4h0m-1.7 1h0m-1.7-2.1h0m-3.7-.1h0m-6.2 2h0m1.4 2.2h0m.1-.3h0m3.1-1.2h0m9.5 1.3h0m2.5 .5h0m2.6-1.9h0m1 2.6h0m.4-1.7h0m3.1 1.3h0m-13.1 .9h0m-8.1 .6h0m16.3 4.2h0" stroke="#ea9a74" stroke-width="0.6" stroke-linecap="round" fill="none"/><path d="M88.9 422.4h0m3.7 .1h0m10.5-1.4h0m5.2 3.9h0m-10.3-.8h0m-1.8 1.6h0m-1.2-.3h0m-21.6 .2h0m-1.5 .1h0m-9.3 1.4h0m9 .2h0m6.3-.4h0m3 1.9h0m.9-1.5h0m3.5-.4h0m6.8-.9h0m1.8 .3h0m1.2 .5h0m.1-.4h0m2.9 2.1h0m12.6-.4h0m6 3.1h0m-20.9 .3h0m-.1-.6h0m-.9 .3h0m-1-.2h0m-.2-1.5h0m-4.4 1.3h0m-1.2 .9h0m-.6-1.5h0m-6.6 1.2h0m-.5 .2h0m-1.4-1.2h0m-3.6-1h0m-1-.4h0m-3.1 .4h0m-7.2 4.7h0m2.1 .2h0m.6-.3h0m2.2-.7h0m.1-.6h0m1.5 .1h0m.5-.1h0m.5 1.9h0m4.6-1.9h0m.1-.5h0m.8 2.5h0m1.3-2.3h0m1.1 2.3h0m1.3-2h0m1.2 .1h0m0 .2h0m2.2-.5h0m1 1h0m.3-1.6h0m.2 .3h0m.1 .6h0m.6 .3h0m.9 .7h0m2-.6h0m4.6-1h0m4 2h0m.6-.2h0m.1-.2h0m2.7 .6h0m7.4-.1h0m-9.8 1.8h0m-1.5 1h0m-2.7-2h0m-.1 2.4h0m-.1-1.4h0m0-1h0m-.1 .7h0m-.4-.6h0m-.7 1.1h0m-.3-.7h0m-.2 1h0m-2.6 1.2h0m-2.3-.8h0m-.3 .3h0m-.9-2.3h0m-.9 .9h0m-.5 1.1h0m-.1 .3h0m-.1-.6h0m-.8-.4h0m-.8-.7h0m-1 2.2h0m0-.6h0m-.4-1.2h0m-.4 1.2h0m-.5-1.1h0m-1 .9h0m-.1-.8h0m-1.3 1.3h0m-.2-.3h0m-.2 .2h0m-.3 .4h0m-.5-.2h0m-2.3-1.7h0m-.1 .3h0m-.2-.8h0m-2.5 1.9h0m-.3-2h0m-.8 1.8h0m-1.7-.1h0m-5-1h0m-1 .5h0m-7-.6h0m-.3 2.3h0m2.5-.2h0m1.7 1.8h0m2.1-.4h0m.4 .3h0m.3 .2h0m.6-1.3h0m.1 .9h0m2.6 .9h0m2-1.1h0m2.1 1h0m.2 .1h0m.7-.4h0m.1-.1h0m1.3-.9h0m.3-.6h0m.3 2.2h0m.3-.4h0m.7-1.4h0m.1 2h0m.4-1.5h0m.2 .7h0m.1-1.4h0m.9-.5h0m.6 .3h0m.1-.5h0m.4 .7h0m.2 1.5h0m.8 .1h0m.1-1.6h0m.6 .3h0m0 0h0m.6 1.1h0m.5-1.3h0m.1 1.8h0m.4-.9h0m.5-.2h0m.4 1.4h0m.8-2.5h0m.3 2h0m.7-.4h0m1.8-1.4h0m.5 1.2h0m.1-1.8h0m0 .8h0m1.3-.4h0m1 2.5h0m1-1.8h0m1.1 .1h0m.2-1.2h0m.2 2.4h0m.7-1.6h0m.1 2.1h0m2.6-2.6h0m1.1-.1h0m3.3 2h0m5-1h0m5.4-.3h0m-5.9 2.4h0m-.7 .7h0m-8.3-.5h0m-1 2.3h0m-.6 .1h0m-.6-.4h0m-.9-2.2h0m-.6 2.1h0m-.3 0h0m-.2-1h0m-.3-.4h0m-.3 .3h0m0-1.3h0m-.2 .7h0m-1.1 2h0m-.3-2h0m-.7 .4h0m-.9-.7h0m-.8 1.1h0m0 0h0m-.8 .2h0m-.5-.9h0m-.2-.3h0m-.9 1.6h0m-.7-.6h0m-1-1.2h0m-.2 1.2h0m-.7 .4h0m0-1h0m-.3 1.1h0m-.5 .1h0m-.1 .8h0m-1.1-.3h0m-.3-1.5h0m-.1 .3h0m0-.3h0m-.3 .3h0m-.6-.4h0m-.3-.6h0m-.1 1.8h0m-.1-1.7h0m-.3 .4h0m-1-.2h0m-1 0h0m-.9 2h0m-1.8-1.2h0m-1-.2h0m-.1-.6h0m-1 2h0m-.4-2.4h0m-.1 1.2h0m-.7-.2h0m-.3-.1h0m-.1-1h0m-.7 1.3h0m0-1.2h0m-.9 1.6h0m-.3 1h0m-.1-.2h0m-.6 .1h0m-.6-1.1h0m-.1-.1h0m-.3 .6h0m-5.7-2h0m-1.9 0h0m-2.2 1.8h0m4.5 2.1h0m0 .7h0m.2 .6h0m2.2-2.1h0m0 1.6h0m.6 .7h0m1-1.7h0m.6 0h0m.6 1h0m.7-.5h0m.2-.4h0m.6-.5h0m0 .6h0m.4-.2h0m.8 .6h0m1.2 0h0m1.5 .5h0m.8-1.9h0m1.3-.1h0m.2 .1h0m.7 .9h0m.1-.4h0m.1 1.7h0m1.9-.8h0m.5-1.5h0m.3 0h0m.3 2.9h0m.1-1h0m.1 .8h0m.1-2.2h0m.2 .7h0m.2-.1h0m.1 1.7h0m.3-1.6h0m.1 .7h0m.3-.1h0m.3-1.3h0m.5 .9h0m.4-1.4h0m.8 2.3h0m.1-1.7h0m.2 .2h0m.8 0h0m.9-.7h0m.5 1.9h0m.1-1.4h0m1-.2h0m0 1.8h0m1.4-1.8h0m.2 1h0m1.8-.3h0m1.1 .1h0m1.4-.6h0m.1 1.2h0m.8-.2h0m1.2-.2h0m1.4 1.3h0m.6-.8h0m.2-.2h0m0 0h0m3.6-1.4h0m.4 .6h0m.8-.8h0m.9 1.3h0m3.9-1.1h0m-3.6 3.2h0m-2.1 1.6h0m-3.7 .4h0m-.7-.6h0m-.4-.9h0m-1.1-1h0m-2.9 .8h0m-.6 .8h0m-1-1.4h0m-.1 2.5h0m-.3-1.2h0m-.6-1.2h0m-1.1 .8h0m-1.7-.3h0m-1.2 1h0m-.7-.5h0m-.2 1.4h0m0-1.3h0m-.1-.5h0m-.7-.8h0m-.7 1.2h0m-2.4 .5h0m-.9-.1h0m-.1 .7h0m-.1-.5h0m-.2-.4h0m-1-.3h0m-.4 .3h0m-.3 1h0m0-.3h0m0-.9h0m-2.5-.6h0m-1 .5h0m-.2 1.2h0m0-1h0m-.1 .5h0m-.1-1.9h0m-2.5 1.9h0m-.7-1.7h0m-1.1 .7h0m-1.7 1.3h0m-.9-.4h0m-4.6-.6h0m-.6 1.4h0m-3 1.2h0m5.1-.8h0m1.5 1h0m.5 .3h0m2.6 .5h0m4.4-1.4h0m.7 1.8h0m0 .2h0m.7-1.9h0m1.1 2.3h0m.2-1.9h0m.1 .6h0m1-.9h0m.4 .9h0m.4 .7h0m.5 .3h0m.2-.1h0m.2-.3h0m3.3-.3h0m.5-1.8h0m.6 2.2h0m.1-.2h0m.5 .3h0m.6-1.2h0m.8 .8h0m1.2-1.9h0m.6 1.5h0m1-.1h0m2.2-.9h0m.2 .1h0m8.5 1h0m-13.8 2.4h0m-3.6 .4h0m-1.2-.1h0m-2.4-.9h0m-2.9-.1h0m-2.1 1.6h0m-9.4-.1h0m-5.2-1.1h0m1.1 2.7h0m8.9 1.9h0m1.9-1.7h0m5.9 .1h0m.3-.7h0m1.1 1.5h0m4.9 .9h0m.4-.3h0m5-.4h0m-9.9 4h0m-3.7-1.9h0m-3.6 1.2h0m-.4 .7h0m-3.6-.1h0m-10.4 3.1h0m2.1-1.5h0m1.5-.8h0m11.8 .2h0m5.1 3.9h0" stroke="#efb596" stroke-width="0.55" stroke-linecap="round" fill="none"/><path d="M110.7 463.7h0m1.8 .1h0m1 2.2h0m-.3 .2h0m-.4 1.6h0m-.1-2.4h0m-.1 1.7h0m-1.2-.8h0m-.2 1.1h0m-.6-.9h0m-.1 1.2h0m-.2-.9h0m-.5-.7h0m-.4-.6h0m-.1 .9h0m-.1-1h0m-.7 1.6h0m-.5-.3h0m-3.1-.9h0m1.9 4.9h0m1.1-2.2h0m1.5 1.5h0m.1-1.1h0m.8 .6h0m.2-.2h0m0 1h0m.4-.4h0m.4-1.2h0m.3 1.9h0m.1-.4h0m.2-.6h0m.4-.9h0m.1-.2h0m.7 1.2h0m.6-.4h0m0 .2h0m.2 .5h0m-.4 2.7h0m-2-1.6h0m-1.8 .3h0" stroke="#6cc070" stroke-width="0.8" stroke-linecap="round" fill="none"/><path d="M150.0 396.0C152.5 395.5 155.5 397.0 158.0 399.0C160.5 401.0 163.3 404.5 165.0 408.0C166.7 411.5 168.0 416.0 168.0 420.0C168.0 424.0 167.0 428.7 165.0 432.0C163.0 435.3 159.2 438.7 156.0 440.0C152.8 441.3 149.2 441.0 146.0 440.0C142.8 439.0 139.3 436.5 137.0 434.0C134.7 431.5 132.2 428.5 132.0 425.0C131.8 421.5 134.2 416.8 136.0 413.0C137.8 409.2 140.7 404.8 143.0 402.0C145.3 399.2 147.5 396.5 150.0 396.0Z" fill="#c44db2" filter="url(#bl1)"/><path d="M132 391.2h0m1.4 1.4h0m6.9-1.3h0m3.5 4.2h0m-.4-1.3h0m-13.9 .4h0m1.3 1.4h0m5 1.2h0m4 .1h0m4.2-.4h0m4.2 2h0m.1-.6h0m.1-.6h0m.4 .7h0m.3-.1h0m.2-1.1h0m0 .8h0m.5 0h0m.6-1.4h0m.4 1.2h0m.7-.5h0m.3 1.3h0m.1-1.3h0m.5-.2h0m.3 .8h0m.6 1h0m.5-.5h0m.2-.6h0m.7 0h0m.8 .6h0m0 .4h0m.7-.2h0m1-.3h0m2.4 2.9h0m-.1 .3h0m-.5-.1h0m-.7 0h0m-.5-1.7h0m-.6 .9h0m-.1 .3h0m-.1 .5h0m-.3 .2h0m0-2.1h0m-.2 2.1h0m-.2-.8h0m-.4 1h0m-.2-.6h0m0-2.2h0m-.4 1.7h0m-.1 .8h0m0-1.6h0m-.5 2h0m-.1-.9h0m-.2 .3h0m0-1.1h0m-.2 0h0m-.1 .3h0m0-.7h0m-.3-.6h0m-.2 .7h0m0-.4h0m-.4-.2h0m-.2 2.2h0m-.4-.9h0m0-.8h0m-.7 .3h0m-.1 .8h0m-.3-.6h0m-.5 .2h0m-.9 .8h0m-.3-.4h0m-.2-.3h0m-1.1 .8h0m0-.2h0m-.2 .6h0m-.2-.4h0m-.1-.3h0m-.2 .5h0m-.1-.4h0m-.3-1.6h0m-.1 .7h0m-.7 .3h0m-.1-.6h0m0-.9h0m-.1 .2h0m-.1 1.3h0m0-.7h0m-.3 1.5h0m-.9-.8h0m-.7 .3h0m-.5 .6h0m-.1 .3h0m-5.3 .1h0m-2.3-2.3h0m-1.5-.6h0m-4.2 4.7h0m5.3-.6h0m2.1 1.2h0m3.5 .6h0m.1-.4h0m.5-.1h0m.1-.4h0m.5-.3h0m.2-.4h0m.1 .3h0m.3-1h0m0 1.3h0m.5-1.9h0m.3 1.8h0m.1-.1h0m.1 .8h0m.3-.5h0m0 .1h0m.1-.9h0m.2 1.3h0m.6-.2h0m.1-1.6h0m.1 1.2h0m0 1h0m.1-1.4h0m.2-1.2h0m.1 2h0m.3 .5h0m.7-.2h0m.2-2.3h0m.2 .7h0m.5-.3h0m0 .4h0m.1 .7h0m.1-.7h0m.3 .2h0m.2 0h0m.3-1.1h0m1 .7h0m.9-.8h0m0 1.8h0m.1-1.8h0m.1 2.8h0m.1-2.1h0m.1 .9h0m0 .9h0m.1-1.9h0m0 1h0m.5-1.2h0m.7 .1h0m.1 .1h0m.2 .9h0m.1 1.2h0m.2-2.4h0m0 .3h0m.1-.3h0m.2 0h0m.6 .5h0m0 1.7h0m.5-1.8h0m.1-.5h0m.1 0h0m0 1.6h0m.1 .1h0m.2-.9h0m.6-.2h0m.5-.6h0m0 1.8h0m.1-.6h0m.2-1.4h0m.1 1.7h0m0 .9h0m.1-2h0m.1 .5h0m.2 1.7h0m.1-2.6h0m.1 2.2h0m.1-2.2h0m.1 2h0m.1 .1h0m.3-2.4h0m.2 2.2h0m.4-1.2h0m.8 .3h0m.5-1h0m0 1.9h0m.3-.6h0m0 1.2h0m.1-1.5h0m.4 .6h0m.1-.8h0m0 1.1h0m.3-1.3h0m5.3 4.4h0m-2.2 .5h0m-.2-.9h0m-.3 .8h0m-.2-2h0m-.1 .4h0m-.3 .5h0m-.5-1.3h0m-.1 2h0m0-1.8h0m-.1 1.3h0m-.3-1h0m-.4 .9h0m-.2 .6h0m-.1-.4h0m-.1 1h0m-.1-1.5h0m-.3 1.3h0m-.5-.6h0m-.3 .1h0m-.2-1.5h0m0-.4h0m-.1-.1h0m-.2 2.5h0m-.1 .1h0m-.1-.9h0m-.2 .4h0m-.1-1.6h0m0-.2h0m-.2 0h0m-.3 1h0m-.1 1.1h0m-.3-.7h0m0-.7h0m-.2 .4h0m-.5-.3h0m-.1 1h0m0-1.9h0m-.4 .7h0m-.1 1.4h0m-.2-2.5h0m-.4 .2h0m-.3 2h0m-.3-1.1h0m-.2 1.4h0m0-.5h0m-.6-.5h0m-.3-.7h0m-.2-.1h0m-.6-.7h0m-.2 .9h0m-.1 1.7h0m-.1-1.4h0m-.4 1.3h0m-.6-.8h0m0-1.5h0m-.3 1.4h0m-.4-1.5h0m-.5-.1h0m-.1 1.8h0m-.4-.1h0m-.2 .2h0m-.2-.8h0m0-.5h0m-.2 1.4h0m0-2h0m-.1 2.1h0m-.2 .6h0m-.2-1.3h0m-.1 .7h0m-.1 .3h0m0-1.8h0m-.4 1.1h0m-.2-.3h0m-.4 1.2h0m0-.1h0m-.2 .2h0m-.1-1.8h0m-.3 1.9h0m0-.4h0m-.7-1.4h0m-.2-.6h0m-.3 1.7h0m0-1.2h0m0-.8h0m-.3 .6h0m-.3-.4h0m-.2 .3h0m-.4 .2h0m-.3 1.6h0m-.3-1.8h0m-.1 1.2h0m0-.5h0m-.1-.1h0m-.1-1.1h0m-.3 1.1h0m-.2-.4h0m0-.4h0m0 0h0m-.1 .9h0m-.3-1h0m-.4 1.1h0m-.3 1.5h0m-.1-.7h0m-.1-1.3h0m-.1 1.4h0m-.1-.4h0m-.4 .1h0m-.1-1.8h0m0-.2h0m-.2 2.1h0m-.2-1.6h0m-.1 1.9h0m0-1.8h0m-.5 1.9h0m-.1-.1h0m-.3 .1h0m-.1 .3h0m-7.9-2.6h0m5.7 5h0m.8 .1h0m.3-1.5h0m.1 .4h0m.2 .1h0m.2 .7h0m.1-1.4h0m.1 1.2h0m.3-.4h0m.1-1.1h0m0 1.2h0m.3 1.3h0m.2-.4h0m.2-1.7h0m.6 1.3h0m.1-1.5h0m0 .2h0m.4-.2h0m.1-.5h0m0 2.9h0m.1-1.8h0m.1 .5h0m.6-1h0m.3 1.3h0m.1 .6h0m.4-.1h0m.1-2.3h0m.1 .5h0m.4 .3h0m.2 1.6h0m.1-1.8h0m.1 2.2h0m.2-1.8h0m.1 1h0m.9-1.7h0m0 .1h0m.4 .2h0m.1 .5h0m.2-.5h0m.2-.7h0m.2 2.8h0m.3-2.6h0m0 1.3h0m0 .6h0m0 .5h0m.5-.8h0m.1-1.5h0m0 .9h0m0 .1h0m.3-.6h0m.1-.3h0m.6-.4h0m0 1.7h0m.2-1.6h0m0 .3h0m0 1.5h0m.2-1.7h0m.3 1.9h0m.3-2.1h0m.1 1.5h0m0 0h0m.1-.2h0m.4 1.5h0m.6-.9h0m.1 .2h0m.1-1.4h0m0 1.8h0m.2-.9h0m.1 .6h0m.1-1.6h0m.2 2.3h0m.1-2.8h0m0 .2h0m.1 0h0m.4 .7h0m.1-.7h0m.3 .2h0m.1-.2h0m.4 .8h0m.1-.3h0m.1 .5h0m.9-.4h0m0 .4h0m.2 .9h0m1.4 .6h0m.1-1.7h0m.3 1.2h0m.1-1.2h0m.2-.3h0m.4 0h0m.1 1.9h0m.2-2.5h0m0 .7h0m.1-.1h0m.3-.3h0m.2-.1h0m0 1h0m.3-1.1h0m0 .7h0m.5-.7h0m.1 1.6h0m.5-1.4h0m.6 .7h0m.1 .2h0m0 .6h0m.1-1.5h0m.6 .2h0m.3-.4h0m0 .9h0m0 1h0m.1-.8h0m.1-.7h0m0 1h0m.1-1.6h0m.3 2.5h0m.1-.3h0m.2-2.2h0m0 .9h0m0 .5h0m.1-.9h0m.1 .2h0m.3 .9h0m.2 .9h0m.1-.2h0m.3-.7h0m.1 0h0m.5-.1h0m.1 .8h0m.2-1.1h0m.1-1.2h0m.2 1.4h0m.1 1h0m.4-1.5h0m0 1.8h0m.2-2h0m.1 .1h0m6.1 3.2h0m-5.8 .7h0m0-1h0m-.3 .4h0m-.1 .5h0m-.3 1h0m-.1-.9h0m-.2 .5h0m-.2-.1h0m0-.1h0m-.1 .4h0m-.2 .2h0m-.4-1.8h0m-.2 1.9h0m-.4-2.6h0m-.5 2.3h0m-.2-2.3h0m-.2-.2h0m-.3 1.8h0m-.2 .1h0m-.1-1.9h0m-.4 1.6h0m-.2-.4h0m-.2-.8h0m-.5 2.1h0m0-2.3h0m-.3 1.7h0m-.2 .2h0m-.1-1.8h0m-.4 1.4h0m-.1 .3h0m0-1.9h0m-.1 .5h0m-.2-.1h0m-.5 2.1h0m-.1 .2h0m-.1 .1h0m-.2-1.7h0m-.4 .6h0m-.2 .7h0m-.2-.6h0m-.1-1.3h0m0-.2h0m-.6 .4h0m-.3 1.3h0m-.2-1.7h0m-.2 2.3h0m-.2-2.5h0m-.3 1.6h0m-.3-.1h0m0-1.5h0m-.7 1.9h0m0-1.5h0m-.8 2.1h0m-.2-1.2h0m-.1 .5h0m0-1.3h0m-.1 .4h0m-.4 .7h0m-.3-1.3h0m-.2 1.8h0m0-1.1h0m-.1 1.3h0m0-1.3h0m-.3 1.6h0m-.2-1.7h0m0-.7h0m-.2 .5h0m-.3-.6h0m-.2 .3h0m-.5 .7h0m-.1 1.3h0m-.8-.6h0m-.3 .6h0m-.5-.1h0m-.5-1.9h0m-.1 1.6h0m-.1-.9h0m-.1 .8h0m0-1.2h0m-.2 1h0m-.3-1.8h0m-.1 1.6h0m-.1 1.1h0m0-.2h0m-.3-1.7h0m-.2-.7h0m-.3 1h0m0-.5h0m-.3-.7h0m-.3 2.8h0m0-2.6h0m-.4 1.7h0m-.1 .9h0m-.1-2h0m-.1 1.6h0m-.2-1.5h0m-.1-.7h0m-.4 1.7h0m-.2-1.8h0m-.1 1.8h0m-.1-1.8h0m-1.2 .6h0m0-.7h0m-.4 2.5h0m-.2-1.1h0m0-1.3h0m-.5 1.1h0m-.1 .3h0m-.2-.1h0m-.3 .2h0m0-.3h0m0-.6h0m-.1 1.3h0m-.1-1.7h0m-.4 1.9h0m0-1.7h0m-.1 1h0m0-.3h0m-.2-.7h0m-.4 1.4h0m-.1-1.7h0m-.1 1.9h0m0-.7h0m-.2 .6h0m-.1-1.6h0m-.7 .2h0m0-.3h0m-.2 1h0m0-.9h0m-.2 1.5h0m-.2-.1h0m-.8 0h0m-.1-.2h0m-.1-.9h0m0-.1h0m-.3 .8h0m-.4 .6h0m-3-1.3h0m-4.8 1.7h0m6.9 1.8h0m.2-.7h0m.1 1h0m.1 .3h0m.2-1.4h0m.3 2.2h0m.7-2.6h0m.1 0h0m.3 1.3h0m.1-1.1h0m.1 2.5h0m.3-.4h0m.1-1.7h0m.1-.2h0m.1-.4h0m.1 1.1h0m0 1.6h0m.2-2.4h0m0 .9h0m0 .7h0m.1-.5h0m.2-1.2h0m.5 .7h0m.2-.6h0m.3 2.1h0m.2-2h0m.1 2.3h0m.5-1.3h0m.3-.5h0m.1-.6h0m.4 .7h0m.1 1.2h0m.5-.6h0m.7-.6h0m.2 1.8h0m.2-1.8h0m.1 .4h0m.1 1.2h0m.6-2.1h0m0 2h0m.5-1.8h0m.8 .3h0m.3 .2h0m.1 .5h0m.2-.8h0m.5-.2h0m.2 .1h0m0 2h0m.1-.1h0m.1-1.5h0m0 1.7h0m.1-2.8h0m0 2.8h0m.1-1.8h0m.4-1.1h0m0 1.3h0m.1 0h0m.5-1.2h0m.1 1.6h0m.6-1.2h0m.1 .8h0m0 1.3h0m.2-2.5h0m.2 .9h0m.2 1.6h0m.1 .2h0m.2-1.8h0m.1 1h0m0 .3h0m.3-.9h0m.3-.6h0m0 1.1h0m.4-1.5h0m0 .4h0m0 .8h0m.3-1.5h0m.1 1.1h0m.2 .6h0m.1 .5h0m.1-.6h0m.2 .9h0m.1-.7h0m.2-.9h0m1.2 1.7h0m.2-2h0m.6 .4h0m.2 1h0m.1-.3h0m.2-1.3h0m.1-.2h0m.1 .8h0m.1-.7h0m.2 0h0m.1 .1h0m.1 1.3h0m0 1.1h0m.2-2.5h0m1.1 1.6h0m.1-1.1h0m0 1.8h0m.2-.8h0m.2 .1h0m0 .4h0m.1 .5h0m.4-1.3h0m0 .8h0m.1-1.4h0m0 .9h0m.5 .1h0m.3-.1h0m.4-.7h0m.2 1.7h0m.7-2.7h0m0 2.7h0m.1-1.8h0m0 .5h0m.1 .5h0m.3 0h0m.8-.5h0m0 .3h0m.7-.6h0m0 .6h0m.1-1.5h0m.8 1.4h0m.2 .4h0m.1-1.7h0m.1 1.2h0m0 .6h0m.3-1.2h0m.1 .6h0m.1-1.2h0m.3 1.3h0m.2 .7h0m.9-1.8h0m.1 2h0m.1-2h0m.3-.2h0m.2 .3h0m.1 .3h0m.1 0h0m.1-.3h0m0 1h0m.1-.1h0m.2-1.3h0m0 2.5h0m.2-2.1h0m.5 1.2h0m0 .6h0m1.2-2.2h0m6 1.6h0m.4 3.3h0m-3.7-1.8h0m-2.8 2.2h0m-.4-.2h0m-.3-1h0m-.1 .8h0m-.3-1.1h0m0-1h0m-.9 2.4h0m-.1-.1h0m-.4-2.1h0m-.3 2.3h0m-.1-2.6h0m-.1 1.2h0m-.3 1h0m-.6-2.1h0m-.1 .7h0m-.3-.3h0m-.1 1.2h0m-.5 .1h0m-.2-1.8h0m-.1 .7h0m0-.1h0m0-.3h0m-.1 1.8h0m-.1 .1h0m-.3-2.1h0m-.5 2.7h0m0-.2h0m-.1-1h0m-.2-1.2h0m-.2 2.3h0m-.3-1.2h0m-.1-.2h0m0-1h0m-.1 0h0m-.7 1.2h0m-.1 .5h0m0-.5h0m-.1-1.5h0m0-.1h0m-.1 2h0m-.4-1h0m-.4 .4h0m-.1 1.1h0m-.1-.5h0m-.1 .8h0m-.9-.9h0m-.3-.4h0m-.2 .9h0m-.3-.4h0m-.3-1.4h0m-.1-.5h0m-.4 2.7h0m0-1.4h0m0-.2h0m-.2 .4h0m-.2 1h0m-.2-1.4h0m-.3 1.5h0m-.2-.6h0m0-1.4h0m-.2 .2h0m-.1-.6h0m-.1 .2h0m-.8 1.2h0m-.4-1.6h0m-.2 1.2h0m-.5-.4h0m-.1 1.3h0m-.3-1.8h0m-.2 1.7h0m-.2-.3h0m-.1 .6h0m-.1-1.2h0m-.3 1.4h0m-.1-2.2h0m-.2 .5h0m-.4 1.1h0m-.3-1.8h0m-.2 .6h0m0 0h0m-.2 1.6h0m-.3-.1h0m-.2-.4h0m-.1-.4h0m0 0h0m-.9-.8h0m-.1-.4h0m-.3-.3h0m-.1 2.7h0m-.5-.3h0m-.2-2h0m-.1 .9h0m0-1.2h0m-.1 1.5h0m0-.3h0m-.4 1.3h0m-.1 .2h0m-.1-.4h0m0-.6h0m-.2-1h0m-.2 1.5h0m-.2 .6h0m-.8-2.2h0m-.3 1.5h0m0-.9h0m-.3-.6h0m0-.4h0m-.3 2.1h0m0-1.9h0m-.1 2.2h0m-1-.3h0m0-1.5h0m-.3 .1h0m-.2 1.3h0m0-.1h0m0-2.2h0m-.1 .7h0m-.6 1.3h0m-.1 .9h0m-.1-.7h0m-.5-1.1h0m-.2 1.3h0m0-1.9h0m-.1 1.8h0m-.2-1.1h0m-.1-.3h0m-.3-.6h0m-.1 1.1h0m-.1 1.3h0m-.6 0h0m0-.9h0m-.2 0h0m-.2-1.5h0m-.1 2.6h0m-.5-.7h0m-.2 .6h0m-.5-1h0m-.1 .3h0m0-.1h0m-.1 .1h0m0-1.2h0m-.1 1.8h0m0-2.3h0m-.8 1h0m-.2-.1h0m-.1 1.6h0m-.1-.4h0m0-1h0m-.1 .4h0m0-.9h0m-.1 .5h0m-.1-.8h0m-.3 .2h0m-.3-.7h0m-.2 2.1h0m-.4-1.4h0m-.3 .7h0m-1.2 3.5h0m.2-1h0m0 1.1h0m.2-.5h0m0 .3h0m.1-1.2h0m.1 2h0m.5-.5h0m.3-.5h0m.2 0h0m.6 1.1h0m.3-1h0m.1-1.2h0m0 1.3h0m.2-1.7h0m.1 .5h0m.3 1.8h0m.1-.3h0m.7-1h0m.3 1.4h0m0 0h0m.2-.1h0m.6-1.3h0m.1 .8h0m.1 .4h0m.2 .4h0m.3-1.3h0m.1-1.3h0m0 0h0m.1 .5h0m.6 .5h0m.1-1h0m.4-.1h0m.1 .2h0m.1 1.8h0m.5-1.4h0m.1 1.2h0m0 .6h0m.2-.4h0m.1-1.6h0m.2 2.1h0m.2-1.4h0m.3-.9h0m0 1.5h0m.3-.2h0m.1-1.3h0m.4 .1h0m0 .7h0m.2-1.2h0m.1 2.7h0m.2-2.1h0m.2 .8h0m.4-.3h0m.1 1.8h0m1.1-2h0m.1 .8h0m1 .6h0m.1-1.6h0m.1-.5h0m0 1.7h0m.3-1.9h0m.8 1.2h0m.3-.6h0m.3 .8h0m.1 1.1h0m.2 0h0m.1-2.3h0m.1 0h0m0 1.7h0m.1-.8h0m.1-.4h0m0 2.2h0m.2 0h0m.1-1.2h0m.2-.2h0m0 .5h0m.3-1.2h0m.4-.6h0m.1 1.2h0m.1 1.3h0m.2-2.2h0m.1 2.4h0m.6-2h0m0 1.1h0m.5 .2h0m.3-.6h0m.8 .3h0m0 0h0m.2-1.8h0m0 2h0m0 .1h0m.2-1.8h0m.2 2.3h0m0 .1h0m.3-.6h0m.5-.7h0m0 .1h0m0 .3h0m1.1 .8h0m.1-.2h0m.3-.2h0m.9-.7h0m.4-1.1h0m0 1.7h0m.3-1.2h0m.5 1h0m.1-1.1h0m.1-.8h0m.3 2.6h0m.2-1.6h0m.1-1.1h0m0 2h0m.1-1.8h0m.4 2.2h0m.2-1.4h0m.3 1.4h0m.2 .4h0m.5-1.6h0m.2 .6h0m.1-.2h0m.3-.1h0m.2-1.4h0m.2 .3h0m.2 .5h0m0 1.8h0m.1-1.4h0m.3-.8h0m0 .8h0m.1-.4h0m.3-.6h0m0 2.6h0m.6-.4h0m.1-2.2h0m.1 1.8h0m.2-.2h0m.2 .6h0m.2 0h0m.3 .4h0m.1-1.6h0m0 .1h0m.2 1.4h0m.2-1.5h0m.1 0h0m0 .6h0m0 .2h0m.8-.5h0m.4-1.4h0m0 .2h0m.2 .4h0m.1-.4h0m.1 2.2h0m.1-.6h0m.2-1.8h0m0 0h0m.2 .8h0m.2-.3h0m0 1.3h0m.2-.7h0m0 .5h0m0 .8h0m7.7-.3h0m-.4 1.3h0m-7.8-.5h0m-.3 1.7h0m-.1 .1h0m0-1.1h0m-.1 .8h0m-.6 .4h0m-.4-1.2h0m-.1 .5h0m-.1 .3h0m-1.1-1.1h0m-.2 .6h0m-.1 .9h0m-.4-.1h0m-.4-.8h0m-.1-.9h0m-.1 2h0m-.1 .3h0m0-.4h0m-.1-.5h0m-.2 .5h0m-.1-.5h0m-.4-1.3h0m-.2 2.2h0m0-.4h0m0-1.7h0m-.4 1h0m-.3 0h0m-.3-1.1h0m-.1 .5h0m-.1 1.5h0m-.2 .4h0m0-1.1h0m-1.1-1.3h0m-.2 2.3h0m0-2.4h0m-.2 .8h0m-.1 1.1h0m0-1h0m-.1 1.8h0m-.4-1.2h0m-.3-.3h0m0-1.1h0m-1.2 1.5h0m-.8 .5h0m-.2-.8h0m-.1-.2h0m-.3 1.5h0m-.1-1.2h0m-1 1.1h0m-.1-1.9h0m-.1 .3h0m-.1-1h0m-.1 2.6h0m-.1-2.1h0m-.2-.1h0m-1.2 1h0m0-.5h0m-1.4 .9h0m0-1.7h0m-.2 .6h0m-.1 1h0m0-1.2h0m-.4 0h0m-.3-.3h0m-.1 1.6h0m-.3 0h0m0-1.5h0m-.1 .8h0m-.2 1.2h0m-.1-2.4h0m-.1 1.4h0m-.1 .6h0m-.2 .9h0m-.2-1.6h0m0-.6h0m0-.2h0m-.6 .5h0m-.4 .6h0m-.8 .7h0m-.6-.6h0m-.2-.5h0m0-1.2h0m-.1 .7h0m0-.7h0m-.2 2.9h0m0-1.5h0m-.1-.8h0m-.1 .3h0m-.2 1.3h0m-.3 .1h0m0-.6h0m-.3-.3h0m-.3 .1h0m0-.3h0m0-.7h0m-.4 0h0m-.3 1.4h0m-.1-.8h0m-.2-.6h0m-.3 .1h0m-.2-.1h0m-.3 .1h0m-.7 1.5h0m-.4 0h0m0 0h0m0-1.1h0m-.3 1.1h0m0-.5h0m-.1 .4h0m-.2-1.7h0m-.2 1.4h0m0-1.7h0m-.1 2.8h0m-.2 .1h0m-.3-1.8h0m-.4 1.8h0m-.1-1.3h0m-.2-1.4h0m-.3-.1h0m-.1 2.7h0m-.2-.7h0m-.7 .3h0m0 0h0m0-1.9h0m-.2 1.6h0m-.1-2h0m-.6 .6h0m-.3 1.6h0m-.5 .6h0m-.1-.3h0m-.1-2.2h0m-.3 .7h0m-.3 .8h0m-.2-1.7h0m-.3 1.2h0m0-.3h0m-.1 .1h0m-.3-.6h0m-.2 .3h0m0 0h0m-.5 1.3h0m-.4 .7h0m-.2-.3h0m0-2.1h0m-.4 1.1h0m-.4 .3h0m-3.2 3h0m3.8-1.5h0m.2 .4h0m.3 .4h0m.1-.5h0m.7 .1h0m.1 .9h0m.1-1.2h0m.2 .8h0m0 .2h0m.2-.2h0m.2 .5h0m.1-.9h0m0 1.5h0m.3 0h0m.2 0h0m.1-.3h0m.1-.5h0m.3 1.1h0m.1-1.1h0m.1 .1h0m.4-1.1h0m.5 1h0m1 1.3h0m.5-1.1h0m.1 .8h0m.2-2.5h0m.4 .3h0m.1 .1h0m.2 2.3h0m.1-1.6h0m.3-.3h0m.6 .5h0m0 .1h0m.7 0h0m.1 1.4h0m.1-.8h0m.1-1.8h0m.2 1.8h0m.1-.4h0m.3-.5h0m0 .8h0m.9-1.4h0m0 2.2h0m.1-.3h0m.1-.5h0m.8-2h0m0 .4h0m0 .2h0m.1 .3h0m.2 1.5h0m.2-1.6h0m.4 1.8h0m.9-.6h0m.1-1.9h0m0 2.4h0m.2-.6h0m0 .9h0m.6-2.6h0m.1 .4h0m0 .4h0m.4 1h0m.3-1.4h0m0 1.4h0m.3-2h0m0 .5h0m.2 1.4h0m.1-1.7h0m.2 .6h0m.5 .1h0m0 .5h0m.6-1h0m.1 .8h0m.5 1.1h0m.7-2h0m0 1.5h0m0 .9h0m.1-2.7h0m0 2.7h0m.1-.1h0m.3-.8h0m0 .2h0m.1-1.4h0m0 1.3h0m.2-.9h0m.4-.2h0m0 1.1h0m.1-1.3h0m.1-.2h0m.1-.4h0m.2 1.9h0m.4 .4h0m.1-1h0m0 0h0m.1-.3h0m.2-.2h0m0 1.2h0m.2 .2h0m.1-1.9h0m.1 .8h0m0 1h0m.1-1.6h0m.6 1h0m.1-.5h0m0 .6h0m.1-.2h0m0 .8h0m.2-2.2h0m0 1.4h0m0 .9h0m.5-1.3h0m.2 1.3h0m.1-.2h0m.2-.1h0m.2-.2h0m.2 .3h0m.1-.2h0m.3-.2h0m.1-1.7h0m.1 .6h0m.2-.4h0m0 2h0m.3-.4h0m0 .6h0m.1-1.5h0m0 .7h0m0 1.2h0m.2-2.3h0m0 .1h0m.1-.5h0m.1 .4h0m.2 .4h0m.1 .7h0m.2 .4h0m.1-.4h0m.4 1h0m.1-1.7h0m.3 .4h0m.1-.3h0m.1-1h0m.3 2.2h0m.2-2h0m.4 .1h0m0 2.4h0m.2-2.5h0m1 2h0m.4-1.9h0m.1 1.5h0m.5-1.1h0m.1 1.2h0m.3-1.6h0m.1 .4h0m0 .9h0m.2 1.1h0m.1-1.1h0m.6-1.1h0m.1 .3h0m.2 2.1h0m.4-2.7h0m0 .1h0m.2 .2h0m.2 1h0m.2 .2h0m.1 .4h0m0 .8h0m.1-.7h0m.1-1.8h0m0 2.1h0m0 .1h0m.4-1h0m.2-1.4h0m.1-.1h0m5.2 4.8h0m-5.2-1.4h0m-1.3 .7h0m-.1-.8h0m-.2 .5h0m-.3 1.7h0m-.1-2.5h0m-.2 1.9h0m-.2 .8h0m-.1-1.8h0m-.6 .6h0m-.1 1h0m-.1-.8h0m-.1 .7h0m-.2 0h0m-.8-1.7h0m0-.4h0m-.3 2.4h0m0-1.6h0m-.3-.4h0m-.1 .1h0m0-.1h0m-.4 .2h0m-.3-.2h0m-.1-.3h0m-.2 2.4h0m0-.1h0m-.1-2h0m-.1 1.5h0m0-2.3h0m-.5 2.8h0m0-.4h0m-.5 0h0m-.4-1.2h0m0-.7h0m-.2 .5h0m-.5 .1h0m-.3 0h0m0-.5h0m-.1 .1h0m-.1-.4h0m-.8 1.4h0m0-1.4h0m-.1 2.6h0m0-1h0m-.4-.8h0m-.2 1.3h0m-.3-.9h0m-.1-.3h0m-.1 1.1h0m-.2-.8h0m-.8-.4h0m-.1-.5h0m-.7 .7h0m-.2-.2h0m0-.9h0m-.1 1.3h0m-.1 .8h0m0-1h0m-.1-.8h0m-.3 .8h0m-.3 1.3h0m-.3 0h0m0-1.9h0m-.8-.5h0m-.2 1.2h0m0-.2h0m0-.4h0m-.2 .9h0m-.1 .7h0m0-1.8h0m-.5 1h0m-.4 .7h0m-.2 0h0m-.1-2.2h0m-.4 .1h0m-.3 2.5h0m-.2-.2h0m-.3-1.8h0m-.1-.6h0m-.1 1.3h0m-.4-.6h0m-.2-.1h0m-.1 1.2h0m-.1 .3h0m-.6-.7h0m0-.7h0m-.7 .4h0m0 0h0m-.3 .3h0m-.1 .9h0m0 0h0m0-1.7h0m-.3 1.6h0m-.1-.6h0m-.1 .8h0m0-2.3h0m-.3-.1h0m-.4 .5h0m-.3 .8h0m-.4-1.4h0m-.1 .9h0m-.1 1.3h0m-.2 0h0m-.1 .3h0m-.2-.7h0m0-1.1h0m-.3 1.1h0m-.6 .5h0m-.5 0h0m-.2-1.1h0m0-.2h0m-.3 .6h0m-.5 1.1h0m-.3-2.1h0m-.2 2.1h0m-1.3-1.6h0m0-1.1h0m-.1 1.6h0m-.3-.3h0m-.1-.8h0m-.3 1.9h0m0-.2h0m0-2h0m-.3 2.4h0m0-1.6h0m-.1 .6h0m-.5 .3h0m-.2 .2h0m0-1.9h0m-.1 .6h0m-.1 .8h0m-.3-.8h0m-.2-.4h0m-.7 .6h0m-.8-1h0m-6.9 2.5h0m9.1 2.3h0m.1 0h0m0 .8h0m.9-1.9h0m0 1.7h0m.4-2.1h0m0 1.3h0m.1-1.1h0m0 1.2h0m0 .2h0m.3-1.3h0m.2 1.6h0m.1-1.3h0m.1 1.2h0m.1-.5h0m.2 1.1h0m.4-.3h0m.3-1h0m.2 .2h0m.8 .6h0m.1-2.2h0m0 1.1h0m.4 .5h0m.1-.9h0m.2-.4h0m0 2.2h0m.1-.3h0m.2-2h0m0 .1h0m.2 1.8h0m.4-1.7h0m0 .4h0m.1-.4h0m0 .6h0m0 1.8h0m.1-1.9h0m.1-.5h0m.1 1.7h0m.1-1.9h0m.6 .2h0m0 .5h0m.1 .3h0m0 1h0m.2-.2h0m.6-.3h0m.5-.5h0m.4 .3h0m.3 .5h0m.8-1.6h0m.1 .4h0m.3-.8h0m.3 2.1h0m0 .1h0m.1 .3h0m.2-.2h0m.2-1.7h0m.3 1.6h0m.1-1.1h0m.6 .4h0m.2-.9h0m.5 2.1h0m.2 .1h0m.1-2.7h0m.8 2.7h0m.3-.7h0m.2-1.1h0m.3 .7h0m.4-.9h0m1.4 1.9h0m.1-1.6h0m.1-1h0m.1 1.7h0m.1 .2h0m0 0h0m.5-.8h0m.3 .2h0m.2-1.3h0m0 .5h0m.1 1.8h0m.1-1.6h0m0 .8h0m.2 0h0m.1 .2h0m.7-.9h0m0 .8h0m.2-1.2h0m.1 1.2h0m.2 .8h0m.9-1.9h0m.1 2.3h0m.1-2.6h0m.1-.2h0m.1 1.6h0m.2-1.2h0m.1-.1h0m0 2.5h0m.1-1h0m.2 .4h0m.3-1.2h0m0 1.6h0m.2-2.4h0m.1 1.1h0m.4 .8h0m.1 .6h0m.1-.1h0m.1-1.8h0m0 1.3h0m.1-1.4h0m.1 .5h0m.3-.4h0m.4 2h0m.7-.4h0m.2-.9h0m1.4-1.3h0m.5 .8h0m.2-1.1h0m.9 .2h0m5.8 .1h0m-11.3 4h0m-.2 1h0m0-2h0m-.2-.3h0m-.3 2.3h0m-.2-.1h0m0-1.5h0m-.2 .1h0m-.1-.5h0m-.1-.1h0m-1.1 2.3h0m-.3-1.6h0m-.3 1h0m-.1 1h0m0-1.5h0m-.6 .7h0m-.1-2h0m-.2 2.4h0m-.8-.5h0m-.1 .3h0m-.2-.6h0m-.2-.3h0m-.1 1.2h0m0-.7h0m-.1-1.8h0m-.5 .6h0m0-.7h0m-.4 2.7h0m-.3-.2h0m-.3-.1h0m-.1-.1h0m-.3-2.2h0m-.1 1.8h0m-.2 .3h0m-.3-2.2h0m-.3 2.7h0m-.6-1.3h0m-.1-1.3h0m-.3 2.3h0m0-1h0m-.1 .7h0m-.1 .2h0m-.3-.2h0m-.1-2h0m-.5 .8h0m0-.7h0m-.2 1.4h0m-.4 0h0m-.1 0h0m0-1.5h0m-.5 2.3h0m-.1-1.7h0m-.1 .9h0m-.1-.9h0m-.2-.1h0m-.1 1.4h0m0-.5h0m-.4 1h0m-.1-1.6h0m-.1 1.3h0m0-.5h0m0-.2h0m-.2 .7h0m0-1.6h0m0-.3h0m-.1 0h0m-.4 1.3h0m0-1h0m-.1 1.2h0m0-.4h0m-.1 1.5h0m-.1-1.9h0m-.3-.3h0m-.2 2.1h0m-.3-.9h0m-.2-.9h0m-.4-.1h0m-.2-.6h0m-.2 1.2h0m-.3-.8h0m-.2 2.1h0m-.2-.2h0m-1.1-.8h0m-.5-1.4h0m-.5 .4h0m-1.3-.7h0m-.4 .2h0m-.2-.2h0m-10.5 1.3h0m16.6 1.6h0m.4 .3h0m0 .7h0m.5-.1h0m.2-.1h0m.8-.1h0m.4 .1h0m.3 .4h0m.9 .6h0m.5-.7h0m.2-.3h0m.8 .7h0m.2-.6h0m.1 0h0m.2 1h0m.1-.6h0m0 .4h0m.2-1.7h0m0 .2h0m.4 1.1h0m.2-.7h0m0 1.1h0m.5-1h0m.1 1.2h0m.2-1.8h0m.2 1.9h0m.1-1.8h0m.1 .7h0m.6 .9h0m.4-1.6h0m0 .1h0m0 .2h0m0 1.4h0m.6-.4h0m.9-1.1h0m0 1.4h0m.3 .1h0m.1-.9h0m.1-.8h0m0 1.4h0m.6 .1h0m.3-.2h0m1.2-1.1h0m-4.9 3.3h0m-11.6-.5h0m-1.3 1h0m-8.4-.4h0" stroke="#c24bb0" stroke-width="0.65" stroke-linecap="round" fill="none"/><ellipse cx="134" cy="425" rx="6" ry="8" fill="#d04870" filter="url(#bl2)" opacity="0.8"/><ellipse cx="126" cy="422" rx="7.5" ry="6.5" fill="#e2482a" filter="url(#bl4)"/><path d="M115.2 410.5h0m3.8-1.5h0m.7 1.6h0m1.8-.3h0m1.1-.4h0m1.6-.3h0m0 .7h0m.6 .6h0m.4-2.3h0m.1 1.7h0m1.7-.8h0m.4 .7h0m0 .4h0m2.1 .1h0m.5-1.2h0m1.8 .3h0m.4 .4h0m5 .9h0m-4.2 1.3h0m-.9 .4h0m-.1 .3h0m0-.7h0m-.4 0h0m-.1 .4h0m-1.8 .2h0m-.7 0h0m-.2-.4h0m-.3 1.3h0m-1-2h0m-.2 1.3h0m-.2-.4h0m-.1 1h0m-1.1-1.9h0m-.3 .9h0m-.6-.8h0m-.6 .4h0m-.2 .9h0m-.1-.9h0m-.5 .3h0m-.3-.6h0m-.7-.6h0m-1.1 1.4h0m-1.2-1.1h0m-.1 2.1h0m-.6-1.4h0m-2.1 .7h0m-.3-1.2h0m-1.1 2.3h0m.5 1.8h0m1-.8h0m.1 1h0m.3-1.7h0m1.2 1h0m1.1-1.4h0m.6 .4h0m.1 .8h0m.2 1.1h0m.3-1.5h0m.4 .1h0m.1 1.8h0m.1-.9h0m.1 .5h0m.3-.4h0m.1-1h0m.2 .4h0m.1 1.1h0m.1-1.3h0m.2-1.3h0m0 1.8h0m.6-.2h0m.2-1.5h0m0 .6h0m.1-.5h0m.1 1.1h0m.3 .3h0m.1-1h0m.1 1.1h0m.2 .2h0m.5 .6h0m.1-2.2h0m.2 1.3h0m.2 .2h0m.2-.9h0m.4 .9h0m0 .6h0m.2-1.9h0m.2 .1h0m.3 .9h0m0 .7h0m.1 .7h0m.2-1h0m.1-.1h0m0 1h0m.2-1.2h0m0 .8h0m.2-.3h0m.2-2.1h0m.2 2.7h0m.1-1.4h0m.5 1.3h0m.2-1.5h0m.2-.5h0m.1 .1h0m0 1.2h0m.3 .6h0m.2-.3h0m.1-.1h0m.2-.1h0m.3-.5h0m.5-.3h0m.3 .7h0m0 .9h0m.1-.3h0m0 .1h0m.1 .3h0m.1-.6h0m.7 .3h0m.8 .2h0m.7-.2h0m.4 .1h0m.3-.4h0m.3-.1h0m2.8 .5h0m1.1 2.5h0m-1.3-1.3h0m-.4 1h0m-.6-.3h0m-.3-.8h0m-.5 2h0m0-.3h0m0-1.5h0m-.2 .4h0m-.6 .4h0m0-1h0m-.6 1.3h0m-.1 .4h0m-.1-2.5h0m-.7 2.9h0m-.6 0h0m0-1.9h0m-.1 1h0m-.1-1.1h0m-.4 1.5h0m0-1.5h0m-.1-.7h0m-.1 1.5h0m-.3 .7h0m-.2-1.6h0m-.2 1.9h0m-.2 .1h0m0-2.7h0m-.6 2.5h0m-.2-.5h0m-.2-.2h0m-.1 .6h0m-.4-1.5h0m-.1 1.3h0m-.1-1.1h0m-.1-.3h0m-.3 1.7h0m0-2.4h0m0 0h0m-.1 1.9h0m-.3-.1h0m0-.9h0m0-.4h0m-.1 2.1h0m0-1.2h0m-.3 .5h0m-.1-.8h0m0-.7h0m-.1 .2h0m-.1 .6h0m-.3 1.5h0m0-.6h0m-.1-.2h0m-.2-1h0m-.1 .7h0m0 0h0m0-.6h0m0-.6h0m-.2-.4h0m0-.1h0m-.2 2.1h0m-.2-1.3h0m-.1 1.8h0m0-1h0m-.1 .8h0m-.1 0h0m-.3-.6h0m0-.9h0m0-.1h0m-.2-.6h0m-.1 .9h0m0-1h0m-.1 2.5h0m0-1.8h0m-.1-.9h0m-.2 2.1h0m0-.2h0m0-1.6h0m-.2 1.2h0m0-.2h0m-.1-.2h0m-.1 .9h0m0-2h0m-.1 2.5h0m-.1-.6h0m-.1 .2h0m0-.1h0m0-.5h0m0-.6h0m-.1-.2h0m-.1 .5h0m-.1 1.4h0m-.2 .1h0m0-.5h0m0-.9h0m0-.1h0m-.1 1.5h0m-.2 .2h0m-.3-.3h0m-.1 .1h0m-.1-.3h0m-.4-1.6h0m-.3 2.1h0m0-.3h0m0-1.6h0m0-.2h0m-.1 1.7h0m0-.6h0m-.1-.8h0m-.1-.2h0m-.1 .4h0m-.3 .9h0m0-1.8h0m-.2 1.3h0m-.1 1.1h0m-.1-.9h0m-.2 .2h0m-.1 .3h0m0-.8h0m-.2-.3h0m0 0h0m-.1 1.1h0m-.1-1.2h0m-.1 .9h0m-.3-.2h0m0-.7h0m0-.1h0m0-.6h0m-.3 2.3h0m-.1-1.6h0m-.1 .5h0m0-.6h0m-.2 .5h0m-.3-.1h0m-.1 0h0m0-.1h0m-.1 0h0m-.4 .3h0m-.6 1.1h0m0-.4h0m-2.8-1.3h0m-.3-.1h0m-.5 1h0m-1.5 .1h0m-.9-.9h0m0 4.7h0m.1-.8h0m.7 .2h0m.6-2.3h0m.4 0h0m.3 2.1h0m1.6-1.5h0m.1 .9h0m.1 1.2h0m.5-2.5h0m.2 .5h0m.1 .8h0m.3 1.1h0m.1-2.5h0m.6 1.5h0m.5-.6h0m0 1.9h0m.1-.3h0m.6 0h0m.1-1.3h0m.2-.7h0m0 .1h0m.3-.7h0m.2 1.2h0m.2 .2h0m.1-.5h0m.1 1.3h0m0 .4h0m.2-1.6h0m0 1.1h0m0 .1h0m.1-1.8h0m.2-.2h0m0 1h0m.1-1h0m.1 .1h0m.1 .2h0m.2 1.9h0m.3-1.9h0m0 2.1h0m.1-.7h0m.2-1.8h0m.1 1.4h0m0 .1h0m.2 .3h0m.1-1.6h0m0 2.5h0m.1-.3h0m.1-2.2h0m0 2.6h0m.1-2.1h0m.1 1.5h0m0 .2h0m.1-1.3h0m0 .8h0m.1 .9h0m.1-2.8h0m0 1.7h0m0 .2h0m0 .3h0m0 .2h0m.1-.8h0m.2 .8h0m.2-1.6h0m0 .7h0m.2-1h0m0 .4h0m.2 .1h0m0 1.8h0m.1-2.7h0m0 1.1h0m.1 .7h0m.1-1.1h0m.2-.1h0m0 .7h0m0 0h0m.1-.8h0m0 1.6h0m.1-2.1h0m0 2.1h0m.1-.2h0m.1-1.8h0m.2 2.2h0m.1-1.7h0m0 1.5h0m.1-1.1h0m.1 1.1h0m.1-.4h0m.1-1.9h0m.1 .9h0m.5 1.7h0m.2-2.1h0m0 1.1h0m.1-1.6h0m0 1.2h0m0 1h0m.1-2.1h0m0 1.3h0m0 .4h0m0 .1h0m.1-.9h0m.1-.9h0m0 0h0m.1 2.8h0m.1-2h0m0 .8h0m.1-.7h0m0 .3h0m.1-.9h0m0 .5h0m0 .5h0m.2-.2h0m0 .8h0m.2-1.5h0m.1 2.1h0m0 .3h0m0 0h0m.2-2.3h0m0 .4h0m.1 1h0m.1 .7h0m.2-1.6h0m0 .5h0m0 .4h0m0 .1h0m0 .6h0m.1-2h0m0 1h0m.1-1.7h0m0 2.1h0m0 .5h0m.1-.2h0m.1-.7h0m0 1.1h0m.2-2.1h0m0 2.1h0m.1-2.6h0m0 .3h0m0 1.2h0m.1 .5h0m.2-1.4h0m0 .3h0m.2-.7h0m.1 2.1h0m.2-.4h0m.1-.5h0m0 .3h0m.4 .3h0m.1-.1h0m0 .1h0m0 0h0m.1 .3h0m.2-1.8h0m0 .4h0m0 .9h0m.1-1.8h0m0 .1h0m.2 2.5h0m0 .1h0m.1-.7h0m0 .2h0m.1-2.4h0m0 .5h0m.1 1h0m.1-.9h0m.1 .8h0m0 1h0m0 .2h0m.4-2.1h0m0 1h0m.1 1.3h0m.2-1.8h0m0 1.5h0m.2-1.9h0m0 .6h0m.1-1.1h0m0 1.2h0m.2-1h0m.1 1.8h0m.4-.7h0m.1 .5h0m.5-.5h0m0 .6h0m.1-1h0m0 1.3h0m.1-1.8h0m0 .2h0m.2 1.2h0m0 .9h0m1.1-1.3h0m.4-1.3h0m.2 .3h0m.9-.2h0m.8 2.2h0m.2-1h0m.7-1h0m.8 1.1h0m.4 .8h0m1-2h0m1.3 .2h0m-1.3 3.2h0m-2.2 1.2h0m-2.7-.2h0m-.3 .2h0m-.1-1.5h0m-.4 1.3h0m-.3-1h0m-.1 .8h0m-.7-.4h0m-.2 .1h0m-.3 .2h0m-.1 .4h0m-.2-1h0m-.3 0h0m-.1 .1h0m0-.4h0m-.3 1.8h0m0-1.7h0m-.2-.2h0m-.1 .9h0m-.1 .9h0m-.2-.4h0m-.1 .1h0m-.1 .5h0m-.4-2.2h0m-.1 2.3h0m0-.5h0m-.1-.3h0m-.1 1.1h0m0-1.4h0m-.1 .1h0m-.2-1.6h0m-.1 2.6h0m-.4 .1h0m-.2-2.6h0m-.1 .9h0m0-.6h0m0-.2h0m-.2 2.1h0m0-1.4h0m-.1 1h0m-.1-.5h0m-.1-.1h0m0-.5h0m-.1 .6h0m0-.2h0m0-.8h0m-.1 .6h0m-.2-.7h0m-.1 2.6h0m-.2-.6h0m-.3-.5h0m0-1h0m-.1-.8h0m-.1 2.4h0m-.1-.3h0m-.1-1.1h0m-.2 1.8h0m0-2.2h0m-.1 .4h0m0-1h0m-.1 2.6h0m0-1h0m0-1.6h0m-.1 1.5h0m-.1-.6h0m-.2 .8h0m0-.1h0m0-.1h0m-.2-.6h0m-.1 0h0m-.1 2h0m0-2.8h0m-.1 .1h0m-.3 .8h0m0-.7h0m-.3 2h0m0-.9h0m0-.4h0m0-.6h0m-.2 1h0m-.3-.8h0m-.2 0h0m-.1-.3h0m-.2 1.5h0m-.1 .2h0m-.5-.8h0m-.1 .7h0m0-.5h0m0-.2h0m0-.2h0m-.2 1.6h0m0-.3h0m0-.3h0m-.1 .1h0m0-1.6h0m0-.3h0m-.2 1.8h0m-.1 .1h0m0-.5h0m-.1-.4h0m-.4 1h0m0-.5h0m0-1h0m-.3-.5h0m-.1 2.3h0m-.4-1.4h0m-.2 .8h0m0-1h0m-.2 1.9h0m-.1-1.8h0m-.3 1.2h0m-.1-.6h0m0-1h0m-.2-.1h0m-.1 1.4h0m-.4-.9h0m-.1 .3h0m0-.2h0m-.3 0h0m-.2 1.7h0m0-.3h0m0-2.5h0m-.2 1.8h0m0-1.4h0m-.3 .7h0m-.2-.4h0m-.2 1.9h0m0-1.1h0m-.5 1.4h0m0-.5h0m-.1 0h0m0-.1h0m0-1.6h0m-.2 2.2h0m-.2-2.5h0m-.6 2.2h0m-.1-1.7h0m-.2 1.1h0m-.3 .6h0m-.1-.9h0m-1.1 .6h0m-3.6 .6h0m.9 .7h0m2.1-.6h0m.1 .1h0m.6 2.5h0m.3-2.6h0m.2 .6h0m.5 .6h0m0 1.1h0m.6-1.4h0m1.1 0h0m.5 .3h0m.2 .9h0m.1-1.6h0m.2 1.2h0m.5 .6h0m.2-.4h0m.1-.1h0m.1 .1h0m.1-1.1h0m.3-.4h0m0 .4h0m0 0h0m.1 1.6h0m0 .4h0m.3-.5h0m.2-2.2h0m.2-.1h0m.2 1.1h0m.3-.2h0m0 .1h0m.1 .6h0m.1-.7h0m.1-.1h0m.1 .9h0m.3 .2h0m.1 .7h0m.3-2.4h0m0 1.6h0m.3-.4h0m.3 .3h0m.1-.3h0m.3 .8h0m.1-1.8h0m.3 1.7h0m0 .5h0m.1-2.5h0m.1 .1h0m.1 0h0m0 1.3h0m0 .2h0m.1-.1h0m.3-1.3h0m.1 .7h0m0 1.7h0m.1-1.9h0m0 .3h0m.1 .1h0m0 0h0m.2 0h0m0 .1h0m0 1.6h0m.2-.2h0m.1-1.4h0m0 0h0m0 .8h0m.1-1.2h0m0 1.7h0m0 .1h0m.1-1.3h0m.2-.6h0m.3 .1h0m0 1.4h0m.6-.9h0m.4-.1h0m.2-1.1h0m0 0h0m.1 1.6h0m.2-.3h0m.2-.4h0m.1-.2h0m0 .6h0m0 .3h0m.2-1.4h0m.2 .9h0m.4 .5h0m.4-1.7h0m0 .2h0m.3-.3h0m0 0h0m.2 .4h0m.2-.4h0m0 .7h0m0 .6h0m.5 .9h0m.3-1.7h0m0 1.2h0m.1-.4h0m0 .4h0m.4-.3h0m.1 .5h0m.1-.9h0m.1 .4h0m.2-1.4h0m.8 .7h0m0 .6h0m.1-.8h0m0 1.8h0m.2-1.1h0m.1 1.4h0m.4-2.5h0m.2 .7h0m0 .4h0m.4-.8h0m.2 .8h0m1 .4h0m1.5 1.4h0m-.6 .5h0m-2.9 0h0m-.3 1.5h0m-.4-.9h0m-.3 .4h0m-.2-1h0m-.6 2.3h0m-.1-.6h0m-.6-1.2h0m-.2-.3h0m-.2 .2h0m-.1 1.4h0m-2.2-1.6h0m-.3 1.6h0m-.1-.3h0m0-.4h0m-.2-1.5h0m-.2 1.9h0m0-1h0m-.2-.1h0m-.1 1.4h0m0-.9h0m-.3-1h0m-.5-.3h0m-.2 0h0m-.2 1.7h0m-.8-.8h0m-.1 .5h0m-.4 1h0m-.2-1.8h0m-.1-.2h0m-.5 2.4h0m-.3-1.5h0m-.5 .3h0m-.2-1.5h0m-.2 .2h0m-.1 1.2h0m-.2-1h0m-.5 .6h0m-.3 1.3h0m-.6-1.5h0m-.1-.9h0m-1.8 1.3h0m-1-1.3h0m-.3 .2h0m-.3 .5h0m-2.3-.7h0m-1.4 2.5h0m-.3-2.3h0m2.2 5.2h0m2.3-.5h0m.2-.3h0m1-1.6h0m1.2 0h0m1.9 .2h0m.7 1.7h0m.7-.4h0m.2-1.5h0m.4 .7h0m1 1.6h0m.4-1.7h0m.8 1.2h0m.1-.7h0m1.4 .5h0m1.8-.6h0m.7-.9h0m1.2 .9h0m3.2 1.2h0m-6.6 3.1h0m-.7-.4h0m-.9-.4h0m-3.8-.8h0m-4.9-.3h0" stroke="#e0452a" stroke-width="0.6" stroke-linecap="round" fill="none"/><path d="M82.0 361.4C79.9 361.4 76.4 363.1 74.6 366.0C72.8 368.9 73.4 375.1 70.9 379.1C68.4 383.2 63.1 386.9 59.7 390.3C56.3 393.7 52.9 395.9 50.4 399.6C47.9 403.3 46.0 409.0 44.8 412.7C43.5 416.4 43.1 418.6 42.9 422.0C42.6 425.4 42.7 428.3 43.3 433.0C43.9 437.7 46.6 446.0 46.6 450.3C46.6 454.6 45.6 455.0 43.3 459.0C40.9 463.0 35.0 468.7 32.5 474.1C30.0 479.5 28.6 485.4 28.2 491.5C27.8 497.6 27.8 505.9 30.3 511.0C32.8 516.0 38.2 520.7 43.3 521.8C48.3 522.9 53.4 520.4 60.6 517.5C67.8 514.6 78.6 508.8 86.6 504.5C94.5 500.2 104.6 496.2 108.3 491.5C112.0 486.8 109.2 481.0 108.7 476.3C108.2 471.6 106.7 468.3 105.4 463.3C104.1 458.3 103.6 450.6 101.1 446.4C98.6 442.1 92.3 442.2 90.3 437.8C88.3 433.4 89.6 428.0 89.2 420.0C88.8 412.0 88.1 399.0 87.8 390.0C87.5 381.0 88.2 370.8 87.2 366.0C86.2 361.2 84.1 361.4 82.0 361.4Z" fill="none" stroke="#4ab6df" stroke-width="1.05" stroke-dasharray="2.6 2"/><path d="M90.5 350.2C93.6 350.2 96.9 358.1 98.9 360.4C100.9 362.7 100.3 362.6 102.4 364.0C104.5 365.4 107.6 368.7 111.3 368.6C115.0 368.6 121.1 363.3 124.8 363.7C128.5 364.1 131.3 367.0 133.7 370.8C136.1 374.6 137.1 382.6 139.3 386.5C141.6 390.4 143.6 392.2 147.2 394.3C150.8 396.4 156.9 396.4 160.6 398.8C164.3 401.2 166.5 405.4 169.5 408.9C172.5 412.4 177.1 417.4 178.5 420.0C179.9 422.6 179.1 422.1 177.7 424.3C176.3 426.5 174.2 430.1 170.1 433.0C165.9 435.9 158.9 439.2 152.8 441.7C146.7 444.2 137.5 444.6 133.3 448.2C129.2 451.8 128.5 457.9 127.9 463.3C127.4 468.7 130.4 476.3 130.0 480.6C129.6 484.9 128.0 487.9 125.7 489.3C123.4 490.8 118.5 490.4 116.0 489.3C113.5 488.2 112.0 485.7 110.6 482.8C109.2 479.9 108.4 475.2 107.8 472.0C107.2 468.8 107.7 467.7 106.8 463.3C105.9 458.9 105.0 450.0 102.5 445.6C100.0 441.2 93.8 441.1 91.8 436.8C89.8 432.5 91.0 427.8 90.6 420.0C90.2 412.2 89.5 399.0 89.2 390.0C88.9 381.0 90.3 370.9 88.8 366.0C87.3 361.1 79.9 363.0 80.2 360.4C80.5 357.8 87.4 350.2 90.5 350.2Z" fill="none" stroke="#efb55e" stroke-width="1.05" stroke-dasharray="2.6 2"/><path d="M5.4 454.7C6.0 452.5 2.2 451.0 8.7 450.3C15.2 449.6 40.4 445.2 44.4 450.3C48.4 455.4 36.3 474.1 32.5 480.6C28.7 487.1 24.9 488.9 21.7 489.3C18.4 489.7 15.7 487.1 13.0 482.8C10.3 478.5 6.7 468.0 5.4 463.3C4.1 458.6 4.9 456.9 5.4 454.7Z" fill="none" stroke="#efb55e" stroke-width="1.05" stroke-dasharray="2.6 2"/><path d="M16.8 369.4h4.5M24.3 369.4h4.5" stroke="#efb55e" stroke-width="1"/><path d="M16.8 381.9h4.5M24.3 381.9h4.5" stroke="#4ab6df" stroke-width="1"/><text x="32.1" y="372.2" font-size="7.5" fill="#231f20">CD8<tspan font-size="4.65" dy="-2.9">+</tspan></text><text x="32.1" y="384.5" font-size="7.5" fill="#231f20">CD4<tspan font-size="4.65" dy="-2.9">+</tspan></text><text x="147.8" y="390.5" font-size="7.5" fill="#231f20">CD8<tspan font-size="4.65" dy="-2.9">+</tspan><tspan dy="2.9"> T</tspan><tspan font-size="5.10" dy="0.9">emra</tspan></text><text x="103" y="409.5" font-size="7.5" fill="#231f20">CD8<tspan font-size="4.65" dy="-2.9">+</tspan><tspan dy="2.9"> T</tspan><tspan font-size="5.10" dy="0.9">ex</tspan></text><text x="9.7" y="444.9" font-size="7.5" fill="#231f20">CD8<tspan font-size="4.65" dy="-2.9">+</tspan><tspan dy="2.9"> T</tspan><tspan font-size="5.10" dy="0.9">n</tspan></text><text x="119.9" y="455.1" font-size="7.5" fill="#231f20">CD8<tspan font-size="4.65" dy="-2.9">+</tspan><tspan dy="2.9"> T</tspan><tspan font-size="5.10" dy="0.9">m</tspan></text><text x="121.4" y="475.2" font-size="7.5" fill="#231f20">CD8<tspan font-size="4.65" dy="-2.9">+</tspan><tspan dy="2.9"> MAIT</tspan></text><text x="68.9" y="491.5" font-size="7.5" fill="#231f20">CD4<tspan font-size="4.65" dy="-2.9">+</tspan><tspan dy="2.9"> T</tspan><tspan font-size="5.10" dy="0.9">n</tspan></text><text x="76.9" y="521.8" font-size="7.6" fill="#231f20"># Query cells = 137,966</text><text x="76.9" y="530.9" font-size="7.6" fill="#231f20"># Query TCRαβ clonotypes = 59,482</text><path d="M214.6 167.5V299.3H349.9" fill="none" stroke="#555" stroke-width="0.7"/><path d="M212.6 176.8H214.6" stroke="#555" stroke-width="0.6"/><text x="211.0" y="179.5" font-size="7.6" text-anchor="end" fill="#231f20">4</text><path d="M212.6 201.5H214.6" stroke="#555" stroke-width="0.6"/><text x="211.0" y="204.2" font-size="7.6" text-anchor="end" fill="#231f20">3</text><path d="M212.6 226.2H214.6" stroke="#555" stroke-width="0.6"/><text x="211.0" y="228.9" font-size="7.6" text-anchor="end" fill="#231f20">2</text><path d="M212.6 250.9H214.6" stroke="#555" stroke-width="0.6"/><text x="211.0" y="253.6" font-size="7.6" text-anchor="end" fill="#231f20">1</text><path d="M212.6 275.6H214.6" stroke="#555" stroke-width="0.6"/><text x="211.0" y="278.3" font-size="7.6" text-anchor="end" fill="#231f20">0</text><path d="M220.0 299.3V301.3" stroke="#555" stroke-width="0.6"/><text x="220.0" y="307.7" font-size="7.6" text-anchor="middle" fill="#231f20">1.5</text><path d="M243.9 299.3V301.3" stroke="#555" stroke-width="0.6"/><text x="243.9" y="307.7" font-size="7.6" text-anchor="middle" fill="#231f20">2.0</text><path d="M267.8 299.3V301.3" stroke="#555" stroke-width="0.6"/><text x="267.8" y="307.7" font-size="7.6" text-anchor="middle" fill="#231f20">2.5</text><path d="M291.6 299.3V301.3" stroke="#555" stroke-width="0.6"/><text x="291.6" y="307.7" font-size="7.6" text-anchor="middle" fill="#231f20">3.0</text><path d="M315.5 299.3V301.3" stroke="#555" stroke-width="0.6"/><text x="315.5" y="307.7" font-size="7.6" text-anchor="middle" fill="#231f20">3.5</text><path d="M339.4 299.3V301.3" stroke="#555" stroke-width="0.6"/><text x="339.4" y="307.7" font-size="7.6" text-anchor="middle" fill="#231f20">4.0</text><text x="282.8" y="318.1" font-size="7.6" text-anchor="middle" fill="#231f20">TrGx Convergence Score</text><text x="0" y="0" font-size="7.6" fill="#231f20" text-anchor="middle" transform="translate(203.1 230.9) rotate(-90)">TrGx Disease Association Score</text><text x="227.5" y="156.9" font-size="7.55" fill="#231f20">Appears in both reference and query</text><circle cx="354.7" cy="154.6" r="1.6" fill="none" stroke="#333" stroke-width="0.55"/><text x="227.5" y="165.6" font-size="7.55" fill="#231f20">No. individuals</text><circle cx="282.9" cy="163.29999999999998" r="1.8" fill="#c9dcaa"/><text x="284.8" y="165.6" font-size="7.55" fill="#231f20">2</text><circle cx="299.1" cy="163.29999999999998" r="1.8" fill="#6cbf45"/><text x="302.1" y="165.6" font-size="7.55" fill="#231f20">&gt;2</text><circle cx="220.3" cy="173.8" r="1.05" fill="#c9dcaa"/><circle cx="232.1" cy="204" r="1.05" fill="#c9dcaa"/><circle cx="243" cy="199.8" r="1.05" fill="#c9dcaa"/><circle cx="253.8" cy="226.2" r="1.05" fill="#c9dcaa"/><circle cx="260.1" cy="232.5" r="1.05" fill="#c9dcaa"/><circle cx="272.7" cy="210.3" r="1.05" fill="#c9dcaa"/><circle cx="278.2" cy="213.4" r="1.05" fill="#c9dcaa"/><circle cx="277.5" cy="222.4" r="1.05" fill="#c9dcaa"/><circle cx="239.9" cy="270.8" r="1.05" fill="#c9dcaa"/><circle cx="263.1" cy="262.7" r="1.05" fill="#c9dcaa"/><circle cx="274.4" cy="270.8" r="1.05" fill="#c9dcaa"/><circle cx="280" cy="278.8" r="1.05" fill="#c9dcaa"/><circle cx="272.4" cy="292.9" r="1.05" fill="#c9dcaa"/><circle cx="277" cy="256.2" r="1.05" fill="#c9dcaa"/><circle cx="282.5" cy="239.8" r="1.05" fill="#c9dcaa"/><circle cx="284.5" cy="262.7" r="1.05" fill="#c9dcaa"/><circle cx="290" cy="263.2" r="1.05" fill="#c9dcaa"/><circle cx="294.6" cy="249.6" r="1.05" fill="#c9dcaa"/><circle cx="294.6" cy="272.8" r="1.05" fill="#c9dcaa"/><circle cx="297.1" cy="222.9" r="1.05" fill="#c9dcaa"/><circle cx="300.1" cy="220.4" r="1.05" fill="#c9dcaa"/><circle cx="303.9" cy="224.9" r="1.05" fill="#c9dcaa"/><circle cx="310.2" cy="239.8" r="1.05" fill="#c9dcaa"/><circle cx="290.3" cy="251.1" r="1.05" fill="#c9dcaa"/><circle cx="286" cy="246" r="1.05" fill="#c9dcaa"/><circle cx="288" cy="236" r="1.05" fill="#c9dcaa"/><circle cx="296" cy="244" r="1.05" fill="#c9dcaa"/><circle cx="239.2" cy="251.9" r="1.7" fill="#c9dcaa"/><circle cx="265.6" cy="208.3" r="1.2" fill="#e4ecd8" stroke="#2a2a2a" stroke-width="0.6"/><circle cx="256.8" cy="215.4" r="1.2" fill="#e4ecd8" stroke="#2a2a2a" stroke-width="0.6"/><circle cx="274" cy="219.1" r="1.2" fill="#e4ecd8" stroke="#2a2a2a" stroke-width="0.6"/><circle cx="269.4" cy="225.4" r="1.2" fill="#e4ecd8" stroke="#2a2a2a" stroke-width="0.6"/><circle cx="290.3" cy="225.9" r="1.2" fill="#e4ecd8" stroke="#2a2a2a" stroke-width="0.6"/><circle cx="299.6" cy="226.2" r="1.2" fill="#e4ecd8" stroke="#2a2a2a" stroke-width="0.6"/><circle cx="290.8" cy="231.7" r="1.2" fill="#e4ecd8" stroke="#2a2a2a" stroke-width="0.6"/><circle cx="285" cy="235.5" r="1.2" fill="#e4ecd8" stroke="#2a2a2a" stroke-width="0.6"/><circle cx="285.8" cy="238" r="1.2" fill="#e4ecd8" stroke="#2a2a2a" stroke-width="0.6"/><circle cx="289" cy="240" r="1.2" fill="#e4ecd8" stroke="#2a2a2a" stroke-width="0.6"/><circle cx="294.6" cy="240" r="1.2" fill="#e4ecd8" stroke="#2a2a2a" stroke-width="0.6"/><circle cx="296.6" cy="237.3" r="1.2" fill="#e4ecd8" stroke="#2a2a2a" stroke-width="0.6"/><circle cx="281.5" cy="244.3" r="1.2" fill="#e4ecd8" stroke="#2a2a2a" stroke-width="0.6"/><circle cx="289" cy="243.1" r="1.2" fill="#e4ecd8" stroke="#2a2a2a" stroke-width="0.6"/><circle cx="289" cy="246.1" r="1.2" fill="#e4ecd8" stroke="#2a2a2a" stroke-width="0.6"/><circle cx="300.9" cy="241.8" r="1.2" fill="#e4ecd8" stroke="#2a2a2a" stroke-width="0.6"/><circle cx="302.6" cy="243.1" r="1.2" fill="#e4ecd8" stroke="#2a2a2a" stroke-width="0.6"/><circle cx="305.2" cy="247.6" r="1.2" fill="#e4ecd8" stroke="#2a2a2a" stroke-width="0.6"/><circle cx="303.4" cy="252.6" r="1.2" fill="#e4ecd8" stroke="#2a2a2a" stroke-width="0.6"/><circle cx="309.2" cy="252.4" r="1.2" fill="#e4ecd8" stroke="#2a2a2a" stroke-width="0.6"/><circle cx="282.7" cy="251.9" r="1.2" fill="#e4ecd8" stroke="#2a2a2a" stroke-width="0.6"/><circle cx="283.3" cy="255.2" r="1.2" fill="#e4ecd8" stroke="#2a2a2a" stroke-width="0.6"/><circle cx="290.3" cy="259.9" r="1.2" fill="#e4ecd8" stroke="#2a2a2a" stroke-width="0.6"/><circle cx="308.4" cy="265.7" r="1.2" fill="#e4ecd8" stroke="#2a2a2a" stroke-width="0.6"/><circle cx="303.4" cy="283.9" r="1.2" fill="#e4ecd8" stroke="#2a2a2a" stroke-width="0.6"/><circle cx="320.3" cy="247.3" r="1.2" fill="#e4ecd8" stroke="#2a2a2a" stroke-width="0.6"/><circle cx="325.3" cy="264.5" r="1.2" fill="#e4ecd8" stroke="#2a2a2a" stroke-width="0.6"/><circle cx="328.6" cy="261.4" r="1.2" fill="#e4ecd8" stroke="#2a2a2a" stroke-width="0.6"/><circle cx="332.4" cy="266.7" r="1.2" fill="#e4ecd8" stroke="#2a2a2a" stroke-width="0.6"/><circle cx="331.1" cy="245.6" r="1.7" fill="#dfe9cf" stroke="#333" stroke-width="0.5"/><circle cx="342.4" cy="265.7" r="1.7" fill="#dfe9cf" stroke="#333" stroke-width="0.5"/><circle cx="323.5" cy="273.3" r="1.7" fill="#dfe9cf" stroke="#333" stroke-width="0.5"/><circle cx="316.7" cy="229.7" r="1.1" fill="#3f8f35"/><circle cx="278.2" cy="239.8" r="1.1" fill="#3f8f35"/><circle cx="302.1" cy="242.6" r="1.1" fill="#3f8f35"/><circle cx="311.7" cy="254.4" r="1.1" fill="#3f8f35"/><circle cx="294.1" cy="260.7" r="1.1" fill="#3f8f35"/><circle cx="299.6" cy="292.9" r="1.7" fill="#6cbf45" stroke="#333" stroke-width="0.4"/><rect x="342" y="268.9" width="2.8" height="2.8" fill="#6cbf45" stroke="#2f6f25" stroke-width="0.4"/><path d="M339.0 240.0L333.0 244.5" stroke="#222" stroke-width="0.55" stroke-dasharray="1.6 0.7"/><circle cx="342.4" cy="237.5" r="3.6" fill="#111"/><text x="342.4" y="239.5" font-size="5.6" font-weight="bold" fill="#fff" text-anchor="middle">1</text><path d="M272.3 201.5L267.0 207.0" stroke="#222" stroke-width="0.55" stroke-dasharray="1.6 0.7"/><circle cx="275.2" cy="198.5" r="3.6" fill="#111"/><text x="275.2" y="200.5" font-size="5.6" font-weight="bold" fill="#fff" text-anchor="middle">2</text><path d="M250.0 218.6L255.5 216.0" stroke="#222" stroke-width="0.55" stroke-dasharray="1.6 0.7"/><circle cx="246.2" cy="220.4" r="3.6" fill="#111"/><text x="246.2" y="222.4" font-size="5.6" font-weight="bold" fill="#fff" text-anchor="middle">3</text><path d="M214.6 373.2V513.7H359.4" fill="none" stroke="#555" stroke-width="0.7"/><path d="M212.6 376.9H214.6" stroke="#555" stroke-width="0.6"/><text x="211.0" y="379.6" font-size="7.6" text-anchor="end" fill="#231f20">4</text><path d="M212.6 405.0H214.6" stroke="#555" stroke-width="0.6"/><text x="211.0" y="407.7" font-size="7.6" text-anchor="end" fill="#231f20">3</text><path d="M212.6 433.1H214.6" stroke="#555" stroke-width="0.6"/><text x="211.0" y="435.8" font-size="7.6" text-anchor="end" fill="#231f20">2</text><path d="M212.6 461.2H214.6" stroke="#555" stroke-width="0.6"/><text x="211.0" y="463.9" font-size="7.6" text-anchor="end" fill="#231f20">1</text><path d="M212.6 489.3H214.6" stroke="#555" stroke-width="0.6"/><text x="211.0" y="492.0" font-size="7.6" text-anchor="end" fill="#231f20">0</text><path d="M228.3 513.7V515.7" stroke="#555" stroke-width="0.6"/><text x="228.3" y="523.2" font-size="7.6" text-anchor="middle" fill="#231f20">1.5</text><path d="M251.8 513.7V515.7" stroke="#555" stroke-width="0.6"/><text x="251.8" y="523.2" font-size="7.6" text-anchor="middle" fill="#231f20">2.0</text><path d="M275.3 513.7V515.7" stroke="#555" stroke-width="0.6"/><text x="275.3" y="523.2" font-size="7.6" text-anchor="middle" fill="#231f20">2.5</text><path d="M298.8 513.7V515.7" stroke="#555" stroke-width="0.6"/><text x="298.8" y="523.2" font-size="7.6" text-anchor="middle" fill="#231f20">3.0</text><path d="M322.3 513.7V515.7" stroke="#555" stroke-width="0.6"/><text x="322.3" y="523.2" font-size="7.6" text-anchor="middle" fill="#231f20">3.5</text><path d="M345.8 513.7V515.7" stroke="#555" stroke-width="0.6"/><text x="345.8" y="523.2" font-size="7.6" text-anchor="middle" fill="#231f20">4.0</text><text x="287.5" y="533.6" font-size="7.6" text-anchor="middle" fill="#231f20">TrGx Convergence Score</text><text x="0" y="0" font-size="7.6" fill="#231f20" text-anchor="middle" transform="translate(203.1 440.4) rotate(-90)">TrGx Disease Association Score</text><text x="224.7" y="360.7" font-size="7.55" fill="#231f20">Appears in both reference and query</text><circle cx="351.9" cy="358.4" r="1.6" fill="none" stroke="#333" stroke-width="0.55"/><text x="224.7" y="370.4" font-size="7.55" fill="#231f20">No. individuals</text><circle cx="280.09999999999997" cy="368.09999999999997" r="1.8" fill="#c9dcaa"/><text x="282.0" y="370.4" font-size="7.55" fill="#231f20">2</text><circle cx="296.29999999999995" cy="368.09999999999997" r="1.8" fill="#6cbf45"/><text x="299.29999999999995" y="370.4" font-size="7.55" fill="#231f20">&gt;2</text><circle cx="265.2" cy="419.1" r="1.2" fill="#c9dcaa"/><circle cx="309.0" cy="447.4" r="1.2" fill="#c9dcaa"/><circle cx="263.2" cy="424.6" r="1.0" fill="#c9dcaa"/><circle cx="298.8" cy="421.1" r="1.2" fill="#c9dcaa"/><circle cx="265.4" cy="442.7" r="1.0" fill="#c9dcaa"/><circle cx="303.3" cy="431.4" r="1.0" fill="#c9dcaa"/><circle cx="319.7" cy="430.2" r="1.0" fill="#c9dcaa"/><circle cx="287.4" cy="436.2" r="1.6" fill="#c9dcaa"/><circle cx="340.1" cy="455.4" r="1.0" fill="#c9dcaa"/><circle cx="273.9" cy="443.5" r="1.6" fill="#c9dcaa"/><circle cx="291.3" cy="431.7" r="1.0" fill="#c9dcaa"/><circle cx="282.6" cy="431.5" r="1.0" fill="#c9dcaa"/><circle cx="294.8" cy="425.3" r="1.2" fill="#c9dcaa"/><circle cx="311.1" cy="437.9" r="1.6" fill="#c9dcaa"/><circle cx="254.1" cy="410.6" r="1.0" fill="#c9dcaa"/><circle cx="261.4" cy="425.5" r="1.0" fill="#c9dcaa"/><circle cx="260.3" cy="422.6" r="1.0" fill="#c9dcaa"/><circle cx="274.0" cy="424.6" r="1.6" fill="#c9dcaa"/><circle cx="354.5" cy="457.2" r="1.6" fill="#c9dcaa"/><circle cx="306.0" cy="457.7" r="1.0" fill="#c9dcaa"/><circle cx="283.7" cy="421.8" r="1.0" fill="#c9dcaa"/><circle cx="287.6" cy="427.2" r="1.6" fill="#c9dcaa"/><circle cx="291.4" cy="448.0" r="1.0" fill="#c9dcaa"/><circle cx="300.5" cy="448.5" r="1.6" fill="#c9dcaa"/><circle cx="326.3" cy="453.5" r="1.0" fill="#c9dcaa"/><circle cx="302.9" cy="437.9" r="1.2" fill="#c9dcaa"/><circle cx="308.2" cy="448.3" r="1.0" fill="#c9dcaa"/><circle cx="309.1" cy="441.9" r="1.2" fill="#c9dcaa"/><circle cx="314.3" cy="433.3" r="1.0" fill="#c9dcaa"/><circle cx="292.2" cy="445.1" r="1.2" fill="#c9dcaa"/><circle cx="304.6" cy="432.0" r="1.0" fill="#c9dcaa"/><circle cx="321.8" cy="450.0" r="1.0" fill="#c9dcaa"/><circle cx="300.4" cy="429.9" r="1.0" fill="#c9dcaa"/><circle cx="295.0" cy="432.2" r="1.6" fill="#c9dcaa"/><circle cx="293.0" cy="442.8" r="1.6" fill="#c9dcaa"/><circle cx="269.4" cy="431.5" r="1.0" fill="#c9dcaa"/><circle cx="301.1" cy="416.1" r="1.6" fill="#c9dcaa"/><circle cx="308.7" cy="425.2" r="1.2" fill="#c9dcaa"/><circle cx="304.7" cy="428.8" r="1.6" fill="#c9dcaa"/><circle cx="293.0" cy="423.6" r="1.6" fill="#c9dcaa"/><circle cx="324.4" cy="450.3" r="1.2" fill="#c9dcaa"/><circle cx="275.7" cy="400.6" r="1.6" fill="#c9dcaa"/><circle cx="294.2" cy="421.2" r="1.6" fill="#c9dcaa"/><circle cx="306.7" cy="455.2" r="1.6" fill="#c9dcaa"/><circle cx="337.4" cy="425.4" r="1.6" fill="#c9dcaa"/><circle cx="292.9" cy="423.8" r="1.0" fill="#c9dcaa"/><circle cx="291.9" cy="446.4" r="1.0" fill="#c9dcaa"/><circle cx="287.2" cy="427.1" r="1.2" fill="#c9dcaa"/><circle cx="311.4" cy="431.0" r="1.6" fill="#c9dcaa"/><circle cx="290.6" cy="414.5" r="1.6" fill="#c9dcaa"/><circle cx="274.4" cy="416.6" r="1.0" fill="#c9dcaa"/><circle cx="311.4" cy="445.1" r="1.2" fill="#c9dcaa"/><circle cx="254.1" cy="433.2" r="1.0" fill="#c9dcaa"/><circle cx="294.1" cy="427.4" r="1.2" fill="#c9dcaa"/><circle cx="320.0" cy="458.2" r="1.6" fill="#c9dcaa"/><circle cx="289.4" cy="424.0" r="1.6" fill="#c9dcaa"/><circle cx="286.3" cy="465.3" r="1.2" fill="#c9dcaa"/><circle cx="305.3" cy="406.3" r="1.2" fill="#c9dcaa"/><circle cx="309.2" cy="453.1" r="1.0" fill="#c9dcaa"/><circle cx="281.3" cy="427.1" r="1.0" fill="#c9dcaa"/><circle cx="338.5" cy="442.1" r="1.0" fill="#c9dcaa"/><circle cx="291.6" cy="412.0" r="1.6" fill="#c9dcaa"/><circle cx="287.8" cy="406.4" r="1.0" fill="#c9dcaa"/><circle cx="275.9" cy="434.9" r="1.6" fill="#c9dcaa"/><circle cx="303.6" cy="418.2" r="1.0" fill="#c9dcaa"/><circle cx="302.3" cy="433.5" r="1.6" fill="#c9dcaa"/><circle cx="253.4" cy="430.2" r="1.0" fill="#c9dcaa"/><circle cx="277.3" cy="436.3" r="1.0" fill="#c9dcaa"/><circle cx="301.0" cy="442.0" r="1.2" fill="#c9dcaa"/><circle cx="304.9" cy="437.5" r="1.6" fill="#c9dcaa"/><circle cx="282.8" cy="429.1" r="1.0" fill="#c9dcaa"/><circle cx="297.9" cy="424.1" r="1.0" fill="#c9dcaa"/><circle cx="280.0" cy="433.0" r="1.2" fill="#c9dcaa"/><circle cx="262.5" cy="400.9" r="1.6" fill="#c9dcaa"/><circle cx="318.1" cy="445.9" r="1.0" fill="#c9dcaa"/><circle cx="280.0" cy="447.1" r="1.0" fill="#c9dcaa"/><circle cx="292.8" cy="431.4" r="1.6" fill="#c9dcaa"/><circle cx="332.5" cy="445.1" r="1.0" fill="#c9dcaa"/><circle cx="274.0" cy="461.9" r="1.0" fill="#c9dcaa"/><circle cx="317.2" cy="440.4" r="1.0" fill="#c9dcaa"/><circle cx="257.6" cy="419.2" r="1.0" fill="#c9dcaa"/><circle cx="311.5" cy="433.0" r="1.0" fill="#c9dcaa"/><circle cx="285.9" cy="461.9" r="1.6" fill="#c9dcaa"/><circle cx="286.9" cy="454.0" r="1.0" fill="#c9dcaa"/><circle cx="301.2" cy="467.4" r="1.2" fill="#c9dcaa"/><circle cx="271.5" cy="409.5" r="1.0" fill="#c9dcaa"/><circle cx="321.8" cy="461.3" r="1.2" fill="#c9dcaa"/><circle cx="259.1" cy="409.9" r="1.0" fill="#c9dcaa"/><circle cx="306.2" cy="453.0" r="1.2" fill="#c9dcaa"/><circle cx="275.7" cy="437.9" r="1.0" fill="#c9dcaa"/><circle cx="281.7" cy="433.9" r="1.0" fill="#c9dcaa"/><circle cx="302.3" cy="432.4" r="1.6" fill="#c9dcaa"/><circle cx="309.1" cy="438.8" r="1.6" fill="#c9dcaa"/><circle cx="290.6" cy="438.3" r="1.6" fill="#c9dcaa"/><circle cx="290.7" cy="440.2" r="1.0" fill="#c9dcaa"/><circle cx="276.7" cy="424.7" r="1.2" fill="#c9dcaa"/><circle cx="303.9" cy="432.0" r="1.0" fill="#c9dcaa"/><circle cx="303.0" cy="435.1" r="1.0" fill="#c9dcaa"/><circle cx="285.7" cy="430.8" r="1.2" fill="#c9dcaa"/><circle cx="288.6" cy="438.4" r="1.0" fill="#c9dcaa"/><circle cx="277.4" cy="437.2" r="1.6" fill="#c9dcaa"/><circle cx="291.7" cy="432.2" r="1.2" fill="#c9dcaa"/><circle cx="287.7" cy="423.9" r="1.2" fill="#c9dcaa"/><circle cx="293.3" cy="430.3" r="1.2" fill="#c9dcaa"/><circle cx="302.1" cy="440.8" r="1.6" fill="#c9dcaa"/><circle cx="275.1" cy="423.9" r="1.0" fill="#c9dcaa"/><circle cx="285.9" cy="424.0" r="1.6" fill="#c9dcaa"/><circle cx="294.6" cy="428.3" r="1.0" fill="#c9dcaa"/><circle cx="298.2" cy="446.7" r="1.0" fill="#c9dcaa"/><circle cx="297.8" cy="438.7" r="1.2" fill="#c9dcaa"/><circle cx="285.4" cy="433.6" r="1.0" fill="#c9dcaa"/><circle cx="298.2" cy="430.1" r="1.0" fill="#c9dcaa"/><circle cx="300.3" cy="445.0" r="1.2" fill="#c9dcaa"/><circle cx="286.8" cy="445.0" r="1.2" fill="#c9dcaa"/><circle cx="290.9" cy="429.5" r="1.6" fill="#c9dcaa"/><circle cx="285.3" cy="429.8" r="1.0" fill="#c9dcaa"/><circle cx="293.7" cy="428.0" r="1.0" fill="#c9dcaa"/><circle cx="284.8" cy="435.7" r="1.0" fill="#c9dcaa"/><circle cx="285.3" cy="421.3" r="1.0" fill="#c9dcaa"/><circle cx="301.0" cy="436.6" r="1.0" fill="#c9dcaa"/><circle cx="293.7" cy="433.0" r="1.0" fill="#c9dcaa"/><circle cx="293.5" cy="434.8" r="1.0" fill="#c9dcaa"/><circle cx="288.9" cy="439.3" r="1.2" fill="#c9dcaa"/><circle cx="286.3" cy="422.2" r="1.2" fill="#c9dcaa"/><circle cx="296.3" cy="434.1" r="1.2" fill="#c9dcaa"/><circle cx="289.9" cy="432.2" r="1.6" fill="#c9dcaa"/><circle cx="294.7" cy="437.6" r="1.0" fill="#c9dcaa"/><circle cx="293.4" cy="432.2" r="1.2" fill="#c9dcaa"/><circle cx="285.4" cy="435.6" r="1.6" fill="#c9dcaa"/><circle cx="283.3" cy="436.5" r="1.6" fill="#c9dcaa"/><circle cx="299.3" cy="448.6" r="1.0" fill="#c9dcaa"/><circle cx="289.5" cy="435.9" r="1.0" fill="#c9dcaa"/><circle cx="286.5" cy="431.0" r="1.0" fill="#c9dcaa"/><circle cx="301.3" cy="435.5" r="1.2" fill="#c9dcaa"/><circle cx="290.6" cy="436.2" r="1.0" fill="#c9dcaa"/><circle cx="290.7" cy="427.6" r="1.0" fill="#c9dcaa"/><circle cx="288.4" cy="438.5" r="1.2" fill="#c9dcaa"/><circle cx="281.1" cy="436.1" r="1.0" fill="#c9dcaa"/><circle cx="280.0" cy="423.4" r="1.0" fill="#c9dcaa"/><circle cx="294.8" cy="435.3" r="1.2" fill="#c9dcaa"/><circle cx="223.6" cy="390.9" r="1.2" fill="#c9dcaa"/><circle cx="240.1" cy="378.3" r="1.2" fill="#c9dcaa"/><circle cx="256.5" cy="388.1" r="1.0" fill="#c9dcaa"/><circle cx="233.0" cy="438.7" r="1.0" fill="#c9dcaa"/><circle cx="244.8" cy="447.1" r="1.2" fill="#c9dcaa"/><circle cx="251.8" cy="407.8" r="1.0" fill="#c9dcaa"/><circle cx="265.9" cy="402.2" r="1.0" fill="#c9dcaa"/><circle cx="327.0" cy="405.0" r="1.2" fill="#c9dcaa"/><circle cx="336.4" cy="427.5" r="1.0" fill="#c9dcaa"/><circle cx="261.2" cy="416.2" r="1.0" fill="#c9dcaa"/><circle cx="337.0" cy="467.3" r="1.8" fill="#6cbf45"/><circle cx="323.1" cy="443.4" r="1.0" fill="#6cbf45"/><circle cx="277.7" cy="449.5" r="1.8" fill="#6cbf45"/><circle cx="289.9" cy="426.3" r="1.0" fill="#6cbf45"/><circle cx="333.8" cy="472.5" r="1.0" fill="#6cbf45"/><circle cx="328.9" cy="460.2" r="1.0" fill="#6cbf45"/><circle cx="300.4" cy="448.5" r="1.4" fill="#6cbf45"/><circle cx="301.8" cy="464.1" r="1.4" fill="#6cbf45"/><circle cx="288.4" cy="450.9" r="1.8" fill="#6cbf45"/><circle cx="317.9" cy="425.7" r="1.0" fill="#6cbf45"/><circle cx="274.2" cy="434.3" r="1.2" fill="#6cbf45"/><circle cx="289.7" cy="413.5" r="1.4" fill="#6cbf45"/><circle cx="319.5" cy="459.7" r="1.2" fill="#6cbf45"/><circle cx="326.7" cy="448.3" r="1.2" fill="#6cbf45"/><circle cx="276.1" cy="436.7" r="1.2" fill="#6cbf45"/><circle cx="303.5" cy="443.3" r="1.4" fill="#6cbf45"/><circle cx="310.8" cy="451.0" r="1.0" fill="#6cbf45"/><circle cx="311.9" cy="454.5" r="1.2" fill="#6cbf45"/><circle cx="290.5" cy="419.4" r="1.2" fill="#6cbf45"/><circle cx="315.3" cy="444.0" r="1.0" fill="#6cbf45"/><circle cx="276.7" cy="432.6" r="1.8" fill="#6cbf45"/><circle cx="324.4" cy="468.7" r="1.8" fill="#6cbf45"/><circle cx="329.9" cy="460.7" r="1.0" fill="#6cbf45"/><circle cx="316.1" cy="451.1" r="1.8" fill="#6cbf45"/><circle cx="312.5" cy="433.6" r="1.0" fill="#6cbf45"/><circle cx="300.2" cy="423.5" r="1.2" fill="#6cbf45"/><circle cx="292.8" cy="449.4" r="1.0" fill="#6cbf45"/><circle cx="322.2" cy="465.0" r="1.4" fill="#6cbf45"/><circle cx="300.9" cy="431.5" r="1.4" fill="#6cbf45"/><circle cx="332.1" cy="478.1" r="1.8" fill="#6cbf45"/><circle cx="318.2" cy="428.3" r="1.0" fill="#6cbf45"/><circle cx="331.8" cy="459.9" r="1.4" fill="#6cbf45"/><circle cx="296.3" cy="443.6" r="1.2" fill="#6cbf45"/><circle cx="285.4" cy="438.0" r="1.2" fill="#6cbf45"/><circle cx="304.5" cy="445.7" r="1.0" fill="#6cbf45"/><circle cx="331.5" cy="459.6" r="1.8" fill="#6cbf45"/><circle cx="279.4" cy="419.6" r="1.2" fill="#6cbf45"/><circle cx="287.0" cy="440.9" r="1.8" fill="#6cbf45"/><circle cx="305.6" cy="448.5" r="1.4" fill="#6cbf45"/><circle cx="288.4" cy="439.2" r="1.2" fill="#6cbf45"/><circle cx="351.3" cy="473.5" r="1.4" fill="#6cbf45"/><circle cx="305.5" cy="431.2" r="1.8" fill="#6cbf45"/><circle cx="322.9" cy="443.8" r="1.2" fill="#6cbf45"/><circle cx="325.2" cy="477.1" r="1.8" fill="#6cbf45"/><circle cx="291.1" cy="436.1" r="1.4" fill="#6cbf45"/><circle cx="318.0" cy="435.2" r="1.0" fill="#6cbf45"/><circle cx="317.5" cy="453.0" r="1.2" fill="#6cbf45"/><circle cx="309.0" cy="448.6" r="1.0" fill="#6cbf45"/><circle cx="313.1" cy="440.1" r="1.8" fill="#6cbf45"/><circle cx="301.5" cy="452.1" r="1.2" fill="#6cbf45"/><circle cx="291.3" cy="424.7" r="1.4" fill="#6cbf45"/><circle cx="333.5" cy="446.1" r="1.2" fill="#6cbf45"/><circle cx="325.1" cy="444.0" r="1.0" fill="#6cbf45"/><circle cx="308.2" cy="437.9" r="1.8" fill="#6cbf45"/><circle cx="287.4" cy="438.2" r="1.8" fill="#6cbf45"/><circle cx="293.7" cy="430.2" r="1.8" fill="#6cbf45"/><circle cx="296.8" cy="441.5" r="1.4" fill="#6cbf45"/><circle cx="316.1" cy="433.5" r="1.0" fill="#6cbf45"/><circle cx="292.6" cy="449.3" r="1.0" fill="#6cbf45"/><circle cx="324.3" cy="466.5" r="1.0" fill="#6cbf45"/><circle cx="317.1" cy="456.7" r="1.2" fill="#6cbf45"/><circle cx="306.1" cy="466.2" r="1.2" fill="#6cbf45"/><circle cx="322.3" cy="458.4" r="1.2" fill="#6cbf45"/><circle cx="290.5" cy="412.7" r="1.0" fill="#6cbf45"/><circle cx="322.3" cy="411.1" r="1.4" fill="#6cbf45"/><circle cx="316.3" cy="453.7" r="1.8" fill="#6cbf45"/><circle cx="310.3" cy="427.8" r="1.0" fill="#6cbf45"/><circle cx="307.7" cy="440.2" r="1.4" fill="#6cbf45"/><circle cx="318.4" cy="461.4" r="1.4" fill="#6cbf45"/><circle cx="310.7" cy="452.9" r="1.8" fill="#6cbf45"/><circle cx="283.6" cy="423.7" r="1.0" fill="#6cbf45"/><circle cx="321.3" cy="451.1" r="1.2" fill="#6cbf45"/><circle cx="290.3" cy="460.8" r="1.8" fill="#6cbf45"/><circle cx="317.8" cy="451.5" r="1.4" fill="#6cbf45"/><circle cx="275.0" cy="430.6" r="1.2" fill="#6cbf45"/><circle cx="278.2" cy="431.7" r="1.2" fill="#6cbf45"/><circle cx="311.0" cy="442.9" r="1.8" fill="#6cbf45"/><circle cx="312.5" cy="445.8" r="1.8" fill="#6cbf45"/><circle cx="285.7" cy="439.5" r="1.0" fill="#6cbf45"/><circle cx="298.1" cy="443.7" r="1.4" fill="#6cbf45"/><circle cx="313.5" cy="441.0" r="1.8" fill="#6cbf45"/><circle cx="340.5" cy="491.5" r="1.8" fill="#6cbf45"/><circle cx="316.1" cy="451.9" r="1.4" fill="#6cbf45"/><circle cx="353.1" cy="456.2" r="1.2" fill="#6cbf45"/><circle cx="275.6" cy="425.4" r="1.0" fill="#6cbf45"/><circle cx="297.9" cy="429.1" r="1.2" fill="#6cbf45"/><circle cx="287.4" cy="437.0" r="1.8" fill="#6cbf45"/><circle cx="305.6" cy="445.6" r="1.2" fill="#6cbf45"/><circle cx="296.7" cy="461.9" r="1.2" fill="#6cbf45"/><circle cx="317.3" cy="438.3" r="1.8" fill="#6cbf45"/><circle cx="306.9" cy="457.1" r="1.0" fill="#6cbf45"/><circle cx="312.2" cy="441.0" r="1.0" fill="#6cbf45"/><circle cx="304.7" cy="444.2" r="1.2" fill="#6cbf45"/><circle cx="336.0" cy="472.2" r="1.8" fill="#6cbf45"/><circle cx="297.2" cy="463.0" r="1.2" fill="#6cbf45"/><circle cx="294.4" cy="447.9" r="1.0" fill="#6cbf45"/><circle cx="289.2" cy="444.9" r="1.8" fill="#6cbf45"/><circle cx="343.7" cy="465.0" r="1.4" fill="#6cbf45"/><circle cx="305.9" cy="418.7" r="1.8" fill="#6cbf45"/><circle cx="307.0" cy="465.6" r="1.8" fill="#6cbf45"/><circle cx="316.2" cy="460.6" r="1.0" fill="#6cbf45"/><circle cx="340.5" cy="475.9" r="1.0" fill="#6cbf45"/><circle cx="296.7" cy="459.2" r="1.2" fill="#6cbf45"/><circle cx="310.1" cy="458.7" r="1.4" fill="#6cbf45"/><circle cx="306.9" cy="449.6" r="1.4" fill="#6cbf45"/><circle cx="296.1" cy="428.8" r="1.0" fill="#6cbf45"/><circle cx="326.7" cy="453.8" r="1.2" fill="#6cbf45"/><circle cx="290.4" cy="449.9" r="1.8" fill="#6cbf45"/><circle cx="313.5" cy="420.1" r="1.8" fill="#6cbf45"/><circle cx="299.2" cy="450.7" r="1.0" fill="#6cbf45"/><circle cx="294.4" cy="452.1" r="1.2" fill="#6cbf45"/><circle cx="289.0" cy="439.0" r="1.4" fill="#6cbf45"/><circle cx="336.5" cy="459.3" r="1.4" fill="#6cbf45"/><circle cx="298.1" cy="460.0" r="1.4" fill="#6cbf45"/><circle cx="312.4" cy="448.1" r="1.2" fill="#6cbf45"/><circle cx="284.0" cy="447.0" r="1.0" fill="#6cbf45"/><circle cx="307.4" cy="433.4" r="1.2" fill="#6cbf45"/><circle cx="320.6" cy="449.2" r="1.8" fill="#6cbf45"/><circle cx="301.8" cy="438.9" r="1.0" fill="#6cbf45"/><circle cx="308.0" cy="420.0" r="1.4" fill="#6cbf45"/><circle cx="285.8" cy="439.4" r="1.2" fill="#6cbf45"/><circle cx="333.2" cy="460.9" r="1.8" fill="#6cbf45"/><circle cx="336.3" cy="459.7" r="1.8" fill="#6cbf45"/><circle cx="311.1" cy="451.5" r="1.2" fill="#6cbf45"/><circle cx="280.9" cy="444.2" r="1.8" fill="#6cbf45"/><circle cx="351.9" cy="459.0" r="1.8" fill="#6cbf45"/><circle cx="320.2" cy="440.2" r="1.0" fill="#6cbf45"/><circle cx="319.4" cy="439.1" r="1.2" fill="#6cbf45"/><circle cx="302.9" cy="445.9" r="1.8" fill="#6cbf45"/><circle cx="327.6" cy="459.2" r="1.4" fill="#6cbf45"/><circle cx="281.9" cy="435.8" r="1.2" fill="#6cbf45"/><circle cx="297.4" cy="433.4" r="1.2" fill="#6cbf45"/><circle cx="294.0" cy="451.5" r="1.2" fill="#6cbf45"/><circle cx="301.6" cy="424.3" r="1.8" fill="#6cbf45"/><circle cx="307.3" cy="443.4" r="1.2" fill="#6cbf45"/><circle cx="308.4" cy="442.3" r="1.8" fill="#6cbf45"/><circle cx="326.5" cy="438.0" r="1.2" fill="#6cbf45"/><circle cx="275.7" cy="414.2" r="1.8" fill="#6cbf45"/><circle cx="308.1" cy="449.5" r="1.4" fill="#6cbf45"/><circle cx="355.5" cy="470.4" r="1.8" fill="#6cbf45"/><circle cx="346.6" cy="452.7" r="1.8" fill="#6cbf45"/><circle cx="287.9" cy="430.3" r="1.8" fill="#6cbf45"/><circle cx="322.7" cy="454.2" r="1.2" fill="#6cbf45"/><circle cx="262.2" cy="427.8" r="1.8" fill="#6cbf45"/><circle cx="304.4" cy="457.0" r="1.2" fill="#6cbf45"/><circle cx="344.2" cy="465.9" r="1.8" fill="#6cbf45"/><circle cx="300.4" cy="445.6" r="1.8" fill="#6cbf45"/><circle cx="292.7" cy="447.5" r="1.0" fill="#6cbf45"/><circle cx="310.1" cy="442.9" r="1.0" fill="#6cbf45"/><circle cx="298.2" cy="442.0" r="1.4" fill="#6cbf45"/><circle cx="280.8" cy="426.5" r="1.4" fill="#6cbf45"/><circle cx="293.4" cy="436.1" r="1.4" fill="#6cbf45"/><circle cx="290.3" cy="443.3" r="1.0" fill="#6cbf45"/><circle cx="312.4" cy="462.1" r="1.2" fill="#6cbf45"/><circle cx="356.9" cy="469.5" r="1.4" fill="#6cbf45"/><circle cx="306.8" cy="453.7" r="1.8" fill="#6cbf45"/><circle cx="339.7" cy="444.4" r="1.2" fill="#6cbf45"/><circle cx="314.1" cy="464.7" r="1.4" fill="#6cbf45"/><circle cx="298.2" cy="433.7" r="1.0" fill="#6cbf45"/><circle cx="298.1" cy="454.9" r="1.4" fill="#6cbf45"/><circle cx="284.8" cy="443.6" r="1.0" fill="#6cbf45"/><circle cx="308.5" cy="453.5" r="1.2" fill="#6cbf45"/><circle cx="308.6" cy="413.0" r="1.4" fill="#6cbf45"/><circle cx="343.2" cy="474.7" r="1.2" fill="#6cbf45"/><circle cx="315.0" cy="448.0" r="1.2" fill="#6cbf45"/><circle cx="305.5" cy="432.1" r="1.0" fill="#6cbf45"/><circle cx="301.6" cy="446.4" r="1.0" fill="#6cbf45"/><circle cx="300.8" cy="443.4" r="1.4" fill="#6cbf45"/><circle cx="333.6" cy="448.7" r="1.8" fill="#6cbf45"/><circle cx="281.7" cy="438.3" r="1.8" fill="#6cbf45"/><circle cx="292.5" cy="428.6" r="1.0" fill="#6cbf45"/><circle cx="312.6" cy="437.4" r="1.8" fill="#6cbf45"/><circle cx="307.0" cy="467.7" r="1.4" fill="#6cbf45"/><circle cx="317.1" cy="447.3" r="1.4" fill="#6cbf45"/><circle cx="318.2" cy="465.9" r="1.0" fill="#6cbf45"/><circle cx="309.8" cy="454.6" r="1.4" fill="#6cbf45"/><circle cx="294.6" cy="435.1" r="1.8" fill="#6cbf45"/><circle cx="315.2" cy="459.6" r="1.2" fill="#6cbf45"/><circle cx="274.4" cy="458.8" r="1.8" fill="#6cbf45"/><circle cx="296.8" cy="427.1" r="1.0" fill="#6cbf45"/><circle cx="307.1" cy="471.8" r="1.2" fill="#6cbf45"/><circle cx="291.2" cy="432.6" r="1.2" fill="#6cbf45"/><circle cx="341.2" cy="447.8" r="1.2" fill="#6cbf45"/><circle cx="315.4" cy="446.9" r="1.0" fill="#6cbf45"/><circle cx="287.3" cy="441.1" r="1.2" fill="#6cbf45"/><circle cx="301.6" cy="451.7" r="1.4" fill="#6cbf45"/><circle cx="309.5" cy="451.0" r="1.8" fill="#6cbf45"/><circle cx="314.9" cy="432.0" r="1.8" fill="#6cbf45"/><circle cx="322.8" cy="447.8" r="1.8" fill="#6cbf45"/><circle cx="303.4" cy="461.4" r="1.2" fill="#6cbf45"/><circle cx="305.9" cy="438.3" r="1.4" fill="#6cbf45"/><circle cx="288.3" cy="421.4" r="1.4" fill="#6cbf45"/><circle cx="301.6" cy="438.2" r="1.8" fill="#6cbf45"/><circle cx="301.7" cy="457.5" r="1.8" fill="#6cbf45"/><circle cx="349.0" cy="479.0" r="1.2" fill="#6cbf45"/><circle cx="326.3" cy="461.0" r="1.2" fill="#6cbf45"/><circle cx="313.7" cy="457.9" r="1.4" fill="#6cbf45"/><circle cx="300.0" cy="431.0" r="1.8" fill="#6cbf45"/><circle cx="346.6" cy="474.1" r="1.8" fill="#6cbf45"/><circle cx="308.4" cy="434.7" r="1.2" fill="#6cbf45"/><circle cx="296.1" cy="434.3" r="1.25" fill="#a8d08a" stroke="#333" stroke-width="0.45"/><circle cx="294.3" cy="434.5" r="1.25" fill="#6cbf45" stroke="#333" stroke-width="0.45"/><circle cx="308.6" cy="434.6" r="1.25" fill="#d9e6c4" stroke="#333" stroke-width="0.45"/><circle cx="307.8" cy="451.2" r="1.25" fill="#d9e6c4" stroke="#333" stroke-width="0.45"/><circle cx="311.3" cy="451.6" r="1.25" fill="#6cbf45" stroke="#333" stroke-width="0.45"/><circle cx="312.3" cy="433.6" r="1.25" fill="#6cbf45" stroke="#333" stroke-width="0.45"/><circle cx="310.5" cy="447.5" r="1.25" fill="#6cbf45" stroke="#333" stroke-width="0.45"/><circle cx="317.5" cy="444.5" r="1.25" fill="#d9e6c4" stroke="#333" stroke-width="0.45"/><circle cx="288.9" cy="439.6" r="1.25" fill="#d9e6c4" stroke="#333" stroke-width="0.45"/><circle cx="320.2" cy="448.7" r="1.25" fill="#d9e6c4" stroke="#333" stroke-width="0.45"/><circle cx="304.9" cy="444.4" r="1.25" fill="#d9e6c4" stroke="#333" stroke-width="0.45"/><circle cx="283.7" cy="439.2" r="1.25" fill="#a8d08a" stroke="#333" stroke-width="0.45"/><circle cx="307.7" cy="441.3" r="1.25" fill="#d9e6c4" stroke="#333" stroke-width="0.45"/><circle cx="301.5" cy="455.9" r="1.25" fill="#6cbf45" stroke="#333" stroke-width="0.45"/><circle cx="317.9" cy="440.8" r="1.25" fill="#d9e6c4" stroke="#333" stroke-width="0.45"/><circle cx="315.5" cy="436.0" r="1.25" fill="#d9e6c4" stroke="#333" stroke-width="0.45"/><circle cx="298.3" cy="444.2" r="1.25" fill="#6cbf45" stroke="#333" stroke-width="0.45"/><circle cx="307.2" cy="430.9" r="1.25" fill="#d9e6c4" stroke="#333" stroke-width="0.45"/><circle cx="283.7" cy="437.2" r="1.25" fill="#6cbf45" stroke="#333" stroke-width="0.45"/><circle cx="295.1" cy="435.1" r="1.25" fill="#d9e6c4" stroke="#333" stroke-width="0.45"/><circle cx="320.7" cy="448.8" r="1.25" fill="#6cbf45" stroke="#333" stroke-width="0.45"/><circle cx="288.9" cy="436.8" r="1.25" fill="#d9e6c4" stroke="#333" stroke-width="0.45"/><circle cx="300.2" cy="451.4" r="1.25" fill="#a8d08a" stroke="#333" stroke-width="0.45"/><circle cx="313.9" cy="448.3" r="1.25" fill="#d9e6c4" stroke="#333" stroke-width="0.45"/><circle cx="311.5" cy="453.2" r="1.25" fill="#a8d08a" stroke="#333" stroke-width="0.45"/><circle cx="316.4" cy="455.5" r="1.25" fill="#a8d08a" stroke="#333" stroke-width="0.45"/><circle cx="315.9" cy="458.0" r="1.25" fill="#d9e6c4" stroke="#333" stroke-width="0.45"/><circle cx="319.7" cy="449.0" r="1.25" fill="#a8d08a" stroke="#333" stroke-width="0.45"/><circle cx="285.2" cy="437.7" r="1.25" fill="#a8d08a" stroke="#333" stroke-width="0.45"/><circle cx="307.5" cy="449.7" r="1.25" fill="#6cbf45" stroke="#333" stroke-width="0.45"/><circle cx="297.7" cy="437.9" r="1.25" fill="#6cbf45" stroke="#333" stroke-width="0.45"/><circle cx="301.5" cy="462.5" r="1.25" fill="#a8d08a" stroke="#333" stroke-width="0.45"/><circle cx="298.5" cy="437.0" r="1.25" fill="#6cbf45" stroke="#333" stroke-width="0.45"/><circle cx="307.0" cy="435.5" r="1.25" fill="#d9e6c4" stroke="#333" stroke-width="0.45"/><circle cx="295.4" cy="421.2" r="1.25" fill="#d9e6c4" stroke="#333" stroke-width="0.45"/><circle cx="312.9" cy="442.1" r="1.25" fill="#a8d08a" stroke="#333" stroke-width="0.45"/><circle cx="316.2" cy="438.6" r="1.25" fill="#d9e6c4" stroke="#333" stroke-width="0.45"/><circle cx="304.7" cy="446.2" r="1.25" fill="#a8d08a" stroke="#333" stroke-width="0.45"/><circle cx="315.5" cy="442.2" r="1.25" fill="#d9e6c4" stroke="#333" stroke-width="0.45"/><circle cx="281.3" cy="442.6" r="1.25" fill="#6cbf45" stroke="#333" stroke-width="0.45"/><circle cx="309.0" cy="442.4" r="1.25" fill="#d9e6c4" stroke="#333" stroke-width="0.45"/><circle cx="306.8" cy="438.0" r="1.25" fill="#d9e6c4" stroke="#333" stroke-width="0.45"/><circle cx="305.2" cy="430.9" r="1.25" fill="#6cbf45" stroke="#333" stroke-width="0.45"/><circle cx="296.6" cy="442.3" r="1.25" fill="#a8d08a" stroke="#333" stroke-width="0.45"/><circle cx="307.3" cy="437.4" r="1.25" fill="#d9e6c4" stroke="#333" stroke-width="0.45"/><circle cx="312.8" cy="433.8" r="1.25" fill="#a8d08a" stroke="#333" stroke-width="0.45"/><circle cx="297.9" cy="431.7" r="1.25" fill="#6cbf45" stroke="#333" stroke-width="0.45"/><circle cx="309.0" cy="450.5" r="1.25" fill="#6cbf45" stroke="#333" stroke-width="0.45"/><circle cx="301.9" cy="426.4" r="1.25" fill="#d9e6c4" stroke="#333" stroke-width="0.45"/><circle cx="312.7" cy="447.6" r="1.25" fill="#a8d08a" stroke="#333" stroke-width="0.45"/><circle cx="275.3" cy="438.3" r="1.25" fill="#d9e6c4" stroke="#333" stroke-width="0.45"/><circle cx="295.2" cy="438.5" r="1.25" fill="#6cbf45" stroke="#333" stroke-width="0.45"/><circle cx="330.6" cy="444.4" r="1.25" fill="#d9e6c4" stroke="#333" stroke-width="0.45"/><circle cx="307.2" cy="449.2" r="1.25" fill="#a8d08a" stroke="#333" stroke-width="0.45"/><circle cx="289.6" cy="438.8" r="1.25" fill="#6cbf45" stroke="#333" stroke-width="0.45"/><circle cx="298.0" cy="418.8" r="1.25" fill="#d9e6c4" stroke="#333" stroke-width="0.45"/><circle cx="298.8" cy="444.4" r="1.25" fill="#a8d08a" stroke="#333" stroke-width="0.45"/><circle cx="316.8" cy="445.0" r="1.25" fill="#a8d08a" stroke="#333" stroke-width="0.45"/><circle cx="289.0" cy="428.1" r="1.25" fill="#6cbf45" stroke="#333" stroke-width="0.45"/><circle cx="299.8" cy="449.8" r="1.25" fill="#a8d08a" stroke="#333" stroke-width="0.45"/><circle cx="307.3" cy="439.2" r="1.25" fill="#6cbf45" stroke="#333" stroke-width="0.45"/><circle cx="299.5" cy="435.4" r="1.25" fill="#6cbf45" stroke="#333" stroke-width="0.45"/><circle cx="313.1" cy="450.6" r="1.25" fill="#d9e6c4" stroke="#333" stroke-width="0.45"/><circle cx="279.3" cy="451.1" r="1.25" fill="#d9e6c4" stroke="#333" stroke-width="0.45"/><circle cx="302.0" cy="432.4" r="1.25" fill="#d9e6c4" stroke="#333" stroke-width="0.45"/><circle cx="315.3" cy="435.3" r="1.25" fill="#6cbf45" stroke="#333" stroke-width="0.45"/><circle cx="325.3" cy="447.9" r="1.25" fill="#6cbf45" stroke="#333" stroke-width="0.45"/><circle cx="315.9" cy="456.0" r="1.25" fill="#6cbf45" stroke="#333" stroke-width="0.45"/><circle cx="311.6" cy="441.2" r="1.25" fill="#6cbf45" stroke="#333" stroke-width="0.45"/><circle cx="302.4" cy="444.3" r="1.25" fill="#6cbf45" stroke="#333" stroke-width="0.45"/><circle cx="290.4" cy="436.6" r="1.25" fill="#d9e6c4" stroke="#333" stroke-width="0.45"/><circle cx="318.5" cy="448.6" r="1.25" fill="#a8d08a" stroke="#333" stroke-width="0.45"/><circle cx="309.7" cy="448.1" r="1.25" fill="#a8d08a" stroke="#333" stroke-width="0.45"/><circle cx="306.5" cy="449.5" r="1.25" fill="#6cbf45" stroke="#333" stroke-width="0.45"/><circle cx="307.9" cy="444.4" r="1.25" fill="#6cbf45" stroke="#333" stroke-width="0.45"/><circle cx="307.2" cy="446.9" r="1.25" fill="#d9e6c4" stroke="#333" stroke-width="0.45"/><circle cx="289.7" cy="439.7" r="1.25" fill="#d9e6c4" stroke="#333" stroke-width="0.45"/><circle cx="315.7" cy="434.1" r="1.25" fill="#d9e6c4" stroke="#333" stroke-width="0.45"/><circle cx="299.7" cy="434.8" r="1.25" fill="#d9e6c4" stroke="#333" stroke-width="0.45"/><circle cx="312.4" cy="441.4" r="1.25" fill="#a8d08a" stroke="#333" stroke-width="0.45"/><circle cx="285.3" cy="433.8" r="1.25" fill="#a8d08a" stroke="#333" stroke-width="0.45"/><circle cx="292.1" cy="429.9" r="1.25" fill="#d9e6c4" stroke="#333" stroke-width="0.45"/><circle cx="312.8" cy="440.0" r="1.25" fill="#6cbf45" stroke="#333" stroke-width="0.45"/><circle cx="273.7" cy="428.3" r="1.25" fill="#d9e6c4" stroke="#333" stroke-width="0.45"/><circle cx="311.7" cy="453.0" r="1.25" fill="#a8d08a" stroke="#333" stroke-width="0.45"/><circle cx="314.9" cy="444.4" r="1.25" fill="#a8d08a" stroke="#333" stroke-width="0.45"/><circle cx="301.3" cy="445.9" r="1.25" fill="#a8d08a" stroke="#333" stroke-width="0.45"/><circle cx="291.5" cy="441.0" r="1.25" fill="#a8d08a" stroke="#333" stroke-width="0.45"/><circle cx="339.8" cy="450.9" r="1.25" fill="#d9e6c4" stroke="#333" stroke-width="0.45"/><circle cx="305.9" cy="446.8" r="1.25" fill="#d9e6c4" stroke="#333" stroke-width="0.45"/><circle cx="327.7" cy="474.0" r="1.25" fill="#6cbf45" stroke="#333" stroke-width="0.45"/><circle cx="324.9" cy="458.4" r="1.25" fill="#6cbf45" stroke="#333" stroke-width="0.45"/><circle cx="331.3" cy="462.3" r="1.25" fill="#a8d08a" stroke="#333" stroke-width="0.45"/><circle cx="322.1" cy="456.2" r="1.25" fill="#6cbf45" stroke="#333" stroke-width="0.45"/><circle cx="333.8" cy="465.7" r="1.25" fill="#a8d08a" stroke="#333" stroke-width="0.45"/><circle cx="333.0" cy="480.5" r="1.25" fill="#d9e6c4" stroke="#333" stroke-width="0.45"/><circle cx="346.6" cy="484.2" r="1.25" fill="#d9e6c4" stroke="#333" stroke-width="0.45"/><circle cx="332.5" cy="480.2" r="1.25" fill="#d9e6c4" stroke="#333" stroke-width="0.45"/><circle cx="336.2" cy="477.5" r="1.25" fill="#6cbf45" stroke="#333" stroke-width="0.45"/><circle cx="337.0" cy="470.8" r="1.25" fill="#d9e6c4" stroke="#333" stroke-width="0.45"/><circle cx="326.9" cy="482.1" r="1.25" fill="#6cbf45" stroke="#333" stroke-width="0.45"/><circle cx="338.5" cy="466.1" r="1.25" fill="#d9e6c4" stroke="#333" stroke-width="0.45"/><circle cx="341.2" cy="488.0" r="1.25" fill="#d9e6c4" stroke="#333" stroke-width="0.45"/><circle cx="340.3" cy="472.4" r="1.25" fill="#d9e6c4" stroke="#333" stroke-width="0.45"/><circle cx="337.0" cy="470.0" r="1.25" fill="#a8d08a" stroke="#333" stroke-width="0.45"/><circle cx="330.7" cy="468.3" r="1.25" fill="#d9e6c4" stroke="#333" stroke-width="0.45"/><circle cx="343.6" cy="483.1" r="1.25" fill="#d9e6c4" stroke="#333" stroke-width="0.45"/><circle cx="319.2" cy="464.6" r="1.25" fill="#a8d08a" stroke="#333" stroke-width="0.45"/><circle cx="336.1" cy="491.8" r="1.25" fill="#d9e6c4" stroke="#333" stroke-width="0.45"/><circle cx="327.1" cy="462.5" r="1.25" fill="#6cbf45" stroke="#333" stroke-width="0.45"/><circle cx="332.5" cy="470.6" r="1.25" fill="#6cbf45" stroke="#333" stroke-width="0.45"/><circle cx="321.0" cy="455.7" r="1.25" fill="#6cbf45" stroke="#333" stroke-width="0.45"/><circle cx="352.2" cy="485.3" r="1.25" fill="#d9e6c4" stroke="#333" stroke-width="0.45"/><circle cx="326.5" cy="479.3" r="1.25" fill="#d9e6c4" stroke="#333" stroke-width="0.45"/><circle cx="343.3" cy="476.9" r="1.25" fill="#6cbf45" stroke="#333" stroke-width="0.45"/><circle cx="325.8" cy="455.6" r="1.25" fill="#d9e6c4" stroke="#333" stroke-width="0.45"/><circle cx="342.0" cy="471.2" r="1.25" fill="#a8d08a" stroke="#333" stroke-width="0.45"/><circle cx="315.9" cy="462.6" r="1.25" fill="#d9e6c4" stroke="#333" stroke-width="0.45"/><circle cx="340.5" cy="488.3" r="1.25" fill="#d9e6c4" stroke="#333" stroke-width="0.45"/><circle cx="343.7" cy="464.1" r="1.25" fill="#d9e6c4" stroke="#333" stroke-width="0.45"/><circle cx="344.2" cy="502.1" r="1.6" fill="#6cbf45" stroke="#333" stroke-width="0.45"/><circle cx="307.3" cy="481.5" r="1.9" fill="#6cbf45" stroke="#333" stroke-width="0.45"/><circle cx="343.3" cy="485.5" r="2.2" fill="#6cbf45" stroke="#333" stroke-width="0.45"/><circle cx="347.7" cy="497.5" r="2.2" fill="#6cbf45" stroke="#333" stroke-width="0.45"/><circle cx="313.6" cy="506.2" r="1.9" fill="#6cbf45" stroke="#333" stroke-width="0.45"/><circle cx="338.9" cy="475.9" r="2.2" fill="#6cbf45" stroke="#333" stroke-width="0.45"/><circle cx="312.5" cy="494.4" r="1.9" fill="#6cbf45" stroke="#333" stroke-width="0.45"/><circle cx="336.0" cy="491.4" r="1.9" fill="#6cbf45" stroke="#333" stroke-width="0.45"/><circle cx="293.3" cy="492.9" r="1.9" fill="#6cbf45" stroke="#333" stroke-width="0.45"/><circle cx="299.1" cy="470.9" r="1.9" fill="#6cbf45" stroke="#333" stroke-width="0.45"/><circle cx="307.1" cy="482.2" r="1.9" fill="#6cbf45" stroke="#333" stroke-width="0.45"/><circle cx="352.5" cy="483.8" r="2.2" fill="#6cbf45" stroke="#333" stroke-width="0.45"/><circle cx="296.2" cy="490.3" r="2.2" fill="#6cbf45" stroke="#333" stroke-width="0.45"/><circle cx="306.9" cy="491.8" r="2.2" fill="#6cbf45" stroke="#333" stroke-width="0.45"/><circle cx="334.1" cy="504.6" r="1.9" fill="#6cbf45" stroke="#333" stroke-width="0.45"/><circle cx="350.6" cy="486.2" r="1.6" fill="#6cbf45" stroke="#333" stroke-width="0.45"/><path d="M301.1 407.8L288.5 422.0" stroke="#222" stroke-width="0.55" stroke-dasharray="1.6 0.7"/><circle cx="303.9" cy="404.7" r="3.6" fill="#111"/><text x="303.9" y="406.7" font-size="5.6" font-weight="bold" fill="#fff" text-anchor="middle">4</text><rect x="368.6" y="143.2" width="315" height="262.9" fill="none" stroke="#9a9a9a" stroke-width="0.8" stroke-dasharray="2.4 1.8"/><rect x="368.6" y="419.4" width="315" height="94.4" fill="none" stroke="#9a9a9a" stroke-width="0.8" stroke-dasharray="2.4 1.8"/><circle cx="380.8" cy="138.4" r="1.1" fill="#4e56b4"/><text x="385.8" y="140.3" font-size="7.55" fill="#4e56b4">cGxTr-TCRαβ (query)</text><circle cx="471" cy="138.4" r="1.1" fill="#e23a72"/><text x="474.5" y="140.3" font-size="7.55" fill="#e23a72">cGxTr-TCRαβ (reference)</text><polygon points="566.40,136.40 566.80,137.35 567.83,137.44 567.04,138.11 567.28,139.11 566.40,138.58 565.52,139.11 565.76,138.11 564.97,137.44 566.00,137.35" fill="#222"/><text x="571.7" y="140.3" font-size="7.55" fill="#231f20">Clonal expanded</text><circle cx="380.8" cy="414.6" r="1.1" fill="#4e56b4"/><text x="385.8" y="416.5" font-size="7.55" fill="#4e56b4">cGxTr-TCRαβ (query)</text><circle cx="471" cy="414.6" r="1.1" fill="#e23a72"/><text x="474.5" y="416.5" font-size="7.55" fill="#e23a72">cGxTr-TCRαβ (reference)</text><polygon points="566.40,412.60 566.80,413.55 567.83,413.64 567.04,414.31 567.28,415.31 566.40,414.78 565.52,415.31 565.76,414.31 564.97,413.64 566.00,413.55" fill="#222"/><text x="571.7" y="416.5" font-size="7.55" fill="#231f20">Clonal expanded</text><g transform="translate(600.00 148.00) scale(0.462 0.455) translate(-5.4 -350.2)"><path d="M90.5 350.2C93.6 350.2 96.9 358.1 98.9 360.4C100.9 362.7 100.3 362.6 102.4 364.0C104.5 365.4 107.6 368.7 111.3 368.6C115.0 368.6 121.1 363.3 124.8 363.7C128.5 364.1 131.3 367.0 133.7 370.8C136.1 374.6 137.1 382.6 139.3 386.5C141.6 390.4 143.6 392.2 147.2 394.3C150.8 396.4 156.9 396.4 160.6 398.8C164.3 401.2 166.5 405.4 169.5 408.9C172.5 412.4 177.1 417.4 178.5 420.0C179.9 422.6 179.1 422.1 177.7 424.3C176.3 426.5 174.2 430.1 170.1 433.0C165.9 435.9 158.9 439.2 152.8 441.7C146.7 444.2 137.5 444.6 133.3 448.2C129.2 451.8 128.5 457.9 127.9 463.3C127.4 468.7 130.4 476.3 130.0 480.6C129.6 484.9 128.0 487.9 125.7 489.3C123.4 490.8 118.5 490.4 116.0 489.3C113.5 488.2 112.0 485.7 110.6 482.8C109.2 479.9 108.4 475.2 107.8 472.0C107.2 468.8 107.7 467.7 106.8 463.3C105.9 458.9 105.0 450.0 102.5 445.6C100.0 441.2 93.8 441.1 91.8 436.8C89.8 432.5 91.0 427.8 90.6 420.0C90.2 412.2 89.5 399.0 89.2 390.0C88.9 381.0 90.3 370.9 88.8 366.0C87.3 361.1 79.9 363.0 80.2 360.4C80.5 357.8 87.4 350.2 90.5 350.2Z" fill="url(#mg)"/><path d="M82.0 361.4C79.9 361.4 76.4 363.1 74.6 366.0C72.8 368.9 73.4 375.1 70.9 379.1C68.4 383.2 63.1 386.9 59.7 390.3C56.3 393.7 52.9 395.9 50.4 399.6C47.9 403.3 46.0 409.0 44.8 412.7C43.5 416.4 43.1 418.6 42.9 422.0C42.6 425.4 42.7 428.3 43.3 433.0C43.9 437.7 46.6 446.0 46.6 450.3C46.6 454.6 45.6 455.0 43.3 459.0C40.9 463.0 35.0 468.7 32.5 474.1C30.0 479.5 28.6 485.4 28.2 491.5C27.8 497.6 27.8 505.9 30.3 511.0C32.8 516.0 38.2 520.7 43.3 521.8C48.3 522.9 53.4 520.4 60.6 517.5C67.8 514.6 78.6 508.8 86.6 504.5C94.5 500.2 104.6 496.2 108.3 491.5C112.0 486.8 109.2 481.0 108.7 476.3C108.2 471.6 106.7 468.3 105.4 463.3C104.1 458.3 103.6 450.6 101.1 446.4C98.6 442.1 92.3 442.2 90.3 437.8C88.3 433.4 89.6 428.0 89.2 420.0C88.8 412.0 88.1 399.0 87.8 390.0C87.5 381.0 88.2 370.8 87.2 366.0C86.2 361.2 84.1 361.4 82.0 361.4Z" fill="url(#mg)"/><path d="M5.4 454.7C6.0 452.5 2.2 451.0 8.7 450.3C15.2 449.6 40.4 445.2 44.4 450.3C48.4 455.4 36.3 474.1 32.5 480.6C28.7 487.1 24.9 488.9 21.7 489.3C18.4 489.7 15.7 487.1 13.0 482.8C10.3 478.5 6.7 468.0 5.4 463.3C4.1 458.6 4.9 456.9 5.4 454.7Z" fill="url(#mg)"/><path d="M82.0 361.4C79.9 361.4 76.4 363.1 74.6 366.0C72.8 368.9 73.4 375.1 70.9 379.1C68.4 383.2 63.1 386.9 59.7 390.3C56.3 393.7 52.9 395.9 50.4 399.6C47.9 403.3 46.0 409.0 44.8 412.7C43.5 416.4 43.1 418.6 42.9 422.0C42.6 425.4 42.7 428.3 43.3 433.0C43.9 437.7 46.6 446.0 46.6 450.3C46.6 454.6 45.6 455.0 43.3 459.0C40.9 463.0 35.0 468.7 32.5 474.1C30.0 479.5 28.6 485.4 28.2 491.5C27.8 497.6 27.8 505.9 30.3 511.0C32.8 516.0 38.2 520.7 43.3 521.8C48.3 522.9 53.4 520.4 60.6 517.5C67.8 514.6 78.6 508.8 86.6 504.5C94.5 500.2 104.6 496.2 108.3 491.5C112.0 486.8 109.2 481.0 108.7 476.3C108.2 471.6 106.7 468.3 105.4 463.3C104.1 458.3 103.6 450.6 101.1 446.4C98.6 442.1 92.3 442.2 90.3 437.8C88.3 433.4 89.6 428.0 89.2 420.0C88.8 412.0 88.1 399.0 87.8 390.0C87.5 381.0 88.2 370.8 87.2 366.0C86.2 361.2 84.1 361.4 82.0 361.4Z" fill="#e8e6e4" opacity="0.5"/><path d="M5.4 454.7C6.0 452.5 2.2 451.0 8.7 450.3C15.2 449.6 40.4 445.2 44.4 450.3C48.4 455.4 36.3 474.1 32.5 480.6C28.7 487.1 24.9 488.9 21.7 489.3C18.4 489.7 15.7 487.1 13.0 482.8C10.3 478.5 6.7 468.0 5.4 463.3C4.1 458.6 4.9 456.9 5.4 454.7Z" fill="#ebe9e7" opacity="0.6"/><path d="M82.0 361.4C79.9 361.4 76.4 363.1 74.6 366.0C72.8 368.9 73.4 375.1 70.9 379.1C68.4 383.2 63.1 386.9 59.7 390.3C56.3 393.7 52.9 395.9 50.4 399.6C47.9 403.3 46.0 409.0 44.8 412.7C43.5 416.4 43.1 418.6 42.9 422.0C42.6 425.4 42.7 428.3 43.3 433.0C43.9 437.7 46.6 446.0 46.6 450.3C46.6 454.6 45.6 455.0 43.3 459.0C40.9 463.0 35.0 468.7 32.5 474.1C30.0 479.5 28.6 485.4 28.2 491.5C27.8 497.6 27.8 505.9 30.3 511.0C32.8 516.0 38.2 520.7 43.3 521.8C48.3 522.9 53.4 520.4 60.6 517.5C67.8 514.6 78.6 508.8 86.6 504.5C94.5 500.2 104.6 496.2 108.3 491.5C112.0 486.8 109.2 481.0 108.7 476.3C108.2 471.6 106.7 468.3 105.4 463.3C104.1 458.3 103.6 450.6 101.1 446.4C98.6 442.1 92.3 442.2 90.3 437.8C88.3 433.4 89.6 428.0 89.2 420.0C88.8 412.0 88.1 399.0 87.8 390.0C87.5 381.0 88.2 370.8 87.2 366.0C86.2 361.2 84.1 361.4 82.0 361.4Z" fill="none" stroke="#4ab6df" stroke-width="1.7" stroke-dasharray="0.1 4.2" stroke-linecap="round"/><path d="M90.5 350.2C93.6 350.2 96.9 358.1 98.9 360.4C100.9 362.7 100.3 362.6 102.4 364.0C104.5 365.4 107.6 368.7 111.3 368.6C115.0 368.6 121.1 363.3 124.8 363.7C128.5 364.1 131.3 367.0 133.7 370.8C136.1 374.6 137.1 382.6 139.3 386.5C141.6 390.4 143.6 392.2 147.2 394.3C150.8 396.4 156.9 396.4 160.6 398.8C164.3 401.2 166.5 405.4 169.5 408.9C172.5 412.4 177.1 417.4 178.5 420.0C179.9 422.6 179.1 422.1 177.7 424.3C176.3 426.5 174.2 430.1 170.1 433.0C165.9 435.9 158.9 439.2 152.8 441.7C146.7 444.2 137.5 444.6 133.3 448.2C129.2 451.8 128.5 457.9 127.9 463.3C127.4 468.7 130.4 476.3 130.0 480.6C129.6 484.9 128.0 487.9 125.7 489.3C123.4 490.8 118.5 490.4 116.0 489.3C113.5 488.2 112.0 485.7 110.6 482.8C109.2 479.9 108.4 475.2 107.8 472.0C107.2 468.8 107.7 467.7 106.8 463.3C105.9 458.9 105.0 450.0 102.5 445.6C100.0 441.2 93.8 441.1 91.8 436.8C89.8 432.5 91.0 427.8 90.6 420.0C90.2 412.2 89.5 399.0 89.2 390.0C88.9 381.0 90.3 370.9 88.8 366.0C87.3 361.1 79.9 363.0 80.2 360.4C80.5 357.8 87.4 350.2 90.5 350.2Z" fill="none" stroke="#efb55e" stroke-width="1.7" stroke-dasharray="0.1 4.2" stroke-linecap="round"/><path d="M5.4 454.7C6.0 452.5 2.2 451.0 8.7 450.3C15.2 449.6 40.4 445.2 44.4 450.3C48.4 455.4 36.3 474.1 32.5 480.6C28.7 487.1 24.9 488.9 21.7 489.3C18.4 489.7 15.7 487.1 13.0 482.8C10.3 478.5 6.7 468.0 5.4 463.3C4.1 458.6 4.9 456.9 5.4 454.7Z" fill="none" stroke="#efb55e" stroke-width="1.7" stroke-dasharray="0.1 4.2" stroke-linecap="round"/></g><g transform="translate(600.60 234.70) scale(0.461 0.455) translate(-5.4 -350.2)"><path d="M90.5 350.2C93.6 350.2 96.9 358.1 98.9 360.4C100.9 362.7 100.3 362.6 102.4 364.0C104.5 365.4 107.6 368.7 111.3 368.6C115.0 368.6 121.1 363.3 124.8 363.7C128.5 364.1 131.3 367.0 133.7 370.8C136.1 374.6 137.1 382.6 139.3 386.5C141.6 390.4 143.6 392.2 147.2 394.3C150.8 396.4 156.9 396.4 160.6 398.8C164.3 401.2 166.5 405.4 169.5 408.9C172.5 412.4 177.1 417.4 178.5 420.0C179.9 422.6 179.1 422.1 177.7 424.3C176.3 426.5 174.2 430.1 170.1 433.0C165.9 435.9 158.9 439.2 152.8 441.7C146.7 444.2 137.5 444.6 133.3 448.2C129.2 451.8 128.5 457.9 127.9 463.3C127.4 468.7 130.4 476.3 130.0 480.6C129.6 484.9 128.0 487.9 125.7 489.3C123.4 490.8 118.5 490.4 116.0 489.3C113.5 488.2 112.0 485.7 110.6 482.8C109.2 479.9 108.4 475.2 107.8 472.0C107.2 468.8 107.7 467.7 106.8 463.3C105.9 458.9 105.0 450.0 102.5 445.6C100.0 441.2 93.8 441.1 91.8 436.8C89.8 432.5 91.0 427.8 90.6 420.0C90.2 412.2 89.5 399.0 89.2 390.0C88.9 381.0 90.3 370.9 88.8 366.0C87.3 361.1 79.9 363.0 80.2 360.4C80.5 357.8 87.4 350.2 90.5 350.2Z" fill="url(#mg)"/><path d="M82.0 361.4C79.9 361.4 76.4 363.1 74.6 366.0C72.8 368.9 73.4 375.1 70.9 379.1C68.4 383.2 63.1 386.9 59.7 390.3C56.3 393.7 52.9 395.9 50.4 399.6C47.9 403.3 46.0 409.0 44.8 412.7C43.5 416.4 43.1 418.6 42.9 422.0C42.6 425.4 42.7 428.3 43.3 433.0C43.9 437.7 46.6 446.0 46.6 450.3C46.6 454.6 45.6 455.0 43.3 459.0C40.9 463.0 35.0 468.7 32.5 474.1C30.0 479.5 28.6 485.4 28.2 491.5C27.8 497.6 27.8 505.9 30.3 511.0C32.8 516.0 38.2 520.7 43.3 521.8C48.3 522.9 53.4 520.4 60.6 517.5C67.8 514.6 78.6 508.8 86.6 504.5C94.5 500.2 104.6 496.2 108.3 491.5C112.0 486.8 109.2 481.0 108.7 476.3C108.2 471.6 106.7 468.3 105.4 463.3C104.1 458.3 103.6 450.6 101.1 446.4C98.6 442.1 92.3 442.2 90.3 437.8C88.3 433.4 89.6 428.0 89.2 420.0C88.8 412.0 88.1 399.0 87.8 390.0C87.5 381.0 88.2 370.8 87.2 366.0C86.2 361.2 84.1 361.4 82.0 361.4Z" fill="url(#mg)"/><path d="M5.4 454.7C6.0 452.5 2.2 451.0 8.7 450.3C15.2 449.6 40.4 445.2 44.4 450.3C48.4 455.4 36.3 474.1 32.5 480.6C28.7 487.1 24.9 488.9 21.7 489.3C18.4 489.7 15.7 487.1 13.0 482.8C10.3 478.5 6.7 468.0 5.4 463.3C4.1 458.6 4.9 456.9 5.4 454.7Z" fill="url(#mg)"/><path d="M82.0 361.4C79.9 361.4 76.4 363.1 74.6 366.0C72.8 368.9 73.4 375.1 70.9 379.1C68.4 383.2 63.1 386.9 59.7 390.3C56.3 393.7 52.9 395.9 50.4 399.6C47.9 403.3 46.0 409.0 44.8 412.7C43.5 416.4 43.1 418.6 42.9 422.0C42.6 425.4 42.7 428.3 43.3 433.0C43.9 437.7 46.6 446.0 46.6 450.3C46.6 454.6 45.6 455.0 43.3 459.0C40.9 463.0 35.0 468.7 32.5 474.1C30.0 479.5 28.6 485.4 28.2 491.5C27.8 497.6 27.8 505.9 30.3 511.0C32.8 516.0 38.2 520.7 43.3 521.8C48.3 522.9 53.4 520.4 60.6 517.5C67.8 514.6 78.6 508.8 86.6 504.5C94.5 500.2 104.6 496.2 108.3 491.5C112.0 486.8 109.2 481.0 108.7 476.3C108.2 471.6 106.7 468.3 105.4 463.3C104.1 458.3 103.6 450.6 101.1 446.4C98.6 442.1 92.3 442.2 90.3 437.8C88.3 433.4 89.6 428.0 89.2 420.0C88.8 412.0 88.1 399.0 87.8 390.0C87.5 381.0 88.2 370.8 87.2 366.0C86.2 361.2 84.1 361.4 82.0 361.4Z" fill="#e8e6e4" opacity="0.5"/><path d="M5.4 454.7C6.0 452.5 2.2 451.0 8.7 450.3C15.2 449.6 40.4 445.2 44.4 450.3C48.4 455.4 36.3 474.1 32.5 480.6C28.7 487.1 24.9 488.9 21.7 489.3C18.4 489.7 15.7 487.1 13.0 482.8C10.3 478.5 6.7 468.0 5.4 463.3C4.1 458.6 4.9 456.9 5.4 454.7Z" fill="#ebe9e7" opacity="0.6"/><path d="M82.0 361.4C79.9 361.4 76.4 363.1 74.6 366.0C72.8 368.9 73.4 375.1 70.9 379.1C68.4 383.2 63.1 386.9 59.7 390.3C56.3 393.7 52.9 395.9 50.4 399.6C47.9 403.3 46.0 409.0 44.8 412.7C43.5 416.4 43.1 418.6 42.9 422.0C42.6 425.4 42.7 428.3 43.3 433.0C43.9 437.7 46.6 446.0 46.6 450.3C46.6 454.6 45.6 455.0 43.3 459.0C40.9 463.0 35.0 468.7 32.5 474.1C30.0 479.5 28.6 485.4 28.2 491.5C27.8 497.6 27.8 505.9 30.3 511.0C32.8 516.0 38.2 520.7 43.3 521.8C48.3 522.9 53.4 520.4 60.6 517.5C67.8 514.6 78.6 508.8 86.6 504.5C94.5 500.2 104.6 496.2 108.3 491.5C112.0 486.8 109.2 481.0 108.7 476.3C108.2 471.6 106.7 468.3 105.4 463.3C104.1 458.3 103.6 450.6 101.1 446.4C98.6 442.1 92.3 442.2 90.3 437.8C88.3 433.4 89.6 428.0 89.2 420.0C88.8 412.0 88.1 399.0 87.8 390.0C87.5 381.0 88.2 370.8 87.2 366.0C86.2 361.2 84.1 361.4 82.0 361.4Z" fill="none" stroke="#4ab6df" stroke-width="1.7" stroke-dasharray="0.1 4.2" stroke-linecap="round"/><path d="M90.5 350.2C93.6 350.2 96.9 358.1 98.9 360.4C100.9 362.7 100.3 362.6 102.4 364.0C104.5 365.4 107.6 368.7 111.3 368.6C115.0 368.6 121.1 363.3 124.8 363.7C128.5 364.1 131.3 367.0 133.7 370.8C136.1 374.6 137.1 382.6 139.3 386.5C141.6 390.4 143.6 392.2 147.2 394.3C150.8 396.4 156.9 396.4 160.6 398.8C164.3 401.2 166.5 405.4 169.5 408.9C172.5 412.4 177.1 417.4 178.5 420.0C179.9 422.6 179.1 422.1 177.7 424.3C176.3 426.5 174.2 430.1 170.1 433.0C165.9 435.9 158.9 439.2 152.8 441.7C146.7 444.2 137.5 444.6 133.3 448.2C129.2 451.8 128.5 457.9 127.9 463.3C127.4 468.7 130.4 476.3 130.0 480.6C129.6 484.9 128.0 487.9 125.7 489.3C123.4 490.8 118.5 490.4 116.0 489.3C113.5 488.2 112.0 485.7 110.6 482.8C109.2 479.9 108.4 475.2 107.8 472.0C107.2 468.8 107.7 467.7 106.8 463.3C105.9 458.9 105.0 450.0 102.5 445.6C100.0 441.2 93.8 441.1 91.8 436.8C89.8 432.5 91.0 427.8 90.6 420.0C90.2 412.2 89.5 399.0 89.2 390.0C88.9 381.0 90.3 370.9 88.8 366.0C87.3 361.1 79.9 363.0 80.2 360.4C80.5 357.8 87.4 350.2 90.5 350.2Z" fill="none" stroke="#efb55e" stroke-width="1.7" stroke-dasharray="0.1 4.2" stroke-linecap="round"/><path d="M5.4 454.7C6.0 452.5 2.2 451.0 8.7 450.3C15.2 449.6 40.4 445.2 44.4 450.3C48.4 455.4 36.3 474.1 32.5 480.6C28.7 487.1 24.9 488.9 21.7 489.3C18.4 489.7 15.7 487.1 13.0 482.8C10.3 478.5 6.7 468.0 5.4 463.3C4.1 458.6 4.9 456.9 5.4 454.7Z" fill="none" stroke="#efb55e" stroke-width="1.7" stroke-dasharray="0.1 4.2" stroke-linecap="round"/></g><g transform="translate(601.00 322.40) scale(0.461 0.46) translate(-5.4 -350.2)"><path d="M90.5 350.2C93.6 350.2 96.9 358.1 98.9 360.4C100.9 362.7 100.3 362.6 102.4 364.0C104.5 365.4 107.6 368.7 111.3 368.6C115.0 368.6 121.1 363.3 124.8 363.7C128.5 364.1 131.3 367.0 133.7 370.8C136.1 374.6 137.1 382.6 139.3 386.5C141.6 390.4 143.6 392.2 147.2 394.3C150.8 396.4 156.9 396.4 160.6 398.8C164.3 401.2 166.5 405.4 169.5 408.9C172.5 412.4 177.1 417.4 178.5 420.0C179.9 422.6 179.1 422.1 177.7 424.3C176.3 426.5 174.2 430.1 170.1 433.0C165.9 435.9 158.9 439.2 152.8 441.7C146.7 444.2 137.5 444.6 133.3 448.2C129.2 451.8 128.5 457.9 127.9 463.3C127.4 468.7 130.4 476.3 130.0 480.6C129.6 484.9 128.0 487.9 125.7 489.3C123.4 490.8 118.5 490.4 116.0 489.3C113.5 488.2 112.0 485.7 110.6 482.8C109.2 479.9 108.4 475.2 107.8 472.0C107.2 468.8 107.7 467.7 106.8 463.3C105.9 458.9 105.0 450.0 102.5 445.6C100.0 441.2 93.8 441.1 91.8 436.8C89.8 432.5 91.0 427.8 90.6 420.0C90.2 412.2 89.5 399.0 89.2 390.0C88.9 381.0 90.3 370.9 88.8 366.0C87.3 361.1 79.9 363.0 80.2 360.4C80.5 357.8 87.4 350.2 90.5 350.2Z" fill="url(#mg)"/><path d="M82.0 361.4C79.9 361.4 76.4 363.1 74.6 366.0C72.8 368.9 73.4 375.1 70.9 379.1C68.4 383.2 63.1 386.9 59.7 390.3C56.3 393.7 52.9 395.9 50.4 399.6C47.9 403.3 46.0 409.0 44.8 412.7C43.5 416.4 43.1 418.6 42.9 422.0C42.6 425.4 42.7 428.3 43.3 433.0C43.9 437.7 46.6 446.0 46.6 450.3C46.6 454.6 45.6 455.0 43.3 459.0C40.9 463.0 35.0 468.7 32.5 474.1C30.0 479.5 28.6 485.4 28.2 491.5C27.8 497.6 27.8 505.9 30.3 511.0C32.8 516.0 38.2 520.7 43.3 521.8C48.3 522.9 53.4 520.4 60.6 517.5C67.8 514.6 78.6 508.8 86.6 504.5C94.5 500.2 104.6 496.2 108.3 491.5C112.0 486.8 109.2 481.0 108.7 476.3C108.2 471.6 106.7 468.3 105.4 463.3C104.1 458.3 103.6 450.6 101.1 446.4C98.6 442.1 92.3 442.2 90.3 437.8C88.3 433.4 89.6 428.0 89.2 420.0C88.8 412.0 88.1 399.0 87.8 390.0C87.5 381.0 88.2 370.8 87.2 366.0C86.2 361.2 84.1 361.4 82.0 361.4Z" fill="url(#mg)"/><path d="M5.4 454.7C6.0 452.5 2.2 451.0 8.7 450.3C15.2 449.6 40.4 445.2 44.4 450.3C48.4 455.4 36.3 474.1 32.5 480.6C28.7 487.1 24.9 488.9 21.7 489.3C18.4 489.7 15.7 487.1 13.0 482.8C10.3 478.5 6.7 468.0 5.4 463.3C4.1 458.6 4.9 456.9 5.4 454.7Z" fill="url(#mg)"/><path d="M82.0 361.4C79.9 361.4 76.4 363.1 74.6 366.0C72.8 368.9 73.4 375.1 70.9 379.1C68.4 383.2 63.1 386.9 59.7 390.3C56.3 393.7 52.9 395.9 50.4 399.6C47.9 403.3 46.0 409.0 44.8 412.7C43.5 416.4 43.1 418.6 42.9 422.0C42.6 425.4 42.7 428.3 43.3 433.0C43.9 437.7 46.6 446.0 46.6 450.3C46.6 454.6 45.6 455.0 43.3 459.0C40.9 463.0 35.0 468.7 32.5 474.1C30.0 479.5 28.6 485.4 28.2 491.5C27.8 497.6 27.8 505.9 30.3 511.0C32.8 516.0 38.2 520.7 43.3 521.8C48.3 522.9 53.4 520.4 60.6 517.5C67.8 514.6 78.6 508.8 86.6 504.5C94.5 500.2 104.6 496.2 108.3 491.5C112.0 486.8 109.2 481.0 108.7 476.3C108.2 471.6 106.7 468.3 105.4 463.3C104.1 458.3 103.6 450.6 101.1 446.4C98.6 442.1 92.3 442.2 90.3 437.8C88.3 433.4 89.6 428.0 89.2 420.0C88.8 412.0 88.1 399.0 87.8 390.0C87.5 381.0 88.2 370.8 87.2 366.0C86.2 361.2 84.1 361.4 82.0 361.4Z" fill="#e8e6e4" opacity="0.5"/><path d="M5.4 454.7C6.0 452.5 2.2 451.0 8.7 450.3C15.2 449.6 40.4 445.2 44.4 450.3C48.4 455.4 36.3 474.1 32.5 480.6C28.7 487.1 24.9 488.9 21.7 489.3C18.4 489.7 15.7 487.1 13.0 482.8C10.3 478.5 6.7 468.0 5.4 463.3C4.1 458.6 4.9 456.9 5.4 454.7Z" fill="#ebe9e7" opacity="0.6"/><path d="M82.0 361.4C79.9 361.4 76.4 363.1 74.6 366.0C72.8 368.9 73.4 375.1 70.9 379.1C68.4 383.2 63.1 386.9 59.7 390.3C56.3 393.7 52.9 395.9 50.4 399.6C47.9 403.3 46.0 409.0 44.8 412.7C43.5 416.4 43.1 418.6 42.9 422.0C42.6 425.4 42.7 428.3 43.3 433.0C43.9 437.7 46.6 446.0 46.6 450.3C46.6 454.6 45.6 455.0 43.3 459.0C40.9 463.0 35.0 468.7 32.5 474.1C30.0 479.5 28.6 485.4 28.2 491.5C27.8 497.6 27.8 505.9 30.3 511.0C32.8 516.0 38.2 520.7 43.3 521.8C48.3 522.9 53.4 520.4 60.6 517.5C67.8 514.6 78.6 508.8 86.6 504.5C94.5 500.2 104.6 496.2 108.3 491.5C112.0 486.8 109.2 481.0 108.7 476.3C108.2 471.6 106.7 468.3 105.4 463.3C104.1 458.3 103.6 450.6 101.1 446.4C98.6 442.1 92.3 442.2 90.3 437.8C88.3 433.4 89.6 428.0 89.2 420.0C88.8 412.0 88.1 399.0 87.8 390.0C87.5 381.0 88.2 370.8 87.2 366.0C86.2 361.2 84.1 361.4 82.0 361.4Z" fill="none" stroke="#4ab6df" stroke-width="1.7" stroke-dasharray="0.1 4.2" stroke-linecap="round"/><path d="M90.5 350.2C93.6 350.2 96.9 358.1 98.9 360.4C100.9 362.7 100.3 362.6 102.4 364.0C104.5 365.4 107.6 368.7 111.3 368.6C115.0 368.6 121.1 363.3 124.8 363.7C128.5 364.1 131.3 367.0 133.7 370.8C136.1 374.6 137.1 382.6 139.3 386.5C141.6 390.4 143.6 392.2 147.2 394.3C150.8 396.4 156.9 396.4 160.6 398.8C164.3 401.2 166.5 405.4 169.5 408.9C172.5 412.4 177.1 417.4 178.5 420.0C179.9 422.6 179.1 422.1 177.7 424.3C176.3 426.5 174.2 430.1 170.1 433.0C165.9 435.9 158.9 439.2 152.8 441.7C146.7 444.2 137.5 444.6 133.3 448.2C129.2 451.8 128.5 457.9 127.9 463.3C127.4 468.7 130.4 476.3 130.0 480.6C129.6 484.9 128.0 487.9 125.7 489.3C123.4 490.8 118.5 490.4 116.0 489.3C113.5 488.2 112.0 485.7 110.6 482.8C109.2 479.9 108.4 475.2 107.8 472.0C107.2 468.8 107.7 467.7 106.8 463.3C105.9 458.9 105.0 450.0 102.5 445.6C100.0 441.2 93.8 441.1 91.8 436.8C89.8 432.5 91.0 427.8 90.6 420.0C90.2 412.2 89.5 399.0 89.2 390.0C88.9 381.0 90.3 370.9 88.8 366.0C87.3 361.1 79.9 363.0 80.2 360.4C80.5 357.8 87.4 350.2 90.5 350.2Z" fill="none" stroke="#efb55e" stroke-width="1.7" stroke-dasharray="0.1 4.2" stroke-linecap="round"/><path d="M5.4 454.7C6.0 452.5 2.2 451.0 8.7 450.3C15.2 449.6 40.4 445.2 44.4 450.3C48.4 455.4 36.3 474.1 32.5 480.6C28.7 487.1 24.9 488.9 21.7 489.3C18.4 489.7 15.7 487.1 13.0 482.8C10.3 478.5 6.7 468.0 5.4 463.3C4.1 458.6 4.9 456.9 5.4 454.7Z" fill="none" stroke="#efb55e" stroke-width="1.7" stroke-dasharray="0.1 4.2" stroke-linecap="round"/></g><g transform="translate(599.60 427.80) scale(0.463 0.46) translate(-5.4 -350.2)"><path d="M90.5 350.2C93.6 350.2 96.9 358.1 98.9 360.4C100.9 362.7 100.3 362.6 102.4 364.0C104.5 365.4 107.6 368.7 111.3 368.6C115.0 368.6 121.1 363.3 124.8 363.7C128.5 364.1 131.3 367.0 133.7 370.8C136.1 374.6 137.1 382.6 139.3 386.5C141.6 390.4 143.6 392.2 147.2 394.3C150.8 396.4 156.9 396.4 160.6 398.8C164.3 401.2 166.5 405.4 169.5 408.9C172.5 412.4 177.1 417.4 178.5 420.0C179.9 422.6 179.1 422.1 177.7 424.3C176.3 426.5 174.2 430.1 170.1 433.0C165.9 435.9 158.9 439.2 152.8 441.7C146.7 444.2 137.5 444.6 133.3 448.2C129.2 451.8 128.5 457.9 127.9 463.3C127.4 468.7 130.4 476.3 130.0 480.6C129.6 484.9 128.0 487.9 125.7 489.3C123.4 490.8 118.5 490.4 116.0 489.3C113.5 488.2 112.0 485.7 110.6 482.8C109.2 479.9 108.4 475.2 107.8 472.0C107.2 468.8 107.7 467.7 106.8 463.3C105.9 458.9 105.0 450.0 102.5 445.6C100.0 441.2 93.8 441.1 91.8 436.8C89.8 432.5 91.0 427.8 90.6 420.0C90.2 412.2 89.5 399.0 89.2 390.0C88.9 381.0 90.3 370.9 88.8 366.0C87.3 361.1 79.9 363.0 80.2 360.4C80.5 357.8 87.4 350.2 90.5 350.2Z" fill="url(#mg)"/><path d="M82.0 361.4C79.9 361.4 76.4 363.1 74.6 366.0C72.8 368.9 73.4 375.1 70.9 379.1C68.4 383.2 63.1 386.9 59.7 390.3C56.3 393.7 52.9 395.9 50.4 399.6C47.9 403.3 46.0 409.0 44.8 412.7C43.5 416.4 43.1 418.6 42.9 422.0C42.6 425.4 42.7 428.3 43.3 433.0C43.9 437.7 46.6 446.0 46.6 450.3C46.6 454.6 45.6 455.0 43.3 459.0C40.9 463.0 35.0 468.7 32.5 474.1C30.0 479.5 28.6 485.4 28.2 491.5C27.8 497.6 27.8 505.9 30.3 511.0C32.8 516.0 38.2 520.7 43.3 521.8C48.3 522.9 53.4 520.4 60.6 517.5C67.8 514.6 78.6 508.8 86.6 504.5C94.5 500.2 104.6 496.2 108.3 491.5C112.0 486.8 109.2 481.0 108.7 476.3C108.2 471.6 106.7 468.3 105.4 463.3C104.1 458.3 103.6 450.6 101.1 446.4C98.6 442.1 92.3 442.2 90.3 437.8C88.3 433.4 89.6 428.0 89.2 420.0C88.8 412.0 88.1 399.0 87.8 390.0C87.5 381.0 88.2 370.8 87.2 366.0C86.2 361.2 84.1 361.4 82.0 361.4Z" fill="url(#mg)"/><path d="M5.4 454.7C6.0 452.5 2.2 451.0 8.7 450.3C15.2 449.6 40.4 445.2 44.4 450.3C48.4 455.4 36.3 474.1 32.5 480.6C28.7 487.1 24.9 488.9 21.7 489.3C18.4 489.7 15.7 487.1 13.0 482.8C10.3 478.5 6.7 468.0 5.4 463.3C4.1 458.6 4.9 456.9 5.4 454.7Z" fill="url(#mg)"/><path d="M82.0 361.4C79.9 361.4 76.4 363.1 74.6 366.0C72.8 368.9 73.4 375.1 70.9 379.1C68.4 383.2 63.1 386.9 59.7 390.3C56.3 393.7 52.9 395.9 50.4 399.6C47.9 403.3 46.0 409.0 44.8 412.7C43.5 416.4 43.1 418.6 42.9 422.0C42.6 425.4 42.7 428.3 43.3 433.0C43.9 437.7 46.6 446.0 46.6 450.3C46.6 454.6 45.6 455.0 43.3 459.0C40.9 463.0 35.0 468.7 32.5 474.1C30.0 479.5 28.6 485.4 28.2 491.5C27.8 497.6 27.8 505.9 30.3 511.0C32.8 516.0 38.2 520.7 43.3 521.8C48.3 522.9 53.4 520.4 60.6 517.5C67.8 514.6 78.6 508.8 86.6 504.5C94.5 500.2 104.6 496.2 108.3 491.5C112.0 486.8 109.2 481.0 108.7 476.3C108.2 471.6 106.7 468.3 105.4 463.3C104.1 458.3 103.6 450.6 101.1 446.4C98.6 442.1 92.3 442.2 90.3 437.8C88.3 433.4 89.6 428.0 89.2 420.0C88.8 412.0 88.1 399.0 87.8 390.0C87.5 381.0 88.2 370.8 87.2 366.0C86.2 361.2 84.1 361.4 82.0 361.4Z" fill="#e8e6e4" opacity="0.5"/><path d="M5.4 454.7C6.0 452.5 2.2 451.0 8.7 450.3C15.2 449.6 40.4 445.2 44.4 450.3C48.4 455.4 36.3 474.1 32.5 480.6C28.7 487.1 24.9 488.9 21.7 489.3C18.4 489.7 15.7 487.1 13.0 482.8C10.3 478.5 6.7 468.0 5.4 463.3C4.1 458.6 4.9 456.9 5.4 454.7Z" fill="#ebe9e7" opacity="0.6"/><path d="M82.0 361.4C79.9 361.4 76.4 363.1 74.6 366.0C72.8 368.9 73.4 375.1 70.9 379.1C68.4 383.2 63.1 386.9 59.7 390.3C56.3 393.7 52.9 395.9 50.4 399.6C47.9 403.3 46.0 409.0 44.8 412.7C43.5 416.4 43.1 418.6 42.9 422.0C42.6 425.4 42.7 428.3 43.3 433.0C43.9 437.7 46.6 446.0 46.6 450.3C46.6 454.6 45.6 455.0 43.3 459.0C40.9 463.0 35.0 468.7 32.5 474.1C30.0 479.5 28.6 485.4 28.2 491.5C27.8 497.6 27.8 505.9 30.3 511.0C32.8 516.0 38.2 520.7 43.3 521.8C48.3 522.9 53.4 520.4 60.6 517.5C67.8 514.6 78.6 508.8 86.6 504.5C94.5 500.2 104.6 496.2 108.3 491.5C112.0 486.8 109.2 481.0 108.7 476.3C108.2 471.6 106.7 468.3 105.4 463.3C104.1 458.3 103.6 450.6 101.1 446.4C98.6 442.1 92.3 442.2 90.3 437.8C88.3 433.4 89.6 428.0 89.2 420.0C88.8 412.0 88.1 399.0 87.8 390.0C87.5 381.0 88.2 370.8 87.2 366.0C86.2 361.2 84.1 361.4 82.0 361.4Z" fill="none" stroke="#4ab6df" stroke-width="1.7" stroke-dasharray="0.1 4.2" stroke-linecap="round"/><path d="M90.5 350.2C93.6 350.2 96.9 358.1 98.9 360.4C100.9 362.7 100.3 362.6 102.4 364.0C104.5 365.4 107.6 368.7 111.3 368.6C115.0 368.6 121.1 363.3 124.8 363.7C128.5 364.1 131.3 367.0 133.7 370.8C136.1 374.6 137.1 382.6 139.3 386.5C141.6 390.4 143.6 392.2 147.2 394.3C150.8 396.4 156.9 396.4 160.6 398.8C164.3 401.2 166.5 405.4 169.5 408.9C172.5 412.4 177.1 417.4 178.5 420.0C179.9 422.6 179.1 422.1 177.7 424.3C176.3 426.5 174.2 430.1 170.1 433.0C165.9 435.9 158.9 439.2 152.8 441.7C146.7 444.2 137.5 444.6 133.3 448.2C129.2 451.8 128.5 457.9 127.9 463.3C127.4 468.7 130.4 476.3 130.0 480.6C129.6 484.9 128.0 487.9 125.7 489.3C123.4 490.8 118.5 490.4 116.0 489.3C113.5 488.2 112.0 485.7 110.6 482.8C109.2 479.9 108.4 475.2 107.8 472.0C107.2 468.8 107.7 467.7 106.8 463.3C105.9 458.9 105.0 450.0 102.5 445.6C100.0 441.2 93.8 441.1 91.8 436.8C89.8 432.5 91.0 427.8 90.6 420.0C90.2 412.2 89.5 399.0 89.2 390.0C88.9 381.0 90.3 370.9 88.8 366.0C87.3 361.1 79.9 363.0 80.2 360.4C80.5 357.8 87.4 350.2 90.5 350.2Z" fill="none" stroke="#efb55e" stroke-width="1.7" stroke-dasharray="0.1 4.2" stroke-linecap="round"/><path d="M5.4 454.7C6.0 452.5 2.2 451.0 8.7 450.3C15.2 449.6 40.4 445.2 44.4 450.3C48.4 455.4 36.3 474.1 32.5 480.6C28.7 487.1 24.9 488.9 21.7 489.3C18.4 489.7 15.7 487.1 13.0 482.8C10.3 478.5 6.7 468.0 5.4 463.3C4.1 458.6 4.9 456.9 5.4 454.7Z" fill="none" stroke="#efb55e" stroke-width="1.7" stroke-dasharray="0.1 4.2" stroke-linecap="round"/></g><circle cx="656.1" cy="158.6" r="0.95" fill="#3a3f9a"/><circle cx="653.1" cy="164.5" r="0.95" fill="#3a3f9a"/><circle cx="640.7" cy="175.1" r="0.95" fill="#3a3f9a"/><circle cx="649" cy="183.4" r="0.95" fill="#3a3f9a"/><circle cx="647.3" cy="196.3" r="0.95" fill="#3a3f9a"/><circle cx="649" cy="203.4" r="0.95" fill="#3a3f9a"/><circle cx="653.1" cy="169.2" r="0.95" fill="#b0304a"/><circle cx="645.8" cy="252.8" r="0.9" fill="#4a4aa0"/><circle cx="639.6" cy="258.7" r="0.9" fill="#b0304a"/><circle cx="638.2" cy="274.1" r="0.9" fill="#b0304a"/><circle cx="649.9" cy="356.1" r="0.85" fill="#7a76b8"/><circle cx="641.9" cy="363.2" r="0.85" fill="#b0304a"/><circle cx="638.2" cy="367.8" r="0.95" fill="#3a3f9a"/><circle cx="668.3" cy="460.5" r="1.8" fill="#4e56b4"/><circle cx="663.9" cy="461" r="1.0" fill="#4e56b4"/><circle cx="666.8" cy="457.6" r="0.8" fill="#e23a72"/><circle cx="653.4" cy="463.7" r="0.6" fill="#e23a72"/><circle cx="662.2" cy="466.1" r="0.7" fill="#4e56b4"/><circle cx="375" cy="150.1" r="2.9" fill="#111"/><text x="375" y="151.79999999999998" font-size="4.6" font-weight="bold" fill="#fff" text-anchor="middle">1</text><text x="383.5" y="153.8" font-size="8.3" font-weight="bold" fill="#231f20">TCRα: AV21</text><text x="502.8" y="154.2" font-size="8.3" font-weight="bold" fill="#231f20">TCRβ: BV9-BJ2-3</text><rect x="375.20" y="161.10" width="5.34" height="7.9" fill="#d6ea3a"/><rect x="380.49" y="161.10" width="5.34" height="7.9" fill="#d4d4d4"/><rect x="385.78" y="161.10" width="5.34" height="7.9" fill="#2f9a46"/><rect x="391.07" y="161.10" width="5.34" height="7.9" fill="#f0a03a"/><rect x="396.36" y="161.10" width="5.34" height="7.9" fill="#d4d4d4"/><rect x="401.65" y="161.10" width="5.34" height="7.9" fill="#e1a08f"/><rect x="406.94" y="161.10" width="5.34" height="7.9" fill="#4a6ac4"/><rect x="412.23" y="161.10" width="5.34" height="7.9" fill="#2f9a46"/><rect x="417.52" y="161.10" width="5.34" height="7.9" fill="#efefef"/><rect x="422.81" y="161.10" width="5.34" height="7.9" fill="#efefef"/><rect x="428.10" y="161.10" width="5.34" height="7.9" fill="#f0a03a"/><rect x="433.39" y="161.10" width="5.34" height="7.9" fill="#df3434"/><rect x="438.68" y="161.10" width="5.34" height="7.9" fill="#4a6ac4"/><rect x="443.97" y="161.10" width="5.34" height="7.9" fill="#2f9a46"/><rect x="449.26" y="161.10" width="5.34" height="7.9" fill="#2f9a46"/><rect x="454.55" y="161.10" width="5.34" height="7.9" fill="#4a6ac4"/><text y="0" transform="translate(0 167.89) scale(0.9 1.3)" font-family="Liberation Mono, monospace" font-size="6.6" fill="#262626" text-anchor="middle"><tspan x="419.83">C</tspan><tspan x="425.71">A</tspan><tspan x="431.58">V</tspan><tspan x="437.46">S</tspan><tspan x="443.34">A</tspan><tspan x="449.22">P</tspan><tspan x="455.09">F</tspan><tspan x="460.97">L</tspan><tspan x="466.85">G</tspan><tspan x="472.73">G</tspan><tspan x="478.61">S</tspan><tspan x="484.48">E</tspan><tspan x="490.36">K</tspan><tspan x="496.24">L</tspan><tspan x="502.12">V</tspan><tspan x="507.99">F</tspan></text><text x="462.24" y="167.60" font-size="7" fill="#231f20">-AJ57</text><rect x="375.20" y="170.17" width="5.34" height="7.9" fill="#d6ea3a"/><rect x="380.49" y="170.17" width="5.34" height="7.9" fill="#d4d4d4"/><rect x="385.78" y="170.17" width="5.34" height="7.9" fill="#2f9a46"/><rect x="391.07" y="170.17" width="5.34" height="7.9" fill="#f0a03a"/><rect x="396.36" y="170.17" width="5.34" height="7.9" fill="#f0a03a"/><rect x="401.65" y="170.17" width="5.34" height="7.9" fill="#efefef"/><rect x="406.94" y="170.17" width="5.34" height="7.9" fill="#d4d4d4"/><rect x="412.23" y="170.17" width="5.34" height="7.9" fill="#74d6d2"/><rect x="417.52" y="170.17" width="5.34" height="7.9" fill="#efefef"/><rect x="422.81" y="170.17" width="5.34" height="7.9" fill="#efefef"/><rect x="428.10" y="170.17" width="5.34" height="7.9" fill="#f0a03a"/><rect x="433.39" y="170.17" width="5.34" height="7.9" fill="#df3434"/><rect x="438.68" y="170.17" width="5.34" height="7.9" fill="#4a6ac4"/><rect x="443.97" y="170.17" width="5.34" height="7.9" fill="#2f9a46"/><rect x="449.26" y="170.17" width="5.34" height="7.9" fill="#2f9a46"/><rect x="454.55" y="170.17" width="5.34" height="7.9" fill="#4a6ac4"/><text y="0" transform="translate(0 176.96) scale(0.9 1.3)" font-family="Liberation Mono, monospace" font-size="6.6" fill="#262626" text-anchor="middle"><tspan x="419.83">C</tspan><tspan x="425.71">A</tspan><tspan x="431.58">V</tspan><tspan x="437.46">S</tspan><tspan x="443.34">T</tspan><tspan x="449.22">G</tspan><tspan x="455.09">A</tspan><tspan x="460.97">Q</tspan><tspan x="466.85">G</tspan><tspan x="472.73">G</tspan><tspan x="478.61">S</tspan><tspan x="484.48">E</tspan><tspan x="490.36">K</tspan><tspan x="496.24">L</tspan><tspan x="502.12">V</tspan><tspan x="507.99">F</tspan></text><text x="462.24" y="176.67" font-size="7" fill="#231f20">-AJ57</text><rect x="375.20" y="179.24" width="5.34" height="7.9" fill="#d6ea3a"/><rect x="380.49" y="179.24" width="5.34" height="7.9" fill="#d4d4d4"/><rect x="385.78" y="179.24" width="5.34" height="7.9" fill="#2f9a46"/><rect x="391.07" y="179.24" width="5.34" height="7.9" fill="#f0a03a"/><rect x="396.36" y="179.24" width="5.34" height="7.9" fill="#8a88d6"/><rect x="401.65" y="179.24" width="5.34" height="7.9" fill="#e1a08f"/><rect x="406.94" y="179.24" width="5.34" height="7.9" fill="#f0a03a"/><rect x="412.23" y="179.24" width="5.34" height="7.9" fill="#efefef"/><rect x="417.52" y="179.24" width="5.34" height="7.9" fill="#f0a03a"/><rect x="422.81" y="179.24" width="5.34" height="7.9" fill="#d4d4d4"/><rect x="428.10" y="179.24" width="5.34" height="7.9" fill="#f0a03a"/><rect x="433.39" y="179.24" width="5.34" height="7.9" fill="#4a6ac4"/><rect x="438.68" y="179.24" width="5.34" height="7.9" fill="#2f9a46"/><rect x="443.97" y="179.24" width="5.34" height="7.9" fill="#f0a03a"/><rect x="449.26" y="179.24" width="5.34" height="7.9" fill="#4a6ac4"/><text y="0" transform="translate(0 186.03) scale(0.9 1.3)" font-family="Liberation Mono, monospace" font-size="6.6" fill="#262626" text-anchor="middle"><tspan x="419.83">C</tspan><tspan x="425.71">A</tspan><tspan x="431.58">V</tspan><tspan x="437.46">S</tspan><tspan x="443.34">H</tspan><tspan x="449.22">P</tspan><tspan x="455.09">T</tspan><tspan x="460.97">G</tspan><tspan x="466.85">T</tspan><tspan x="472.73">A</tspan><tspan x="478.61">S</tspan><tspan x="484.48">K</tspan><tspan x="490.36">L</tspan><tspan x="496.24">T</tspan><tspan x="502.12">F</tspan></text><text x="455.15" y="185.74" font-size="7" fill="#231f20">-AJ44</text><rect x="375.20" y="188.31" width="5.34" height="7.9" fill="#d6ea3a"/><rect x="380.49" y="188.31" width="5.34" height="7.9" fill="#d4d4d4"/><rect x="385.78" y="188.31" width="5.34" height="7.9" fill="#2f9a46"/><rect x="391.07" y="188.31" width="5.34" height="7.9" fill="#efefef"/><rect x="396.36" y="188.31" width="5.34" height="7.9" fill="#d4d4d4"/><rect x="401.65" y="188.31" width="5.34" height="7.9" fill="#8a88d6"/><rect x="406.94" y="188.31" width="5.34" height="7.9" fill="#efefef"/><rect x="412.23" y="188.31" width="5.34" height="7.9" fill="#efefef"/><rect x="417.52" y="188.31" width="5.34" height="7.9" fill="#d4d4d4"/><rect x="422.81" y="188.31" width="5.34" height="7.9" fill="#efefef"/><rect x="428.10" y="188.31" width="5.34" height="7.9" fill="#f0a03a"/><rect x="433.39" y="188.31" width="5.34" height="7.9" fill="#4a6ac4"/><rect x="438.68" y="188.31" width="5.34" height="7.9" fill="#74d6d2"/><rect x="443.97" y="188.31" width="5.34" height="7.9" fill="#2f9a46"/><rect x="449.26" y="188.31" width="5.34" height="7.9" fill="#f0a03a"/><rect x="454.55" y="188.31" width="5.34" height="7.9" fill="#4a6ac4"/><text y="0" transform="translate(0 195.10) scale(0.9 1.3)" font-family="Liberation Mono, monospace" font-size="6.6" fill="#262626" text-anchor="middle"><tspan x="419.83">C</tspan><tspan x="425.71">A</tspan><tspan x="431.58">V</tspan><tspan x="437.46">G</tspan><tspan x="443.34">A</tspan><tspan x="449.22">H</tspan><tspan x="455.09">G</tspan><tspan x="460.97">G</tspan><tspan x="466.85">A</tspan><tspan x="472.73">G</tspan><tspan x="478.61">S</tspan><tspan x="484.48">Y</tspan><tspan x="490.36">Q</tspan><tspan x="496.24">L</tspan><tspan x="502.12">T</tspan><tspan x="507.99">F</tspan></text><text x="462.24" y="194.81" font-size="7" fill="#231f20">-AJ28</text><rect x="375.20" y="197.38" width="5.34" height="7.9" fill="#d6ea3a"/><rect x="380.49" y="197.38" width="5.34" height="7.9" fill="#d4d4d4"/><rect x="385.78" y="197.38" width="5.34" height="7.9" fill="#2f9a46"/><rect x="391.07" y="197.38" width="5.34" height="7.9" fill="#2f9a46"/><rect x="396.36" y="197.38" width="5.34" height="7.9" fill="#2f9a46"/><rect x="401.65" y="197.38" width="5.34" height="7.9" fill="#f0a03a"/><rect x="406.94" y="197.38" width="5.34" height="7.9" fill="#74d6d2"/><rect x="412.23" y="197.38" width="5.34" height="7.9" fill="#efefef"/><rect x="417.52" y="197.38" width="5.34" height="7.9" fill="#efefef"/><rect x="422.81" y="197.38" width="5.34" height="7.9" fill="#f0a03a"/><rect x="428.10" y="197.38" width="5.34" height="7.9" fill="#df3434"/><rect x="433.39" y="197.38" width="5.34" height="7.9" fill="#4a6ac4"/><rect x="438.68" y="197.38" width="5.34" height="7.9" fill="#2f9a46"/><rect x="443.97" y="197.38" width="5.34" height="7.9" fill="#2f9a46"/><rect x="449.26" y="197.38" width="5.34" height="7.9" fill="#4a6ac4"/><text y="0" transform="translate(0 204.17) scale(0.9 1.3)" font-family="Liberation Mono, monospace" font-size="6.6" fill="#262626" text-anchor="middle"><tspan x="419.83">C</tspan><tspan x="425.71">A</tspan><tspan x="431.58">V</tspan><tspan x="437.46">L</tspan><tspan x="443.34">V</tspan><tspan x="449.22">T</tspan><tspan x="455.09">Q</tspan><tspan x="460.97">G</tspan><tspan x="466.85">G</tspan><tspan x="472.73">S</tspan><tspan x="478.61">E</tspan><tspan x="484.48">K</tspan><tspan x="490.36">L</tspan><tspan x="496.24">V</tspan><tspan x="502.12">F</tspan></text><text x="455.15" y="203.88" font-size="7" fill="#231f20">-AJ57</text><rect x="375.20" y="206.45" width="5.34" height="7.9" fill="#d6ea3a"/><rect x="380.49" y="206.45" width="5.34" height="7.9" fill="#d4d4d4"/><rect x="385.78" y="206.45" width="5.34" height="7.9" fill="#2f9a46"/><rect x="391.07" y="206.45" width="5.34" height="7.9" fill="#2f9a46"/><rect x="396.36" y="206.45" width="5.34" height="7.9" fill="#f0a03a"/><rect x="401.65" y="206.45" width="5.34" height="7.9" fill="#efefef"/><rect x="406.94" y="206.45" width="5.34" height="7.9" fill="#74d6d2"/><rect x="412.23" y="206.45" width="5.34" height="7.9" fill="#f0a03a"/><rect x="417.52" y="206.45" width="5.34" height="7.9" fill="#efefef"/><rect x="422.81" y="206.45" width="5.34" height="7.9" fill="#efefef"/><rect x="428.10" y="206.45" width="5.34" height="7.9" fill="#f0a03a"/><rect x="433.39" y="206.45" width="5.34" height="7.9" fill="#74d6d2"/><rect x="438.68" y="206.45" width="5.34" height="7.9" fill="#4a6ac4"/><rect x="443.97" y="206.45" width="5.34" height="7.9" fill="#4a6ac4"/><rect x="449.26" y="206.45" width="5.34" height="7.9" fill="#2f9a46"/><rect x="454.55" y="206.45" width="5.34" height="7.9" fill="#f0a03a"/><rect x="459.84" y="206.45" width="5.34" height="7.9" fill="#4a6ac4"/><text y="0" transform="translate(0 213.24) scale(0.9 1.3)" font-family="Liberation Mono, monospace" font-size="6.6" fill="#262626" text-anchor="middle"><tspan x="419.83">C</tspan><tspan x="425.71">A</tspan><tspan x="431.58">V</tspan><tspan x="437.46">V</tspan><tspan x="443.34">S</tspan><tspan x="449.22">G</tspan><tspan x="455.09">N</tspan><tspan x="460.97">S</tspan><tspan x="466.85">G</tspan><tspan x="472.73">G</tspan><tspan x="478.61">S</tspan><tspan x="484.48">N</tspan><tspan x="490.36">Y</tspan><tspan x="496.24">K</tspan><tspan x="502.12">L</tspan><tspan x="507.99">T</tspan><tspan x="513.87">F</tspan></text><text x="466.93" y="212.95" font-size="7" fill="#231f20">-AJ53</text><rect x="375.20" y="215.52" width="5.34" height="7.9" fill="#d6ea3a"/><rect x="380.49" y="215.52" width="5.34" height="7.9" fill="#d4d4d4"/><rect x="385.78" y="215.52" width="5.34" height="7.9" fill="#2f9a46"/><rect x="391.07" y="215.52" width="5.34" height="7.9" fill="#4a6ac4"/><rect x="396.36" y="215.52" width="5.34" height="7.9" fill="#f0a03a"/><rect x="401.65" y="215.52" width="5.34" height="7.9" fill="#2f9a46"/><rect x="406.94" y="215.52" width="5.34" height="7.9" fill="#f0a03a"/><rect x="412.23" y="215.52" width="5.34" height="7.9" fill="#f0a03a"/><rect x="417.52" y="215.52" width="5.34" height="7.9" fill="#efefef"/><rect x="422.81" y="215.52" width="5.34" height="7.9" fill="#f0a03a"/><rect x="428.10" y="215.52" width="5.34" height="7.9" fill="#d4d4d4"/><rect x="433.39" y="215.52" width="5.34" height="7.9" fill="#f0a03a"/><rect x="438.68" y="215.52" width="5.34" height="7.9" fill="#4a6ac4"/><rect x="443.97" y="215.52" width="5.34" height="7.9" fill="#2f9a46"/><rect x="449.26" y="215.52" width="5.34" height="7.9" fill="#f0a03a"/><rect x="454.55" y="215.52" width="5.34" height="7.9" fill="#4a6ac4"/><text y="0" transform="translate(0 222.31) scale(0.9 1.3)" font-family="Liberation Mono, monospace" font-size="6.6" fill="#262626" text-anchor="middle"><tspan x="419.83">C</tspan><tspan x="425.71">A</tspan><tspan x="431.58">V</tspan><tspan x="437.46">R</tspan><tspan x="443.34">S</tspan><tspan x="449.22">V</tspan><tspan x="455.09">S</tspan><tspan x="460.97">T</tspan><tspan x="466.85">G</tspan><tspan x="472.73">T</tspan><tspan x="478.61">A</tspan><tspan x="484.48">S</tspan><tspan x="490.36">K</tspan><tspan x="496.24">L</tspan><tspan x="502.12">T</tspan><tspan x="507.99">F</tspan></text><text x="462.24" y="222.02" font-size="7" fill="#231f20">-AJ44</text><rect x="499.60" y="161.10" width="5.36" height="7.9" fill="#d6ea3a"/><rect x="504.91" y="161.10" width="5.36" height="7.9" fill="#d4d4d4"/><rect x="510.22" y="161.10" width="5.36" height="7.9" fill="#f0a03a"/><rect x="515.53" y="161.10" width="5.36" height="7.9" fill="#f0a03a"/><rect x="520.84" y="161.10" width="5.36" height="7.9" fill="#2f9a46"/><rect x="526.15" y="161.10" width="5.36" height="7.9" fill="#efefef"/><rect x="531.46" y="161.10" width="5.36" height="7.9" fill="#2f9a46"/><rect x="536.77" y="161.10" width="5.36" height="7.9" fill="#4a6ac4"/><rect x="542.08" y="161.10" width="5.36" height="7.9" fill="#f0a03a"/><rect x="547.39" y="161.10" width="5.36" height="7.9" fill="#f0a03a"/><rect x="552.70" y="161.10" width="5.36" height="7.9" fill="#df3434"/><rect x="558.01" y="161.10" width="5.36" height="7.9" fill="#f0a03a"/><rect x="563.32" y="161.10" width="5.36" height="7.9" fill="#74d6d2"/><rect x="568.63" y="161.10" width="5.36" height="7.9" fill="#4a6ac4"/><rect x="573.94" y="161.10" width="5.36" height="7.9" fill="#4a6ac4"/><text y="0" transform="translate(0 167.89) scale(0.9 1.3)" font-family="Liberation Mono, monospace" font-size="6.6" fill="#262626" text-anchor="middle"><tspan x="558.06">C</tspan><tspan x="563.96">A</tspan><tspan x="569.86">S</tspan><tspan x="575.76">S</tspan><tspan x="581.66">V</tspan><tspan x="587.56">G</tspan><tspan x="593.46">L</tspan><tspan x="599.36">F</tspan><tspan x="605.26">S</tspan><tspan x="611.16">T</tspan><tspan x="617.06">D</tspan><tspan x="622.96">T</tspan><tspan x="628.86">Q</tspan><tspan x="634.76">Y</tspan><tspan x="640.66">F</tspan></text><rect x="499.60" y="170.17" width="5.36" height="7.9" fill="#d6ea3a"/><rect x="504.91" y="170.17" width="5.36" height="7.9" fill="#d4d4d4"/><rect x="510.22" y="170.17" width="5.36" height="7.9" fill="#f0a03a"/><rect x="515.53" y="170.17" width="5.36" height="7.9" fill="#f0a03a"/><rect x="520.84" y="170.17" width="5.36" height="7.9" fill="#2f9a46"/><rect x="526.15" y="170.17" width="5.36" height="7.9" fill="#efefef"/><rect x="531.46" y="170.17" width="5.36" height="7.9" fill="#2f9a46"/><rect x="536.77" y="170.17" width="5.36" height="7.9" fill="#4a6ac4"/><rect x="542.08" y="170.17" width="5.36" height="7.9" fill="#f0a03a"/><rect x="547.39" y="170.17" width="5.36" height="7.9" fill="#f0a03a"/><rect x="552.70" y="170.17" width="5.36" height="7.9" fill="#df3434"/><rect x="558.01" y="170.17" width="5.36" height="7.9" fill="#f0a03a"/><rect x="563.32" y="170.17" width="5.36" height="7.9" fill="#74d6d2"/><rect x="568.63" y="170.17" width="5.36" height="7.9" fill="#4a6ac4"/><rect x="573.94" y="170.17" width="5.36" height="7.9" fill="#4a6ac4"/><text y="0" transform="translate(0 176.96) scale(0.9 1.3)" font-family="Liberation Mono, monospace" font-size="6.6" fill="#262626" text-anchor="middle"><tspan x="558.06">C</tspan><tspan x="563.96">A</tspan><tspan x="569.86">S</tspan><tspan x="575.76">S</tspan><tspan x="581.66">V</tspan><tspan x="587.56">G</tspan><tspan x="593.46">L</tspan><tspan x="599.36">Y</tspan><tspan x="605.26">S</tspan><tspan x="611.16">T</tspan><tspan x="617.06">D</tspan><tspan x="622.96">T</tspan><tspan x="628.86">Q</tspan><tspan x="634.76">Y</tspan><tspan x="640.66">F</tspan></text><rect x="499.60" y="179.24" width="5.36" height="7.9" fill="#d6ea3a"/><rect x="504.91" y="179.24" width="5.36" height="7.9" fill="#d4d4d4"/><rect x="510.22" y="179.24" width="5.36" height="7.9" fill="#f0a03a"/><rect x="515.53" y="179.24" width="5.36" height="7.9" fill="#f0a03a"/><rect x="520.84" y="179.24" width="5.36" height="7.9" fill="#2f9a46"/><rect x="526.15" y="179.24" width="5.36" height="7.9" fill="#efefef"/><rect x="531.46" y="179.24" width="5.36" height="7.9" fill="#2f9a46"/><rect x="536.77" y="179.24" width="5.36" height="7.9" fill="#4a6ac4"/><rect x="542.08" y="179.24" width="5.36" height="7.9" fill="#f0a03a"/><rect x="547.39" y="179.24" width="5.36" height="7.9" fill="#f0a03a"/><rect x="552.70" y="179.24" width="5.36" height="7.9" fill="#df3434"/><rect x="558.01" y="179.24" width="5.36" height="7.9" fill="#f0a03a"/><rect x="563.32" y="179.24" width="5.36" height="7.9" fill="#74d6d2"/><rect x="568.63" y="179.24" width="5.36" height="7.9" fill="#4a6ac4"/><rect x="573.94" y="179.24" width="5.36" height="7.9" fill="#4a6ac4"/><text y="0" transform="translate(0 186.03) scale(0.9 1.3)" font-family="Liberation Mono, monospace" font-size="6.6" fill="#262626" text-anchor="middle"><tspan x="558.06">C</tspan><tspan x="563.96">A</tspan><tspan x="569.86">S</tspan><tspan x="575.76">S</tspan><tspan x="581.66">L</tspan><tspan x="587.56">G</tspan><tspan x="593.46">L</tspan><tspan x="599.36">F</tspan><tspan x="605.26">S</tspan><tspan x="611.16">T</tspan><tspan x="617.06">D</tspan><tspan x="622.96">T</tspan><tspan x="628.86">Q</tspan><tspan x="634.76">Y</tspan><tspan x="640.66">F</tspan></text><rect x="499.60" y="188.31" width="5.36" height="7.9" fill="#d6ea3a"/><rect x="504.91" y="188.31" width="5.36" height="7.9" fill="#d4d4d4"/><rect x="510.22" y="188.31" width="5.36" height="7.9" fill="#f0a03a"/><rect x="515.53" y="188.31" width="5.36" height="7.9" fill="#f0a03a"/><rect x="520.84" y="188.31" width="5.36" height="7.9" fill="#e1a08f"/><rect x="526.15" y="188.31" width="5.36" height="7.9" fill="#efefef"/><rect x="531.46" y="188.31" width="5.36" height="7.9" fill="#2f9a46"/><rect x="536.77" y="188.31" width="5.36" height="7.9" fill="#4a6ac4"/><rect x="542.08" y="188.31" width="5.36" height="7.9" fill="#f0a03a"/><rect x="547.39" y="188.31" width="5.36" height="7.9" fill="#f0a03a"/><rect x="552.70" y="188.31" width="5.36" height="7.9" fill="#df3434"/><rect x="558.01" y="188.31" width="5.36" height="7.9" fill="#f0a03a"/><rect x="563.32" y="188.31" width="5.36" height="7.9" fill="#74d6d2"/><rect x="568.63" y="188.31" width="5.36" height="7.9" fill="#4a6ac4"/><rect x="573.94" y="188.31" width="5.36" height="7.9" fill="#4a6ac4"/><text y="0" transform="translate(0 195.10) scale(0.9 1.3)" font-family="Liberation Mono, monospace" font-size="6.6" fill="#262626" text-anchor="middle"><tspan x="558.06">C</tspan><tspan x="563.96">A</tspan><tspan x="569.86">S</tspan><tspan x="575.76">S</tspan><tspan x="581.66">P</tspan><tspan x="587.56">G</tspan><tspan x="593.46">L</tspan><tspan x="599.36">F</tspan><tspan x="605.26">S</tspan><tspan x="611.16">T</tspan><tspan x="617.06">D</tspan><tspan x="622.96">T</tspan><tspan x="628.86">Q</tspan><tspan x="634.76">Y</tspan><tspan x="640.66">F</tspan></text><rect x="499.60" y="197.38" width="5.36" height="7.9" fill="#d6ea3a"/><rect x="504.91" y="197.38" width="5.36" height="7.9" fill="#d4d4d4"/><rect x="510.22" y="197.38" width="5.36" height="7.9" fill="#f0a03a"/><rect x="515.53" y="197.38" width="5.36" height="7.9" fill="#f0a03a"/><rect x="520.84" y="197.38" width="5.36" height="7.9" fill="#2f9a46"/><rect x="526.15" y="197.38" width="5.36" height="7.9" fill="#efefef"/><rect x="531.46" y="197.38" width="5.36" height="7.9" fill="#2f9a46"/><rect x="536.77" y="197.38" width="5.36" height="7.9" fill="#4a6ac4"/><rect x="542.08" y="197.38" width="5.36" height="7.9" fill="#f0a03a"/><rect x="547.39" y="197.38" width="5.36" height="7.9" fill="#f0a03a"/><rect x="552.70" y="197.38" width="5.36" height="7.9" fill="#df3434"/><rect x="558.01" y="197.38" width="5.36" height="7.9" fill="#f0a03a"/><rect x="563.32" y="197.38" width="5.36" height="7.9" fill="#74d6d2"/><rect x="568.63" y="197.38" width="5.36" height="7.9" fill="#4a6ac4"/><rect x="573.94" y="197.38" width="5.36" height="7.9" fill="#4a6ac4"/><text y="0" transform="translate(0 204.17) scale(0.9 1.3)" font-family="Liberation Mono, monospace" font-size="6.6" fill="#262626" text-anchor="middle"><tspan x="558.06">C</tspan><tspan x="563.96">A</tspan><tspan x="569.86">S</tspan><tspan x="575.76">S</tspan><tspan x="581.66">V</tspan><tspan x="587.56">G</tspan><tspan x="593.46">L</tspan><tspan x="599.36">F</tspan><tspan x="605.26">S</tspan><tspan x="611.16">T</tspan><tspan x="617.06">D</tspan><tspan x="622.96">T</tspan><tspan x="628.86">Q</tspan><tspan x="634.76">Y</tspan><tspan x="640.66">F</tspan></text><rect x="499.60" y="206.45" width="5.36" height="7.9" fill="#d6ea3a"/><rect x="504.91" y="206.45" width="5.36" height="7.9" fill="#d4d4d4"/><rect x="510.22" y="206.45" width="5.36" height="7.9" fill="#f0a03a"/><rect x="515.53" y="206.45" width="5.36" height="7.9" fill="#f0a03a"/><rect x="520.84" y="206.45" width="5.36" height="7.9" fill="#2f9a46"/><rect x="526.15" y="206.45" width="5.36" height="7.9" fill="#d4d4d4"/><rect x="531.46" y="206.45" width="5.36" height="7.9" fill="#2f9a46"/><rect x="536.77" y="206.45" width="5.36" height="7.9" fill="#4a6ac4"/><rect x="542.08" y="206.45" width="5.36" height="7.9" fill="#f0a03a"/><rect x="547.39" y="206.45" width="5.36" height="7.9" fill="#f0a03a"/><rect x="552.70" y="206.45" width="5.36" height="7.9" fill="#df3434"/><rect x="558.01" y="206.45" width="5.36" height="7.9" fill="#f0a03a"/><rect x="563.32" y="206.45" width="5.36" height="7.9" fill="#74d6d2"/><rect x="568.63" y="206.45" width="5.36" height="7.9" fill="#4a6ac4"/><rect x="573.94" y="206.45" width="5.36" height="7.9" fill="#4a6ac4"/><text y="0" transform="translate(0 213.24) scale(0.9 1.3)" font-family="Liberation Mono, monospace" font-size="6.6" fill="#262626" text-anchor="middle"><tspan x="558.06">C</tspan><tspan x="563.96">A</tspan><tspan x="569.86">S</tspan><tspan x="575.76">S</tspan><tspan x="581.66">V</tspan><tspan x="587.56">A</tspan><tspan x="593.46">V</tspan><tspan x="599.36">Y</tspan><tspan x="605.26">S</tspan><tspan x="611.16">T</tspan><tspan x="617.06">D</tspan><tspan x="622.96">T</tspan><tspan x="628.86">Q</tspan><tspan x="634.76">Y</tspan><tspan x="640.66">F</tspan></text><rect x="499.60" y="215.52" width="5.36" height="7.9" fill="#d6ea3a"/><rect x="504.91" y="215.52" width="5.36" height="7.9" fill="#d4d4d4"/><rect x="510.22" y="215.52" width="5.36" height="7.9" fill="#f0a03a"/><rect x="515.53" y="215.52" width="5.36" height="7.9" fill="#f0a03a"/><rect x="520.84" y="215.52" width="5.36" height="7.9" fill="#2f9a46"/><rect x="526.15" y="215.52" width="5.36" height="7.9" fill="#efefef"/><rect x="531.46" y="215.52" width="5.36" height="7.9" fill="#f0a03a"/><rect x="536.77" y="215.52" width="5.36" height="7.9" fill="#4a6ac4"/><rect x="542.08" y="215.52" width="5.36" height="7.9" fill="#f0a03a"/><rect x="547.39" y="215.52" width="5.36" height="7.9" fill="#f0a03a"/><rect x="552.70" y="215.52" width="5.36" height="7.9" fill="#df3434"/><rect x="558.01" y="215.52" width="5.36" height="7.9" fill="#f0a03a"/><rect x="563.32" y="215.52" width="5.36" height="7.9" fill="#74d6d2"/><rect x="568.63" y="215.52" width="5.36" height="7.9" fill="#4a6ac4"/><rect x="573.94" y="215.52" width="5.36" height="7.9" fill="#4a6ac4"/><text y="0" transform="translate(0 222.31) scale(0.9 1.3)" font-family="Liberation Mono, monospace" font-size="6.6" fill="#262626" text-anchor="middle"><tspan x="558.06">C</tspan><tspan x="563.96">A</tspan><tspan x="569.86">S</tspan><tspan x="575.76">S</tspan><tspan x="581.66">V</tspan><tspan x="587.56">G</tspan><tspan x="593.46">T</tspan><tspan x="599.36">Y</tspan><tspan x="605.26">S</tspan><tspan x="611.16">T</tspan><tspan x="617.06">D</tspan><tspan x="622.96">T</tspan><tspan x="628.86">Q</tspan><tspan x="634.76">Y</tspan><tspan x="640.66">F</tspan></text><circle cx="582.5" cy="165.1" r="1.25" fill="#4e56b4"/><circle cx="582.5" cy="171.98999999999998" r="1.25" fill="#e23a72"/><circle cx="582.5" cy="178.88" r="1.25" fill="#4e56b4"/><circle cx="582.5" cy="185.76999999999998" r="1.25" fill="#4e56b4"/><circle cx="582.5" cy="192.66" r="1.25" fill="#4e56b4"/><circle cx="582.5" cy="199.54999999999998" r="1.25" fill="#4e56b4"/><circle cx="582.5" cy="206.44" r="1.25" fill="#4e56b4"/><circle cx="582.5" cy="213.32999999999998" r="1.25" fill="#4e56b4"/><circle cx="582.5" cy="220.22" r="1.25" fill="#4e56b4"/><polygon points="587.80,163.35 588.26,164.46 589.46,164.56 588.55,165.34 588.83,166.52 587.80,165.89 586.77,166.52 587.05,165.34 586.14,164.56 587.34,164.46" fill="#222"/><polygon points="587.80,190.55 588.26,191.66 589.46,191.76 588.55,192.54 588.83,193.72 587.80,193.09 586.77,193.72 587.05,192.54 586.14,191.76 587.34,191.66" fill="#222"/><text x="456.8" y="232.4" font-size="7.5" fill="#231f20">Permutation <tspan font-style="italic">P</tspan> = 0.001</text><circle cx="374.6" cy="247" r="2.9" fill="#111"/><text x="374.6" y="248.7" font-size="4.6" font-weight="bold" fill="#fff" text-anchor="middle">2</text><text x="379.7" y="259.7" font-size="8.3" font-weight="bold" fill="#231f20">TCRα: AV16/AJ49</text><text x="474.9" y="259.9" font-size="8.3" font-weight="bold" fill="#231f20">TCRβ: BV5-4</text><rect x="375.30" y="266.90" width="5.30" height="7.4" fill="#d6ea3a"/><rect x="380.55" y="266.90" width="5.30" height="7.4" fill="#d4d4d4"/><rect x="385.80" y="266.90" width="5.30" height="7.4" fill="#2f9a46"/><rect x="391.05" y="266.90" width="5.30" height="7.4" fill="#efefef"/><rect x="396.30" y="266.90" width="5.30" height="7.4" fill="#f0a03a"/><rect x="401.55" y="266.90" width="5.30" height="7.4" fill="#efefef"/><rect x="406.80" y="266.90" width="5.30" height="7.4" fill="#74d6d2"/><rect x="412.05" y="266.90" width="5.30" height="7.4" fill="#74d6d2"/><rect x="417.30" y="266.90" width="5.30" height="7.4" fill="#4a6ac4"/><rect x="422.55" y="266.90" width="5.30" height="7.4" fill="#4a6ac4"/><rect x="427.80" y="266.90" width="5.30" height="7.4" fill="#4a6ac4"/><text y="0" transform="translate(0 273.26) scale(0.9 1.3)" font-family="Liberation Mono, monospace" font-size="6.6" fill="#262626" text-anchor="middle"><tspan x="419.92">C</tspan><tspan x="425.75">A</tspan><tspan x="431.58">L</tspan><tspan x="437.42">G</tspan><tspan x="443.25">T</tspan><tspan x="449.08">G</tspan><tspan x="454.92">N</tspan><tspan x="460.75">Q</tspan><tspan x="466.58">F</tspan><tspan x="472.42">Y</tspan><tspan x="478.25">F</tspan></text><rect x="375.30" y="275.60" width="5.30" height="7.4" fill="#d6ea3a"/><rect x="380.55" y="275.60" width="5.30" height="7.4" fill="#d4d4d4"/><rect x="385.80" y="275.60" width="5.30" height="7.4" fill="#2f9a46"/><rect x="391.05" y="275.60" width="5.30" height="7.4" fill="#efefef"/><rect x="396.30" y="275.60" width="5.30" height="7.4" fill="#f0a03a"/><rect x="401.55" y="275.60" width="5.30" height="7.4" fill="#efefef"/><rect x="406.80" y="275.60" width="5.30" height="7.4" fill="#74d6d2"/><rect x="412.05" y="275.60" width="5.30" height="7.4" fill="#74d6d2"/><rect x="417.30" y="275.60" width="5.30" height="7.4" fill="#4a6ac4"/><rect x="422.55" y="275.60" width="5.30" height="7.4" fill="#4a6ac4"/><rect x="427.80" y="275.60" width="5.30" height="7.4" fill="#4a6ac4"/><text y="0" transform="translate(0 281.96) scale(0.9 1.3)" font-family="Liberation Mono, monospace" font-size="6.6" fill="#262626" text-anchor="middle"><tspan x="419.92">C</tspan><tspan x="425.75">A</tspan><tspan x="431.58">L</tspan><tspan x="437.42">G</tspan><tspan x="443.25">T</tspan><tspan x="449.08">G</tspan><tspan x="454.92">N</tspan><tspan x="460.75">Q</tspan><tspan x="466.58">F</tspan><tspan x="472.42">Y</tspan><tspan x="478.25">F</tspan></text><rect x="375.30" y="284.30" width="5.30" height="7.4" fill="#d6ea3a"/><rect x="380.55" y="284.30" width="5.30" height="7.4" fill="#d4d4d4"/><rect x="385.80" y="284.30" width="5.30" height="7.4" fill="#2f9a46"/><rect x="391.05" y="284.30" width="5.30" height="7.4" fill="#f0a03a"/><rect x="396.30" y="284.30" width="5.30" height="7.4" fill="#f0a03a"/><rect x="401.55" y="284.30" width="5.30" height="7.4" fill="#efefef"/><rect x="406.80" y="284.30" width="5.30" height="7.4" fill="#74d6d2"/><rect x="412.05" y="284.30" width="5.30" height="7.4" fill="#74d6d2"/><rect x="417.30" y="284.30" width="5.30" height="7.4" fill="#4a6ac4"/><rect x="422.55" y="284.30" width="5.30" height="7.4" fill="#4a6ac4"/><rect x="427.80" y="284.30" width="5.30" height="7.4" fill="#4a6ac4"/><text y="0" transform="translate(0 290.66) scale(0.9 1.3)" font-family="Liberation Mono, monospace" font-size="6.6" fill="#262626" text-anchor="middle"><tspan x="419.92">C</tspan><tspan x="425.75">A</tspan><tspan x="431.58">L</tspan><tspan x="437.42">S</tspan><tspan x="443.25">T</tspan><tspan x="449.08">G</tspan><tspan x="454.92">N</tspan><tspan x="460.75">Q</tspan><tspan x="466.58">F</tspan><tspan x="472.42">Y</tspan><tspan x="478.25">F</tspan></text><rect x="459.20" y="266.90" width="5.34" height="7.4" fill="#d6ea3a"/><rect x="464.49" y="266.90" width="5.34" height="7.4" fill="#d4d4d4"/><rect x="469.78" y="266.90" width="5.34" height="7.4" fill="#f0a03a"/><rect x="475.07" y="266.90" width="5.34" height="7.4" fill="#f0a03a"/><rect x="480.36" y="266.90" width="5.34" height="7.4" fill="#d4d4d4"/><rect x="485.65" y="266.90" width="5.34" height="7.4" fill="#df3434"/><rect x="490.94" y="266.90" width="5.34" height="7.4" fill="#efefef"/><rect x="496.23" y="266.90" width="5.34" height="7.4" fill="#efefef"/><rect x="501.52" y="266.90" width="5.34" height="7.4" fill="#f0a03a"/><rect x="506.81" y="266.90" width="5.34" height="7.4" fill="#4a6ac4"/><rect x="512.10" y="266.90" width="5.34" height="7.4" fill="#74d6d2"/><rect x="517.39" y="266.90" width="5.34" height="7.4" fill="#df3434"/><rect x="522.68" y="266.90" width="5.34" height="7.4" fill="#74d6d2"/><rect x="527.97" y="266.90" width="5.34" height="7.4" fill="#4a6ac4"/><rect x="533.26" y="266.90" width="5.34" height="7.4" fill="#4a6ac4"/><text y="0" transform="translate(0 273.26) scale(0.9 1.3)" font-family="Liberation Mono, monospace" font-size="6.6" fill="#262626" text-anchor="middle"><tspan x="513.16">C</tspan><tspan x="519.04">A</tspan><tspan x="524.92">S</tspan><tspan x="530.79">S</tspan><tspan x="536.67">A</tspan><tspan x="542.55">E</tspan><tspan x="548.43">G</tspan><tspan x="554.31">G</tspan><tspan x="560.18">T</tspan><tspan x="566.06">Y</tspan><tspan x="571.94">N</tspan><tspan x="577.82">E</tspan><tspan x="583.69">Q</tspan><tspan x="589.57">F</tspan><tspan x="595.45">F</tspan></text><text x="539.05" y="272.90" font-size="7" fill="#231f20">-BJ2-1</text><circle cx="567" cy="270.6" r="1.2" fill="#4e56b4"/><polygon points="571.40,268.85 571.86,269.96 573.06,270.06 572.15,270.84 572.43,272.02 571.40,271.39 570.37,272.02 570.65,270.84 569.74,270.06 570.94,269.96" fill="#222"/><rect x="459.20" y="275.85" width="5.34" height="7.4" fill="#d6ea3a"/><rect x="464.49" y="275.85" width="5.34" height="7.4" fill="#d4d4d4"/><rect x="469.78" y="275.85" width="5.34" height="7.4" fill="#f0a03a"/><rect x="475.07" y="275.85" width="5.34" height="7.4" fill="#f0a03a"/><rect x="480.36" y="275.85" width="5.34" height="7.4" fill="#2f9a46"/><rect x="485.65" y="275.85" width="5.34" height="7.4" fill="#df3434"/><rect x="490.94" y="275.85" width="5.34" height="7.4" fill="#efefef"/><rect x="496.23" y="275.85" width="5.34" height="7.4" fill="#efefef"/><rect x="501.52" y="275.85" width="5.34" height="7.4" fill="#f0a03a"/><rect x="506.81" y="275.85" width="5.34" height="7.4" fill="#4a6ac4"/><rect x="512.10" y="275.85" width="5.34" height="7.4" fill="#74d6d2"/><rect x="517.39" y="275.85" width="5.34" height="7.4" fill="#df3434"/><rect x="522.68" y="275.85" width="5.34" height="7.4" fill="#74d6d2"/><rect x="527.97" y="275.85" width="5.34" height="7.4" fill="#4a6ac4"/><rect x="533.26" y="275.85" width="5.34" height="7.4" fill="#4a6ac4"/><text y="0" transform="translate(0 282.21) scale(0.9 1.3)" font-family="Liberation Mono, monospace" font-size="6.6" fill="#262626" text-anchor="middle"><tspan x="513.16">C</tspan><tspan x="519.04">A</tspan><tspan x="524.92">S</tspan><tspan x="530.79">S</tspan><tspan x="536.67">L</tspan><tspan x="542.55">E</tspan><tspan x="548.43">G</tspan><tspan x="554.31">G</tspan><tspan x="560.18">T</tspan><tspan x="566.06">Y</tspan><tspan x="571.94">N</tspan><tspan x="577.82">E</tspan><tspan x="583.69">Q</tspan><tspan x="589.57">F</tspan><tspan x="595.45">F</tspan></text><text x="539.05" y="281.85" font-size="7" fill="#231f20">-BJ2-1</text><circle cx="567" cy="279.55" r="1.2" fill="#e23a72"/><polygon points="571.40,277.80 571.86,278.91 573.06,279.01 572.15,279.79 572.43,280.97 571.40,280.34 570.37,280.97 570.65,279.79 569.74,279.01 570.94,278.91" fill="#222"/><rect x="459.20" y="284.80" width="5.34" height="7.4" fill="#d6ea3a"/><rect x="464.49" y="284.80" width="5.34" height="7.4" fill="#d4d4d4"/><rect x="469.78" y="284.80" width="5.34" height="7.4" fill="#f0a03a"/><rect x="475.07" y="284.80" width="5.34" height="7.4" fill="#f0a03a"/><rect x="480.36" y="284.80" width="5.34" height="7.4" fill="#2f9a46"/><rect x="485.65" y="284.80" width="5.34" height="7.4" fill="#74d6d2"/><rect x="490.94" y="284.80" width="5.34" height="7.4" fill="#efefef"/><rect x="496.23" y="284.80" width="5.34" height="7.4" fill="#f0a03a"/><rect x="501.52" y="284.80" width="5.34" height="7.4" fill="#f0a03a"/><rect x="506.81" y="284.80" width="5.34" height="7.4" fill="#74d6d2"/><rect x="512.10" y="284.80" width="5.34" height="7.4" fill="#df3434"/><rect x="517.39" y="284.80" width="5.34" height="7.4" fill="#4a6ac4"/><rect x="522.68" y="284.80" width="5.34" height="7.4" fill="#2f9a46"/><rect x="527.97" y="284.80" width="5.34" height="7.4" fill="#4a6ac4"/><rect x="533.26" y="284.80" width="5.34" height="7.4" fill="#4a6ac4"/><text y="0" transform="translate(0 291.16) scale(0.9 1.3)" font-family="Liberation Mono, monospace" font-size="6.6" fill="#262626" text-anchor="middle"><tspan x="513.16">C</tspan><tspan x="519.04">A</tspan><tspan x="524.92">S</tspan><tspan x="530.79">S</tspan><tspan x="536.67">L</tspan><tspan x="542.55">Q</tspan><tspan x="548.43">G</tspan><tspan x="554.31">T</tspan><tspan x="560.18">T</tspan><tspan x="566.06">N</tspan><tspan x="571.94">E</tspan><tspan x="577.82">K</tspan><tspan x="583.69">L</tspan><tspan x="589.57">F</tspan><tspan x="595.45">F</tspan></text><text x="539.05" y="290.80" font-size="7" fill="#231f20">-BJ1-4</text><circle cx="567" cy="288.5" r="1.2" fill="#e23a72"/><polygon points="571.40,286.75 571.86,287.86 573.06,287.96 572.15,288.74 572.43,289.92 571.40,289.29 570.37,289.92 570.65,288.74 569.74,287.96 570.94,287.86" fill="#222"/><text x="456.9" y="301.6" font-size="7.5" fill="#231f20">Permutation <tspan font-style="italic">P</tspan> = 0.000</text><circle cx="374.1" cy="326.8" r="2.9" fill="#111"/><text x="374.1" y="328.5" font-size="4.6" font-weight="bold" fill="#fff" text-anchor="middle">3</text><text x="376.8" y="338.9" font-size="8.3" font-weight="bold" fill="#231f20">TCRα: AV38-2DV8/AJ42</text><text x="490.9" y="338.7" font-size="8.3" font-weight="bold" fill="#231f20">TCRβ: BV9</text><rect x="375.20" y="344.50" width="5.33" height="7.4" fill="#d6ea3a"/><rect x="380.48" y="344.50" width="5.33" height="7.4" fill="#d4d4d4"/><rect x="385.76" y="344.50" width="5.33" height="7.4" fill="#2f9a46"/><rect x="391.04" y="344.50" width="5.33" height="7.4" fill="#df3434"/><rect x="396.32" y="344.50" width="5.33" height="7.4" fill="#df3434"/><rect x="401.60" y="344.50" width="5.33" height="7.4" fill="#efefef"/><rect x="406.88" y="344.50" width="5.33" height="7.4" fill="#efefef"/><rect x="412.16" y="344.50" width="5.33" height="7.4" fill="#f0a03a"/><rect x="417.44" y="344.50" width="5.33" height="7.4" fill="#74d6d2"/><rect x="422.72" y="344.50" width="5.33" height="7.4" fill="#efefef"/><rect x="428.00" y="344.50" width="5.33" height="7.4" fill="#74d6d2"/><rect x="433.28" y="344.50" width="5.33" height="7.4" fill="#2f9a46"/><rect x="438.56" y="344.50" width="5.33" height="7.4" fill="#2f9a46"/><rect x="443.84" y="344.50" width="5.33" height="7.4" fill="#4a6ac4"/><text y="0" transform="translate(0 350.86) scale(0.9 1.3)" font-family="Liberation Mono, monospace" font-size="6.6" fill="#262626" text-anchor="middle"><tspan x="419.82">C</tspan><tspan x="425.69">A</tspan><tspan x="431.56">L</tspan><tspan x="437.42">E</tspan><tspan x="443.29">D</tspan><tspan x="449.16">G</tspan><tspan x="455.02">G</tspan><tspan x="460.89">S</tspan><tspan x="466.76">Q</tspan><tspan x="472.62">G</tspan><tspan x="478.49">N</tspan><tspan x="484.36">L</tspan><tspan x="490.22">I</tspan><tspan x="496.09">F</tspan></text><rect x="375.20" y="353.50" width="5.33" height="7.4" fill="#d6ea3a"/><rect x="380.48" y="353.50" width="5.33" height="7.4" fill="#d4d4d4"/><rect x="385.76" y="353.50" width="5.33" height="7.4" fill="#d6ea3a"/><rect x="391.04" y="353.50" width="5.33" height="7.4" fill="#df3434"/><rect x="396.32" y="353.50" width="5.33" height="7.4" fill="#df3434"/><rect x="401.60" y="353.50" width="5.33" height="7.4" fill="#efefef"/><rect x="406.88" y="353.50" width="5.33" height="7.4" fill="#efefef"/><rect x="412.16" y="353.50" width="5.33" height="7.4" fill="#f0a03a"/><rect x="417.44" y="353.50" width="5.33" height="7.4" fill="#74d6d2"/><rect x="422.72" y="353.50" width="5.33" height="7.4" fill="#efefef"/><rect x="428.00" y="353.50" width="5.33" height="7.4" fill="#74d6d2"/><rect x="433.28" y="353.50" width="5.33" height="7.4" fill="#2f9a46"/><rect x="438.56" y="353.50" width="5.33" height="7.4" fill="#2f9a46"/><rect x="443.84" y="353.50" width="5.33" height="7.4" fill="#4a6ac4"/><text y="0" transform="translate(0 359.86) scale(0.9 1.3)" font-family="Liberation Mono, monospace" font-size="6.6" fill="#262626" text-anchor="middle"><tspan x="419.82">C</tspan><tspan x="425.69">A</tspan><tspan x="431.56">C</tspan><tspan x="437.42">E</tspan><tspan x="443.29">D</tspan><tspan x="449.16">G</tspan><tspan x="455.02">G</tspan><tspan x="460.89">S</tspan><tspan x="466.76">Q</tspan><tspan x="472.62">G</tspan><tspan x="478.49">N</tspan><tspan x="484.36">L</tspan><tspan x="490.22">I</tspan><tspan x="496.09">F</tspan></text><rect x="375.20" y="362.50" width="5.33" height="7.4" fill="#d6ea3a"/><rect x="380.48" y="362.50" width="5.33" height="7.4" fill="#d4d4d4"/><rect x="385.76" y="362.50" width="5.33" height="7.4" fill="#2f9a46"/><rect x="391.04" y="362.50" width="5.33" height="7.4" fill="#df3434"/><rect x="396.32" y="362.50" width="5.33" height="7.4" fill="#df3434"/><rect x="401.60" y="362.50" width="5.33" height="7.4" fill="#efefef"/><rect x="406.88" y="362.50" width="5.33" height="7.4" fill="#efefef"/><rect x="412.16" y="362.50" width="5.33" height="7.4" fill="#f0a03a"/><rect x="417.44" y="362.50" width="5.33" height="7.4" fill="#74d6d2"/><rect x="422.72" y="362.50" width="5.33" height="7.4" fill="#efefef"/><rect x="428.00" y="362.50" width="5.33" height="7.4" fill="#74d6d2"/><rect x="433.28" y="362.50" width="5.33" height="7.4" fill="#2f9a46"/><rect x="438.56" y="362.50" width="5.33" height="7.4" fill="#2f9a46"/><rect x="443.84" y="362.50" width="5.33" height="7.4" fill="#4a6ac4"/><text y="0" transform="translate(0 368.86) scale(0.9 1.3)" font-family="Liberation Mono, monospace" font-size="6.6" fill="#262626" text-anchor="middle"><tspan x="419.82">C</tspan><tspan x="425.69">A</tspan><tspan x="431.56">L</tspan><tspan x="437.42">E</tspan><tspan x="443.29">D</tspan><tspan x="449.16">G</tspan><tspan x="455.02">G</tspan><tspan x="460.89">S</tspan><tspan x="466.76">Q</tspan><tspan x="472.62">G</tspan><tspan x="478.49">N</tspan><tspan x="484.36">L</tspan><tspan x="490.22">I</tspan><tspan x="496.09">F</tspan></text><rect x="474.50" y="344.30" width="5.33" height="7.4" fill="#d6ea3a"/><rect x="479.78" y="344.30" width="5.33" height="7.4" fill="#d4d4d4"/><rect x="485.06" y="344.30" width="5.33" height="7.4" fill="#f0a03a"/><rect x="490.34" y="344.30" width="5.33" height="7.4" fill="#f0a03a"/><rect x="495.62" y="344.30" width="5.33" height="7.4" fill="#2f9a46"/><rect x="500.90" y="344.30" width="5.33" height="7.4" fill="#df3434"/><rect x="506.18" y="344.30" width="5.33" height="7.4" fill="#efefef"/><rect x="511.46" y="344.30" width="5.33" height="7.4" fill="#df3434"/><rect x="516.74" y="344.30" width="5.33" height="7.4" fill="#df3434"/><rect x="522.02" y="344.30" width="5.33" height="7.4" fill="#f0a03a"/><rect x="527.30" y="344.30" width="5.33" height="7.4" fill="#74d6d2"/><rect x="532.58" y="344.30" width="5.33" height="7.4" fill="#4a6ac4"/><rect x="537.86" y="344.30" width="5.33" height="7.4" fill="#4a6ac4"/><text y="0" transform="translate(0 350.66) scale(0.9 1.3)" font-family="Liberation Mono, monospace" font-size="6.6" fill="#262626" text-anchor="middle"><tspan x="530.16">C</tspan><tspan x="536.02">A</tspan><tspan x="541.89">S</tspan><tspan x="547.76">S</tspan><tspan x="553.62">V</tspan><tspan x="559.49">E</tspan><tspan x="565.36">G</tspan><tspan x="571.22">E</tspan><tspan x="577.09">E</tspan><tspan x="582.96">T</tspan><tspan x="588.82">Q</tspan><tspan x="594.69">Y</tspan><tspan x="600.56">F</tspan></text><text x="543.64" y="350.30" font-size="7" fill="#231f20">-BJ2-5</text><circle cx="572.5" cy="348.3" r="1.2" fill="#4e56b4"/><rect x="474.50" y="353.10" width="5.33" height="7.4" fill="#d6ea3a"/><rect x="479.78" y="353.10" width="5.33" height="7.4" fill="#d4d4d4"/><rect x="485.06" y="353.10" width="5.33" height="7.4" fill="#f0a03a"/><rect x="490.34" y="353.10" width="5.33" height="7.4" fill="#f0a03a"/><rect x="495.62" y="353.10" width="5.33" height="7.4" fill="#2f9a46"/><rect x="500.90" y="353.10" width="5.33" height="7.4" fill="#df3434"/><rect x="506.18" y="353.10" width="5.33" height="7.4" fill="#efefef"/><rect x="511.46" y="353.10" width="5.33" height="7.4" fill="#df3434"/><rect x="516.74" y="353.10" width="5.33" height="7.4" fill="#df3434"/><rect x="522.02" y="353.10" width="5.33" height="7.4" fill="#f0a03a"/><rect x="527.30" y="353.10" width="5.33" height="7.4" fill="#74d6d2"/><rect x="532.58" y="353.10" width="5.33" height="7.4" fill="#4a6ac4"/><rect x="537.86" y="353.10" width="5.33" height="7.4" fill="#4a6ac4"/><text y="0" transform="translate(0 359.46) scale(0.9 1.3)" font-family="Liberation Mono, monospace" font-size="6.6" fill="#262626" text-anchor="middle"><tspan x="530.16">C</tspan><tspan x="536.02">A</tspan><tspan x="541.89">S</tspan><tspan x="547.76">S</tspan><tspan x="553.62">V</tspan><tspan x="559.49">E</tspan><tspan x="565.36">G</tspan><tspan x="571.22">D</tspan><tspan x="577.09">E</tspan><tspan x="582.96">T</tspan><tspan x="588.82">Q</tspan><tspan x="594.69">Y</tspan><tspan x="600.56">F</tspan></text><text x="543.64" y="359.10" font-size="7" fill="#231f20">-BJ2-5</text><circle cx="572.5" cy="357.7" r="1.2" fill="#4e56b4"/><rect x="474.50" y="361.90" width="5.33" height="7.4" fill="#d6ea3a"/><rect x="479.78" y="361.90" width="5.33" height="7.4" fill="#d4d4d4"/><rect x="485.06" y="361.90" width="5.33" height="7.4" fill="#f0a03a"/><rect x="490.34" y="361.90" width="5.33" height="7.4" fill="#f0a03a"/><rect x="495.62" y="361.90" width="5.33" height="7.4" fill="#2f9a46"/><rect x="500.90" y="361.90" width="5.33" height="7.4" fill="#df3434"/><rect x="506.18" y="361.90" width="5.33" height="7.4" fill="#efefef"/><rect x="511.46" y="361.90" width="5.33" height="7.4" fill="#74d6d2"/><rect x="516.74" y="361.90" width="5.33" height="7.4" fill="#df3434"/><rect x="522.02" y="361.90" width="5.33" height="7.4" fill="#f0a03a"/><rect x="527.30" y="361.90" width="5.33" height="7.4" fill="#74d6d2"/><rect x="532.58" y="361.90" width="5.33" height="7.4" fill="#4a6ac4"/><rect x="537.86" y="361.90" width="5.33" height="7.4" fill="#4a6ac4"/><text y="0" transform="translate(0 368.26) scale(0.9 1.3)" font-family="Liberation Mono, monospace" font-size="6.6" fill="#262626" text-anchor="middle"><tspan x="530.16">C</tspan><tspan x="536.02">A</tspan><tspan x="541.89">S</tspan><tspan x="547.76">S</tspan><tspan x="553.62">V</tspan><tspan x="559.49">E</tspan><tspan x="565.36">G</tspan><tspan x="571.22">Q</tspan><tspan x="577.09">D</tspan><tspan x="582.96">T</tspan><tspan x="588.82">Q</tspan><tspan x="594.69">Y</tspan><tspan x="600.56">F</tspan></text><text x="543.64" y="367.90" font-size="7" fill="#231f20">-BJ2-3</text><circle cx="572.5" cy="367.1" r="1.2" fill="#e23a72"/><polygon points="577.30,346.55 577.76,347.66 578.96,347.76 578.05,348.54 578.33,349.72 577.30,349.09 576.27,349.72 576.55,348.54 575.64,347.76 576.84,347.66" fill="#222"/><text x="457.1" y="377.7" font-size="7.5" fill="#231f20">Permutation <tspan font-style="italic">P</tspan> = 0.001</text><circle cx="374" cy="427.4" r="2.9" fill="#111"/><text x="374" y="429.09999999999997" font-size="4.6" font-weight="bold" fill="#fff" text-anchor="middle">4</text><text x="383.5" y="436.6" font-size="8.3" font-weight="bold" fill="#231f20">TCRα: AV34-AJ40</text><text x="478" y="437" font-size="8.3" font-weight="bold" fill="#231f20">TCRβ: BV9-BJ2-1</text><rect x="374.90" y="445.10" width="5.29" height="7.7" fill="#d6ea3a"/><rect x="380.14" y="445.10" width="5.29" height="7.7" fill="#efefef"/><rect x="385.38" y="445.10" width="5.29" height="7.7" fill="#d4d4d4"/><rect x="390.62" y="445.10" width="5.29" height="7.7" fill="#df3434"/><rect x="395.86" y="445.10" width="5.29" height="7.7" fill="#e1a08f"/><rect x="401.10" y="445.10" width="5.29" height="7.7" fill="#f0a03a"/><rect x="406.34" y="445.10" width="5.29" height="7.7" fill="#efefef"/><rect x="411.58" y="445.10" width="5.29" height="7.7" fill="#f0a03a"/><rect x="416.82" y="445.10" width="5.29" height="7.7" fill="#4a6ac4"/><rect x="422.06" y="445.10" width="5.29" height="7.7" fill="#4a6ac4"/><rect x="427.30" y="445.10" width="5.29" height="7.7" fill="#4a6ac4"/><rect x="432.54" y="445.10" width="5.29" height="7.7" fill="#2f9a46"/><rect x="437.78" y="445.10" width="5.29" height="7.7" fill="#4a6ac4"/><text y="0" transform="translate(0 451.72) scale(0.9 1.3)" font-family="Liberation Mono, monospace" font-size="6.6" fill="#262626" text-anchor="middle"><tspan x="419.47">C</tspan><tspan x="425.29">G</tspan><tspan x="431.11">A</tspan><tspan x="436.93">D</tspan><tspan x="442.76">P</tspan><tspan x="448.58">S</tspan><tspan x="454.40">G</tspan><tspan x="460.22">T</tspan><tspan x="466.04">Y</tspan><tspan x="471.87">K</tspan><tspan x="477.69">Y</tspan><tspan x="483.51">I</tspan><tspan x="489.33">F</tspan></text><rect x="374.90" y="453.92" width="5.29" height="7.7" fill="#d6ea3a"/><rect x="380.14" y="453.92" width="5.29" height="7.7" fill="#efefef"/><rect x="385.38" y="453.92" width="5.29" height="7.7" fill="#d4d4d4"/><rect x="390.62" y="453.92" width="5.29" height="7.7" fill="#df3434"/><rect x="395.86" y="453.92" width="5.29" height="7.7" fill="#e1a08f"/><rect x="401.10" y="453.92" width="5.29" height="7.7" fill="#f0a03a"/><rect x="406.34" y="453.92" width="5.29" height="7.7" fill="#efefef"/><rect x="411.58" y="453.92" width="5.29" height="7.7" fill="#f0a03a"/><rect x="416.82" y="453.92" width="5.29" height="7.7" fill="#4a6ac4"/><rect x="422.06" y="453.92" width="5.29" height="7.7" fill="#4a6ac4"/><rect x="427.30" y="453.92" width="5.29" height="7.7" fill="#4a6ac4"/><rect x="432.54" y="453.92" width="5.29" height="7.7" fill="#2f9a46"/><rect x="437.78" y="453.92" width="5.29" height="7.7" fill="#4a6ac4"/><text y="0" transform="translate(0 460.54) scale(0.9 1.3)" font-family="Liberation Mono, monospace" font-size="6.6" fill="#262626" text-anchor="middle"><tspan x="419.47">C</tspan><tspan x="425.29">G</tspan><tspan x="431.11">A</tspan><tspan x="436.93">D</tspan><tspan x="442.76">P</tspan><tspan x="448.58">S</tspan><tspan x="454.40">G</tspan><tspan x="460.22">T</tspan><tspan x="466.04">Y</tspan><tspan x="471.87">K</tspan><tspan x="477.69">Y</tspan><tspan x="483.51">I</tspan><tspan x="489.33">F</tspan></text><rect x="374.90" y="462.74" width="5.29" height="7.7" fill="#d6ea3a"/><rect x="380.14" y="462.74" width="5.29" height="7.7" fill="#efefef"/><rect x="385.38" y="462.74" width="5.29" height="7.7" fill="#d4d4d4"/><rect x="390.62" y="462.74" width="5.29" height="7.7" fill="#df3434"/><rect x="395.86" y="462.74" width="5.29" height="7.7" fill="#e1a08f"/><rect x="401.10" y="462.74" width="5.29" height="7.7" fill="#f0a03a"/><rect x="406.34" y="462.74" width="5.29" height="7.7" fill="#efefef"/><rect x="411.58" y="462.74" width="5.29" height="7.7" fill="#f0a03a"/><rect x="416.82" y="462.74" width="5.29" height="7.7" fill="#4a6ac4"/><rect x="422.06" y="462.74" width="5.29" height="7.7" fill="#4a6ac4"/><rect x="427.30" y="462.74" width="5.29" height="7.7" fill="#4a6ac4"/><rect x="432.54" y="462.74" width="5.29" height="7.7" fill="#2f9a46"/><rect x="437.78" y="462.74" width="5.29" height="7.7" fill="#4a6ac4"/><text y="0" transform="translate(0 469.36) scale(0.9 1.3)" font-family="Liberation Mono, monospace" font-size="6.6" fill="#262626" text-anchor="middle"><tspan x="419.47">C</tspan><tspan x="425.29">G</tspan><tspan x="431.11">A</tspan><tspan x="436.93">D</tspan><tspan x="442.76">P</tspan><tspan x="448.58">S</tspan><tspan x="454.40">G</tspan><tspan x="460.22">T</tspan><tspan x="466.04">Y</tspan><tspan x="471.87">K</tspan><tspan x="477.69">Y</tspan><tspan x="483.51">I</tspan><tspan x="489.33">F</tspan></text><rect x="374.90" y="471.56" width="5.29" height="7.7" fill="#d6ea3a"/><rect x="380.14" y="471.56" width="5.29" height="7.7" fill="#efefef"/><rect x="385.38" y="471.56" width="5.29" height="7.7" fill="#d4d4d4"/><rect x="390.62" y="471.56" width="5.29" height="7.7" fill="#df3434"/><rect x="395.86" y="471.56" width="5.29" height="7.7" fill="#e1a08f"/><rect x="401.10" y="471.56" width="5.29" height="7.7" fill="#f0a03a"/><rect x="406.34" y="471.56" width="5.29" height="7.7" fill="#efefef"/><rect x="411.58" y="471.56" width="5.29" height="7.7" fill="#f0a03a"/><rect x="416.82" y="471.56" width="5.29" height="7.7" fill="#4a6ac4"/><rect x="422.06" y="471.56" width="5.29" height="7.7" fill="#4a6ac4"/><rect x="427.30" y="471.56" width="5.29" height="7.7" fill="#4a6ac4"/><rect x="432.54" y="471.56" width="5.29" height="7.7" fill="#2f9a46"/><rect x="437.78" y="471.56" width="5.29" height="7.7" fill="#4a6ac4"/><text y="0" transform="translate(0 478.18) scale(0.9 1.3)" font-family="Liberation Mono, monospace" font-size="6.6" fill="#262626" text-anchor="middle"><tspan x="419.47">C</tspan><tspan x="425.29">G</tspan><tspan x="431.11">A</tspan><tspan x="436.93">D</tspan><tspan x="442.76">P</tspan><tspan x="448.58">S</tspan><tspan x="454.40">G</tspan><tspan x="460.22">T</tspan><tspan x="466.04">Y</tspan><tspan x="471.87">K</tspan><tspan x="477.69">Y</tspan><tspan x="483.51">I</tspan><tspan x="489.33">F</tspan></text><rect x="374.90" y="480.38" width="5.29" height="7.7" fill="#d6ea3a"/><rect x="380.14" y="480.38" width="5.29" height="7.7" fill="#efefef"/><rect x="385.38" y="480.38" width="5.29" height="7.7" fill="#d4d4d4"/><rect x="390.62" y="480.38" width="5.29" height="7.7" fill="#df3434"/><rect x="395.86" y="480.38" width="5.29" height="7.7" fill="#e1a08f"/><rect x="401.10" y="480.38" width="5.29" height="7.7" fill="#f0a03a"/><rect x="406.34" y="480.38" width="5.29" height="7.7" fill="#efefef"/><rect x="411.58" y="480.38" width="5.29" height="7.7" fill="#f0a03a"/><rect x="416.82" y="480.38" width="5.29" height="7.7" fill="#4a6ac4"/><rect x="422.06" y="480.38" width="5.29" height="7.7" fill="#4a6ac4"/><rect x="427.30" y="480.38" width="5.29" height="7.7" fill="#4a6ac4"/><rect x="432.54" y="480.38" width="5.29" height="7.7" fill="#2f9a46"/><rect x="437.78" y="480.38" width="5.29" height="7.7" fill="#4a6ac4"/><text y="0" transform="translate(0 487.00) scale(0.9 1.3)" font-family="Liberation Mono, monospace" font-size="6.6" fill="#262626" text-anchor="middle"><tspan x="419.47">C</tspan><tspan x="425.29">G</tspan><tspan x="431.11">A</tspan><tspan x="436.93">D</tspan><tspan x="442.76">P</tspan><tspan x="448.58">S</tspan><tspan x="454.40">G</tspan><tspan x="460.22">T</tspan><tspan x="466.04">Y</tspan><tspan x="471.87">K</tspan><tspan x="477.69">Y</tspan><tspan x="483.51">I</tspan><tspan x="489.33">F</tspan></text><rect x="374.90" y="489.20" width="5.29" height="7.7" fill="#d6ea3a"/><rect x="380.14" y="489.20" width="5.29" height="7.7" fill="#efefef"/><rect x="385.38" y="489.20" width="5.29" height="7.7" fill="#d4d4d4"/><rect x="390.62" y="489.20" width="5.29" height="7.7" fill="#df3434"/><rect x="395.86" y="489.20" width="5.29" height="7.7" fill="#2f9a46"/><rect x="401.10" y="489.20" width="5.29" height="7.7" fill="#f0a03a"/><rect x="406.34" y="489.20" width="5.29" height="7.7" fill="#efefef"/><rect x="411.58" y="489.20" width="5.29" height="7.7" fill="#f0a03a"/><rect x="416.82" y="489.20" width="5.29" height="7.7" fill="#4a6ac4"/><rect x="422.06" y="489.20" width="5.29" height="7.7" fill="#4a6ac4"/><rect x="427.30" y="489.20" width="5.29" height="7.7" fill="#4a6ac4"/><rect x="432.54" y="489.20" width="5.29" height="7.7" fill="#2f9a46"/><rect x="437.78" y="489.20" width="5.29" height="7.7" fill="#4a6ac4"/><text y="0" transform="translate(0 495.82) scale(0.9 1.3)" font-family="Liberation Mono, monospace" font-size="6.6" fill="#262626" text-anchor="middle"><tspan x="419.47">C</tspan><tspan x="425.29">G</tspan><tspan x="431.11">A</tspan><tspan x="436.93">D</tspan><tspan x="442.76">I</tspan><tspan x="448.58">S</tspan><tspan x="454.40">G</tspan><tspan x="460.22">T</tspan><tspan x="466.04">Y</tspan><tspan x="471.87">K</tspan><tspan x="477.69">Y</tspan><tspan x="483.51">I</tspan><tspan x="489.33">F</tspan></text><rect x="476.40" y="444.40" width="5.30" height="7.7" fill="#d6ea3a"/><rect x="481.65" y="444.40" width="5.30" height="7.7" fill="#d4d4d4"/><rect x="486.90" y="444.40" width="5.30" height="7.7" fill="#f0a03a"/><rect x="492.15" y="444.40" width="5.30" height="7.7" fill="#f0a03a"/><rect x="497.40" y="444.40" width="5.30" height="7.7" fill="#2f9a46"/><rect x="502.65" y="444.40" width="5.30" height="7.7" fill="#d4d4d4"/><rect x="507.90" y="444.40" width="5.30" height="7.7" fill="#f0a03a"/><rect x="513.15" y="444.40" width="5.30" height="7.7" fill="#f0a03a"/><rect x="518.40" y="444.40" width="5.30" height="7.7" fill="#8a88d6"/><rect x="523.65" y="444.40" width="5.30" height="7.7" fill="#df3434"/><rect x="528.90" y="444.40" width="5.30" height="7.7" fill="#74d6d2"/><rect x="534.15" y="444.40" width="5.30" height="7.7" fill="#4a6ac4"/><rect x="539.40" y="444.40" width="5.30" height="7.7" fill="#4a6ac4"/><text y="0" transform="translate(0 451.02) scale(0.9 1.3)" font-family="Liberation Mono, monospace" font-size="6.6" fill="#262626" text-anchor="middle"><tspan x="532.25">C</tspan><tspan x="538.08">A</tspan><tspan x="543.92">S</tspan><tspan x="549.75">S</tspan><tspan x="555.58">V</tspan><tspan x="561.42">A</tspan><tspan x="567.25">T</tspan><tspan x="573.08">S</tspan><tspan x="578.92">H</tspan><tspan x="584.75">E</tspan><tspan x="590.58">Q</tspan><tspan x="596.42">F</tspan><tspan x="602.25">F</tspan></text><circle cx="547.6" cy="448.3" r="1.2" fill="#4e56b4"/><polygon points="553.20,446.55 553.66,447.66 554.86,447.76 553.95,448.54 554.23,449.72 553.20,449.09 552.17,449.72 552.45,448.54 551.54,447.76 552.74,447.66" fill="#222"/><rect x="476.40" y="453.25" width="5.30" height="7.7" fill="#d6ea3a"/><rect x="481.65" y="453.25" width="5.30" height="7.7" fill="#d4d4d4"/><rect x="486.90" y="453.25" width="5.30" height="7.7" fill="#f0a03a"/><rect x="492.15" y="453.25" width="5.30" height="7.7" fill="#f0a03a"/><rect x="497.40" y="453.25" width="5.30" height="7.7" fill="#2f9a46"/><rect x="502.65" y="453.25" width="5.30" height="7.7" fill="#d4d4d4"/><rect x="507.90" y="453.25" width="5.30" height="7.7" fill="#f0a03a"/><rect x="513.15" y="453.25" width="5.30" height="7.7" fill="#f0a03a"/><rect x="518.40" y="453.25" width="5.30" height="7.7" fill="#8a88d6"/><rect x="523.65" y="453.25" width="5.30" height="7.7" fill="#df3434"/><rect x="528.90" y="453.25" width="5.30" height="7.7" fill="#74d6d2"/><rect x="534.15" y="453.25" width="5.30" height="7.7" fill="#4a6ac4"/><rect x="539.40" y="453.25" width="5.30" height="7.7" fill="#4a6ac4"/><text y="0" transform="translate(0 459.87) scale(0.9 1.3)" font-family="Liberation Mono, monospace" font-size="6.6" fill="#262626" text-anchor="middle"><tspan x="532.25">C</tspan><tspan x="538.08">A</tspan><tspan x="543.92">S</tspan><tspan x="549.75">S</tspan><tspan x="555.58">V</tspan><tspan x="561.42">A</tspan><tspan x="567.25">T</tspan><tspan x="573.08">S</tspan><tspan x="578.92">H</tspan><tspan x="584.75">E</tspan><tspan x="590.58">Q</tspan><tspan x="596.42">F</tspan><tspan x="602.25">F</tspan></text><circle cx="547.6" cy="457.15000000000003" r="1.2" fill="#4e56b4"/><rect x="476.40" y="462.10" width="5.30" height="7.7" fill="#d6ea3a"/><rect x="481.65" y="462.10" width="5.30" height="7.7" fill="#d4d4d4"/><rect x="486.90" y="462.10" width="5.30" height="7.7" fill="#f0a03a"/><rect x="492.15" y="462.10" width="5.30" height="7.7" fill="#f0a03a"/><rect x="497.40" y="462.10" width="5.30" height="7.7" fill="#e1a08f"/><rect x="502.65" y="462.10" width="5.30" height="7.7" fill="#f0a03a"/><rect x="507.90" y="462.10" width="5.30" height="7.7" fill="#f0a03a"/><rect x="513.15" y="462.10" width="5.30" height="7.7" fill="#f0a03a"/><rect x="518.40" y="462.10" width="5.30" height="7.7" fill="#74d6d2"/><rect x="523.65" y="462.10" width="5.30" height="7.7" fill="#df3434"/><rect x="528.90" y="462.10" width="5.30" height="7.7" fill="#74d6d2"/><rect x="534.15" y="462.10" width="5.30" height="7.7" fill="#4a6ac4"/><rect x="539.40" y="462.10" width="5.30" height="7.7" fill="#4a6ac4"/><text y="0" transform="translate(0 468.72) scale(0.9 1.3)" font-family="Liberation Mono, monospace" font-size="6.6" fill="#262626" text-anchor="middle"><tspan x="532.25">C</tspan><tspan x="538.08">A</tspan><tspan x="543.92">S</tspan><tspan x="549.75">S</tspan><tspan x="555.58">P</tspan><tspan x="561.42">S</tspan><tspan x="567.25">T</tspan><tspan x="573.08">S</tspan><tspan x="578.92">N</tspan><tspan x="584.75">E</tspan><tspan x="590.58">Q</tspan><tspan x="596.42">F</tspan><tspan x="602.25">F</tspan></text><circle cx="547.6" cy="466.0" r="1.2" fill="#4e56b4"/><polygon points="553.20,464.25 553.66,465.36 554.86,465.46 553.95,466.24 554.23,467.42 553.20,466.79 552.17,467.42 552.45,466.24 551.54,465.46 552.74,465.36" fill="#222"/><rect x="476.40" y="470.95" width="5.30" height="7.7" fill="#d6ea3a"/><rect x="481.65" y="470.95" width="5.30" height="7.7" fill="#d4d4d4"/><rect x="486.90" y="470.95" width="5.30" height="7.7" fill="#f0a03a"/><rect x="492.15" y="470.95" width="5.30" height="7.7" fill="#f0a03a"/><rect x="497.40" y="470.95" width="5.30" height="7.7" fill="#e1a08f"/><rect x="502.65" y="470.95" width="5.30" height="7.7" fill="#f0a03a"/><rect x="507.90" y="470.95" width="5.30" height="7.7" fill="#f0a03a"/><rect x="513.15" y="470.95" width="5.30" height="7.7" fill="#f0a03a"/><rect x="518.40" y="470.95" width="5.30" height="7.7" fill="#74d6d2"/><rect x="523.65" y="470.95" width="5.30" height="7.7" fill="#df3434"/><rect x="528.90" y="470.95" width="5.30" height="7.7" fill="#74d6d2"/><rect x="534.15" y="470.95" width="5.30" height="7.7" fill="#4a6ac4"/><rect x="539.40" y="470.95" width="5.30" height="7.7" fill="#4a6ac4"/><text y="0" transform="translate(0 477.57) scale(0.9 1.3)" font-family="Liberation Mono, monospace" font-size="6.6" fill="#262626" text-anchor="middle"><tspan x="532.25">C</tspan><tspan x="538.08">A</tspan><tspan x="543.92">S</tspan><tspan x="549.75">S</tspan><tspan x="555.58">P</tspan><tspan x="561.42">S</tspan><tspan x="567.25">T</tspan><tspan x="573.08">S</tspan><tspan x="578.92">N</tspan><tspan x="584.75">E</tspan><tspan x="590.58">Q</tspan><tspan x="596.42">F</tspan><tspan x="602.25">F</tspan></text><circle cx="547.6" cy="474.85" r="1.2" fill="#4e56b4"/><rect x="476.40" y="479.80" width="5.30" height="7.7" fill="#d6ea3a"/><rect x="481.65" y="479.80" width="5.30" height="7.7" fill="#d4d4d4"/><rect x="486.90" y="479.80" width="5.30" height="7.7" fill="#f0a03a"/><rect x="492.15" y="479.80" width="5.30" height="7.7" fill="#f0a03a"/><rect x="497.40" y="479.80" width="5.30" height="7.7" fill="#2f9a46"/><rect x="502.65" y="479.80" width="5.30" height="7.7" fill="#d4d4d4"/><rect x="507.90" y="479.80" width="5.30" height="7.7" fill="#f0a03a"/><rect x="513.15" y="479.80" width="5.30" height="7.7" fill="#f0a03a"/><rect x="518.40" y="479.80" width="5.30" height="7.7" fill="#8a88d6"/><rect x="523.65" y="479.80" width="5.30" height="7.7" fill="#df3434"/><rect x="528.90" y="479.80" width="5.30" height="7.7" fill="#74d6d2"/><rect x="534.15" y="479.80" width="5.30" height="7.7" fill="#4a6ac4"/><rect x="539.40" y="479.80" width="5.30" height="7.7" fill="#4a6ac4"/><text y="0" transform="translate(0 486.42) scale(0.9 1.3)" font-family="Liberation Mono, monospace" font-size="6.6" fill="#262626" text-anchor="middle"><tspan x="532.25">C</tspan><tspan x="538.08">A</tspan><tspan x="543.92">S</tspan><tspan x="549.75">S</tspan><tspan x="555.58">V</tspan><tspan x="561.42">A</tspan><tspan x="567.25">T</tspan><tspan x="573.08">S</tspan><tspan x="578.92">H</tspan><tspan x="584.75">E</tspan><tspan x="590.58">Q</tspan><tspan x="596.42">F</tspan><tspan x="602.25">F</tspan></text><circle cx="547.6" cy="483.7" r="1.2" fill="#e23a72"/><polygon points="553.20,481.95 553.66,483.06 554.86,483.16 553.95,483.94 554.23,485.12 553.20,484.49 552.17,485.12 552.45,483.94 551.54,483.16 552.74,483.06" fill="#222"/><rect x="476.40" y="488.65" width="5.30" height="7.7" fill="#d6ea3a"/><rect x="481.65" y="488.65" width="5.30" height="7.7" fill="#d4d4d4"/><rect x="486.90" y="488.65" width="5.30" height="7.7" fill="#f0a03a"/><rect x="492.15" y="488.65" width="5.30" height="7.7" fill="#f0a03a"/><rect x="497.40" y="488.65" width="5.30" height="7.7" fill="#e1a08f"/><rect x="502.65" y="488.65" width="5.30" height="7.7" fill="#f0a03a"/><rect x="507.90" y="488.65" width="5.30" height="7.7" fill="#f0a03a"/><rect x="513.15" y="488.65" width="5.30" height="7.7" fill="#f0a03a"/><rect x="518.40" y="488.65" width="5.30" height="7.7" fill="#74d6d2"/><rect x="523.65" y="488.65" width="5.30" height="7.7" fill="#df3434"/><rect x="528.90" y="488.65" width="5.30" height="7.7" fill="#74d6d2"/><rect x="534.15" y="488.65" width="5.30" height="7.7" fill="#4a6ac4"/><rect x="539.40" y="488.65" width="5.30" height="7.7" fill="#4a6ac4"/><text y="0" transform="translate(0 495.27) scale(0.9 1.3)" font-family="Liberation Mono, monospace" font-size="6.6" fill="#262626" text-anchor="middle"><tspan x="532.25">C</tspan><tspan x="538.08">A</tspan><tspan x="543.92">S</tspan><tspan x="549.75">S</tspan><tspan x="555.58">P</tspan><tspan x="561.42">S</tspan><tspan x="567.25">T</tspan><tspan x="573.08">S</tspan><tspan x="578.92">N</tspan><tspan x="584.75">E</tspan><tspan x="590.58">Q</tspan><tspan x="596.42">F</tspan><tspan x="602.25">F</tspan></text><circle cx="547.6" cy="492.55" r="1.2" fill="#e23a72"/><text x="457" y="504" font-size="7.5" fill="#231f20">Permutation <tspan font-style="italic">P</tspan> = 0.000</text></svg></body></html>
